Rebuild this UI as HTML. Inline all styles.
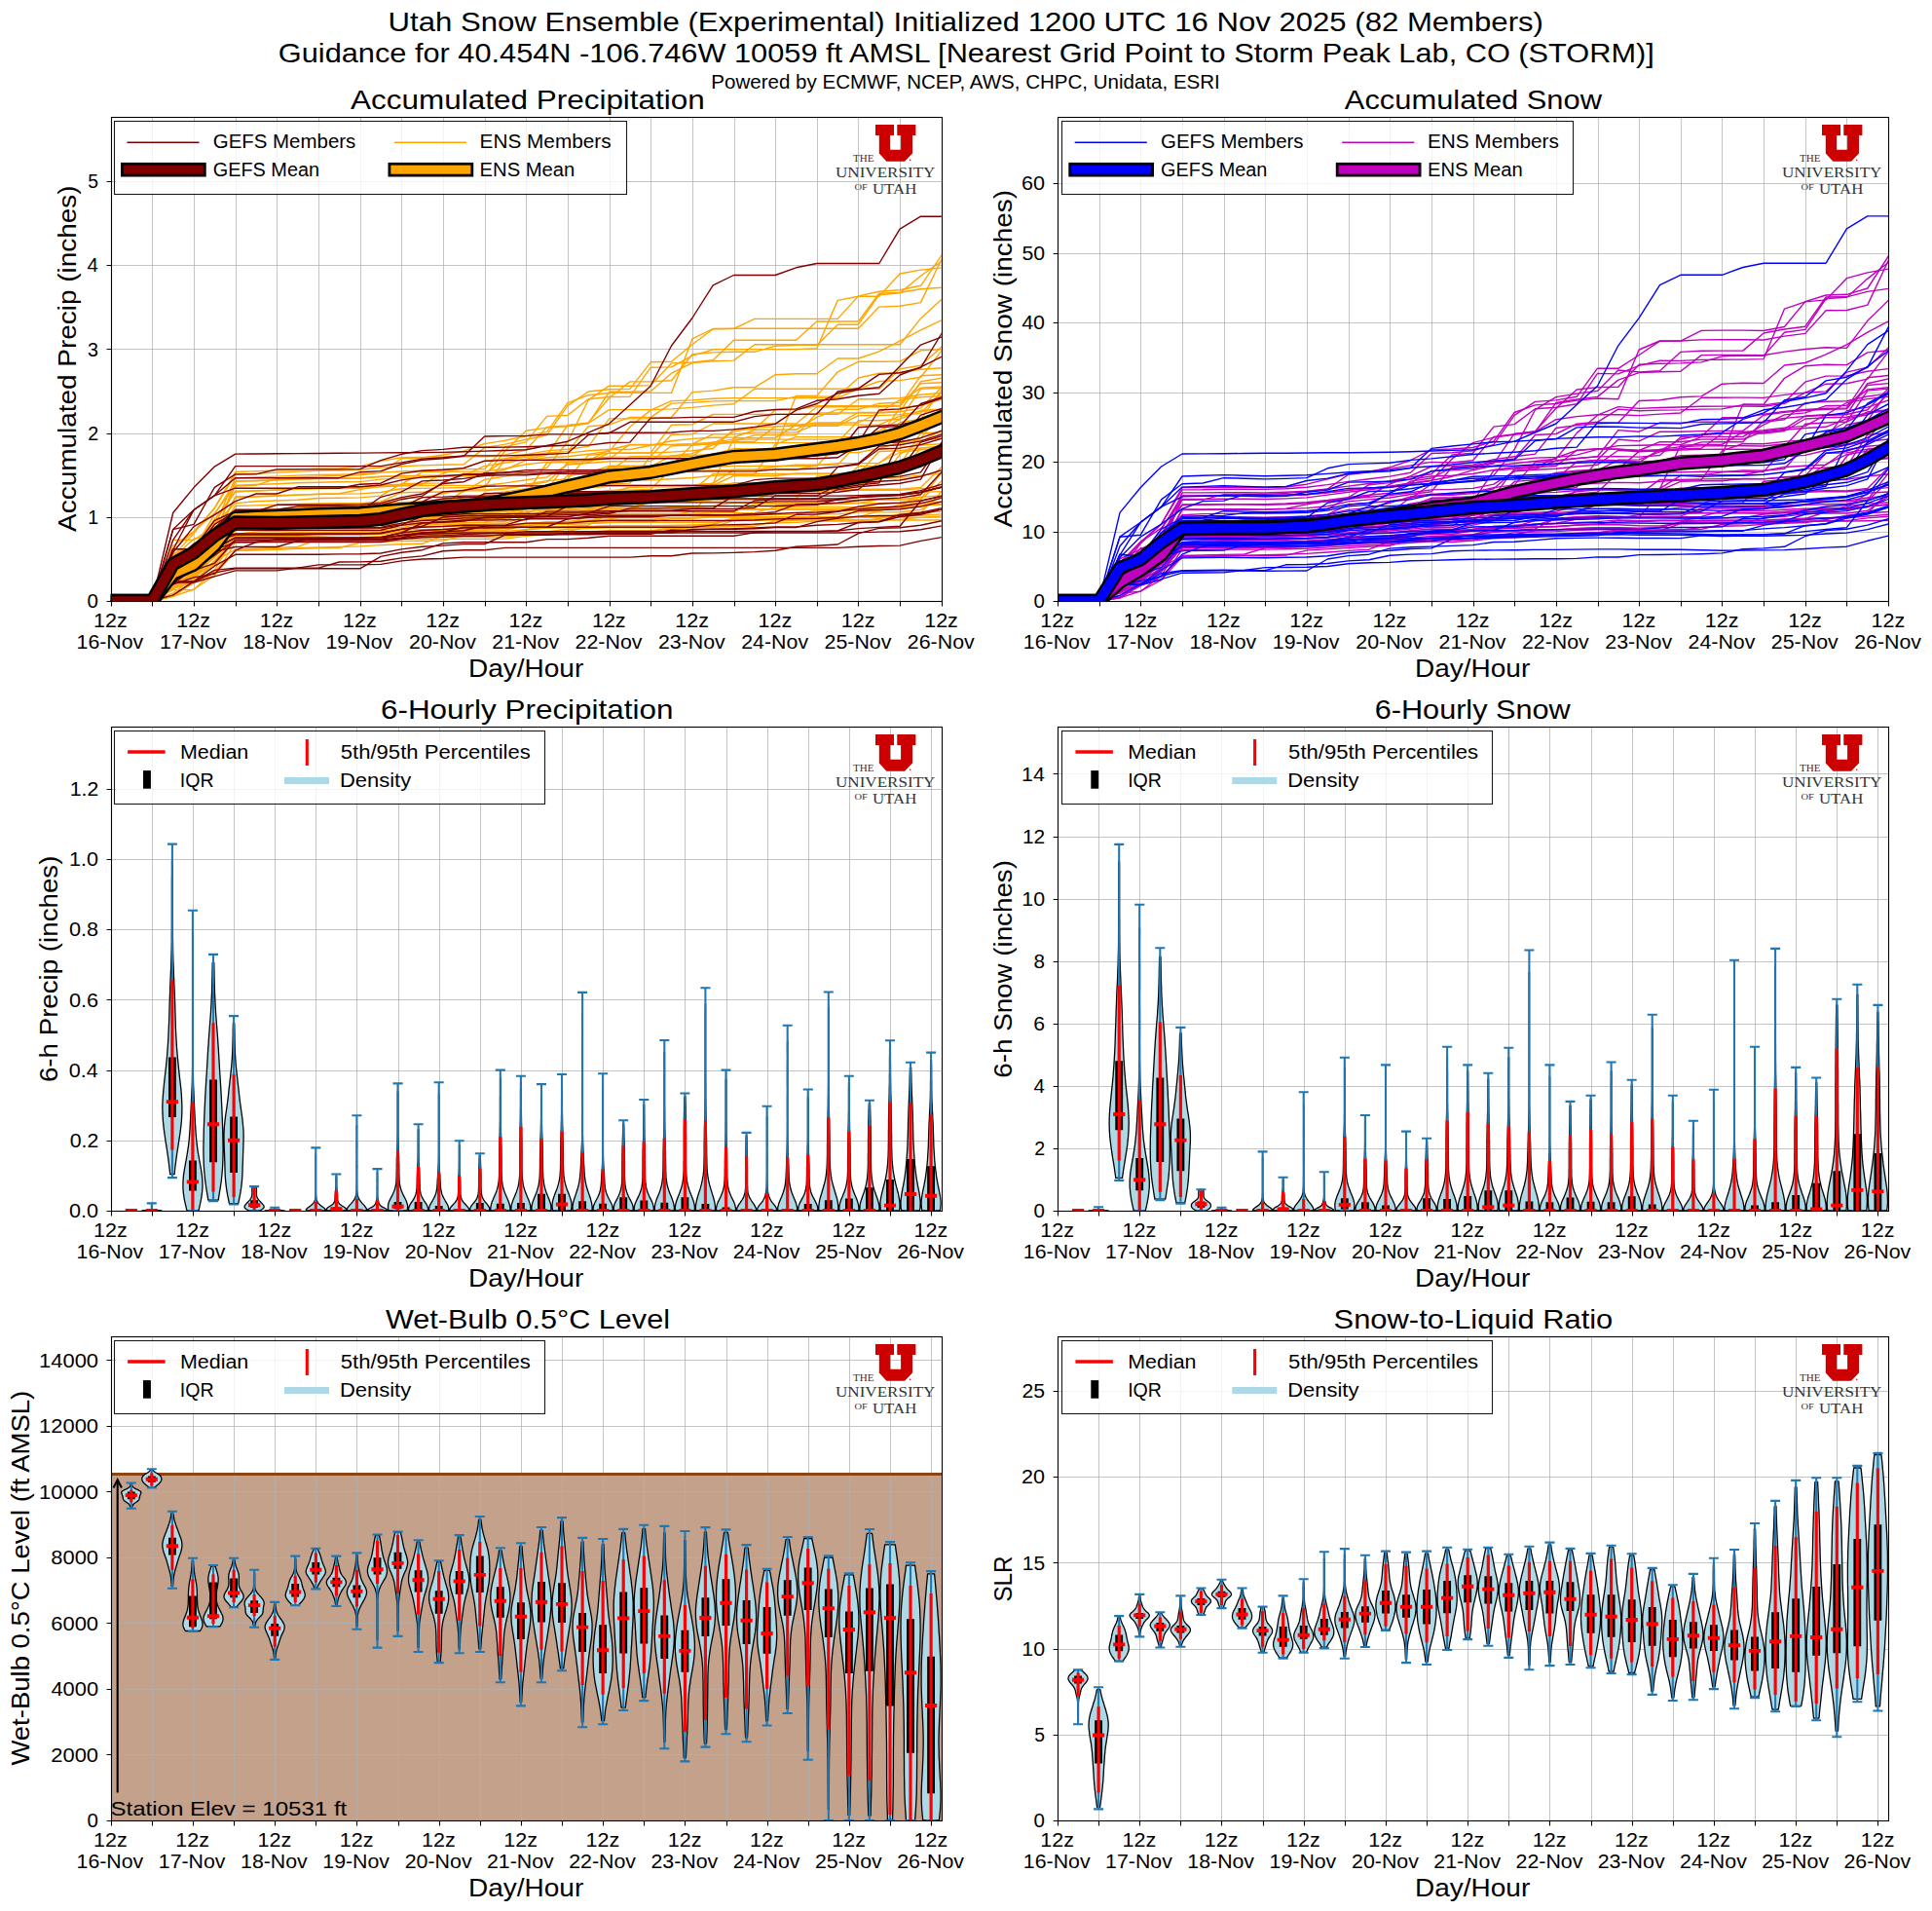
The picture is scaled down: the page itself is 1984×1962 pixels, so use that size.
<!DOCTYPE html>
<html><head><meta charset="utf-8"><title>Utah Snow Ensemble - Storm Peak Lab</title>
<style>html,body{margin:0;padding:0;background:#fff;}svg{display:block;}text{font-family:"Liberation Sans",sans-serif;}</style>
</head><body>
<svg xmlns="http://www.w3.org/2000/svg" width="1984" height="1962" viewBox="0 0 1984 1962" font-family="Liberation Sans, sans-serif">
<defs>
<clipPath id="c00"><rect x="113.7" y="120" width="853.1" height="497"/></clipPath>
<clipPath id="c10"><rect x="1086" y="120" width="853.1" height="497"/></clipPath>
<clipPath id="c01"><rect x="113.7" y="746" width="853.1" height="497"/></clipPath>
<clipPath id="c11"><rect x="1086" y="746" width="853.1" height="497"/></clipPath>
<clipPath id="c02"><rect x="113.7" y="1372" width="853.1" height="497"/></clipPath>
<clipPath id="c12"><rect x="1086" y="1372" width="853.1" height="497"/></clipPath>
<g id="gmemP">
<path d="M113.7 617L135 617L156.4 617L177.7 610.9L199 596.8L220.3 588.1L241.7 583.8L263 583.8L284.3 583.8L305.6 583.8L327 583.8L348.3 583.8L369.6 583.8L391 571.4L412.3 567.2L433.6 564.7L454.9 557.9L476.3 556.7L497.6 556.7L518.9 556.7L540.2 556.7L561.6 553.6L582.9 553.6L604.2 552.3L625.6 550.3L646.9 550.3L668.2 550.3L689.5 550.3L710.9 550.3L732.2 550.3L753.5 550.3L774.9 546.8L796.2 545.6L817.5 545.6L838.8 545.6L860.2 545L881.5 542.6L902.8 541.4L924.1 540.2L945.5 514.2L966.8 509.2"/>
<path d="M113.7 617L135 617L156.4 617L177.7 591.6L199 581L220.3 562.6L241.7 552.4L263 552.4L284.3 552.4L305.6 552.4L327 552.4L348.3 552.4L369.6 552.3L391 551.6L412.3 547.1L433.6 544.5L454.9 543.5L476.3 542L497.6 542L518.9 541.7L540.2 541.4L561.6 541L582.9 532.8L604.2 530.2L625.6 529.2L646.9 529.2L668.2 529.2L689.5 528.9L710.9 528.7L732.2 528.7L753.5 528.5L774.9 527.4L796.2 525.7L817.5 517.9L838.8 517.5L860.2 516.2L881.5 513.7L902.8 512.3L924.1 511.1L945.5 507.8L966.8 484.7"/>
<path d="M113.7 617L135 617L156.4 617L177.7 573.5L199 566.2L220.3 548.2L241.7 527.8L263 527.8L284.3 526.3L305.6 526.3L327 526.3L348.3 526.3L369.6 526.2L391 525.3L412.3 520.9L433.6 510.6L454.9 510.1L476.3 509.1L497.6 509.1L518.9 509.1L540.2 509.1L561.6 509.1L582.9 509.1L604.2 509.1L625.6 509.1L646.9 509.1L668.2 509.1L689.5 509.1L710.9 509.1L732.2 509.1L753.5 509.1L774.9 509.1L796.2 509.1L817.5 509.1L838.8 509.1L860.2 509.1L881.5 508.7L902.8 508L924.1 507.7L945.5 505.3L966.8 500.7"/>
<path d="M113.7 617L135 617L156.4 617L177.7 597.7L199 585.4L220.3 564L241.7 551.9L263 551.9L284.3 551.9L305.6 551.9L327 551.9L348.3 551.9L369.6 551.9L391 551.9L412.3 550L433.6 548.2L454.9 547.8L476.3 547L497.6 547L518.9 547L540.2 547L561.6 547L582.9 547L604.2 547L625.6 547L646.9 547L668.2 547L689.5 547L710.9 547L732.2 547L753.5 547L774.9 547L796.2 547L817.5 547L838.8 547L860.2 547L881.5 546.6L902.8 546.1L924.1 545.7L945.5 543.8L966.8 539.9"/>
<path d="M113.7 617L135 617L156.4 617L177.7 593.3L199 576.7L220.3 552.5L241.7 548L263 548L284.3 548L305.6 548L327 548L348.3 548L369.6 548L391 547.8L412.3 543.1L433.6 540.3L454.9 531L476.3 529.8L497.6 529.8L518.9 529.8L540.2 529.4L561.6 529.1L582.9 528.7L604.2 528.7L625.6 527.3L646.9 521.9L668.2 521.9L689.5 521.9L710.9 521.9L732.2 521.9L753.5 509.2L774.9 508.1L796.2 506.6L817.5 506.6L838.8 506.6L860.2 505.3L881.5 502.5L902.8 486.6L924.1 485.7L945.5 471.3L966.8 465.6"/>
<path d="M113.7 617L135 617L156.4 617L177.7 597L199 597L220.3 581.2L241.7 569.3L263 569.3L284.3 569.3L305.6 569.3L327 569.3L348.3 568.9L369.6 568.8L391 568L412.3 563.9L433.6 561.3L454.9 560.1L476.3 558.6L497.6 558.6L518.9 549.2L540.2 549.2L561.6 549.2L582.9 547.5L604.2 547.5L625.6 547L646.9 547L668.2 547L689.5 547L710.9 543.4L732.2 543.4L753.5 543.4L774.9 542.7L796.2 541.6L817.5 541.6L838.8 535.6L860.2 532.1L881.5 530.1L902.8 529.5L924.1 529.2L945.5 527L966.8 522.9"/>
<path d="M113.7 617L135 617L156.4 617L177.7 563.8L199 563.8L220.3 542.1L241.7 523.3L263 523.3L284.3 523.3L305.6 519.9L327 519.9L348.3 519.9L369.6 519.8L391 518.6L412.3 512.7L433.6 509.1L454.9 495.3L476.3 487L497.6 486.9L518.9 484.9L540.2 484.9L561.6 484.9L582.9 484.9L604.2 484.9L625.6 483.9L646.9 483.9L668.2 481.3L689.5 481.3L710.9 481.1L732.2 475L753.5 474.3L774.9 473L796.2 461L817.5 461L838.8 461L860.2 458.6L881.5 454.7L902.8 421L924.1 419.9L945.5 416L966.8 408.9"/>
<path d="M113.7 617L135 617L156.4 617L177.7 582.1L199 572.4L220.3 554L241.7 544.4L263 544.4L284.3 544.4L305.6 544.4L327 544.4L348.3 544.4L369.6 544.4L391 544.3L412.3 539.4L433.6 536.6L454.9 535.6L476.3 534L497.6 534L518.9 533.8L540.2 533.5L561.6 525.1L582.9 525.1L604.2 525.1L625.6 524.8L646.9 524.8L668.2 524.8L689.5 524.8L710.9 524.8L732.2 524.8L753.5 524.8L774.9 514L796.2 512.5L817.5 512.5L838.8 512.3L860.2 502.6L881.5 499.8L902.8 498L924.1 496.3L945.5 492.1L966.8 454.3"/>
<path d="M113.7 617L135 617L156.4 617L177.7 564.5L199 523.5L220.3 508.8L241.7 501.2L263 501.2L284.3 501.2L305.6 501.2L327 501.2L348.3 501.2L369.6 497.3L391 496.2L412.3 486.1L433.6 483.2L454.9 482.3L476.3 480.6L497.6 473.2L518.9 472.6L540.2 472.4L561.6 472.2L582.9 471.8L604.2 471.8L625.6 470.8L646.9 470.8L668.2 470.8L689.5 470.8L710.9 470.8L732.2 470.8L753.5 470.8L774.9 470.8L796.2 470.8L817.5 470.8L838.8 470.8L860.2 469.8L881.5 456.3L902.8 455L924.1 453.7L945.5 449.6L966.8 442.4"/>
<path d="M113.7 617L135 617L156.4 617L177.7 599.3L199 584.3L220.3 570.2L241.7 554.8L263 554.8L284.3 554.8L305.6 554.8L327 554.8L348.3 554.8L369.6 554.8L391 554.8L412.3 552.8L433.6 550.1L454.9 549.6L476.3 548.6L497.6 547.8L518.9 547.4L540.2 545.6L561.6 545.6L582.9 545.6L604.2 545.6L625.6 545.5L646.9 545.5L668.2 545.5L689.5 545.5L710.9 545.5L732.2 545.5L753.5 545.5L774.9 545.5L796.2 545.5L817.5 545.5L838.8 545.5L860.2 544.9L881.5 536.5L902.8 535.7L924.1 530.5L945.5 528.2L966.8 523.2"/>
<path d="M113.7 617L135 617L156.4 617L177.7 577.6L199 569.1L220.3 547.5L241.7 528.8L263 528.8L284.3 528.8L305.6 528.8L327 528.8L348.3 528.8L369.6 528.8L391 528.8L412.3 525.2L433.6 522.2L454.9 521L476.3 519.1L497.6 506.6L518.9 506.2L540.2 504.7L561.6 504.7L582.9 504.7L604.2 504.7L625.6 504.6L646.9 504.6L668.2 504.6L689.5 504.6L710.9 504.6L732.2 504.6L753.5 504.6L774.9 501.3L796.2 499.8L817.5 499.8L838.8 496.7L860.2 495.4L881.5 492.6L902.8 490.8L924.1 489.1L945.5 484.9L966.8 455.8"/>
<path d="M113.7 617L135 617L156.4 617L177.7 588L199 576.9L220.3 564.2L241.7 556.8L263 556.8L284.3 553.8L305.6 553.8L327 553.8L348.3 553.8L369.6 553.8L391 553.3L412.3 549.2L433.6 546.9L454.9 546L476.3 544.7L497.6 540L518.9 539.7L540.2 537.1L561.6 537.1L582.9 537.1L604.2 535.3L625.6 534.5L646.9 534.5L668.2 534.5L689.5 534.5L710.9 534.5L732.2 534.5L753.5 534.5L774.9 534L796.2 532.9L817.5 532.5L838.8 532.2L860.2 531.2L881.5 524.3L902.8 523.5L924.1 522.8L945.5 520.1L966.8 515.1"/>
<path d="M113.7 617L135 617L156.4 617L177.7 597.4L199 597.4L220.3 585.4L241.7 583.1L263 583.1L284.3 583.1L305.6 583.1L327 583.1L348.3 577L369.6 576.9L391 576.3L412.3 572.9L433.6 570.9L454.9 565.7L476.3 564.8L497.6 564.8L518.9 562.4L540.2 562.4L561.6 562.4L582.9 562.4L604.2 562.4L625.6 562.4L646.9 562.4L668.2 562.4L689.5 562.4L710.9 562.4L732.2 562.4L753.5 562.4L774.9 562.4L796.2 562.4L817.5 562.4L838.8 562.4L860.2 562.4L881.5 561.3L902.8 560.5L924.1 560.1L945.5 555.4L966.8 551.7"/>
<path d="M113.7 617L135 617L156.4 617L177.7 572.9L199 565.5L220.3 543.5L241.7 525.4L263 525.4L284.3 525.4L305.6 525.4L327 525.4L348.3 525.4L369.6 525.4L391 510.3L412.3 504.8L433.6 493.9L454.9 493L476.3 491.4L497.6 488.4L518.9 487.9L540.2 487.9L561.6 486.4L582.9 486.4L604.2 486.4L625.6 485.5L646.9 481.3L668.2 481.3L689.5 481.3L710.9 481.3L732.2 472.8L753.5 472.2L774.9 471L796.2 469L817.5 469L838.8 468L860.2 465.8L881.5 438.8L902.8 437.3L924.1 435.9L945.5 431.6L966.8 424.1"/>
<path d="M113.7 617L135 617L156.4 617L177.7 581L199 572.6L220.3 548.3L241.7 534.2L263 534.2L284.3 534.2L305.6 534.2L327 534.2L348.3 534.2L369.6 534.2L391 534L412.3 529L433.6 517.7L454.9 516.9L476.3 515.3L497.6 515.3L518.9 515.2L540.2 506.1L561.6 506.1L582.9 506.1L604.2 506.1L625.6 505.9L646.9 505.9L668.2 505.9L689.5 505.9L710.9 505.9L732.2 505.9L753.5 505.9L774.9 505.9L796.2 504.6L817.5 504.3L838.8 502.7L860.2 479.6L881.5 476.7L902.8 461L924.1 460.1L945.5 456.6L966.8 450.4"/>
<path d="M113.7 617L135 617L156.4 617L177.7 595.8L199 585.7L220.3 578.3L241.7 554.2L263 554.2L284.3 554.2L305.6 554.2L327 554.2L348.3 554.2L369.6 554.2L391 554.2L412.3 552L433.6 547L454.9 546.3L476.3 541.2L497.6 541.2L518.9 541.2L540.2 541.2L561.6 541.2L582.9 541.2L604.2 541.2L625.6 541.2L646.9 541.2L668.2 541.2L689.5 541.2L710.9 541.2L732.2 539.1L753.5 538.8L774.9 538.1L796.2 536.9L817.5 528.3L838.8 528.1L860.2 525.3L881.5 520.1L902.8 517.2L924.1 516.4L945.5 514.1L966.8 509.7"/>
<path d="M113.7 617L135 617L156.4 617L177.7 584L199 578.1L220.3 556L241.7 549L263 549L284.3 549L305.6 549L327 548.2L348.3 548.1L369.6 547.9L391 547.3L412.3 543.4L433.6 541.2L454.9 540.5L476.3 539.2L497.6 539.2L518.9 539.2L540.2 532.7L561.6 532.7L582.9 532.7L604.2 531.6L625.6 530.7L646.9 530.7L668.2 530.7L689.5 529.2L710.9 529L732.2 529L753.5 529L774.9 528.7L796.2 527.5L817.5 526.4L838.8 526L860.2 525L881.5 522.6L902.8 521.2L924.1 520L945.5 516.8L966.8 511.4"/>
<path d="M113.7 617L135 617L156.4 617L177.7 598L199 598L220.3 591.9L241.7 585.9L263 585.9L284.3 585.9L305.6 583.1L327 579.9L348.3 579.9L369.6 579.9L391 579.4L412.3 575.9L433.6 574L454.9 573.5L476.3 572.1L497.6 572.1L518.9 572.1L540.2 572.1L561.6 572.1L582.9 572.1L604.2 572.1L625.6 572.1L646.9 572.1L668.2 570.7L689.5 570.7L710.9 568L732.2 567.9L753.5 567.4L774.9 566.6L796.2 565.3L817.5 561.2L838.8 560.3L860.2 559L881.5 547.7L902.8 542.4L924.1 541.8L945.5 539.3L966.8 534.8"/>
<path d="M113.7 617L135 617L156.4 617L177.7 583.6L199 576.5L220.3 566.4L241.7 561.5L263 561.5L284.3 561.5L305.6 555.3L327 552.8L348.3 552.6L369.6 552.5L391 551.6L412.3 547L433.6 537L454.9 536.2L476.3 535L497.6 531.3L518.9 530.9L540.2 530.8L561.6 530.8L582.9 530.7L604.2 527L625.6 526L646.9 524.2L668.2 524.2L689.5 524.2L710.9 522.4L732.2 522.4L753.5 522.4L774.9 521.2L796.2 509L817.5 509L838.8 509L860.2 498.1L881.5 495.7L902.8 494.3L924.1 493L945.5 489.2L966.8 482.9"/>
<path d="M113.7 617L135 617L156.4 617L177.7 575.1L199 567.3L220.3 538.4L241.7 525.7L263 525.7L284.3 524.9L305.6 524.9L327 524.9L348.3 524.9L369.6 524L391 523.2L412.3 518.1L433.6 515.1L454.9 504.9L476.3 503.5L497.6 499.3L518.9 498.9L540.2 498.9L561.6 498.9L582.9 498.9L604.2 498.9L625.6 498.4L646.9 498.4L668.2 498.4L689.5 498.4L710.9 498.4L732.2 498.4L753.5 498.4L774.9 492.6L796.2 491.1L817.5 491.1L838.8 491.1L860.2 489.6L881.5 486.5L902.8 484.5L924.1 482.6L945.5 454.1L966.8 447.9"/>
<path d="M113.7 617L135 617L156.4 617L177.7 586.8L199 578.1L220.3 551.4L241.7 542L263 542L284.3 542L305.6 542L327 542L348.3 542L369.6 542L391 542L412.3 538.9L433.6 530.1L454.9 529.2L476.3 527.8L497.6 527.8L518.9 527.8L540.2 527.5L561.6 527.2L582.9 526.9L604.2 526.9L625.6 519.6L646.9 519.6L668.2 519.6L689.5 519.6L710.9 519.6L732.2 519.6L753.5 519.6L774.9 519.6L796.2 519.5L817.5 518.7L838.8 518.4L860.2 512.5L881.5 510.4L902.8 509.3L924.1 508.3L945.5 505.4L966.8 499.9"/>
<path d="M113.7 617L135 617L156.4 617L177.7 543.6L199 538.3L220.3 500.4L241.7 486.9L263 486.9L284.3 481.9L305.6 481.9L327 481.9L348.3 481.9L369.6 481.6L391 472.7L412.3 466.3L433.6 462.6L454.9 461.4L476.3 459.3L497.6 459.3L518.9 459.1L540.2 458.7L561.6 458L582.9 457.3L604.2 457.1L625.6 454.5L646.9 454.1L668.2 429.1L689.5 429.1L710.9 428.4L732.2 428.4L753.5 428.4L774.9 422.5L796.2 420.5L817.5 419.9L838.8 411.3L860.2 409.8L881.5 406.2L902.8 404.3L924.1 385L945.5 376.8L966.8 366.3"/>
<path d="M113.7 617L135 617L156.4 617L177.7 554.4L199 523.5L220.3 508.8L241.7 490.7L263 490.7L284.3 490.7L305.6 490.7L327 490.7L348.3 490.7L369.6 484.7L391 483.6L412.3 476.5L433.6 472.3L454.9 470.7L476.3 468.3L497.6 448L518.9 447.6L540.2 447.6L561.6 445.9L582.9 445.9L604.2 445.9L625.6 444.7L646.9 433.3L668.2 433.3L689.5 433.3L710.9 433.3L732.2 433.3L753.5 433.2L774.9 427.6L796.2 425.4L817.5 425.4L838.8 425L860.2 402L881.5 398.8L902.8 384.4L924.1 382.8L945.5 377.6L966.8 342.6"/>
<path d="M113.7 617L135 617L156.4 617L177.7 563.6L199 563.6L220.3 534.3L241.7 525L263 525L284.3 518.3L305.6 518.3L327 518.3L348.3 518.2L369.6 517.9L391 516.7L412.3 510.6L433.6 507L454.9 496.5L476.3 494.7L497.6 485.7L518.9 485.2L540.2 482.6L561.6 482.6L582.9 482.6L604.2 482.6L625.6 482.1L646.9 482.1L668.2 482.1L689.5 482.1L710.9 482.1L732.2 474.5L753.5 473.7L774.9 472.2L796.2 470.1L817.5 461.1L838.8 460.5L860.2 459.1L881.5 456L902.8 438.6L924.1 437.5L945.5 414.5L966.8 407.9"/>
<path d="M113.7 617L135 617L156.4 617L177.7 584.7L199 572.7L220.3 560.1L241.7 541.8L263 541.8L284.3 541.8L305.6 541.8L327 541.8L348.3 541.8L369.6 541.8L391 541.4L412.3 537.1L433.6 534.5L454.9 533.5L476.3 531.9L497.6 531.9L518.9 531.5L540.2 531L561.6 530.4L582.9 519.4L604.2 519.4L625.6 515.9L646.9 515.9L668.2 515.9L689.5 515.9L710.9 515.9L732.2 515.9L753.5 515.9L774.9 515.9L796.2 514.9L817.5 514.9L838.8 514.7L860.2 513.3L881.5 510.5L902.8 508.9L924.1 507.4L945.5 503.6L966.8 497.4"/>
<path d="M113.7 617L135 617L156.4 617L177.7 543.5L199 523.5L220.3 508.8L241.7 478.6L263 478.6L284.3 478.6L305.6 478.6L327 478.6L348.3 478.6L369.6 478.6L391 478.6L412.3 474.9L433.6 471.1L454.9 469.8L476.3 467.9L497.6 467.9L518.9 467.9L540.2 467.3L561.6 466.4L582.9 465.4L604.2 446.4L625.6 444.2L646.9 444.2L668.2 444.2L689.5 444L710.9 442.4L732.2 442.4L753.5 440.9L774.9 438.4L796.2 435.2L817.5 421.1L838.8 414.5L860.2 403.8L881.5 400L902.8 397.7L924.1 376.1L945.5 354.1L966.8 346.1"/>
<path d="M113.7 617L135 617L156.4 617L177.7 600L199 592.9L220.3 589.1L241.7 565.2L263 556.5L284.3 556.5L305.6 556.5L327 556.5L348.3 556.5L369.6 556.5L391 556.5L412.3 553.6L433.6 551.7L454.9 551.2L476.3 550.3L497.6 550.3L518.9 548.7L540.2 548.7L561.6 548.7L582.9 548.7L604.2 548.7L625.6 548.2L646.9 548.2L668.2 548.2L689.5 544.2L710.9 544L732.2 543.1L753.5 542.8L774.9 542L796.2 541L817.5 541L838.8 539.3L860.2 538.4L881.5 536.5L902.8 535.5L924.1 528.4L945.5 526.1L966.8 521.7"/>
<path d="M113.7 617L135 617L156.4 617L177.7 567.2L199 540.6L220.3 528.7L241.7 514.7L263 507L284.3 507L305.6 499.8L327 499.8L348.3 499.7L369.6 499.7L391 498L412.3 492.9L433.6 489.9L454.9 488.8L476.3 487.2L497.6 487.2L518.9 487.1L540.2 487.1L561.6 485.9L582.9 484.2L604.2 484.2L625.6 483.9L646.9 483.9L668.2 483.9L689.5 483.9L710.9 483.9L732.2 483.9L753.5 483.9L774.9 483.9L796.2 481.9L817.5 481.9L838.8 481L860.2 479.2L881.5 475.9L902.8 458.1L924.1 456.8L945.5 452.9L966.8 446"/>
<path d="M113.7 617L135 617L156.4 617L177.7 576.8L199 558.3L220.3 545L241.7 529.4L263 529.4L284.3 529.4L305.6 529.4L327 529.4L348.3 529.4L369.6 529.4L391 529.4L412.3 524.5L433.6 515.7L454.9 512L476.3 510.5L497.6 510.5L518.9 510.5L540.2 510.5L561.6 506.2L582.9 506.2L604.2 506.2L625.6 505.7L646.9 505.1L668.2 505.1L689.5 505.1L710.9 505.1L732.2 505.1L753.5 505.1L774.9 505.1L796.2 503.4L817.5 503.4L838.8 503.2L860.2 501.4L881.5 498L902.8 495.9L924.1 452.2L945.5 426.1L966.8 419.5"/>
<path d="M113.7 617L135 617L156.4 617L177.7 577L199 564.7L220.3 545.7L241.7 529.3L263 529.3L284.3 529.3L305.6 529.3L327 529.3L348.3 529.3L369.6 529.3L391 529.3L412.3 526.9L433.6 517.6L454.9 514.4L476.3 513.3L497.6 513.3L518.9 513.3L540.2 512.1L561.6 512.1L582.9 512.1L604.2 512.1L625.6 512L646.9 512L668.2 512L689.5 512L710.9 512L732.2 512L753.5 512L774.9 512L796.2 512L817.5 512L838.8 512L860.2 512L881.5 510.6L902.8 509.6L924.1 508.6L945.5 505.5L966.8 500"/>
<path d="M113.7 617L135 617L156.4 617L177.7 526.5L199 500.6L220.3 479.1L241.7 466.1L263 466L284.3 465.8L305.6 465.6L327 465.5L348.3 465.3L369.6 465.1L391 464.9L412.3 464.8L433.6 464.6L454.9 464.4L476.3 463.8L497.6 463.1L518.9 462.5L540.2 461.8L561.6 457.5L582.9 453.2L604.2 444.2L625.6 435.1L646.9 415.7L668.2 396.3L689.5 355L710.9 326.5L732.2 292.9L753.5 282.5L774.9 282.5L796.2 282.5L817.5 274.8L838.8 270.5L860.2 270.5L881.5 270.5L902.8 270.5L924.1 235.1L945.5 222.2L966.8 222.2"/>
</g>
<g id="ememP">
<path d="M113.7 617L135 617L156.4 617L177.7 593.1L199 589.3L220.3 566.7L241.7 542L263 541.4L284.3 540.6L305.6 539.7L327 539.1L348.3 535L369.6 534.8L391 533.5L412.3 532.8L433.6 530.2L454.9 530L476.3 530L497.6 526L518.9 524L540.2 521.3L561.6 519.1L582.9 513.4L604.2 512.2L625.6 508.3L646.9 508.3L668.2 508.3L689.5 508.3L710.9 500.7L732.2 499.7L753.5 499.2L774.9 499.2L796.2 499.2L817.5 499.2L838.8 499.2L860.2 499.1L881.5 478.6L902.8 478.6L924.1 477.2L945.5 444.8L966.8 443.9"/>
<path d="M113.7 617L135 617L156.4 617L177.7 585.5L199 572.6L220.3 555.3L241.7 532L263 529.2L284.3 528.5L305.6 527.7L327 526.6L348.3 526.3L369.6 525.4L391 523L412.3 522.2L433.6 521.8L454.9 516.6L476.3 516.6L497.6 516.6L518.9 515.3L540.2 511.9L561.6 498.2L582.9 497.5L604.2 495.7L625.6 493.7L646.9 493.4L668.2 492.8L689.5 491.8L710.9 490.5L732.2 488.4L753.5 487.2L774.9 487.2L796.2 456.2L817.5 448.6L838.8 448.6L860.2 448.6L881.5 448.6L902.8 448.6L924.1 418.8L945.5 416.4L966.8 410.1"/>
<path d="M113.7 617L135 617L156.4 617L177.7 598.6L199 589.5L220.3 571.6L241.7 550.1L263 549.7L284.3 549.3L305.6 548.7L327 548.4L348.3 548.2L369.6 548.1L391 547.2L412.3 546.7L433.6 546.6L454.9 546.4L476.3 546.4L497.6 544L518.9 542.5L540.2 539.7L561.6 538.2L582.9 538L604.2 537.2L625.6 536.4L646.9 536.4L668.2 536.4L689.5 536.4L710.9 536.4L732.2 536.4L753.5 533.6L774.9 533.6L796.2 533.6L817.5 533.6L838.8 533.6L860.2 533.6L881.5 533.6L902.8 533.6L924.1 533.4L945.5 531.2L966.8 530"/>
<path d="M113.7 617L135 617L156.4 617L177.7 612.4L199 597.6L220.3 576L241.7 564.1L263 563.3L284.3 562.3L305.6 561.4L327 553.5L348.3 553.1L369.6 552.9L391 551.7L412.3 551L433.6 548.1L454.9 547.9L476.3 547.9L497.6 547.9L518.9 546.8L540.2 544.1L561.6 541.8L582.9 540.8L604.2 539.2L625.6 527.5L646.9 527.5L668.2 527.5L689.5 527.5L710.9 527.2L732.2 526.1L753.5 525.7L774.9 517.9L796.2 517.9L817.5 517.9L838.8 517.9L860.2 517.9L881.5 516.6L902.8 516.6L924.1 515.8L945.5 513.1L966.8 494"/>
<path d="M113.7 617L135 617L156.4 617L177.7 560.5L199 545.6L220.3 521.7L241.7 487.3L263 486.4L284.3 485.1L305.6 484.1L327 483.3L348.3 482.8L369.6 482.3L391 480L412.3 478.7L433.6 477.9L454.9 477.2L476.3 476.8L497.6 459.6L518.9 456.1L540.2 451.2L561.6 446.8L582.9 416.6L604.2 402L625.6 399.7L646.9 399.4L668.2 371.8L689.5 371.2L710.9 353.7L732.2 337.7L753.5 337.5L774.9 327.4L796.2 327.4L817.5 327.4L838.8 327.4L860.2 327.4L881.5 303.9L902.8 299.2L924.1 297.8L945.5 293.3L966.8 262.1"/>
<path d="M113.7 617L135 617L156.4 617L177.7 590L199 584L220.3 563.6L241.7 535.9L263 535.5L284.3 534.9L305.6 534.2L327 533.8L348.3 533.6L369.6 533.4L391 531.2L412.3 530.6L433.6 530.2L454.9 529.9L476.3 529.9L497.6 529.9L518.9 528.5L540.2 525.5L561.6 523L582.9 522L604.2 515.7L625.6 514.7L646.9 514.7L668.2 514.7L689.5 513.8L710.9 512.6L732.2 511.8L753.5 511.8L774.9 511.8L796.2 511.8L817.5 511.8L838.8 488.9L860.2 488.9L881.5 488.9L902.8 475L924.1 464.5L945.5 461.8L966.8 460.1"/>
<path d="M113.7 617L135 617L156.4 617L177.7 585.6L199 578.2L220.3 553.6L241.7 528.9L263 528.4L284.3 527.7L305.6 526.9L327 525.7L348.3 524.3L369.6 524.1L391 522.7L412.3 519.9L433.6 519.3L454.9 518.7L476.3 518.4L497.6 518.4L518.9 515.9L540.2 512L561.6 508.4L582.9 488.2L604.2 486.4L625.6 484.5L646.9 468.9L668.2 468.9L689.5 468.9L710.9 468.5L732.2 454.1L753.5 451.1L774.9 451.1L796.2 451.1L817.5 451.1L838.8 451.1L860.2 451.1L881.5 451.1L902.8 442.4L924.1 430.4L945.5 421.3L966.8 420.1"/>
<path d="M113.7 617L135 617L156.4 617L177.7 592.4L199 578.1L220.3 562.1L241.7 539L263 538.3L284.3 537.5L305.6 536.6L327 536L348.3 535.2L369.6 534.5L391 532.7L412.3 531.4L433.6 530.5L454.9 529.6L476.3 529L497.6 507.9L518.9 505.8L540.2 502.9L561.6 500.6L582.9 499.7L604.2 487.9L625.6 481L646.9 481L668.2 481L689.5 481L710.9 475L732.2 473.8L753.5 473.6L774.9 473.6L796.2 473.6L817.5 464.6L838.8 464.6L860.2 464.6L881.5 464.6L902.8 460.3L924.1 454.5L945.5 451.9L966.8 450.4"/>
<path d="M113.7 617L135 617L156.4 617L177.7 581.1L199 572.4L220.3 545.9L241.7 524.7L263 524.1L284.3 523.4L305.6 520.6L327 519.7L348.3 519.4L369.6 518.2L391 516.8L412.3 515.8L433.6 515L454.9 514.2L476.3 513.6L497.6 513.6L518.9 510.6L540.2 506.6L561.6 503.1L582.9 474.4L604.2 472.8L625.6 461.8L646.9 456.8L668.2 456.8L689.5 456.6L710.9 455.8L732.2 454.3L753.5 453.5L774.9 453.5L796.2 437.9L817.5 437.4L838.8 437.4L860.2 437.4L881.5 426.6L902.8 426.6L924.1 425.6L945.5 422.6L966.8 420.8"/>
<path d="M113.7 617L135 617L156.4 617L177.7 564.9L199 545.8L220.3 526.8L241.7 499.1L263 498.2L284.3 491.3L305.6 490L327 489.1L348.3 488.3L369.6 487.7L391 485.2L412.3 470.7L433.6 470.3L454.9 467L476.3 463.1L497.6 455.5L518.9 452.2L540.2 447.6L561.6 443.4L582.9 413.7L604.2 405.7L625.6 403.5L646.9 403.4L668.2 403.4L689.5 403.4L710.9 347.9L732.2 337.5L753.5 337.3L774.9 337.3L796.2 337.3L817.5 337.3L838.8 337.3L860.2 337.3L881.5 337.3L902.8 315.1L924.1 314.2L945.5 310.6L966.8 266.4"/>
<path d="M113.7 617L135 617L156.4 617L177.7 580.2L199 575L220.3 551.6L241.7 519.5L263 518.9L284.3 518.2L305.6 517.5L327 517L348.3 516.7L369.6 516.6L391 515.1L412.3 511.4L433.6 511L454.9 506.9L476.3 502.9L497.6 502.9L518.9 501L540.2 497.1L561.6 493.6L582.9 491.8L604.2 467.4L625.6 465.4L646.9 465.4L668.2 464.8L689.5 436.3L710.9 435.7L732.2 425.5L753.5 425.4L774.9 425.4L796.2 425.4L817.5 425.4L838.8 425.4L860.2 425.4L881.5 409.8L902.8 409.8L924.1 408.8L945.5 405.3L966.8 403.4"/>
<path d="M113.7 617L135 617L156.4 617L177.7 581.1L199 569L220.3 549.9L241.7 494.2L263 493.7L284.3 492.9L305.6 492L327 491.5L348.3 491.2L369.6 491L391 489.5L412.3 488.8L433.6 488.6L454.9 488.5L476.3 488.5L497.6 488.5L518.9 482L540.2 472.6L561.6 469.7L582.9 468.7L604.2 466.2L625.6 463.4L646.9 438.2L668.2 421.1L689.5 411.6L710.9 410.9L732.2 409.2L753.5 408.6L774.9 408.6L796.2 408.6L817.5 408.6L838.8 408.6L860.2 408.6L881.5 399.2L902.8 391.5L924.1 390.6L945.5 387.2L966.8 360.4"/>
<path d="M113.7 617L135 617L156.4 617L177.7 574.3L199 564.2L220.3 528.1L241.7 494.1L263 493.5L284.3 492.7L305.6 491.8L327 491.4L348.3 491L369.6 490.8L391 489.3L412.3 488.6L433.6 488.3L454.9 488.1L476.3 488.1L497.6 478.4L518.9 475.3L540.2 471.2L561.6 467.3L582.9 436.5L604.2 434.5L625.6 420.6L646.9 420.6L668.2 420.6L689.5 419.9L710.9 418.4L732.2 416.1L753.5 414.8L774.9 399.3L796.2 399.3L817.5 399.3L838.8 399.3L860.2 399.3L881.5 399.3L902.8 399.3L924.1 378.7L945.5 375.2L966.8 356.3"/>
<path d="M113.7 617L135 617L156.4 617L177.7 603.5L199 595.7L220.3 580.9L241.7 553.8L263 553.5L284.3 552.9L305.6 552.4L327 552.1L348.3 551.8L369.6 551.7L391 550.7L412.3 550.2L433.6 550.1L454.9 550L476.3 550L497.6 550L518.9 549.7L540.2 547.5L561.6 545.7L582.9 545.4L604.2 541L625.6 539.9L646.9 539.9L668.2 539.9L689.5 539.9L710.9 539.5L732.2 538.4L753.5 532.5L774.9 532.5L796.2 532.5L817.5 532.5L838.8 532.5L860.2 532.5L881.5 531L902.8 530.9L924.1 529.5L945.5 526.4L966.8 505.1"/>
<path d="M113.7 617L135 617L156.4 617L177.7 593.9L199 587.5L220.3 568.6L241.7 542.7L263 542.3L284.3 541L305.6 540.2L327 539.7L348.3 539.3L369.6 538.9L391 533.9L412.3 533.2L433.6 532.8L454.9 532.5L476.3 532.4L497.6 532.4L518.9 530.7L540.2 527.7L561.6 516.5L582.9 512.1L604.2 510.9L625.6 504.1L646.9 504.1L668.2 504.1L689.5 504.1L710.9 504.1L732.2 497.1L753.5 497L774.9 497L796.2 497L817.5 497L838.8 491.8L860.2 491.8L881.5 491.8L902.8 491.8L924.1 473.3L945.5 471L966.8 469.5"/>
<path d="M113.7 617L135 617L156.4 617L177.7 587.1L199 582.4L220.3 558.3L241.7 534.9L263 533.4L284.3 532.8L305.6 532L327 530.3L348.3 530L369.6 529.5L391 527L412.3 526.4L433.6 523.3L454.9 523.1L476.3 519.3L497.6 519.3L518.9 518.2L540.2 515.4L561.6 508.6L582.9 508.1L604.2 506.7L625.6 505.1L646.9 505.1L668.2 504.9L689.5 504.2L710.9 503.2L732.2 486.6L753.5 486.5L774.9 486.5L796.2 486.5L817.5 486.5L838.8 486.5L860.2 486.5L881.5 486.5L902.8 463.5L924.1 462.7L945.5 460L966.8 458.3"/>
<path d="M113.7 617L135 617L156.4 617L177.7 586.2L199 579L220.3 553.7L241.7 534.1L263 531.9L284.3 531L305.6 528.5L327 527.9L348.3 525.6L369.6 525.3L391 523.6L412.3 522.6L433.6 517.1L454.9 516.9L476.3 512.2L497.6 512.2L518.9 510.4L540.2 506.5L561.6 503.2L582.9 501.8L604.2 499.3L625.6 496.8L646.9 496.1L668.2 468.4L689.5 468.3L710.9 467.8L732.2 466.4L753.5 460.6L774.9 460.6L796.2 460.6L817.5 406.4L838.8 406.4L860.2 381.8L881.5 371.3L902.8 371.3L924.1 371.1L945.5 359.8L966.8 358.9"/>
<path d="M113.7 617L135 617L156.4 617L177.7 599.9L199 589.4L220.3 570.9L241.7 543.9L263 543.5L284.3 543L305.6 542.3L327 540.7L348.3 540.5L369.6 540.3L391 539.3L412.3 538.8L433.6 538.5L454.9 538.3L476.3 538.3L497.6 538.3L518.9 537.3L540.2 529.8L561.6 524.1L582.9 523.8L604.2 522.6L625.6 521.5L646.9 521.5L668.2 514.8L689.5 514.8L710.9 514.4L732.2 513.3L753.5 513L774.9 513L796.2 505.2L817.5 505.1L838.8 505.1L860.2 503.3L881.5 503.3L902.8 503.3L924.1 503.3L945.5 501.6L966.8 500.1"/>
<path d="M113.7 617L135 617L156.4 617L177.7 589.2L199 583.4L220.3 563.2L241.7 529.9L263 529.4L284.3 528.6L305.6 527.9L327 527.4L348.3 527.1L369.6 526.9L391 525.4L412.3 524.6L433.6 521.7L454.9 521.5L476.3 518.7L497.6 517.2L518.9 514.9L540.2 511.7L561.6 508.9L582.9 507.9L604.2 505.8L625.6 503.5L646.9 503.1L668.2 502.3L689.5 481.5L710.9 480.8L732.2 479.2L753.5 478.5L774.9 478.5L796.2 478.5L817.5 478.5L838.8 478.5L860.2 455.7L881.5 455.7L902.8 455.7L924.1 433.7L945.5 430.3L966.8 400.5"/>
<path d="M113.7 617L135 617L156.4 617L177.7 582L199 577.7L220.3 554.2L241.7 527.7L263 527.1L284.3 526.3L305.6 525.4L327 521.9L348.3 520.6L369.6 520.4L391 517.1L412.3 516.2L433.6 515.7L454.9 515.1L476.3 514.8L497.6 514.8L518.9 511.8L540.2 507.5L561.6 475.1L582.9 474.5L604.2 472.8L625.6 471L646.9 456.4L668.2 456.4L689.5 456.4L710.9 455.9L732.2 445.9L753.5 445.9L774.9 443.9L796.2 443.9L817.5 443.9L838.8 435.3L860.2 435.3L881.5 423.4L902.8 423.4L924.1 422.7L945.5 419.1L966.8 398"/>
<path d="M113.7 617L135 617L156.4 617L177.7 604.5L199 597.9L220.3 590.9L241.7 565.4L263 564.6L284.3 563.6L305.6 562.7L327 562L348.3 561.4L369.6 560.9L391 559.6L412.3 558.8L433.6 558.3L454.9 549.9L476.3 549.9L497.6 549.9L518.9 549.4L540.2 547.4L561.6 545.9L582.9 543.3L604.2 542.5L625.6 541.7L646.9 541.7L668.2 541.7L689.5 541.7L710.9 541.7L732.2 541.6L753.5 534L774.9 534L796.2 534L817.5 534L838.8 534L860.2 534L881.5 534L902.8 534L924.1 534L945.5 534L966.8 534"/>
<path d="M113.7 617L135 617L156.4 617L177.7 603.5L199 591.4L220.3 577.3L241.7 554.4L263 554L284.3 553.5L305.6 552.9L327 552.6L348.3 552.3L369.6 552.1L391 551.1L412.3 550.5L433.6 548.3L454.9 548.1L476.3 544.2L497.6 543.6L518.9 542L540.2 537.6L561.6 535.9L582.9 535.6L604.2 534.5L625.6 533.5L646.9 533.5L668.2 533.5L689.5 531.4L710.9 531.2L732.2 530.4L753.5 530.4L774.9 528.3L796.2 528.3L817.5 528.3L838.8 524.1L860.2 524.1L881.5 524.1L902.8 524.1L924.1 521L945.5 519.1L966.8 518.2"/>
<path d="M113.7 617L135 617L156.4 617L177.7 587.6L199 573.8L220.3 559.9L241.7 530.2L263 529.7L284.3 528.9L305.6 528.1L327 527.6L348.3 527.2L369.6 526.9L391 525.4L412.3 524.4L433.6 518.5L454.9 514.9L476.3 510.7L497.6 509.8L518.9 507.3L540.2 503.9L561.6 501L582.9 499.8L604.2 497.6L625.6 479.2L646.9 479.2L668.2 479.2L689.5 467.9L710.9 465.7L732.2 456.8L753.5 453L774.9 446.9L796.2 446.9L817.5 446.9L838.8 424L860.2 424L881.5 424L902.8 424L924.1 422.7L945.5 391.8L966.8 388.2"/>
<path d="M113.7 617L135 617L156.4 617L177.7 593.6L199 585.9L220.3 570.3L241.7 536.8L263 536.4L284.3 535.8L305.6 535.2L327 534.9L348.3 534.6L369.6 534.5L391 533.1L412.3 532.6L433.6 532.4L454.9 532.2L476.3 532.2L497.6 528.9L518.9 527.2L540.2 522.6L561.6 520.8L582.9 517.2L604.2 516.1L625.6 515L646.9 515L668.2 515L689.5 515L710.9 514.7L732.2 513.4L753.5 512.7L774.9 500.6L796.2 500.6L817.5 500.6L838.8 497.9L860.2 497.9L881.5 497.9L902.8 491.4L924.1 490.6L945.5 487.9L966.8 486.3"/>
<path d="M113.7 617L135 617L156.4 617L177.7 592.6L199 585.5L220.3 568.6L241.7 544.7L263 542L284.3 541.4L305.6 540.8L327 540.4L348.3 540.1L369.6 539.9L391 538.8L412.3 538.2L433.6 537.9L454.9 535.1L476.3 535.1L497.6 533.4L518.9 531.6L540.2 529.1L561.6 526.9L582.9 526.2L604.2 524.6L625.6 523.2L646.9 523.2L668.2 515.3L689.5 515.1L710.9 514.8L732.2 513.7L753.5 513.4L774.9 513.4L796.2 513.4L817.5 513.4L838.8 513.4L860.2 513.4L881.5 513.4L902.8 513.4L924.1 513.4L945.5 512.1L966.8 485.6"/>
<path d="M113.7 617L135 617L156.4 617L177.7 597.6L199 590.6L220.3 572.2L241.7 548.7L263 547.6L284.3 547.1L305.6 546.5L327 546.2L348.3 546L369.6 545.8L391 544.8L412.3 544.2L433.6 540.3L454.9 540.1L476.3 540.1L497.6 540.1L518.9 539.2L540.2 533.3L561.6 529.6L582.9 527.5L604.2 526.6L625.6 524.1L646.9 524.1L668.2 524.1L689.5 523.8L710.9 523.7L732.2 523L753.5 523L774.9 523L796.2 523L817.5 523L838.8 523L860.2 522.8L881.5 522.1L902.8 522.1L924.1 522L945.5 519.9L966.8 510"/>
<path d="M113.7 617L135 617L156.4 617L177.7 612.4L199 597L220.3 579L241.7 555.1L263 554.7L284.3 554.2L305.6 553.6L327 553.3L348.3 553.1L369.6 553L391 552L412.3 551.5L433.6 551.3L454.9 551.3L476.3 551.3L497.6 551.3L518.9 551L540.2 548.9L561.6 547.3L582.9 547L604.2 546L625.6 545.1L646.9 545.1L668.2 545.1L689.5 541.7L710.9 541.4L732.2 540.5L753.5 540.2L774.9 540.2L796.2 534.8L817.5 534.5L838.8 527.9L860.2 527.9L881.5 525.9L902.8 525.9L924.1 525.7L945.5 523.4L966.8 509.3"/>
<path d="M113.7 617L135 617L156.4 617L177.7 580L199 572.4L220.3 552.8L241.7 524.4L263 523.7L284.3 522.7L305.6 521.6L327 520.9L348.3 517.4L369.6 517.1L391 515.1L412.3 505.7L433.6 505.3L454.9 505L476.3 504.9L497.6 492.4L518.9 489.1L540.2 484.5L561.6 480.4L582.9 453.5L604.2 410.7L625.6 396.2L646.9 396.2L668.2 395.6L689.5 372.9L710.9 372L732.2 369.7L753.5 349.2L774.9 349.2L796.2 349.2L817.5 349.2L838.8 330L860.2 330L881.5 330L902.8 301.2L924.1 300.3L945.5 296.8L966.8 295.3"/>
<path d="M113.7 617L135 617L156.4 617L177.7 608.8L199 593.7L220.3 575.7L241.7 552.4L263 551.9L284.3 551.3L305.6 550.3L327 549.8L348.3 548.2L369.6 548L391 546.7L412.3 545.4L433.6 545.2L454.9 544.3L476.3 544.3L497.6 544.3L518.9 540.7L540.2 538L561.6 535.9L582.9 535.4L604.2 534.2L625.6 532.9L646.9 529.9L668.2 529.6L689.5 529L710.9 527.5L732.2 501L753.5 495.6L774.9 495.6L796.2 495.6L817.5 495.6L838.8 495.6L860.2 495.6L881.5 495.6L902.8 495.6L924.1 466.4L945.5 453.6L966.8 441.9"/>
<path d="M113.7 617L135 617L156.4 617L177.7 568.5L199 561.6L220.3 533.2L241.7 505L263 504.1L284.3 503.1L305.6 502L327 501.3L348.3 500.6L369.6 500.1L391 498.3L412.3 497.2L433.6 484.6L454.9 484.2L476.3 484.1L497.6 484.1L518.9 481L540.2 476.7L561.6 474.4L582.9 472.5L604.2 471L625.6 469.1L646.9 468.9L668.2 468.2L689.5 446.3L710.9 445.9L732.2 435L753.5 435L774.9 435L796.2 435L817.5 435L838.8 417.8L860.2 417.8L881.5 417.8L902.8 417.8L924.1 417L945.5 393.7L966.8 392.8"/>
<path d="M113.7 617L135 617L156.4 617L177.7 583.3L199 570.2L220.3 554.8L241.7 525.3L263 524.8L284.3 524L305.6 523.2L327 522.7L348.3 522.3L369.6 522L391 520.4L412.3 519.4L433.6 518.7L454.9 518L476.3 503.9L497.6 503.9L518.9 502L540.2 498.2L561.6 494.9L582.9 476.5L604.2 474.8L625.6 465L646.9 465L668.2 465L689.5 464.1L710.9 462.8L732.2 460.5L753.5 440.7L774.9 440.7L796.2 420.7L817.5 420.6L838.8 416.8L860.2 416.8L881.5 416.8L902.8 416.8L924.1 416.1L945.5 385.8L966.8 384.7"/>
<path d="M113.7 617L135 617L156.4 617L177.7 572.8L199 553.3L220.3 549.3L241.7 498.2L263 497.5L284.3 496.7L305.6 495.7L327 495.2L348.3 494.8L369.6 494.6L391 492.1L412.3 490.9L433.6 490.2L454.9 489.4L476.3 488.7L497.6 488.7L518.9 462.8L540.2 442.3L561.6 439.1L582.9 437.7L604.2 434.9L625.6 402.3L646.9 402.3L668.2 401.8L689.5 383.2L710.9 372.6L732.2 370.8L753.5 370.1L774.9 353.7L796.2 353.7L817.5 353.7L838.8 353.7L860.2 353.7L881.5 353.7L902.8 353.7L924.1 353.7L945.5 326.9L966.8 307.4"/>
<path d="M113.7 617L135 617L156.4 617L177.7 597.3L199 592.2L220.3 566.9L241.7 548.5L263 546L284.3 545.4L305.6 544.8L327 544.3L348.3 543.9L369.6 543.6L391 542.5L412.3 541.7L433.6 537.1L454.9 536.9L476.3 536.9L497.6 536.1L518.9 531.9L540.2 529.8L561.6 528L582.9 527.6L604.2 523.8L625.6 522.9L646.9 522.9L668.2 522.9L689.5 520.5L710.9 520.3L732.2 519.4L753.5 516.4L774.9 516.4L796.2 516.4L817.5 516.4L838.8 516.4L860.2 516.4L881.5 516.4L902.8 513L924.1 512.4L945.5 510.2L966.8 508.9"/>
<path d="M113.7 617L135 617L156.4 617L177.7 592.6L199 583.3L220.3 562.9L241.7 538.9L263 538.4L284.3 537.1L305.6 536.4L327 534.5L348.3 534.2L369.6 533.1L391 531.9L412.3 531.2L433.6 530.9L454.9 528.1L476.3 528.1L497.6 524.8L518.9 522.7L540.2 520L561.6 517.6L582.9 511.3L604.2 510.1L625.6 505L646.9 500.6L668.2 499.9L689.5 499.9L710.9 499.5L732.2 498.3L753.5 488.5L774.9 488.5L796.2 488.5L817.5 486.1L838.8 486.1L860.2 486.1L881.5 486.1L902.8 486.1L924.1 486.1L945.5 460L966.8 458.6"/>
<path d="M113.7 617L135 617L156.4 617L177.7 583.7L199 576.9L220.3 556.2L241.7 531.7L263 531.2L284.3 530.5L305.6 529.8L327 529.4L348.3 529.1L369.6 528.9L391 527.6L412.3 526.7L433.6 526.2L454.9 521.2L476.3 517.8L497.6 516.4L518.9 514.2L540.2 508L561.6 502.8L582.9 502.3L604.2 500.8L625.6 499.3L646.9 499.3L668.2 499.3L689.5 499.1L710.9 498.1L732.2 496.3L753.5 482.3L774.9 482.3L796.2 479.3L817.5 477.3L838.8 477.3L860.2 477.3L881.5 454.9L902.8 454.9L924.1 453.6L945.5 450.1L966.8 423.8"/>
<path d="M113.7 617L135 617L156.4 617L177.7 595.9L199 593.3L220.3 568.9L241.7 542L263 541.6L284.3 541.1L305.6 540.4L327 540.1L348.3 539.8L369.6 539.7L391 538.6L412.3 538L433.6 536.6L454.9 536.4L476.3 536.4L497.6 536.4L518.9 535.5L540.2 521.7L561.6 519.8L582.9 514.3L604.2 513.2L625.6 509.3L646.9 509.3L668.2 509.3L689.5 509.3L710.9 509.3L732.2 508.9L753.5 508.7L774.9 505.5L796.2 505.5L817.5 502.3L838.8 502.3L860.2 502.3L881.5 502.3L902.8 502.3L924.1 502.3L945.5 500.4L966.8 479.6"/>
<path d="M113.7 617L135 617L156.4 617L177.7 611.4L199 598.6L220.3 586.5L241.7 565.4L263 564.8L284.3 564.2L305.6 563.4L327 562.9L348.3 562.5L369.6 557.1L391 556.1L412.3 555.6L433.6 555.3L454.9 555L476.3 549.8L497.6 549.8L518.9 549L540.2 543.8L561.6 538.6L582.9 538.4L604.2 537.5L625.6 536.6L646.9 535.9L668.2 535.9L689.5 532.4L710.9 532.2L732.2 530.9L753.5 530.9L774.9 530.9L796.2 530.9L817.5 530.9L838.8 530.9L860.2 530.9L881.5 530.9L902.8 524.6L924.1 518.2L945.5 516.3L966.8 515.3"/>
<path d="M113.7 617L135 617L156.4 617L177.7 571.1L199 547.6L220.3 521.8L241.7 484.5L263 483.8L284.3 482.9L305.6 481.9L327 481.3L348.3 480.9L369.6 478.8L391 473.4L412.3 469.8L433.6 469.4L454.9 468.9L476.3 468.9L497.6 468.9L518.9 466.9L540.2 462L561.6 438.4L582.9 437L604.2 433.9L625.6 408.5L646.9 391.9L668.2 391.7L689.5 390.7L710.9 363.8L732.2 361.9L753.5 361.3L774.9 361.3L796.2 355.2L817.5 354.4L838.8 354.4L860.2 333.2L881.5 333.2L902.8 302.7L924.1 300.9L945.5 283.3L966.8 268.3"/>
<path d="M113.7 617L135 617L156.4 617L177.7 571.3L199 560.8L220.3 536.3L241.7 504.3L263 503.7L284.3 503L305.6 502.2L327 501.8L348.3 501.5L369.6 501.3L391 499.8L412.3 498.7L433.6 498.5L454.9 498.4L476.3 498.4L497.6 498.4L518.9 495.9L540.2 492.7L561.6 489.9L582.9 477L604.2 475.5L625.6 473.8L646.9 473.8L668.2 473.5L689.5 457.7L710.9 457.1L732.2 455.6L753.5 454.6L774.9 454.6L796.2 454.6L817.5 454.6L838.8 454.6L860.2 454.2L881.5 431.8L902.8 431.8L924.1 430.3L945.5 399.3L966.8 398.3"/>
<path d="M113.7 617L135 617L156.4 617L177.7 554.4L199 554.4L220.3 540.7L241.7 490.7L263 490L284.3 489.1L305.6 488.1L327 487.5L348.3 487.1L369.6 486.8L391 485.1L412.3 484L433.6 483.2L454.9 482.3L476.3 481.6L497.6 481.6L518.9 458.6L540.2 453.9L561.6 427.4L582.9 426.4L604.2 409.7L625.6 407.5L646.9 407.3L668.2 377.2L689.5 376.9L710.9 365.1L732.2 358.8L753.5 358.6L774.9 358.6L796.2 358.6L817.5 358.6L838.8 357.7L860.2 308.4L881.5 304.2L902.8 304.2L924.1 281L945.5 277.1L966.8 274.9"/>
<path d="M113.7 617L135 617L156.4 617L177.7 575.1L199 571.1L220.3 553.2L241.7 510.7L263 510.1L284.3 509.3L305.6 508.4L327 507.3L348.3 506.8L369.6 502.6L391 499.1L412.3 498.1L433.6 497.3L454.9 486L476.3 480.2L497.6 473.6L518.9 470.8L540.2 466.6L561.6 462.9L582.9 461.3L604.2 458.4L625.6 429.9L646.9 429.9L668.2 429.8L689.5 428.5L710.9 402.6L732.2 401.1L753.5 397.8L774.9 397.8L796.2 384.7L817.5 383.7L838.8 383.7L860.2 368L881.5 368L902.8 360.9L924.1 350.2L945.5 338.9L966.8 328.9"/>
<path d="M113.7 617L135 617L156.4 617L177.7 584.6L199 574.2L220.3 554.3L241.7 524.4L263 523.8L284.3 523.1L305.6 522.4L327 521.9L348.3 521.6L369.6 521.3L391 519.9L412.3 518.9L433.6 518.4L454.9 513.3L476.3 513.3L497.6 507.2L518.9 504.9L540.2 501.7L561.6 498.9L582.9 498L604.2 485.6L625.6 478.3L646.9 478.3L668.2 478.3L689.5 477.5L710.9 456.8L732.2 455.6L753.5 443.1L774.9 439.1L796.2 437.9L817.5 436.4L838.8 434L860.2 434L881.5 434L902.8 423.5L924.1 410.6L945.5 407.8L966.8 406.6"/>
<path d="M113.7 617L135 617L156.4 617L177.7 602.3L199 592.7L220.3 570.8L241.7 554.4L263 551.1L284.3 550.6L305.6 550L327 549.7L348.3 549.4L369.6 549.3L391 548.2L412.3 547.6L433.6 545.4L454.9 545.2L476.3 545.2L497.6 545.2L518.9 544.3L540.2 539.2L561.6 537.4L582.9 536.9L604.2 530.4L625.6 529.4L646.9 529.4L668.2 529.4L689.5 529.4L710.9 524.8L732.2 524L753.5 522.7L774.9 522.7L796.2 522.7L817.5 522.7L838.8 522.7L860.2 522.7L881.5 522.7L902.8 520.6L924.1 520L945.5 505.3L966.8 504.6"/>
<path d="M113.7 617L135 617L156.4 617L177.7 605.6L199 605.5L220.3 585.5L241.7 549.3L263 549L284.3 548.5L305.6 548L327 547.7L348.3 547.5L369.6 547.3L391 546.4L412.3 546L433.6 545.8L454.9 545.8L476.3 545.8L497.6 545.8L518.9 545.5L540.2 543.6L561.6 542L582.9 541.7L604.2 540.8L625.6 539.8L646.9 539.8L668.2 539.8L689.5 539.5L710.9 538.9L732.2 537.9L753.5 532L774.9 530.6L796.2 530.6L817.5 530.6L838.8 530.6L860.2 530.6L881.5 530.6L902.8 530.6L924.1 530.6L945.5 529.3L966.8 527.9"/>
<path d="M113.7 617L135 617L156.4 617L177.7 600.7L199 587.9L220.3 571.6L241.7 540.5L263 540.1L284.3 539.5L305.6 538.9L327 538.5L348.3 538.2L369.6 537.9L391 536.7L412.3 533.9L433.6 533.6L454.9 533.4L476.3 533.4L497.6 530.7L518.9 528.6L540.2 525.2L561.6 523.2L582.9 522.7L604.2 521.5L625.6 520.2L646.9 515.6L668.2 515.6L689.5 515.1L710.9 514.3L732.2 505L753.5 504.7L774.9 497.2L796.2 496.6L817.5 496.6L838.8 496.6L860.2 496.6L881.5 493.6L902.8 488.3L924.1 487.4L945.5 471.2L966.8 470.2"/>
<path d="M113.7 617L135 617L156.4 617L177.7 592.2L199 584.5L220.3 567.6L241.7 542.6L263 539.9L284.3 538.9L305.6 537.9L327 537.2L348.3 536.6L369.6 536.1L391 528.7L412.3 528L433.6 527.7L454.9 527.3L476.3 527.3L497.6 527.3L518.9 525.6L540.2 522.2L561.6 519.3L582.9 518.1L604.2 516.1L625.6 514L646.9 498.5L668.2 498.5L689.5 498.5L710.9 498L732.2 496.5L753.5 449.6L774.9 449.6L796.2 449.6L817.5 436.1L838.8 436.1L860.2 436.1L881.5 436.1L902.8 436.1L924.1 427.2L945.5 424.1L966.8 403.5"/>
<path d="M113.7 617L135 617L156.4 617L177.7 579.6L199 566.7L220.3 538.5L241.7 516.6L263 514.8L284.3 514L305.6 513.2L327 511.5L348.3 511.2L369.6 510.9L391 509.1L412.3 496.7L433.6 496.3L454.9 495.9L476.3 486.1L497.6 486.1L518.9 472.3L540.2 469.1L561.6 466.3L582.9 465.1L604.2 462.7L625.6 461.5L646.9 461.5L668.2 457.3L689.5 452.8L710.9 450.4L732.2 449.2L753.5 449L774.9 441.3L796.2 441.3L817.5 441.3L838.8 428.3L860.2 420.4L881.5 420.3L902.8 414.2L924.1 413.3L945.5 398.1L966.8 396.9"/>
<path d="M113.7 617L135 617L156.4 617L177.7 589.2L199 579.3L220.3 564.3L241.7 534.8L263 534.3L284.3 533.6L305.6 532.8L327 532.3L348.3 531.8L369.6 531.5L391 525.3L412.3 524.6L433.6 524.3L454.9 523.9L476.3 523.8L497.6 516.5L518.9 510.1L540.2 506.6L561.6 503.3L582.9 497.9L604.2 495.3L625.6 494L646.9 489.5L668.2 486.9L689.5 484.1L710.9 483.8L732.2 482.6L753.5 482.2L774.9 482.2L796.2 482.2L817.5 482.2L838.8 477.6L860.2 475.6L881.5 475.6L902.8 475.6L924.1 459.4L945.5 457L966.8 455.8"/>
<path d="M113.7 617L135 617L156.4 617L177.7 612.4L199 605L220.3 591L241.7 557L263 556.6L284.3 556.1L305.6 555.6L327 555.3L348.3 555.1L369.6 555L391 554L412.3 553.6L433.6 553.4L454.9 553.4L476.3 553.4L497.6 553.4L518.9 553.1L540.2 550.4L561.6 548.8L582.9 548.5L604.2 547.1L625.6 544.9L646.9 544.9L668.2 544.9L689.5 543.3L710.9 541.4L732.2 540.7L753.5 540.6L774.9 538.3L796.2 537L817.5 536.4L838.8 535L860.2 535L881.5 535L902.8 532.5L924.1 527.8L945.5 526L966.8 525.2"/>
<path d="M113.7 617L135 617L156.4 617L177.7 598.7L199 589.9L220.3 571.2L241.7 550.3L263 549.8L284.3 549.2L305.6 548.6L327 546.7L348.3 546.5L369.6 546.3L391 545.3L412.3 543.8L433.6 543.6L454.9 543.4L476.3 543.4L497.6 542.8L518.9 541.1L540.2 539L561.6 537.2L582.9 536.7L604.2 535.4L625.6 528L646.9 528L668.2 528L689.5 528L710.9 527.9L732.2 526.9L753.5 526.6L774.9 526.6L796.2 520.6L817.5 520.6L838.8 520.6L860.2 520.6L881.5 520.6L902.8 520.6L924.1 520.6L945.5 519L966.8 517.3"/>
<path d="M113.7 617L135 617L156.4 617L177.7 573.8L199 559.7L220.3 550.3L241.7 510L263 509.5L284.3 508.7L305.6 507.9L327 507.5L348.3 507.1L369.6 506.9L391 505.5L412.3 501.8L433.6 501.4L454.9 501.1L476.3 500.5L497.6 500.5L518.9 471.6L540.2 468L561.6 464.9L582.9 463.6L604.2 437.8L625.6 436.1L646.9 428.4L668.2 428.4L689.5 414.1L710.9 413.4L732.2 411.9L753.5 411.6L774.9 411.6L796.2 411.6L817.5 407.1L838.8 407.1L860.2 407.1L881.5 388L902.8 383.3L924.1 382.6L945.5 379.2L966.8 377.7"/>
</g>
<path id="emeanP" d="M113.7 617L135 617L156.4 617L177.7 589L199 579.6L220.3 560.1L241.7 531.7L263 530.8L284.3 529.9L305.6 529.1L327 528.2L348.3 527.6L369.6 527.1L391 525.2L412.3 523.5L433.6 522.2L454.9 520.9L476.3 519.6L497.6 517.9L518.9 513.6L540.2 509.2L561.6 504.5L582.9 499.3L604.2 494.6L625.6 489.4L646.9 487.3L668.2 484.8L689.5 480.8L710.9 476.5L732.2 472.6L753.5 469L774.9 467.9L796.2 466.6L817.5 463.9L838.8 461.2L860.2 458.4L881.5 454.9L902.8 450.6L924.1 445L945.5 436.8L966.8 428.2"/>
<path id="gmeanP" d="M113.7 617L135 617L156.4 617L177.7 579.1L199 567.5L220.3 549.8L241.7 536.5L263 536.7L284.3 536.8L305.6 536.4L327 536L348.3 535.5L369.6 534.9L391 533L412.3 528.2L433.6 523.9L454.9 521.3L476.3 519.6L497.6 518L518.9 517L540.2 516.1L561.6 515.3L582.9 514.4L604.2 513.6L625.6 511.8L646.9 511L668.2 510.1L689.5 508.6L710.9 507.1L732.2 505.8L753.5 504.4L774.9 502.4L796.2 500.2L817.5 498.9L838.8 497.4L860.2 493.7L881.5 489.4L902.8 484.7L924.1 479.7L945.5 472.2L966.8 463.4"/>
<g id="gmemS">
<path d="M1086 617L1107.3 617L1128.7 617L1150 611.5L1171.3 599.5L1192.6 591.2L1214 586.3L1235.3 586.1L1256.6 585.9L1277.9 586.1L1299.3 586.2L1320.6 586.1L1341.9 586L1363.3 574L1384.6 570.6L1405.9 569.2L1427.2 563.1L1448.6 561.7L1469.9 561.1L1491.2 560.4L1512.5 559.6L1533.9 556.5L1555.2 556.3L1576.5 554.6L1597.9 552.7L1619.2 552.4L1640.5 552.1L1661.8 552.2L1683.2 552.5L1704.5 552.5L1725.8 552.6L1747.2 549.7L1768.5 549.2L1789.8 549L1811.1 548.9L1832.5 547.9L1853.8 545.6L1875.1 543.5L1896.4 541.7L1917.8 514L1939.1 506.6"/>
<path d="M1086 617L1107.3 617L1128.7 617L1150 594.2L1171.3 586L1192.6 568.4L1214 557.2L1235.3 556.9L1256.6 556.6L1277.9 556.8L1299.3 557.2L1320.6 556.9L1341.9 556.6L1363.3 555.2L1384.6 551.9L1405.9 550.8L1427.2 550L1448.6 548.2L1469.9 547.5L1491.2 546.3L1512.5 545.1L1533.9 544.5L1555.2 536.4L1576.5 533.3L1597.9 532.4L1619.2 531.9L1640.5 531.5L1661.8 531.3L1683.2 531.5L1704.5 531.6L1725.8 531.6L1747.2 531.1L1768.5 530.2L1789.8 522.6L1811.1 522L1832.5 520.3L1853.8 517.8L1875.1 515.2L1896.4 513.1L1917.8 507.6L1939.1 481.5"/>
<path d="M1086 617L1107.3 617L1128.7 617L1150 577.9L1171.3 573.2L1192.6 555.6L1214 534.5L1235.3 534L1256.6 532.1L1277.9 532.5L1299.3 533L1320.6 532.6L1341.9 532.3L1363.3 530.5L1384.6 527.5L1405.9 519.8L1427.2 519.6L1448.6 518.1L1469.9 517.1L1491.2 515.8L1512.5 514.4L1533.9 514.1L1555.2 513.8L1576.5 513L1597.9 513L1619.2 512.5L1640.5 511.9L1661.8 512.1L1683.2 512.6L1704.5 512.7L1725.8 512.9L1747.2 513.7L1768.5 514.5L1789.8 514.2L1811.1 514.1L1832.5 513.5L1853.8 513L1875.1 511.1L1896.4 509.7L1917.8 505.1L1939.1 497.9"/>
<path d="M1086 617L1107.3 617L1128.7 617L1150 599.7L1171.3 589.7L1192.6 569.7L1214 556.8L1235.3 556.4L1256.6 556.1L1277.9 556.4L1299.3 556.7L1320.6 556.4L1341.9 556.2L1363.3 555.5L1384.6 554.6L1405.9 554.2L1427.2 553.9L1448.6 552.8L1469.9 552.1L1491.2 551.3L1512.5 550.4L1533.9 550.2L1555.2 550L1576.5 549.5L1597.9 549.5L1619.2 549.1L1640.5 548.8L1661.8 548.9L1683.2 549.2L1704.5 549.3L1725.8 549.4L1747.2 549.9L1768.5 550.5L1789.8 550.3L1811.1 550.2L1832.5 549.8L1853.8 549.4L1875.1 548L1896.4 547.1L1917.8 543.6L1939.1 538"/>
<path d="M1086 617L1107.3 617L1128.7 617L1150 595.8L1171.3 582.2L1192.6 559.5L1214 553.2L1235.3 552.8L1256.6 552.5L1277.9 552.8L1299.3 553.1L1320.6 552.8L1341.9 552.6L1363.3 551.7L1384.6 548.1L1405.9 546.9L1427.2 538.7L1448.6 537.1L1469.9 536.2L1491.2 535.2L1512.5 533.7L1533.9 533.1L1555.2 532.5L1576.5 531.8L1597.9 530.5L1619.2 524.8L1640.5 524.4L1661.8 524.5L1683.2 524.9L1704.5 525L1725.8 512.9L1747.2 512.7L1768.5 512.1L1789.8 511.8L1811.1 511.7L1832.5 509.8L1853.8 507L1875.1 490.2L1896.4 488.1L1917.8 471L1939.1 461.9"/>
<path d="M1086 617L1107.3 617L1128.7 617L1150 599.1L1171.3 599.8L1192.6 585L1214 572.9L1235.3 572.6L1256.6 572.4L1277.9 572.6L1299.3 572.8L1320.6 572.3L1341.9 572L1363.3 570.8L1384.6 567.5L1405.9 566.1L1427.2 565.2L1448.6 563.5L1469.9 562.9L1491.2 553.3L1512.5 552.5L1533.9 552.3L1555.2 550.5L1576.5 549.9L1597.9 549.5L1619.2 549.1L1640.5 548.8L1661.8 548.9L1683.2 545.7L1704.5 545.8L1725.8 545.9L1747.2 545.8L1768.5 545.4L1789.8 545.2L1811.1 539.4L1832.5 535.5L1853.8 533.6L1875.1 532L1896.4 530.8L1917.8 526.9L1939.1 520.6"/>
<path d="M1086 617L1107.3 617L1128.7 617L1150 569.2L1171.3 571.1L1192.6 550.1L1214 530.3L1235.3 529.8L1256.6 529.4L1277.9 526.6L1299.3 527L1320.6 526.7L1341.9 526.2L1363.3 524.1L1384.6 519.9L1405.9 518.4L1427.2 506.1L1448.6 497.7L1469.9 496.4L1491.2 493L1512.5 491.3L1533.9 490.9L1555.2 490.6L1576.5 489.6L1597.9 488.6L1619.2 488L1640.5 484.8L1661.8 485L1683.2 485.4L1704.5 479.7L1725.8 479.2L1747.2 479L1768.5 468.7L1789.8 468.3L1811.1 468.1L1832.5 465.1L1853.8 461.1L1875.1 426.4L1896.4 423.7L1917.8 415.7L1939.1 403.9"/>
<path d="M1086 617L1107.3 617L1128.7 617L1150 585.7L1171.3 578.6L1192.6 560.7L1214 549.9L1235.3 549.5L1256.6 549.1L1277.9 549.4L1299.3 549.8L1320.6 549.5L1341.9 549.3L1363.3 548.4L1384.6 544.7L1405.9 543.5L1427.2 542.8L1448.6 540.8L1469.9 540L1491.2 539L1512.5 537.6L1533.9 529.3L1555.2 529.1L1576.5 528.3L1597.9 528.1L1619.2 527.6L1640.5 527.2L1661.8 527.3L1683.2 527.7L1704.5 527.8L1725.8 527.9L1747.2 518.3L1768.5 517.7L1789.8 517.4L1811.1 517.1L1832.5 507.2L1853.8 504.5L1875.1 501.3L1896.4 498.6L1917.8 491.9L1939.1 450.4"/>
<path d="M1086 617L1107.3 617L1128.7 617L1150 569.9L1171.3 536.3L1192.6 520.4L1214 509.9L1235.3 509.2L1256.6 508.7L1277.9 509.2L1299.3 509.7L1320.6 509.3L1341.9 505.2L1363.3 503L1384.6 495.1L1405.9 494.8L1427.2 494.2L1448.6 491.9L1469.9 483.8L1491.2 481.5L1512.5 479.5L1533.9 478.8L1555.2 478.1L1576.5 477L1597.9 476L1619.2 475.3L1640.5 474.6L1661.8 474.8L1683.2 475.5L1704.5 475.6L1725.8 475.9L1747.2 476.9L1768.5 478.1L1789.8 477.7L1811.1 477.6L1832.5 475.8L1853.8 462.7L1875.1 459.5L1896.4 456.8L1917.8 449.3L1939.1 438.2"/>
<path d="M1086 617L1107.3 617L1128.7 617L1150 601.1L1171.3 588.8L1192.6 575.2L1214 559.4L1235.3 559.1L1256.6 558.8L1277.9 559L1299.3 559.4L1320.6 559.1L1341.9 558.9L1363.3 558.3L1384.6 557.2L1405.9 555.9L1427.2 555.6L1448.6 554.2L1469.9 552.8L1491.2 551.7L1512.5 549.1L1533.9 548.9L1555.2 548.7L1576.5 548.2L1597.9 548.1L1619.2 547.7L1640.5 547.3L1661.8 547.4L1683.2 547.8L1704.5 547.8L1725.8 548L1747.2 548.5L1768.5 549.1L1789.8 548.9L1811.1 548.8L1832.5 547.8L1853.8 539.7L1875.1 538L1896.4 532.1L1917.8 528L1939.1 521"/>
<path d="M1086 617L1107.3 617L1128.7 617L1150 581.7L1171.3 575.7L1192.6 555L1214 535.4L1235.3 534.9L1256.6 534.5L1277.9 534.8L1299.3 535.3L1320.6 534.9L1341.9 534.6L1363.3 533.7L1384.6 531.5L1405.9 530.4L1427.2 529.5L1448.6 527.3L1469.9 514.7L1491.2 513L1512.5 510.2L1533.9 509.8L1555.2 509.5L1576.5 508.6L1597.9 508.6L1619.2 508L1640.5 507.5L1661.8 507.6L1683.2 508.1L1704.5 508.3L1725.8 508.4L1747.2 506.1L1768.5 505.6L1789.8 505.2L1811.1 502.3L1832.5 500.3L1853.8 497.5L1875.1 494.3L1896.4 491.6L1917.8 484.7L1939.1 451.9"/>
<path d="M1086 617L1107.3 617L1128.7 617L1150 591L1171.3 582.4L1192.6 569.8L1214 561.3L1235.3 561L1256.6 557.9L1277.9 558.2L1299.3 558.5L1320.6 558.2L1341.9 558L1363.3 556.8L1384.6 553.9L1405.9 552.9L1427.2 552.3L1448.6 550.7L1469.9 545.7L1491.2 544.4L1512.5 541L1533.9 540.7L1555.2 540.5L1576.5 538.2L1597.9 537.4L1619.2 537L1640.5 536.6L1661.8 536.7L1683.2 537.1L1704.5 537.2L1725.8 537.3L1747.2 537.5L1768.5 537.1L1789.8 536.4L1811.1 536.1L1832.5 534.7L1853.8 528L1875.1 526.1L1896.4 524.6L1917.8 519.9L1939.1 512.6"/>
<path d="M1086 617L1107.3 617L1128.7 617L1150 599.4L1171.3 600.1L1192.6 588.7L1214 585.7L1235.3 585.5L1256.6 585.3L1277.9 585.5L1299.3 585.6L1320.6 579.8L1341.9 579.5L1363.3 578.5L1384.6 575.9L1405.9 574.8L1427.2 570.2L1448.6 569.1L1469.9 568.6L1491.2 565.8L1512.5 565.1L1533.9 564.9L1555.2 564.8L1576.5 564.4L1597.9 564.4L1619.2 564.1L1640.5 563.9L1661.8 563.9L1683.2 564.2L1704.5 564.2L1725.8 564.3L1747.2 564.7L1768.5 565.2L1789.8 565L1811.1 564.9L1832.5 564.6L1853.8 563.5L1875.1 562.1L1896.4 561.2L1917.8 555.3L1939.1 550.1"/>
<path d="M1086 617L1107.3 617L1128.7 617L1150 577.5L1171.3 572.6L1192.6 551.4L1214 532.3L1235.3 531.8L1256.6 531.3L1277.9 531.7L1299.3 532.2L1320.6 531.8L1341.9 531.5L1363.3 516.3L1384.6 512.5L1405.9 504.5L1427.2 504L1448.6 501.8L1469.9 497.9L1491.2 495.8L1512.5 494.2L1533.9 492.4L1555.2 492L1576.5 491L1597.9 490.2L1619.2 485.4L1640.5 484.8L1661.8 485L1683.2 485.6L1704.5 477.5L1725.8 477.2L1747.2 477.1L1768.5 476.3L1789.8 475.9L1811.1 474.8L1832.5 471.9L1853.8 445.9L1875.1 442.3L1896.4 439.3L1917.8 431.3L1939.1 419.5"/>
<path d="M1086 617L1107.3 617L1128.7 617L1150 584.7L1171.3 578.7L1192.6 555.6L1214 540.4L1235.3 540L1256.6 539.6L1277.9 539.9L1299.3 540.3L1320.6 540L1341.9 539.7L1363.3 538.7L1384.6 535L1405.9 526.3L1427.2 525.7L1448.6 523.7L1469.9 522.8L1491.2 521.5L1512.5 511.5L1533.9 511.2L1555.2 510.9L1576.5 510L1597.9 509.9L1619.2 509.3L1640.5 508.8L1661.8 508.9L1683.2 509.5L1704.5 509.6L1725.8 509.8L1747.2 510.6L1768.5 510.2L1789.8 509.6L1811.1 507.9L1832.5 485.1L1853.8 482.3L1875.1 465.3L1896.4 463L1917.8 456.3L1939.1 446.3"/>
<path d="M1086 617L1107.3 617L1128.7 617L1150 598L1171.3 590L1192.6 582.4L1214 558.9L1235.3 558.6L1256.6 558.3L1277.9 558.6L1299.3 558.9L1320.6 558.6L1341.9 558.4L1363.3 557.8L1384.6 556.4L1405.9 553L1427.2 552.6L1448.6 547.5L1469.9 546.8L1491.2 545.9L1512.5 544.9L1533.9 544.7L1555.2 544.5L1576.5 543.9L1597.9 543.9L1619.2 543.6L1640.5 543.2L1661.8 543.3L1683.2 543.6L1704.5 541.7L1725.8 541.5L1747.2 541.4L1768.5 540.9L1789.8 532.5L1811.1 532.2L1832.5 529.1L1853.8 524L1875.1 520L1896.4 518.3L1917.8 513.9L1939.1 507.1"/>
<path d="M1086 617L1107.3 617L1128.7 617L1150 587.4L1171.3 583.5L1192.6 562.5L1214 554.1L1235.3 553.7L1256.6 553.4L1277.9 553.6L1299.3 553.3L1320.6 552.9L1341.9 552.5L1363.3 551.2L1384.6 548.5L1405.9 547.7L1427.2 547.3L1448.6 545.7L1469.9 545L1491.2 544L1512.5 536.9L1533.9 536.6L1555.2 536.4L1576.5 534.6L1597.9 533.8L1619.2 533.4L1640.5 532.9L1661.8 531.6L1683.2 531.8L1704.5 531.9L1725.8 532L1747.2 532.4L1768.5 531.9L1789.8 530.6L1811.1 530.2L1832.5 528.7L1853.8 526.4L1875.1 523.9L1896.4 521.9L1917.8 516.6L1939.1 508.9"/>
<path d="M1086 617L1107.3 617L1128.7 617L1150 599.9L1171.3 600.6L1192.6 594.6L1214 588.2L1235.3 588L1256.6 587.9L1277.9 585.5L1299.3 582.6L1320.6 582.5L1341.9 582.3L1363.3 581.5L1384.6 578.7L1405.9 577.8L1427.2 577.4L1448.6 575.8L1469.9 575.4L1491.2 574.8L1512.5 574.3L1533.9 574.1L1555.2 574L1576.5 573.7L1597.9 573.7L1619.2 573.4L1640.5 571.9L1661.8 572L1683.2 569.6L1704.5 569.5L1725.8 569.1L1747.2 568.7L1768.5 567.9L1789.8 563.8L1811.1 562.9L1832.5 561.3L1853.8 550.5L1875.1 544.5L1896.4 543.2L1917.8 539.1L1939.1 532.8"/>
<path d="M1086 617L1107.3 617L1128.7 617L1150 587.1L1171.3 582L1192.6 571.8L1214 565.6L1235.3 565.3L1256.6 565.1L1277.9 559.5L1299.3 557.5L1320.6 557.1L1341.9 556.8L1363.3 555.3L1384.6 551.8L1405.9 543.9L1427.2 543.4L1448.6 541.8L1469.9 537.6L1491.2 536.2L1512.5 535.1L1533.9 534.8L1555.2 534.5L1576.5 530.2L1597.9 529.2L1619.2 527L1640.5 526.6L1661.8 526.7L1683.2 525.4L1704.5 525.5L1725.8 525.6L1747.2 525.2L1768.5 514.3L1789.8 514L1811.1 513.9L1832.5 502.9L1853.8 500.5L1875.1 497.7L1896.4 495.3L1917.8 489L1939.1 479.6"/>
<path d="M1086 617L1107.3 617L1128.7 617L1150 579.4L1171.3 574.2L1192.6 546.8L1214 532.5L1235.3 532L1256.6 530.8L1277.9 531.2L1299.3 531.7L1320.6 531.3L1341.9 530.2L1363.3 528.4L1384.6 524.9L1405.9 523.9L1427.2 514.9L1448.6 512.9L1469.9 507.9L1491.2 506.2L1512.5 504.7L1533.9 504.3L1555.2 504.1L1576.5 503.1L1597.9 502.7L1619.2 502.1L1640.5 501.5L1661.8 501.7L1683.2 502.2L1704.5 502.3L1725.8 502.5L1747.2 497.8L1768.5 497.3L1789.8 497L1811.1 496.9L1832.5 494.8L1853.8 491.7L1875.1 488.2L1896.4 485.1L1917.8 453.8L1939.1 443.8"/>
<path d="M1086 617L1107.3 617L1128.7 617L1150 589.9L1171.3 583.4L1192.6 558.4L1214 547.7L1235.3 547.2L1256.6 546.9L1277.9 547.2L1299.3 547.6L1320.6 547.3L1341.9 547L1363.3 546.2L1384.6 544.2L1405.9 537.6L1427.2 537L1448.6 535.2L1469.9 534.4L1491.2 533.3L1512.5 531.9L1533.9 531.3L1555.2 530.8L1576.5 530.1L1597.9 523.1L1619.2 522.6L1640.5 522.2L1661.8 522.3L1683.2 522.7L1704.5 522.8L1725.8 523L1747.2 523.7L1768.5 524.4L1789.8 523.3L1811.1 522.9L1832.5 516.7L1853.8 514.6L1875.1 512.3L1896.4 510.4L1917.8 505.2L1939.1 497.1"/>
<path d="M1086 617L1107.3 617L1128.7 617L1150 551.2L1171.3 549.2L1192.6 512.9L1214 496.7L1235.3 496L1256.6 490.7L1277.9 491.2L1299.3 491.9L1320.6 491.4L1341.9 490.6L1363.3 480.8L1384.6 476.6L1405.9 475.9L1427.2 475.2L1448.6 472.4L1469.9 470.9L1491.2 468.8L1512.5 466.5L1533.9 465.3L1555.2 464.2L1576.5 462.8L1597.9 460.2L1619.2 459.1L1640.5 434L1661.8 434.2L1683.2 434.4L1704.5 434.6L1725.8 434.9L1747.2 430.7L1768.5 430.3L1789.8 429.1L1811.1 420.8L1832.5 418.2L1853.8 414.6L1875.1 410.2L1896.4 389.4L1917.8 376.3L1939.1 360.3"/>
<path d="M1086 617L1107.3 617L1128.7 617L1150 560.8L1171.3 536.3L1192.6 520.4L1214 500.1L1235.3 499.4L1256.6 498.8L1277.9 499.4L1299.3 500L1320.6 499.5L1341.9 493.5L1363.3 491.1L1384.6 486.2L1405.9 484.8L1427.2 483.7L1448.6 480.6L1469.9 460.4L1491.2 458L1512.5 455.9L1533.9 453.7L1555.2 453.3L1576.5 451.9L1597.9 450.8L1619.2 438.9L1640.5 438L1661.8 438.2L1683.2 439.1L1704.5 439.3L1725.8 439.6L1747.2 435.5L1768.5 434.9L1789.8 434.4L1811.1 433.8L1832.5 410.7L1853.8 407.5L1875.1 390.9L1896.4 387.2L1917.8 377.1L1939.1 336"/>
<path d="M1086 617L1107.3 617L1128.7 617L1150 569.1L1171.3 571L1192.6 543.1L1214 531.9L1235.3 531.4L1256.6 524.7L1277.9 525.1L1299.3 525.6L1320.6 525.1L1341.9 524.5L1363.3 522.3L1384.6 517.9L1405.9 516.5L1427.2 507.2L1448.6 504.8L1469.9 495.3L1491.2 493.3L1512.5 489.2L1533.9 488.8L1555.2 488.5L1576.5 487.4L1597.9 486.9L1619.2 486.2L1640.5 485.6L1661.8 485.8L1683.2 486.4L1704.5 479.1L1725.8 478.6L1747.2 478.2L1768.5 477.4L1789.8 468.4L1811.1 467.7L1832.5 465.5L1853.8 462.4L1875.1 443.6L1896.4 440.9L1917.8 414.1L1939.1 402.8"/>
<path d="M1086 617L1107.3 617L1128.7 617L1150 588L1171.3 578.8L1192.6 566.2L1214 547.5L1235.3 547L1256.6 546.7L1277.9 547L1299.3 547.4L1320.6 547.1L1341.9 546.8L1363.3 545.6L1384.6 542.6L1405.9 541.7L1427.2 540.9L1448.6 538.9L1469.9 538.1L1491.2 536.7L1512.5 535.2L1533.9 534.4L1555.2 523.6L1576.5 522.8L1597.9 519.5L1619.2 519L1640.5 518.5L1661.8 518.6L1683.2 519.1L1704.5 519.2L1725.8 519.4L1747.2 520.1L1768.5 520L1789.8 519.7L1811.1 519.4L1832.5 517.5L1853.8 514.7L1875.1 511.9L1896.4 509.4L1917.8 503.4L1939.1 494.6"/>
<path d="M1086 617L1107.3 617L1128.7 617L1150 551.1L1171.3 536.3L1192.6 520.4L1214 489L1235.3 488.2L1256.6 487.6L1277.9 488.2L1299.3 488.8L1320.6 488.3L1341.9 487.8L1363.3 486.4L1384.6 484.7L1405.9 483.7L1427.2 482.9L1448.6 480.2L1469.9 478.8L1491.2 477L1512.5 474.7L1533.9 473.3L1555.2 472L1576.5 452.5L1597.9 450.4L1619.2 449.5L1640.5 448.7L1661.8 448.7L1683.2 447.9L1704.5 448.1L1725.8 447L1747.2 445.9L1768.5 444.2L1789.8 430.3L1811.1 423.8L1832.5 412.4L1853.8 408.6L1875.1 403.8L1896.4 380.6L1917.8 353.6L1939.1 339.6"/>
<path d="M1086 617L1107.3 617L1128.7 617L1150 601.8L1171.3 596.2L1192.6 592.1L1214 569.1L1235.3 560.7L1256.6 560.4L1277.9 560.7L1299.3 561L1320.6 560.8L1341.9 560.5L1363.3 559.9L1384.6 558L1405.9 557.3L1427.2 557L1448.6 555.8L1469.9 555.2L1491.2 552.9L1512.5 552.1L1533.9 551.9L1555.2 551.7L1576.5 551.2L1597.9 550.6L1619.2 550.3L1640.5 549.9L1661.8 546.2L1683.2 546.3L1704.5 545.5L1725.8 545.3L1747.2 545.2L1768.5 544.8L1789.8 544.6L1811.1 542.9L1832.5 541.6L1853.8 539.7L1875.1 537.7L1896.4 530.1L1917.8 525.9L1939.1 519.4"/>
<path d="M1086 617L1107.3 617L1128.7 617L1150 572.4L1171.3 551.1L1192.6 538.1L1214 522.4L1235.3 514.6L1256.6 514.1L1277.9 507.9L1299.3 508.4L1320.6 507.9L1341.9 507.5L1363.3 504.7L1384.6 501.4L1405.9 500.9L1427.2 500.2L1448.6 498L1469.9 496.7L1491.2 495.1L1512.5 493.5L1533.9 491.9L1555.2 490L1576.5 489L1597.9 488.6L1619.2 487.9L1640.5 487.3L1661.8 487.5L1683.2 488.1L1704.5 488.2L1725.8 488.4L1747.2 489.4L1768.5 488.6L1789.8 488.2L1811.1 487.3L1832.5 484.7L1853.8 481.5L1875.1 462.6L1896.4 459.9L1917.8 452.6L1939.1 441.8"/>
<path d="M1086 617L1107.3 617L1128.7 617L1150 580.9L1171.3 566.4L1192.6 552.7L1214 536L1235.3 535.5L1256.6 535.1L1277.9 535.4L1299.3 535.9L1320.6 535.5L1341.9 535.2L1363.3 534.3L1384.6 530.9L1405.9 524.5L1427.2 521.3L1448.6 519.3L1469.9 518.3L1491.2 517L1512.5 515.7L1533.9 511.3L1555.2 511L1576.5 510.1L1597.9 509.6L1619.2 508.6L1640.5 508L1661.8 508.2L1683.2 508.7L1704.5 508.8L1725.8 509L1747.2 509.8L1768.5 509.1L1789.8 508.7L1811.1 508.4L1832.5 506.1L1853.8 502.7L1875.1 499.2L1896.4 455.3L1917.8 425.8L1939.1 414.8"/>
<path d="M1086 617L1107.3 617L1128.7 617L1150 581.2L1171.3 571.9L1192.6 553.4L1214 535.9L1235.3 535.4L1256.6 535L1277.9 535.3L1299.3 535.8L1320.6 535.4L1341.9 535.1L1363.3 534.2L1384.6 533.1L1405.9 526.2L1427.2 523.5L1448.6 521.9L1469.9 520.9L1491.2 519.7L1512.5 517.2L1533.9 516.9L1555.2 516.6L1576.5 515.8L1597.9 515.7L1619.2 515.2L1640.5 514.7L1661.8 514.8L1683.2 515.3L1704.5 515.4L1725.8 515.6L1747.2 516.4L1768.5 517.2L1789.8 516.9L1811.1 516.8L1832.5 516.2L1853.8 514.8L1875.1 512.5L1896.4 510.6L1917.8 505.3L1939.1 497.2"/>
<path d="M1086 617L1107.3 617L1128.7 617L1150 526.4L1171.3 500.5L1192.6 479L1214 466L1235.3 465.9L1256.6 465.7L1277.9 465.5L1299.3 465.3L1320.6 465.2L1341.9 465L1363.3 464.8L1384.6 464.7L1405.9 464.5L1427.2 464.3L1448.6 463.7L1469.9 463L1491.2 462.4L1512.5 461.7L1533.9 457.4L1555.2 453.1L1576.5 444L1597.9 435L1619.2 415.6L1640.5 396.2L1661.8 354.8L1683.2 326.3L1704.5 292.6L1725.8 282.3L1747.2 282.3L1768.5 282.3L1789.8 274.5L1811.1 270.2L1832.5 270.2L1853.8 270.2L1875.1 270.2L1896.4 234.8L1917.8 221.9L1939.1 221.9"/>
</g>
<g id="ememS">
<path d="M1086 617L1107.3 617L1128.7 617L1150 600.5L1171.3 593.5L1192.6 575.3L1214 551L1235.3 550.9L1256.6 550.5L1277.9 550.3L1299.3 550.2L1320.6 546.5L1341.9 545.8L1363.3 544.2L1384.6 542.4L1405.9 538.8L1427.2 537.4L1448.6 535.3L1469.9 529.4L1491.2 529L1512.5 528L1533.9 524.7L1555.2 518.4L1576.5 517.3L1597.9 513.9L1619.2 512.2L1640.5 511.1L1661.8 511.5L1683.2 505.5L1704.5 504.9L1725.8 504.5L1747.2 504L1768.5 504L1789.8 503.9L1811.1 504.1L1832.5 502.4L1853.8 481.1L1875.1 480.2L1896.4 479.2L1917.8 446.2L1939.1 444.5"/>
<path d="M1086 617L1107.3 617L1128.7 617L1150 595.3L1171.3 579.3L1192.6 565.8L1214 542.3L1235.3 540.2L1256.6 540L1277.9 539.9L1299.3 539.5L1320.6 539L1341.9 537.7L1363.3 535L1384.6 533L1405.9 531.3L1427.2 525.2L1448.6 522.8L1469.9 520.4L1491.2 520.8L1512.5 519.3L1533.9 504.9L1555.2 503.2L1576.5 501.5L1597.9 500L1619.2 497.8L1640.5 496L1661.8 495.4L1683.2 495.7L1704.5 494.2L1725.8 493.1L1747.2 492.6L1768.5 462.8L1789.8 455.5L1811.1 455.7L1832.5 453.4L1853.8 451.7L1875.1 450.7L1896.4 421.6L1917.8 418.1L1939.1 410.9"/>
<path d="M1086 617L1107.3 617L1128.7 617L1150 604.3L1171.3 593.6L1192.6 579.3L1214 558.2L1235.3 558.2L1256.6 558.1L1277.9 558.1L1299.3 558.2L1320.6 557.9L1341.9 557.3L1363.3 556.1L1384.6 554.7L1405.9 553.5L1427.2 552.4L1448.6 550.7L1469.9 546.8L1491.2 546.5L1512.5 545.2L1533.9 542.7L1555.2 541.8L1576.5 541L1597.9 540.5L1619.2 539.3L1640.5 538.5L1661.8 538.7L1683.2 539.7L1704.5 540L1725.8 537.3L1747.2 537L1768.5 537L1789.8 537L1811.1 537.1L1832.5 535.9L1853.8 535.1L1875.1 534.6L1896.4 534.6L1917.8 531.9L1939.1 530.3"/>
<path d="M1086 617L1107.3 617L1128.7 617L1150 613.8L1171.3 600.5L1192.6 583L1214 570.5L1235.3 570L1256.6 569.4L1277.9 569L1299.3 562.6L1320.6 562.1L1341.9 561.4L1363.3 560.1L1384.6 558.5L1405.9 554.9L1427.2 553.8L1448.6 552.1L1469.9 550.5L1491.2 550.5L1512.5 549.2L1533.9 546L1555.2 544.5L1576.5 542.9L1597.9 532.1L1619.2 530.7L1640.5 529.8L1661.8 530.1L1683.2 530.9L1704.5 530.2L1725.8 529.9L1747.2 522L1768.5 522L1789.8 522L1811.1 522.1L1832.5 520.7L1853.8 518.4L1875.1 517.8L1896.4 517.2L1917.8 513.9L1939.1 494.4"/>
<path d="M1086 617L1107.3 617L1128.7 617L1150 578.1L1171.3 556.3L1192.6 538L1214 502.9L1235.3 502.8L1256.6 502.2L1277.9 502.2L1299.3 502.4L1320.6 501.7L1341.9 500.3L1363.3 497.6L1384.6 494.4L1405.9 491.7L1427.2 489.1L1448.6 485.3L1469.9 465.5L1491.2 464.7L1512.5 462.8L1533.9 456.4L1555.2 426.3L1576.5 412.4L1597.9 410.9L1619.2 407.3L1640.5 378.2L1661.8 378.3L1683.2 364.5L1704.5 350.2L1725.8 350.1L1747.2 339.4L1768.5 339.1L1789.8 339.1L1811.1 339.5L1832.5 335.5L1853.8 309.6L1875.1 303L1896.4 302.3L1917.8 296L1939.1 263.3"/>
<path d="M1086 617L1107.3 617L1128.7 617L1150 598.4L1171.3 588.9L1192.6 572.7L1214 545.7L1235.3 545.7L1256.6 545.5L1277.9 545.5L1299.3 545.7L1320.6 545.3L1341.9 544.6L1363.3 542.2L1384.6 540.4L1405.9 538.8L1427.2 537.4L1448.6 535.2L1469.9 533.2L1491.2 533.2L1512.5 531.9L1533.9 528.3L1555.2 526.6L1576.5 520.6L1597.9 519.9L1619.2 518.3L1640.5 517.3L1661.8 516.8L1683.2 516.9L1704.5 516.5L1725.8 516.6L1747.2 516.2L1768.5 516.1L1789.8 516.1L1811.1 494.3L1832.5 492.5L1853.8 491.3L1875.1 476.7L1896.4 466.7L1917.8 463.1L1939.1 460.7"/>
<path d="M1086 617L1107.3 617L1128.7 617L1150 595.3L1171.3 584L1192.6 564.4L1214 539.5L1235.3 539.5L1256.6 539.3L1277.9 539.3L1299.3 538.7L1320.6 537.3L1341.9 536.5L1363.3 534.8L1384.6 530.9L1405.9 529L1427.2 527.1L1448.6 524.4L1469.9 522.1L1491.2 521.3L1512.5 519.3L1533.9 514.6L1555.2 494.4L1576.5 492.7L1597.9 491.3L1619.2 474.3L1640.5 472.8L1661.8 473.3L1683.2 474.6L1704.5 461.4L1725.8 458.6L1747.2 457.9L1768.5 457.8L1789.8 457.8L1811.1 458L1832.5 455.7L1853.8 454.1L1875.1 444.5L1896.4 433L1917.8 422.9L1939.1 420.8"/>
<path d="M1086 617L1107.3 617L1128.7 617L1150 600L1171.3 583.9L1192.6 571.5L1214 548.4L1235.3 548.2L1256.6 547.8L1277.9 547.6L1299.3 547.6L1320.6 546.7L1341.9 545.5L1363.3 543.5L1384.6 541.1L1405.9 539.1L1427.2 537.1L1448.6 534.3L1469.9 512L1491.2 511.8L1512.5 510.9L1533.9 507.2L1555.2 505.4L1576.5 494.1L1597.9 488L1619.2 485.8L1640.5 484.5L1661.8 484.9L1683.2 480.8L1704.5 480.2L1725.8 480.1L1747.2 479.5L1768.5 479.4L1789.8 470.8L1811.1 471L1832.5 468.9L1853.8 467.4L1875.1 462.2L1896.4 456.8L1917.8 453.2L1939.1 451"/>
<path d="M1086 617L1107.3 617L1128.7 617L1150 592.3L1171.3 579.1L1192.6 558L1214 535.8L1235.3 535.7L1256.6 535.5L1277.9 533.8L1299.3 533.6L1320.6 533.1L1341.9 531.4L1363.3 529.6L1384.6 527.3L1405.9 525.2L1427.2 523L1448.6 519.9L1469.9 517.5L1491.2 516.3L1512.5 514.4L1533.9 509.6L1555.2 481.3L1576.5 479.8L1597.9 469.8L1619.2 462.5L1640.5 460.9L1661.8 461.3L1683.2 462.5L1704.5 461.6L1725.8 460.9L1747.2 460.2L1768.5 445.2L1789.8 444.7L1811.1 445L1832.5 442.5L1853.8 430L1875.1 428.8L1896.4 428.3L1917.8 424.2L1939.1 421.5"/>
<path d="M1086 617L1107.3 617L1128.7 617L1150 581.1L1171.3 556.5L1192.6 542.2L1214 513.3L1235.3 513.1L1256.6 507.6L1277.9 507.4L1299.3 507.4L1320.6 506.4L1341.9 504.9L1363.3 502.1L1384.6 487.3L1405.9 484.8L1427.2 479.8L1448.6 472.5L1469.9 461.6L1491.2 461L1512.5 459.5L1533.9 453.2L1555.2 423.5L1576.5 415.9L1597.9 414.5L1619.2 411.1L1640.5 409L1661.8 409.7L1683.2 359L1704.5 350L1725.8 350L1747.2 348.9L1768.5 348.7L1789.8 348.7L1811.1 349L1832.5 345.1L1853.8 342.4L1875.1 318.7L1896.4 318.5L1917.8 313.1L1939.1 267.7"/>
<path d="M1086 617L1107.3 617L1128.7 617L1150 591.6L1171.3 581.3L1192.6 562.8L1214 531.2L1235.3 531.2L1256.6 531.1L1277.9 531.1L1299.3 531.3L1320.6 530.8L1341.9 530L1363.3 528.2L1384.6 523.4L1405.9 521.5L1427.2 516.3L1448.6 509.8L1469.9 507.2L1491.2 507.2L1512.5 505.5L1533.9 500.6L1555.2 497.9L1576.5 474.6L1597.9 473.3L1619.2 470.8L1640.5 468.8L1661.8 441.6L1683.2 443.2L1704.5 434L1725.8 434.1L1747.2 433.3L1768.5 433.2L1789.8 433.2L1811.1 433.4L1832.5 430.8L1853.8 413.6L1875.1 412.3L1896.4 411.8L1917.8 407L1939.1 404.1"/>
<path d="M1086 617L1107.3 617L1128.7 617L1150 592.3L1171.3 576.2L1192.6 561.4L1214 509L1235.3 509.1L1256.6 509L1277.9 509.1L1299.3 509.5L1320.6 508.9L1341.9 507.8L1363.3 505.9L1384.6 503.3L1405.9 501.3L1427.2 499.4L1448.6 496.3L1469.9 493.3L1491.2 489.2L1512.5 482.7L1533.9 478.1L1555.2 475.8L1576.5 473.5L1597.9 471.3L1619.2 444.6L1640.5 426.2L1661.8 417.6L1683.2 419.4L1704.5 418.5L1725.8 418L1747.2 417.2L1768.5 417.1L1789.8 417.1L1811.1 417.3L1832.5 414.4L1853.8 403.2L1875.1 394.2L1896.4 393.8L1917.8 389.1L1939.1 361.3"/>
<path d="M1086 617L1107.3 617L1128.7 617L1150 587.6L1171.3 572.1L1192.6 543.3L1214 508.9L1235.3 509L1256.6 508.8L1277.9 509L1299.3 509.3L1320.6 508.7L1341.9 507.7L1363.3 505.7L1384.6 503.2L1405.9 501.1L1427.2 499.1L1448.6 495.9L1469.9 483.6L1491.2 482.9L1512.5 481.4L1533.9 475.8L1555.2 445.2L1576.5 443.3L1597.9 430.7L1619.2 427.6L1640.5 425.7L1661.8 425.7L1683.2 426.6L1704.5 425.1L1725.8 424L1747.2 408.3L1768.5 408.2L1789.8 408.1L1811.1 408.4L1832.5 405.4L1853.8 403.3L1875.1 401.9L1896.4 382.1L1917.8 377.2L1939.1 357.2"/>
<path d="M1086 617L1107.3 617L1128.7 617L1150 607.7L1171.3 598.9L1192.6 587.1L1214 561.5L1235.3 561.4L1256.6 561.3L1277.9 561.2L1299.3 561.3L1320.6 561L1341.9 560.4L1363.3 559.2L1384.6 557.8L1405.9 556.7L1427.2 555.7L1448.6 554.1L1469.9 552.5L1491.2 553.3L1512.5 552.3L1533.9 549.7L1555.2 548.8L1576.5 544.7L1597.9 543.9L1619.2 542.6L1640.5 541.9L1661.8 542.1L1683.2 542.7L1704.5 541.9L1725.8 536.3L1747.2 536L1768.5 536L1789.8 535.9L1811.1 536.1L1832.5 534.9L1853.8 532.6L1875.1 531.9L1896.4 530.7L1917.8 527.1L1939.1 505.5"/>
<path d="M1086 617L1107.3 617L1128.7 617L1150 601.1L1171.3 591.9L1192.6 576.9L1214 551.7L1235.3 551.6L1256.6 550.9L1277.9 550.7L1299.3 550.7L1320.6 550.2L1341.9 549.4L1363.3 544.5L1384.6 542.7L1405.9 541.2L1427.2 539.7L1448.6 537.5L1469.9 535.5L1491.2 535.3L1512.5 533.9L1533.9 522.2L1555.2 517.2L1576.5 516L1597.9 509.9L1619.2 508.1L1640.5 507L1661.8 507.4L1683.2 508.7L1704.5 502.4L1725.8 502.4L1747.2 501.9L1768.5 501.9L1789.8 501.8L1811.1 497.1L1832.5 495.3L1853.8 494.1L1875.1 493.3L1896.4 475.4L1917.8 472.2L1939.1 470"/>
<path d="M1086 617L1107.3 617L1128.7 617L1150 596.4L1171.3 587.6L1192.6 568.3L1214 544.8L1235.3 543.9L1256.6 543.7L1277.9 543.7L1299.3 542.6L1320.6 542.2L1341.9 541.2L1363.3 538.6L1384.6 536.7L1405.9 532.6L1427.2 531.1L1448.6 525.3L1469.9 523L1491.2 523.5L1512.5 522.5L1533.9 514.8L1555.2 513.3L1576.5 512L1597.9 510.9L1619.2 509.1L1640.5 507.8L1661.8 507.5L1683.2 507.8L1704.5 492.4L1725.8 492.4L1747.2 491.9L1768.5 491.8L1789.8 491.8L1811.1 491.9L1832.5 490.1L1853.8 488.8L1875.1 465.3L1896.4 464.9L1917.8 461.3L1939.1 458.8"/>
<path d="M1086 617L1107.3 617L1128.7 617L1150 595.8L1171.3 584.7L1192.6 564.5L1214 544.1L1235.3 542.5L1256.6 542.2L1277.9 540.6L1299.3 540.6L1320.6 538.5L1341.9 537.5L1363.3 535.6L1384.6 533.3L1405.9 527L1427.2 525.4L1448.6 518.6L1469.9 516.1L1491.2 516.1L1512.5 514.2L1533.9 509.6L1555.2 507.4L1576.5 505L1597.9 503L1619.2 500.4L1640.5 472.3L1661.8 472.7L1683.2 473.9L1704.5 473.1L1725.8 467.7L1747.2 467.1L1768.5 467L1789.8 414.9L1811.1 415.2L1832.5 388.3L1853.8 375.7L1875.1 374.2L1896.4 374.6L1917.8 361.9L1939.1 359.8"/>
<path d="M1086 617L1107.3 617L1128.7 617L1150 605.2L1171.3 593.6L1192.6 578.8L1214 552.7L1235.3 552.7L1256.6 552.6L1277.9 552.5L1299.3 551.6L1320.6 551.2L1341.9 550.6L1363.3 549.3L1384.6 547.7L1405.9 546.3L1427.2 545L1448.6 543.1L1469.9 541.3L1491.2 541.5L1512.5 535.9L1533.9 529.4L1555.2 528.3L1576.5 527.2L1597.9 526.4L1619.2 524.9L1640.5 517.5L1661.8 517.8L1683.2 518.6L1704.5 518L1725.8 517.7L1747.2 517.3L1768.5 509.7L1789.8 509.6L1811.1 509.8L1832.5 506.5L1853.8 505.4L1875.1 504.6L1896.4 504.9L1917.8 502.5L1939.1 500.6"/>
<path d="M1086 617L1107.3 617L1128.7 617L1150 597.9L1171.3 588.5L1192.6 572.4L1214 540.4L1235.3 540.3L1256.6 540.1L1277.9 540.1L1299.3 540.2L1320.6 539.8L1341.9 539L1363.3 537.1L1384.6 535.1L1405.9 531.2L1427.2 529.7L1448.6 524.7L1469.9 520.9L1491.2 520.4L1512.5 519.1L1533.9 515L1555.2 513.1L1576.5 511.2L1597.9 509.4L1619.2 507.2L1640.5 505.3L1661.8 485.4L1683.2 486.4L1704.5 485.3L1725.8 484.8L1747.2 484.3L1768.5 484.2L1789.8 484.2L1811.1 484.4L1832.5 460.2L1853.8 458.7L1875.1 457.7L1896.4 436.3L1917.8 431.8L1939.1 401.3"/>
<path d="M1086 617L1107.3 617L1128.7 617L1150 592.9L1171.3 583.6L1192.6 564.9L1214 538.4L1235.3 538.3L1256.6 538.1L1277.9 537.9L1299.3 535.5L1320.6 534.2L1341.9 533.3L1363.3 529.9L1384.6 527.7L1405.9 525.8L1427.2 523.8L1448.6 521L1469.9 518.6L1491.2 517.4L1512.5 515.1L1533.9 483.1L1555.2 481.3L1576.5 479.7L1597.9 478.5L1619.2 462.2L1640.5 460.6L1661.8 461.1L1683.2 462.5L1704.5 453.6L1725.8 453.7L1747.2 451.1L1768.5 451L1789.8 451L1811.1 442.9L1832.5 440.4L1853.8 427L1875.1 425.8L1896.4 425.5L1917.8 420.8L1939.1 398.8"/>
<path d="M1086 617L1107.3 617L1128.7 617L1150 608.4L1171.3 600.8L1192.6 595.4L1214 571.6L1235.3 571.1L1256.6 570.6L1277.9 570.1L1299.3 569.8L1320.6 569.2L1341.9 568.4L1363.3 567L1384.6 565.4L1405.9 564.2L1427.2 555.6L1448.6 553.9L1469.9 552.4L1491.2 553.1L1512.5 552.3L1533.9 549.9L1555.2 546.9L1576.5 546.1L1597.9 545.6L1619.2 544.4L1640.5 543.7L1661.8 543.9L1683.2 544.8L1704.5 545L1725.8 537.7L1747.2 537.4L1768.5 537.3L1789.8 537.3L1811.1 537.5L1832.5 536.3L1853.8 535.5L1875.1 535L1896.4 535.1L1917.8 534.7L1939.1 534.3"/>
<path d="M1086 617L1107.3 617L1128.7 617L1150 607.7L1171.3 595.2L1192.6 584.1L1214 561.9L1235.3 561.9L1256.6 561.8L1277.9 561.7L1299.3 561.8L1320.6 561.4L1341.9 560.8L1363.3 559.5L1384.6 558.1L1405.9 555.1L1427.2 554L1448.6 548.6L1469.9 546.4L1491.2 546L1512.5 543.2L1533.9 540.5L1555.2 539.5L1576.5 538.5L1597.9 537.8L1619.2 536.5L1640.5 535.6L1661.8 533.9L1683.2 534.7L1704.5 534.3L1725.8 534.3L1747.2 531.9L1768.5 531.9L1789.8 531.9L1811.1 528L1832.5 526.7L1853.8 525.8L1875.1 525.2L1896.4 522.4L1917.8 519.9L1939.1 518.5"/>
<path d="M1086 617L1107.3 617L1128.7 617L1150 596.7L1171.3 580.3L1192.6 569.7L1214 540.7L1235.3 540.6L1256.6 540.3L1277.9 540.2L1299.3 540.3L1320.6 539.8L1341.9 538.9L1363.3 537.1L1384.6 534.9L1405.9 528.3L1427.2 523.6L1448.6 517.1L1469.9 513.8L1491.2 513.2L1512.5 511.8L1533.9 507.5L1555.2 505.4L1576.5 503.4L1597.9 486.3L1619.2 484.1L1640.5 482.8L1661.8 472.3L1683.2 471.9L1704.5 463.9L1725.8 460.5L1747.2 453.9L1768.5 453.8L1789.8 453.8L1811.1 432.1L1832.5 429.4L1853.8 427.5L1875.1 426.3L1896.4 425.5L1917.8 393.7L1939.1 389"/>
<path d="M1086 617L1107.3 617L1128.7 617L1150 600.8L1171.3 590.6L1192.6 578.3L1214 546.5L1235.3 546.5L1256.6 546.4L1277.9 546.4L1299.3 546.6L1320.6 546.2L1341.9 545.5L1363.3 543.9L1384.6 542.2L1405.9 540.8L1427.2 539.4L1448.6 537.4L1469.9 532.2L1491.2 532L1512.5 529.2L1533.9 526.2L1555.2 522L1576.5 521L1597.9 520.3L1619.2 518.7L1640.5 517.7L1661.8 518L1683.2 518.9L1704.5 518L1725.8 517.5L1747.2 505.5L1768.5 505.4L1789.8 505.4L1811.1 502.9L1832.5 501.2L1853.8 500.1L1875.1 492.9L1896.4 492.4L1917.8 489L1939.1 486.8"/>
<path d="M1086 617L1107.3 617L1128.7 617L1150 600.2L1171.3 590.2L1192.6 576.9L1214 553.4L1235.3 551.4L1256.6 551.2L1277.9 551.2L1299.3 551.3L1320.6 550.9L1341.9 550.2L1363.3 548.8L1384.6 547.2L1405.9 545.8L1427.2 542.1L1448.6 540L1469.9 536.5L1491.2 536.1L1512.5 535.2L1533.9 532L1555.2 530.5L1576.5 529.1L1597.9 528L1619.2 526.5L1640.5 517.9L1661.8 518.1L1683.2 519L1704.5 518.3L1725.8 518.1L1747.2 517.7L1768.5 517.6L1789.8 517.6L1811.1 517.8L1832.5 516.3L1853.8 515.3L1875.1 514.7L1896.4 514.9L1917.8 513L1939.1 486"/>
<path d="M1086 617L1107.3 617L1128.7 617L1150 603.6L1171.3 594.6L1192.6 579.9L1214 557L1235.3 556.3L1256.6 556.2L1277.9 556.1L1299.3 556.3L1320.6 555.9L1341.9 555.3L1363.3 554L1384.6 552.5L1405.9 547.9L1427.2 546.7L1448.6 544.8L1469.9 543L1491.2 543.4L1512.5 539.1L1533.9 534.5L1555.2 531.8L1576.5 530.9L1597.9 528.9L1619.2 527.5L1640.5 526.6L1661.8 526.5L1683.2 527.6L1704.5 527.2L1725.8 527.3L1747.2 526.9L1768.5 526.9L1789.8 526.9L1811.1 527L1832.5 525.4L1853.8 523.8L1875.1 523.2L1896.4 523.3L1917.8 520.7L1939.1 510.3"/>
<path d="M1086 617L1107.3 617L1128.7 617L1150 613.8L1171.3 600L1192.6 585.5L1214 562.5L1235.3 562.5L1256.6 562.3L1277.9 562.3L1299.3 562.4L1320.6 562.1L1341.9 561.5L1363.3 560.3L1384.6 558.9L1405.9 557.9L1427.2 556.9L1448.6 555.3L1469.9 553.7L1491.2 554.5L1512.5 553.7L1533.9 551.2L1555.2 550.4L1576.5 549.5L1597.9 548.8L1619.2 547.6L1640.5 546.9L1661.8 543.9L1683.2 544.5L1704.5 543.9L1725.8 543.7L1747.2 543.4L1768.5 538.2L1789.8 537.8L1811.1 531.6L1832.5 530.4L1853.8 527.6L1875.1 527L1896.4 527L1917.8 524.2L1939.1 509.7"/>
<path d="M1086 617L1107.3 617L1128.7 617L1150 591.5L1171.3 579.1L1192.6 563.8L1214 535.6L1235.3 535.4L1256.6 534.9L1277.9 534.7L1299.3 534.6L1320.6 531.4L1341.9 530.4L1363.3 528.1L1384.6 518.3L1405.9 516.3L1427.2 514.5L1448.6 511.7L1469.9 497L1491.2 495.9L1512.5 493.8L1533.9 488.1L1555.2 461.4L1576.5 420.7L1597.9 407.6L1619.2 404.1L1640.5 401.4L1661.8 380L1683.2 382L1704.5 380.8L1725.8 361.4L1747.2 360.3L1768.5 360.1L1789.8 360.1L1811.1 342L1832.5 338L1853.8 335.2L1875.1 305L1896.4 304.8L1917.8 299.4L1939.1 296.4"/>
<path d="M1086 617L1107.3 617L1128.7 617L1150 611.4L1171.3 597.2L1192.6 582.7L1214 560.2L1235.3 560.1L1256.6 559.8L1277.9 559.4L1299.3 559.4L1320.6 557.9L1341.9 557.2L1363.3 555.7L1384.6 553.5L1405.9 552.3L1427.2 550.5L1448.6 548.7L1469.9 547L1491.2 544.8L1512.5 543.5L1533.9 540.4L1555.2 539.4L1576.5 538.2L1597.9 537.3L1619.2 533.1L1640.5 531.9L1661.8 531.6L1683.2 531.2L1704.5 506.1L1725.8 501.1L1747.2 500.7L1768.5 500.6L1789.8 500.5L1811.1 500.7L1832.5 499L1853.8 497.8L1875.1 497.1L1896.4 468.5L1917.8 454.9L1939.1 442.5"/>
<path d="M1086 617L1107.3 617L1128.7 617L1150 583.6L1171.3 569.9L1192.6 547.5L1214 518.5L1235.3 518.3L1256.6 517.9L1277.9 517.8L1299.3 517.8L1320.6 517L1341.9 515.7L1363.3 513.5L1384.6 510.8L1405.9 497.7L1427.2 495.6L1448.6 492.1L1469.9 489L1491.2 488.3L1512.5 486.5L1533.9 482.5L1555.2 479.5L1576.5 478L1597.9 476.7L1619.2 474.2L1640.5 472.1L1661.8 451.3L1683.2 452.9L1704.5 443.2L1725.8 443.3L1747.2 442.6L1768.5 442.4L1789.8 442.4L1811.1 426.2L1832.5 423.4L1853.8 421.5L1875.1 420.2L1896.4 419.8L1917.8 395.5L1939.1 393.6"/>
<path d="M1086 617L1107.3 617L1128.7 617L1150 593.8L1171.3 577.2L1192.6 565.5L1214 536.4L1235.3 536.3L1256.6 536.1L1277.9 536L1299.3 536.2L1320.6 535.6L1341.9 534.7L1363.3 532.8L1384.6 530.5L1405.9 528.5L1427.2 526.5L1448.6 510.8L1469.9 508.2L1491.2 508.2L1512.5 506.6L1533.9 501.8L1555.2 483.3L1576.5 481.7L1597.9 472.8L1619.2 470.4L1640.5 468.9L1661.8 468.6L1683.2 469.1L1704.5 467.5L1725.8 448.7L1747.2 448L1768.5 428.7L1789.8 428.6L1811.1 425.2L1832.5 422.4L1853.8 420.5L1875.1 419.2L1896.4 418.9L1917.8 387.7L1939.1 385.5"/>
<path d="M1086 617L1107.3 617L1128.7 617L1150 586.6L1171.3 562.8L1192.6 560.9L1214 512.5L1235.3 512.5L1256.6 512.3L1277.9 512.3L1299.3 512.5L1320.6 511.9L1341.9 510.9L1363.3 508.1L1384.6 505.2L1405.9 502.8L1427.2 500.3L1448.6 496.5L1469.9 493.5L1491.2 471.1L1512.5 454.6L1533.9 449.1L1555.2 446.4L1576.5 443.7L1597.9 413.4L1619.2 410L1640.5 407.4L1661.8 390.1L1683.2 382.6L1704.5 381.8L1725.8 381.3L1747.2 364.6L1768.5 364.4L1789.8 364.4L1811.1 364.7L1832.5 361.1L1853.8 358.5L1875.1 356.8L1896.4 357.4L1917.8 329.3L1939.1 308.5"/>
<path d="M1086 617L1107.3 617L1128.7 617L1150 603.4L1171.3 595.9L1192.6 575.4L1214 556.8L1235.3 554.9L1256.6 554.7L1277.9 554.6L1299.3 554.7L1320.6 554.2L1341.9 553.4L1363.3 552L1384.6 550.2L1405.9 545L1427.2 543.8L1448.6 541.8L1469.9 539.2L1491.2 536.5L1512.5 535.9L1533.9 533L1555.2 531.9L1576.5 528.3L1597.9 527.8L1619.2 526.3L1640.5 525.4L1661.8 523.3L1683.2 524.3L1704.5 523.8L1725.8 521L1747.2 520.6L1768.5 520.5L1789.8 520.5L1811.1 520.6L1832.5 519.2L1853.8 518.2L1875.1 514.2L1896.4 513.9L1917.8 511L1939.1 509.2"/>
<path d="M1086 617L1107.3 617L1128.7 617L1150 600.2L1171.3 588.4L1192.6 572.2L1214 548.3L1235.3 548.2L1256.6 547.5L1277.9 547.4L1299.3 546.3L1320.6 545.8L1341.9 544.3L1363.3 542.8L1384.6 541L1405.9 539.5L1427.2 535.7L1448.6 533.5L1469.9 528.2L1491.2 527.7L1512.5 526.8L1533.9 523.3L1555.2 516.4L1576.5 515.2L1597.9 510.8L1619.2 504.8L1640.5 502.9L1661.8 503.3L1683.2 504.3L1704.5 503.6L1725.8 494.3L1747.2 493.8L1768.5 493.7L1789.8 491.5L1811.1 491.6L1832.5 489.8L1853.8 488.5L1875.1 487.7L1896.4 488L1917.8 461.3L1939.1 459.2"/>
<path d="M1086 617L1107.3 617L1128.7 617L1150 594.1L1171.3 582.9L1192.6 566.5L1214 542L1235.3 541.9L1256.6 541.7L1277.9 541.7L1299.3 541.9L1320.6 541.4L1341.9 540.7L1363.3 539L1384.6 537L1405.9 535.2L1427.2 529.3L1448.6 523.8L1469.9 520.2L1491.2 519.7L1512.5 515.6L1533.9 509.3L1555.2 507.9L1576.5 506.4L1597.9 505.4L1619.2 503.5L1640.5 502.4L1661.8 502.5L1683.2 503L1704.5 501.6L1725.8 488.4L1747.2 487.9L1768.5 484.9L1789.8 482.9L1811.1 483.1L1832.5 481.2L1853.8 457.8L1875.1 456.8L1896.4 455.9L1917.8 451.5L1939.1 424.5"/>
<path d="M1086 617L1107.3 617L1128.7 617L1150 602.5L1171.3 596.8L1192.6 577.1L1214 551.1L1235.3 551.1L1256.6 550.9L1277.9 550.9L1299.3 551.1L1320.6 550.7L1341.9 550L1363.3 548.7L1384.6 547L1405.9 544.6L1427.2 543.3L1448.6 541.3L1469.9 539.5L1491.2 539.8L1512.5 528.3L1533.9 525.2L1555.2 519.2L1576.5 518.2L1597.9 514.9L1619.2 513.2L1640.5 512.1L1661.8 512.5L1683.2 513.8L1704.5 513.8L1725.8 513.6L1747.2 510.1L1768.5 510L1789.8 507L1811.1 507.1L1832.5 505.6L1853.8 504.4L1875.1 503.7L1896.4 504L1917.8 501.4L1939.1 480.1"/>
<path d="M1086 617L1107.3 617L1128.7 617L1150 613.1L1171.3 601.3L1192.6 591.7L1214 571.6L1235.3 571.4L1256.6 571L1277.9 570.8L1299.3 570.7L1320.6 570.1L1341.9 565.1L1363.3 563.9L1384.6 562.6L1405.9 561.4L1427.2 560.3L1448.6 553.9L1469.9 552.4L1491.2 552.6L1512.5 548.9L1533.9 543.1L1555.2 542.2L1576.5 541.3L1597.9 540.8L1619.2 538.9L1640.5 538.1L1661.8 534.8L1683.2 535.7L1704.5 534.8L1725.8 534.8L1747.2 534.5L1768.5 534.4L1789.8 534.4L1811.1 534.5L1832.5 533.4L1853.8 532.5L1875.1 525.7L1896.4 519.6L1917.8 517.1L1939.1 515.7"/>
<path d="M1086 617L1107.3 617L1128.7 617L1150 585.4L1171.3 558L1192.6 538L1214 500.5L1235.3 500.5L1256.6 500.3L1277.9 500.3L1299.3 500.6L1320.6 500L1341.9 497.2L1363.3 491.8L1384.6 486.5L1405.9 484L1427.2 481.5L1448.6 477.9L1469.9 474.4L1491.2 475L1512.5 472.8L1533.9 448.5L1555.2 445.6L1576.5 442.8L1597.9 419.2L1619.2 400L1640.5 397.6L1661.8 397.3L1683.2 374.3L1704.5 373.3L1725.8 372.9L1747.2 371.9L1768.5 365.8L1789.8 365L1811.1 365.4L1832.5 341.2L1853.8 338.4L1875.1 306.5L1896.4 305.4L1917.8 286.1L1939.1 269.6"/>
<path d="M1086 617L1107.3 617L1128.7 617L1150 585.5L1171.3 569.2L1192.6 550.1L1214 517.9L1235.3 517.9L1256.6 517.8L1277.9 517.9L1299.3 518.3L1320.6 517.7L1341.9 516.8L1363.3 514.9L1384.6 512.2L1405.9 510.3L1427.2 508.6L1448.6 505.7L1469.9 502.9L1491.2 502.4L1512.5 501.4L1533.9 497.1L1555.2 483.8L1576.5 482.3L1597.9 481.2L1619.2 479L1640.5 477.2L1661.8 462.3L1683.2 463.7L1704.5 462.8L1725.8 462L1747.2 461.4L1768.5 461.2L1789.8 461.2L1811.1 461.4L1832.5 458.7L1853.8 435.2L1875.1 434L1896.4 433L1917.8 401.1L1939.1 399.1"/>
<path d="M1086 617L1107.3 617L1128.7 617L1150 573.9L1171.3 563.8L1192.6 553.8L1214 505.9L1235.3 505.9L1256.6 505.7L1277.9 505.7L1299.3 506L1320.6 505.3L1341.9 504.2L1363.3 502L1384.6 499.1L1405.9 496.5L1427.2 493.8L1448.6 489.8L1469.9 486.7L1491.2 467L1512.5 465.3L1533.9 438.1L1555.2 435.6L1576.5 419.7L1597.9 418.3L1619.2 414.8L1640.5 383.4L1661.8 383.9L1683.2 375.4L1704.5 370.3L1725.8 370.4L1747.2 369.4L1768.5 369.2L1789.8 369.1L1811.1 368.6L1832.5 317.1L1853.8 309.9L1875.1 307.9L1896.4 285.7L1917.8 279.9L1939.1 276.1"/>
<path d="M1086 617L1107.3 617L1128.7 617L1150 588.1L1171.3 578L1192.6 564.1L1214 523.5L1235.3 523.5L1256.6 523.3L1277.9 523.2L1299.3 523L1320.6 522.3L1341.9 517.9L1363.3 514.2L1384.6 511.6L1405.9 509.2L1427.2 497.2L1448.6 488.6L1469.9 479L1491.2 478.6L1512.5 477.1L1533.9 471.6L1555.2 468.8L1576.5 466.1L1597.9 439.5L1619.2 436.6L1640.5 434.7L1661.8 434.1L1683.2 411.5L1704.5 410.7L1725.8 407.7L1747.2 406.9L1768.5 394.2L1789.8 393.2L1811.1 393.5L1832.5 375L1853.8 372.5L1875.1 363.9L1896.4 353.9L1917.8 341.2L1939.1 330"/>
<path d="M1086 617L1107.3 617L1128.7 617L1150 594.7L1171.3 580.6L1192.6 565L1214 535.5L1235.3 535.5L1256.6 535.3L1277.9 535.3L1299.3 535.5L1320.6 535L1341.9 534.1L1363.3 532.3L1384.6 530.1L1405.9 528.2L1427.2 522.2L1448.6 519.6L1469.9 511.3L1491.2 510.8L1512.5 509.7L1533.9 505.6L1555.2 503.7L1576.5 492L1597.9 485.5L1619.2 483.3L1640.5 481.9L1661.8 481.6L1683.2 463.4L1704.5 462.8L1725.8 451L1747.2 446.5L1768.5 445.2L1789.8 443.7L1811.1 441.7L1832.5 439.1L1853.8 437.4L1875.1 425.9L1896.4 413.5L1917.8 409.6L1939.1 407.3"/>
<path d="M1086 617L1107.3 617L1128.7 617L1150 606.9L1171.3 596.4L1192.6 578.7L1214 562L1235.3 559.4L1256.6 559.2L1277.9 559.2L1299.3 559.3L1320.6 558.9L1341.9 558.3L1363.3 557L1384.6 555.5L1405.9 552.5L1427.2 551.4L1448.6 549.6L1469.9 547.9L1491.2 548.2L1512.5 544.7L1533.9 541.9L1555.2 540.7L1576.5 534.6L1597.9 533.9L1619.2 532.5L1640.5 531.7L1661.8 532L1683.2 528.6L1704.5 528.2L1725.8 527L1747.2 526.6L1768.5 526.5L1789.8 526.5L1811.1 526.7L1832.5 525.4L1853.8 524.4L1875.1 521.8L1896.4 521.3L1917.8 506.3L1939.1 505"/>
<path d="M1086 617L1107.3 617L1128.7 617L1150 609.1L1171.3 607.3L1192.6 590.9L1214 557.5L1235.3 557.5L1256.6 557.4L1277.9 557.4L1299.3 557.6L1320.6 557.2L1341.9 556.6L1363.3 555.5L1384.6 554L1405.9 552.9L1427.2 551.8L1448.6 550.1L1469.9 548.4L1491.2 549.3L1512.5 548.7L1533.9 546.3L1555.2 545.4L1576.5 544.5L1597.9 543.7L1619.2 542.5L1640.5 541.8L1661.8 541.8L1683.2 542.2L1704.5 541.4L1725.8 535.9L1747.2 534.2L1768.5 534.1L1789.8 534.1L1811.1 534.2L1832.5 533L1853.8 532.2L1875.1 531.6L1896.4 531.8L1917.8 530L1939.1 528.3"/>
<path d="M1086 617L1107.3 617L1128.7 617L1150 605.8L1171.3 592.3L1192.6 579.3L1214 549.7L1235.3 549.7L1256.6 549.6L1277.9 549.5L1299.3 549.7L1320.6 549.2L1341.9 548.5L1363.3 547L1384.6 543.3L1405.9 541.9L1427.2 540.5L1448.6 538.5L1469.9 533.9L1491.2 533.4L1512.5 531.6L1533.9 528.5L1555.2 527.3L1576.5 526.1L1597.9 525.2L1619.2 519.3L1640.5 518.2L1661.8 518.1L1683.2 518.6L1704.5 510L1725.8 509.8L1747.2 502.2L1768.5 501.5L1789.8 501.5L1811.1 501.6L1832.5 499.9L1853.8 495.9L1875.1 489.8L1896.4 489.2L1917.8 472.4L1939.1 470.7"/>
<path d="M1086 617L1107.3 617L1128.7 617L1150 599.9L1171.3 589.4L1192.6 576L1214 551.6L1235.3 549.5L1256.6 549.1L1277.9 548.7L1299.3 548.6L1320.6 547.9L1341.9 546.9L1363.3 540L1384.6 538.1L1405.9 536.5L1427.2 535L1448.6 532.8L1469.9 530.7L1491.2 530.5L1512.5 528.8L1533.9 524.8L1555.2 522.9L1576.5 521L1597.9 519.4L1619.2 502.8L1640.5 501.6L1661.8 502L1683.2 502.9L1704.5 501.9L1725.8 457.2L1747.2 456.5L1768.5 456.4L1789.8 443.5L1811.1 443.7L1832.5 441.2L1853.8 439.5L1875.1 438.3L1896.4 429.9L1917.8 425.7L1939.1 404.2"/>
<path d="M1086 617L1107.3 617L1128.7 617L1150 591.3L1171.3 574.3L1192.6 551.9L1214 528.7L1235.3 527.6L1256.6 527.4L1277.9 527.4L1299.3 526.6L1320.6 526L1341.9 525L1363.3 522.9L1384.6 510.4L1405.9 508.3L1427.2 506.2L1448.6 494.1L1469.9 491L1491.2 480L1512.5 479.5L1533.9 474.8L1555.2 472.5L1576.5 470.1L1597.9 469.5L1619.2 467.1L1640.5 461.4L1661.8 457.6L1683.2 457.2L1704.5 456.7L1725.8 456.6L1747.2 448.6L1768.5 448.4L1789.8 448.4L1811.1 436.2L1832.5 425.9L1853.8 423.9L1875.1 416.7L1896.4 416.2L1917.8 399.9L1939.1 397.7"/>
<path d="M1086 617L1107.3 617L1128.7 617L1150 597.9L1171.3 585L1192.6 573.3L1214 544.8L1235.3 544.7L1256.6 544.4L1277.9 544.3L1299.3 544.4L1320.6 543.8L1341.9 542.9L1363.3 537L1384.6 535.1L1405.9 533.5L1427.2 531.9L1448.6 529.4L1469.9 520.3L1491.2 515.8L1512.5 514.3L1533.9 509.8L1555.2 503.7L1576.5 501.2L1597.9 500.3L1619.2 494L1640.5 490.3L1661.8 488L1683.2 489.3L1704.5 488.6L1725.8 488.3L1747.2 487.8L1768.5 487.7L1789.8 487.7L1811.1 483.5L1832.5 479.5L1853.8 478.2L1875.1 477.3L1896.4 461.7L1917.8 458.3L1939.1 456.4"/>
<path d="M1086 617L1107.3 617L1128.7 617L1150 613.8L1171.3 606.8L1192.6 595.5L1214 564.2L1235.3 564.2L1256.6 564L1277.9 564L1299.3 564.1L1320.6 563.8L1341.9 563.2L1363.3 562.1L1384.6 560.8L1405.9 559.7L1427.2 558.8L1448.6 557.2L1469.9 555.7L1491.2 556.5L1512.5 555L1533.9 552.7L1555.2 551.8L1576.5 550.4L1597.9 548.6L1619.2 547.5L1640.5 546.8L1661.8 545.5L1683.2 544.6L1704.5 544.1L1725.8 544.1L1747.2 541.5L1768.5 540.3L1789.8 539.7L1811.1 538.4L1832.5 537.3L1853.8 536.5L1875.1 533.5L1896.4 529.1L1917.8 526.8L1939.1 525.5"/>
<path d="M1086 617L1107.3 617L1128.7 617L1150 604.4L1171.3 594L1192.6 579L1214 558.4L1235.3 558.2L1256.6 558L1277.9 557.9L1299.3 556.7L1320.6 556.4L1341.9 555.8L1363.3 554.5L1384.6 552.1L1405.9 550.9L1427.2 549.7L1448.6 547.9L1469.9 545.6L1491.2 545.2L1512.5 544.4L1533.9 541.7L1555.2 540.5L1576.5 539.4L1597.9 532.6L1619.2 531.2L1640.5 530.3L1661.8 530.6L1683.2 531.5L1704.5 530.9L1725.8 530.7L1747.2 530.4L1768.5 524.5L1789.8 524.5L1811.1 524.6L1832.5 523.3L1853.8 522.3L1875.1 521.7L1896.4 521.9L1917.8 519.8L1939.1 517.6"/>
<path d="M1086 617L1107.3 617L1128.7 617L1150 587.2L1171.3 568.2L1192.6 561.7L1214 522.9L1235.3 523L1256.6 522.8L1277.9 522.8L1299.3 523.1L1320.6 522.6L1341.9 521.6L1363.3 519.8L1384.6 514.9L1405.9 512.9L1427.2 511L1448.6 507.5L1469.9 504.8L1491.2 479.4L1512.5 478.5L1533.9 473.5L1555.2 471L1576.5 446.5L1597.9 445.5L1619.2 435.2L1640.5 433.3L1661.8 420.1L1683.2 421.8L1704.5 421.1L1725.8 420.9L1747.2 420.1L1768.5 419.9L1789.8 415.6L1811.1 415.9L1832.5 413L1853.8 392.2L1875.1 386.1L1896.4 385.9L1917.8 381.2L1939.1 378.6"/>
</g>
<path id="emeanS" d="M1086 617L1107.3 617L1128.7 617L1150 597.7L1171.3 585.2L1192.6 569.8L1214 542L1235.3 541.6L1256.6 541.2L1277.9 541.1L1299.3 540.9L1320.6 540.2L1341.9 539.1L1363.3 537L1384.6 534.1L1405.9 531.6L1427.2 529.1L1448.6 525.5L1469.9 521.6L1491.2 519.1L1512.5 516.8L1533.9 510.9L1555.2 505L1576.5 500.5L1597.9 496L1619.2 491.9L1640.5 488.2L1661.8 484.8L1683.2 482.3L1704.5 479.1L1725.8 475.7L1747.2 474.1L1768.5 472.7L1789.8 470.1L1811.1 467.8L1832.5 462.8L1853.8 457.9L1875.1 452.6L1896.4 447.5L1917.8 438.3L1939.1 428.9"/>
<path id="gmeanS" d="M1086 617L1107.3 617L1128.7 617L1150 583L1171.3 574.3L1192.6 557L1214 542.5L1235.3 542.2L1256.6 542L1277.9 542L1299.3 542L1320.6 541.2L1341.9 540.3L1363.3 537.7L1384.6 534.3L1405.9 532L1427.2 529.8L1448.6 527.7L1469.9 525.3L1491.2 523.2L1512.5 521.1L1533.9 519.9L1555.2 518.9L1576.5 517.2L1597.9 515.6L1619.2 514.2L1640.5 512.9L1661.8 511.6L1683.2 510.6L1704.5 509.4L1725.8 508.3L1747.2 507.2L1768.5 506L1789.8 504.4L1811.1 502.9L1832.5 498.7L1853.8 494.5L1875.1 488.4L1896.4 482.3L1917.8 471.9L1939.1 459.7"/>
</defs>
<rect width="1984" height="1962" fill="#fff"/>
<text x="398.6" y="32.1" font-size="27.8" textLength="1186.32" lengthAdjust="spacingAndGlyphs">Utah Snow Ensemble (Experimental) Initialized 1200 UTC 16 Nov 2025 (82 Members)</text>
<text x="285.8" y="63.5" font-size="27.8" textLength="1413.04" lengthAdjust="spacingAndGlyphs">Guidance for 40.454N -106.746W 10059 ft AMSL [Nearest Grid Point to Storm Peak Lab, CO (STORM)]</text>
<text x="730.38" y="90.7" font-size="19.4" textLength="522.45" lengthAdjust="spacingAndGlyphs">Powered by ECMWF, NCEP, AWS, CHPC, Unidata, ESRI</text>
<rect x="114.5" y="1513.5" width="853" height="356" fill="#c4a18a"/>
<path d="M114.5 120.5V617.5M156.5 120.5V617.5M199.5 120.5V617.5M242.5 120.5V617.5M284.5 120.5V617.5M327.5 120.5V617.5M370.5 120.5V617.5M412.5 120.5V617.5M455.5 120.5V617.5M498.5 120.5V617.5M540.5 120.5V617.5M583.5 120.5V617.5M626.5 120.5V617.5M668.5 120.5V617.5M711.5 120.5V617.5M754.5 120.5V617.5M796.5 120.5V617.5M839.5 120.5V617.5M881.5 120.5V617.5M924.5 120.5V617.5M114.5 531.5H967.5M114.5 445.5H967.5M114.5 358.5H967.5M114.5 272.5H967.5M114.5 186.5H967.5" stroke="#b0b0b0" stroke-opacity="0.75" stroke-width="1" fill="none"/>
<path d="M1086.5 120.5V617.5M1129.5 120.5V617.5M1171.5 120.5V617.5M1214.5 120.5V617.5M1257.5 120.5V617.5M1299.5 120.5V617.5M1342.5 120.5V617.5M1385.5 120.5V617.5M1427.5 120.5V617.5M1470.5 120.5V617.5M1513.5 120.5V617.5M1555.5 120.5V617.5M1598.5 120.5V617.5M1641.5 120.5V617.5M1683.5 120.5V617.5M1726.5 120.5V617.5M1768.5 120.5V617.5M1811.5 120.5V617.5M1854.5 120.5V617.5M1896.5 120.5V617.5M1086.5 546.5H1939.5M1086.5 474.5H1939.5M1086.5 403.5H1939.5M1086.5 331.5H1939.5M1086.5 260.5H1939.5M1086.5 188.5H1939.5" stroke="#b0b0b0" stroke-opacity="0.75" stroke-width="1" fill="none"/>
<path d="M114.5 746.5V1243.5M156.5 746.5V1243.5M198.5 746.5V1243.5M240.5 746.5V1243.5M282.5 746.5V1243.5M324.5 746.5V1243.5M366.5 746.5V1243.5M409.5 746.5V1243.5M451.5 746.5V1243.5M493.5 746.5V1243.5M535.5 746.5V1243.5M577.5 746.5V1243.5M619.5 746.5V1243.5M661.5 746.5V1243.5M703.5 746.5V1243.5M746.5 746.5V1243.5M788.5 746.5V1243.5M830.5 746.5V1243.5M872.5 746.5V1243.5M914.5 746.5V1243.5M956.5 746.5V1243.5M114.5 1171.5H967.5M114.5 1099.5H967.5M114.5 1026.5H967.5M114.5 954.5H967.5M114.5 882.5H967.5M114.5 810.5H967.5" stroke="#b0b0b0" stroke-opacity="0.75" stroke-width="1" fill="none"/>
<path d="M1086.5 746.5V1243.5M1128.5 746.5V1243.5M1170.5 746.5V1243.5M1212.5 746.5V1243.5M1254.5 746.5V1243.5M1297.5 746.5V1243.5M1339.5 746.5V1243.5M1381.5 746.5V1243.5M1423.5 746.5V1243.5M1465.5 746.5V1243.5M1507.5 746.5V1243.5M1549.5 746.5V1243.5M1591.5 746.5V1243.5M1634.5 746.5V1243.5M1676.5 746.5V1243.5M1718.5 746.5V1243.5M1760.5 746.5V1243.5M1802.5 746.5V1243.5M1844.5 746.5V1243.5M1886.5 746.5V1243.5M1928.5 746.5V1243.5M1086.5 1179.5H1939.5M1086.5 1115.5H1939.5M1086.5 1051.5H1939.5M1086.5 987.5H1939.5M1086.5 923.5H1939.5M1086.5 859.5H1939.5M1086.5 794.5H1939.5" stroke="#b0b0b0" stroke-opacity="0.75" stroke-width="1" fill="none"/>
<path d="M114.5 1372.5V1869.5M156.5 1372.5V1869.5M198.5 1372.5V1869.5M240.5 1372.5V1869.5M282.5 1372.5V1869.5M324.5 1372.5V1869.5M366.5 1372.5V1869.5M409.5 1372.5V1869.5M451.5 1372.5V1869.5M493.5 1372.5V1869.5M535.5 1372.5V1869.5M577.5 1372.5V1869.5M619.5 1372.5V1869.5M661.5 1372.5V1869.5M703.5 1372.5V1869.5M746.5 1372.5V1869.5M788.5 1372.5V1869.5M830.5 1372.5V1869.5M872.5 1372.5V1869.5M914.5 1372.5V1869.5M956.5 1372.5V1869.5M114.5 1801.5H967.5M114.5 1734.5H967.5M114.5 1666.5H967.5M114.5 1599.5H967.5M114.5 1531.5H967.5M114.5 1464.5H967.5M114.5 1396.5H967.5" stroke="#b0b0b0" stroke-opacity="0.75" stroke-width="1" fill="none"/>
<path d="M1086.5 1372.5V1869.5M1128.5 1372.5V1869.5M1170.5 1372.5V1869.5M1212.5 1372.5V1869.5M1254.5 1372.5V1869.5M1297.5 1372.5V1869.5M1339.5 1372.5V1869.5M1381.5 1372.5V1869.5M1423.5 1372.5V1869.5M1465.5 1372.5V1869.5M1507.5 1372.5V1869.5M1549.5 1372.5V1869.5M1591.5 1372.5V1869.5M1634.5 1372.5V1869.5M1676.5 1372.5V1869.5M1718.5 1372.5V1869.5M1760.5 1372.5V1869.5M1802.5 1372.5V1869.5M1844.5 1372.5V1869.5M1886.5 1372.5V1869.5M1928.5 1372.5V1869.5M1086.5 1781.5H1939.5M1086.5 1693.5H1939.5M1086.5 1604.5H1939.5M1086.5 1516.5H1939.5M1086.5 1428.5H1939.5" stroke="#b0b0b0" stroke-opacity="0.75" stroke-width="1" fill="none"/>
<g clip-path="url(#c00)" fill="none" stroke-linejoin="round" stroke-linecap="square">
<use href="#ememP" stroke="#ffa500" stroke-width="1.39"/>
<use href="#gmemP" stroke="#800000" stroke-width="1.39"/>
<use href="#emeanP" stroke="#000" stroke-width="14.3"/>
<use href="#emeanP" stroke="#ffa500" stroke-width="9.4"/>
<use href="#gmeanP" stroke="#000" stroke-width="14.3"/>
<use href="#gmeanP" stroke="#800000" stroke-width="9.4"/>
</g>
<g clip-path="url(#c10)" fill="none" stroke-linejoin="round" stroke-linecap="square">
<use href="#ememS" stroke="#bf00bf" stroke-width="1.39"/>
<use href="#gmemS" stroke="#0000ff" stroke-width="1.39"/>
<use href="#emeanS" stroke="#000" stroke-width="14.3"/>
<use href="#emeanS" stroke="#bf00bf" stroke-width="9.4"/>
<use href="#gmeanS" stroke="#000" stroke-width="14.3"/>
<use href="#gmeanS" stroke="#0000ff" stroke-width="9.4"/>
</g>
<g clip-path="url(#c01)">
<path d="M145.8 1243L146.4 1242.9L148 1242.7L150.1 1242.6L152.1 1242.4L153.7 1242.3L154.7 1242.2L155.3 1242L155.5 1241.9L155.6 1241.7L155.7 1241.6L155.7 1241.4L155.8 1241.3L155.8 1241.2L155.8 1241L155.8 1240.9L155.8 1240.7L155.8 1240.6L155.7 1240.5L155.7 1240.3L155.7 1240.2L155.7 1240L155.7 1239.9L155.7 1239.7L155.8 1239.6L155.8 1239.5L155.8 1239.3L155.8 1239.2L155.8 1239L155.8 1238.9L155.8 1238.8L155.7 1238.6L155.7 1238.5L155.7 1238.3L155.7 1238.2L155.7 1238L155.7 1237.9L155.7 1237.8L155.8 1237.6L155.8 1237.5L155.8 1237.3L155.8 1237.2L155.8 1237.1L155.8 1236.9L155.7 1236.8L155.7 1236.6L155.7 1236.5L155.7 1236.3L155.9 1236.3L155.9 1236.5L155.9 1236.6L155.9 1236.8L155.9 1236.9L155.8 1237.1L155.8 1237.2L155.8 1237.3L155.8 1237.5L155.9 1237.6L155.9 1237.8L155.9 1237.9L155.9 1238L155.9 1238.2L155.9 1238.3L155.9 1238.5L155.9 1238.6L155.9 1238.8L155.8 1238.9L155.8 1239L155.8 1239.2L155.8 1239.3L155.9 1239.5L155.9 1239.6L155.9 1239.7L155.9 1239.9L155.9 1240L155.9 1240.2L155.9 1240.3L155.9 1240.5L155.9 1240.6L155.9 1240.7L155.8 1240.9L155.8 1241L155.8 1241.2L155.9 1241.3L155.9 1241.4L155.9 1241.6L156 1241.7L156.1 1241.9L156.4 1242L156.9 1242.2L157.9 1242.3L159.5 1242.4L161.5 1242.6L163.6 1242.7L165.3 1242.9L165.9 1243ZM174.7 1205.6L173.9 1198.7L173.1 1191.9L172.1 1185L171.1 1178.2L170 1171.3L169 1164.5L168.1 1157.6L167.4 1150.8L167 1143.9L166.8 1137.1L167 1130.2L167.5 1123.4L168.1 1116.5L168.8 1109.7L169.6 1102.8L170.4 1096L171.1 1089.1L171.7 1082.3L172.2 1075.4L172.7 1068.6L173 1061.7L173.3 1054.9L173.6 1048L173.8 1041.2L174 1034.3L174.2 1027.5L174.5 1020.6L174.7 1013.8L175 1006.9L175.3 1000.1L175.6 993.2L175.8 986.4L176 979.5L176.2 972.7L176.3 965.8L176.3 959L176.4 952.1L176.4 945.3L176.4 938.4L176.4 931.6L176.4 924.7L176.4 917.9L176.4 911L176.4 904.2L176.5 897.3L176.5 890.5L176.5 883.6L177.2 883.6L177.3 890.5L177.3 897.3L177.3 904.2L177.3 911L177.3 917.9L177.3 924.7L177.3 931.6L177.3 938.4L177.4 945.3L177.4 952.1L177.4 959L177.5 965.8L177.6 972.7L177.7 979.5L177.9 986.4L178.2 993.2L178.4 1000.1L178.7 1006.9L179 1013.8L179.3 1020.6L179.6 1027.5L179.8 1034.3L180 1041.2L180.2 1048L180.4 1054.9L180.7 1061.7L181.1 1068.6L181.5 1075.4L182.1 1082.3L182.7 1089.1L183.4 1096L184.1 1102.8L184.9 1109.7L185.7 1116.5L186.3 1123.4L186.7 1130.2L186.9 1137.1L186.8 1143.9L186.4 1150.8L185.7 1157.6L184.8 1164.5L183.7 1171.3L182.7 1178.2L181.6 1185L180.7 1191.9L179.8 1198.7L179.1 1205.6ZM191.9 1242.9L190.5 1236.8L189.2 1230.8L188.3 1224.7L187.9 1218.7L188 1212.6L188.5 1206.6L189.4 1200.6L190.5 1194.5L191.6 1188.5L192.6 1182.4L193.5 1176.4L194.2 1170.3L194.7 1164.3L195.1 1158.2L195.4 1152.2L195.7 1146.1L196 1140.1L196.3 1134.1L196.6 1128L196.9 1122L197.2 1115.9L197.4 1109.9L197.5 1103.8L197.6 1097.8L197.7 1091.7L197.7 1085.7L197.7 1079.6L197.7 1073.6L197.7 1067.6L197.7 1061.5L197.7 1055.5L197.7 1049.4L197.7 1043.4L197.7 1037.3L197.7 1031.3L197.7 1025.2L197.7 1019.2L197.7 1013.1L197.7 1007.1L197.7 1001.1L197.7 995L197.7 989L197.7 982.9L197.7 976.9L197.7 970.8L197.7 964.8L197.7 958.7L198.1 958.7L198.2 964.8L198.1 970.8L198.1 976.9L198.1 982.9L198.1 989L198.1 995L198.2 1001.1L198.2 1007.1L198.2 1013.1L198.1 1019.2L198.1 1025.2L198.1 1031.3L198.1 1037.3L198.1 1043.4L198.2 1049.4L198.2 1055.5L198.2 1061.5L198.1 1067.6L198.1 1073.6L198.1 1079.6L198.2 1085.7L198.2 1091.7L198.3 1097.8L198.4 1103.8L198.5 1109.9L198.7 1115.9L199 1122L199.2 1128L199.5 1134.1L199.8 1140.1L200.1 1146.1L200.4 1152.2L200.8 1158.2L201.2 1164.3L201.7 1170.3L202.4 1176.4L203.2 1182.4L204.3 1188.5L205.4 1194.5L206.5 1200.6L207.4 1206.6L207.9 1212.6L208 1218.7L207.5 1224.7L206.6 1230.8L205.4 1236.8L204 1242.9ZM213.8 1232.1L213 1226.9L212.1 1221.7L211.3 1216.5L210.6 1211.3L210.1 1206.2L209.6 1201L209.3 1195.8L209.1 1190.6L209 1185.4L208.9 1180.2L209 1175.1L209.1 1169.9L209.2 1164.7L209.3 1159.5L209.5 1154.3L209.7 1149.1L209.9 1144L210.1 1138.8L210.4 1133.6L210.6 1128.4L210.9 1123.2L211.2 1118.1L211.5 1112.9L211.8 1107.7L212.2 1102.5L212.5 1097.3L212.8 1092.1L213.1 1087L213.4 1081.8L213.7 1076.6L214.1 1071.4L214.4 1066.2L214.8 1061L215.2 1055.9L215.6 1050.7L216 1045.5L216.4 1040.3L216.7 1035.1L217 1029.9L217.2 1024.8L217.5 1019.6L217.6 1014.4L217.8 1009.2L217.9 1004L218 998.9L218.1 993.7L218.2 988.5L219.8 988.5L219.9 993.7L220 998.9L220.1 1004L220.2 1009.2L220.4 1014.4L220.5 1019.6L220.8 1024.8L221 1029.9L221.3 1035.1L221.6 1040.3L222 1045.5L222.4 1050.7L222.8 1055.9L223.2 1061L223.6 1066.2L223.9 1071.4L224.3 1076.6L224.6 1081.8L224.9 1087L225.2 1092.1L225.5 1097.3L225.8 1102.5L226.2 1107.7L226.5 1112.9L226.8 1118.1L227.1 1123.2L227.4 1128.4L227.6 1133.6L227.9 1138.8L228.1 1144L228.3 1149.1L228.5 1154.3L228.7 1159.5L228.8 1164.7L228.9 1169.9L229 1175.1L229.1 1180.2L229 1185.4L228.9 1190.6L228.7 1195.8L228.4 1201L227.9 1206.2L227.4 1211.3L226.7 1216.5L225.9 1221.7L225 1226.9L224.2 1232.1ZM235.4 1235.6L234.6 1231.6L233.8 1227.7L233.1 1223.8L232.5 1219.8L232 1215.9L231.6 1211.9L231.3 1208L231.1 1204.1L231 1200.1L230.9 1196.2L230.8 1192.2L230.6 1188.3L230.5 1184.4L230.3 1180.4L230.2 1176.5L230.1 1172.5L230 1168.6L230 1164.7L230.2 1160.7L230.4 1156.8L230.8 1152.8L231.2 1148.9L231.7 1145L232.3 1141L232.9 1137.1L233.4 1133.1L233.9 1129.2L234.4 1125.3L234.8 1121.3L235.2 1117.4L235.7 1113.4L236.1 1109.5L236.6 1105.6L237 1101.6L237.4 1097.7L237.8 1093.7L238.1 1089.8L238.4 1085.9L238.6 1081.9L238.8 1078L238.9 1074L239 1070.1L239.1 1066.2L239.2 1062.2L239.2 1058.3L239.3 1054.4L239.4 1050.4L240.7 1050.4L240.8 1054.4L240.9 1058.3L241 1062.2L241 1066.2L241.1 1070.1L241.2 1074L241.3 1078L241.5 1081.9L241.7 1085.9L242 1089.8L242.3 1093.7L242.7 1097.7L243.1 1101.6L243.6 1105.6L244 1109.5L244.4 1113.4L244.9 1117.4L245.3 1121.3L245.8 1125.3L246.2 1129.2L246.7 1133.1L247.3 1137.1L247.8 1141L248.4 1145L248.9 1148.9L249.3 1152.8L249.7 1156.8L250 1160.7L250.1 1164.7L250.1 1168.6L250 1172.5L249.9 1176.5L249.8 1180.4L249.6 1184.4L249.5 1188.3L249.4 1192.2L249.2 1196.2L249.1 1200.1L249 1204.1L248.8 1208L248.5 1211.9L248.1 1215.9L247.6 1219.8L247 1223.8L246.3 1227.7L245.5 1231.6L244.7 1235.6ZM255 1242.9L254.2 1242.3L253.3 1241.8L252.6 1241.3L252 1240.8L251.5 1240.2L251.2 1239.7L251.1 1239.2L251.1 1238.7L251.2 1238.2L251.5 1237.6L251.8 1237.1L252.2 1236.6L252.7 1236.1L253.2 1235.5L253.7 1235L254.2 1234.5L254.7 1234L255.2 1233.4L255.7 1232.9L256.1 1232.4L256.6 1231.9L257 1231.3L257.3 1230.8L257.7 1230.3L257.9 1229.8L258.2 1229.2L258.4 1228.7L258.5 1228.2L258.6 1227.7L258.7 1227.1L258.8 1226.6L258.8 1226.1L258.9 1225.6L258.9 1225L258.9 1224.5L258.9 1224L258.8 1223.5L258.8 1222.9L258.8 1222.4L258.8 1221.9L258.8 1221.4L258.8 1220.9L258.9 1220.3L258.9 1219.8L259 1219.3L259.2 1218.8L259.3 1218.2L262.9 1218.2L263.1 1218.8L263.2 1219.3L263.3 1219.8L263.4 1220.3L263.4 1220.9L263.4 1221.4L263.4 1221.9L263.4 1222.4L263.4 1222.9L263.4 1223.5L263.4 1224L263.4 1224.5L263.4 1225L263.4 1225.6L263.4 1226.1L263.4 1226.6L263.5 1227.1L263.6 1227.7L263.7 1228.2L263.9 1228.7L264.1 1229.2L264.3 1229.8L264.6 1230.3L264.9 1230.8L265.3 1231.3L265.7 1231.9L266.1 1232.4L266.6 1232.9L267.1 1233.4L267.5 1234L268 1234.5L268.6 1235L269.1 1235.5L269.5 1236.1L270 1236.6L270.4 1237.1L270.8 1237.6L271 1238.2L271.2 1238.7L271.2 1239.2L271 1239.7L270.7 1240.2L270.3 1240.8L269.6 1241.3L268.9 1241.8L268.1 1242.3L267.2 1242.9ZM272.1 1243L272.3 1242.9L272.9 1242.9L274 1242.8L275.2 1242.7L276.5 1242.7L277.7 1242.6L278.7 1242.5L279.6 1242.5L280.2 1242.4L280.6 1242.3L280.8 1242.3L281 1242.2L281.1 1242.2L281.1 1242.1L281.2 1242L281.2 1242L281.2 1241.9L281.2 1241.8L281.2 1241.8L281.2 1241.7L281.2 1241.6L281.3 1241.6L281.3 1241.5L281.3 1241.4L281.4 1241.4L281.4 1241.3L281.5 1241.2L281.6 1241.2L281.6 1241.1L281.7 1241L281.7 1241L281.8 1240.9L281.8 1240.8L281.8 1240.8L281.8 1240.7L281.9 1240.6L281.9 1240.6L281.9 1240.5L281.9 1240.5L281.9 1240.4L281.9 1240.3L281.9 1240.3L281.9 1240.2L281.9 1240.1L281.9 1240.1L281.9 1240L281.9 1239.9L282.4 1239.9L282.4 1240L282.5 1240.1L282.5 1240.1L282.5 1240.2L282.5 1240.3L282.5 1240.3L282.5 1240.4L282.5 1240.5L282.5 1240.5L282.5 1240.6L282.5 1240.6L282.5 1240.7L282.5 1240.8L282.6 1240.8L282.6 1240.9L282.6 1241L282.7 1241L282.7 1241.1L282.8 1241.2L282.9 1241.2L282.9 1241.3L283 1241.4L283 1241.4L283.1 1241.5L283.1 1241.6L283.1 1241.6L283.1 1241.7L283.2 1241.8L283.2 1241.8L283.2 1241.9L283.2 1242L283.2 1242L283.2 1242.1L283.3 1242.2L283.4 1242.2L283.5 1242.3L283.8 1242.3L284.2 1242.4L284.8 1242.5L285.6 1242.5L286.7 1242.6L287.9 1242.7L289.2 1242.7L290.4 1242.8L291.4 1242.9L292.1 1242.9L292.2 1243ZM314.2 1243L314.4 1241.8L315.5 1240.5L317.1 1239.3L318.8 1238.1L320.3 1236.8L321.5 1235.6L322.4 1234.4L323 1233.2L323.5 1231.9L323.7 1230.7L323.9 1229.5L324 1228.2L324.1 1227L324.1 1225.8L324.2 1224.5L324.2 1223.3L324.2 1222.1L324.2 1220.9L324.2 1219.6L324.2 1218.4L324.2 1217.2L324.2 1215.9L324.2 1214.7L324.2 1213.5L324.2 1212.2L324.2 1211L324.2 1209.8L324.2 1208.6L324.2 1207.3L324.2 1206.1L324.2 1204.9L324.2 1203.6L324.2 1202.4L324.2 1201.2L324.2 1199.9L324.2 1198.7L324.2 1197.5L324.2 1196.2L324.2 1195L324.2 1193.8L324.2 1192.6L324.2 1191.3L324.2 1190.1L324.2 1188.9L324.2 1187.6L324.2 1186.4L324.2 1185.2L324.4 1185.2L324.4 1186.4L324.4 1187.6L324.4 1188.9L324.4 1190.1L324.4 1191.3L324.4 1192.6L324.4 1193.8L324.4 1195L324.4 1196.2L324.4 1197.5L324.4 1198.7L324.4 1199.9L324.4 1201.2L324.4 1202.4L324.4 1203.6L324.4 1204.9L324.4 1206.1L324.4 1207.3L324.4 1208.6L324.4 1209.8L324.4 1211L324.4 1212.2L324.4 1213.5L324.4 1214.7L324.4 1215.9L324.4 1217.2L324.4 1218.4L324.4 1219.6L324.4 1220.9L324.4 1222.1L324.4 1223.3L324.4 1224.5L324.5 1225.8L324.5 1227L324.6 1228.2L324.7 1229.5L324.9 1230.7L325.1 1231.9L325.6 1233.2L326.2 1234.4L327.1 1235.6L328.3 1236.8L329.8 1238.1L331.5 1239.3L333.1 1240.5L334.2 1241.8L334.4 1243ZM336 1243L335.4 1242.2L335.3 1241.5L335.7 1240.7L336.4 1240L337.4 1239.2L338.6 1238.5L339.8 1237.7L340.9 1237L341.8 1236.2L342.5 1235.5L343.1 1234.7L343.5 1233.9L343.7 1233.2L343.9 1232.4L344 1231.7L344 1230.9L344 1230.2L344.1 1229.4L344.1 1228.7L344.1 1227.9L344.1 1227.2L344.2 1226.4L344.2 1225.6L344.3 1224.9L344.4 1224.1L344.4 1223.4L344.5 1222.6L344.6 1221.9L344.7 1221.1L344.8 1220.4L344.9 1219.6L344.9 1218.9L344.9 1218.1L345 1217.3L345 1216.6L345 1215.8L345 1215.1L345 1214.3L345 1213.6L345 1212.8L345 1212.1L345 1211.3L345 1210.6L345.1 1209.8L345.1 1209L345.1 1208.3L345.1 1207.5L345.6 1207.5L345.6 1208.3L345.6 1209L345.7 1209.8L345.7 1210.6L345.7 1211.3L345.7 1212.1L345.7 1212.8L345.7 1213.6L345.7 1214.3L345.7 1215.1L345.7 1215.8L345.7 1216.6L345.7 1217.3L345.8 1218.1L345.8 1218.9L345.9 1219.6L345.9 1220.4L346 1221.1L346.1 1221.9L346.2 1222.6L346.3 1223.4L346.4 1224.1L346.4 1224.9L346.5 1225.6L346.6 1226.4L346.6 1227.2L346.6 1227.9L346.6 1228.7L346.7 1229.4L346.7 1230.2L346.7 1230.9L346.8 1231.7L346.8 1232.4L347 1233.2L347.3 1233.9L347.6 1234.7L348.2 1235.5L348.9 1236.2L349.9 1237L350.9 1237.7L352.1 1238.5L353.3 1239.2L354.3 1240L355.1 1240.7L355.4 1241.5L355.3 1242.2L354.7 1243ZM356.4 1243L356.4 1241.1L357.4 1239.3L359 1237.4L360.7 1235.6L362.3 1233.7L363.6 1231.9L364.6 1230L365.3 1228.1L365.7 1226.3L366 1224.4L366.1 1222.6L366.2 1220.7L366.2 1218.8L366.3 1217L366.3 1215.1L366.3 1213.3L366.4 1211.4L366.4 1209.6L366.4 1207.7L366.4 1205.8L366.3 1204L366.3 1202.1L366.3 1200.3L366.3 1198.4L366.3 1196.5L366.3 1194.7L366.3 1192.8L366.3 1191L366.4 1189.1L366.4 1187.3L366.4 1185.4L366.3 1183.5L366.3 1181.7L366.3 1179.8L366.3 1178L366.3 1176.1L366.3 1174.3L366.3 1172.4L366.3 1170.5L366.4 1168.7L366.4 1166.8L366.4 1165L366.4 1163.1L366.3 1161.2L366.3 1159.4L366.3 1157.5L366.3 1155.7L366.6 1155.7L366.6 1157.5L366.5 1159.4L366.5 1161.2L366.5 1163.1L366.5 1165L366.5 1166.8L366.5 1168.7L366.5 1170.5L366.5 1172.4L366.6 1174.3L366.6 1176.1L366.6 1178L366.5 1179.8L366.5 1181.7L366.5 1183.5L366.5 1185.4L366.5 1187.3L366.5 1189.1L366.5 1191L366.5 1192.8L366.5 1194.7L366.6 1196.5L366.6 1198.4L366.5 1200.3L366.5 1202.1L366.5 1204L366.5 1205.8L366.5 1207.7L366.5 1209.6L366.5 1211.4L366.5 1213.3L366.5 1215.1L366.6 1217L366.6 1218.8L366.6 1220.7L366.7 1222.6L366.9 1224.4L367.1 1226.3L367.6 1228.1L368.2 1230L369.2 1231.9L370.5 1233.7L372.1 1235.6L373.9 1237.4L375.4 1239.3L376.4 1241.1L376.5 1243ZM377.4 1243L377.5 1242.2L378.3 1241.3L379.7 1240.5L381.3 1239.7L382.7 1238.9L383.9 1238L384.7 1237.2L385.3 1236.4L385.7 1235.5L385.9 1234.7L386.2 1233.9L386.4 1233L386.6 1232.2L386.8 1231.4L387 1230.6L387.1 1229.7L387.2 1228.9L387.2 1228.1L387.3 1227.2L387.3 1226.4L387.3 1225.6L387.4 1224.8L387.4 1223.9L387.4 1223.1L387.4 1222.3L387.3 1221.4L387.3 1220.6L387.3 1219.8L387.3 1218.9L387.3 1218.1L387.4 1217.3L387.4 1216.5L387.4 1215.6L387.4 1214.8L387.4 1214L387.3 1213.1L387.3 1212.3L387.3 1211.5L387.3 1210.6L387.4 1209.8L387.4 1209L387.4 1208.2L387.4 1207.3L387.4 1206.5L387.3 1205.7L387.3 1204.8L387.3 1204L387.6 1204L387.6 1204.8L387.6 1205.7L387.6 1206.5L387.6 1207.3L387.6 1208.2L387.6 1209L387.6 1209.8L387.6 1210.6L387.6 1211.5L387.6 1212.3L387.6 1213.1L387.6 1214L387.6 1214.8L387.6 1215.6L387.6 1216.5L387.6 1217.3L387.6 1218.1L387.6 1218.9L387.6 1219.8L387.6 1220.6L387.6 1221.4L387.6 1222.3L387.6 1223.1L387.6 1223.9L387.6 1224.8L387.6 1225.6L387.6 1226.4L387.7 1227.2L387.7 1228.1L387.8 1228.9L387.9 1229.7L388 1230.6L388.2 1231.4L388.4 1232.2L388.6 1233L388.8 1233.9L389 1234.7L389.3 1235.5L389.7 1236.4L390.2 1237.2L391.1 1238L392.2 1238.9L393.7 1239.7L395.3 1240.5L396.7 1241.3L397.5 1242.2L397.5 1243ZM399.1 1243L398.5 1240.4L398.5 1237.8L399 1235.2L400 1232.6L401.3 1230L402.7 1227.4L403.9 1224.8L405 1222.2L405.8 1219.6L406.4 1217L406.8 1214.4L407 1211.8L407.1 1209.2L407.2 1206.6L407.2 1204L407.3 1201.4L407.3 1198.8L407.3 1196.2L407.4 1193.6L407.4 1191L407.5 1188.4L407.6 1185.8L407.7 1183.2L407.8 1180.6L407.9 1178L408 1175.4L408.1 1172.8L408.1 1170.2L408.2 1167.6L408.2 1165L408.3 1162.4L408.3 1159.8L408.3 1157.2L408.3 1154.6L408.3 1152L408.3 1149.4L408.3 1146.8L408.3 1144.2L408.3 1141.6L408.3 1139L408.3 1136.4L408.3 1133.8L408.3 1131.2L408.3 1128.6L408.3 1126L408.3 1123.4L408.3 1120.8L408.7 1120.8L408.8 1123.4L408.8 1126L408.8 1128.6L408.8 1131.2L408.8 1133.8L408.8 1136.4L408.8 1139L408.8 1141.6L408.8 1144.2L408.8 1146.8L408.8 1149.4L408.8 1152L408.8 1154.6L408.8 1157.2L408.8 1159.8L408.8 1162.4L408.8 1165L408.9 1167.6L408.9 1170.2L409 1172.8L409.1 1175.4L409.2 1178L409.3 1180.6L409.4 1183.2L409.5 1185.8L409.6 1188.4L409.6 1191L409.7 1193.6L409.8 1196.2L409.8 1198.8L409.8 1201.4L409.8 1204L409.9 1206.6L410 1209.2L410.1 1211.8L410.3 1214.4L410.7 1217L411.3 1219.6L412.1 1222.2L413.2 1224.8L414.4 1227.4L415.8 1230L417 1232.6L418 1235.2L418.6 1237.8L418.6 1240.4L418 1243ZM419.7 1243L419.5 1241.2L419.9 1239.4L420.6 1237.7L421.6 1235.9L422.8 1234.1L424 1232.3L425 1230.6L426 1228.8L426.7 1227L427.2 1225.2L427.6 1223.5L427.8 1221.7L428 1219.9L428.1 1218.1L428.1 1216.4L428.2 1214.6L428.2 1212.8L428.2 1211L428.3 1209.3L428.3 1207.5L428.4 1205.7L428.4 1203.9L428.5 1202.2L428.6 1200.4L428.7 1198.6L428.8 1196.8L428.9 1195.1L429 1193.3L429.1 1191.5L429.2 1189.7L429.2 1188L429.2 1186.2L429.3 1184.4L429.3 1182.6L429.3 1180.9L429.3 1179.1L429.3 1177.3L429.3 1175.5L429.3 1173.7L429.3 1172L429.3 1170.2L429.3 1168.4L429.3 1166.6L429.3 1164.9L429.3 1163.1L429.3 1161.3L429.4 1159.5L429.8 1159.5L429.9 1161.3L429.9 1163.1L429.9 1164.9L429.9 1166.6L429.9 1168.4L429.9 1170.2L429.9 1172L429.9 1173.7L429.9 1175.5L429.9 1177.3L429.9 1179.1L429.9 1180.9L429.9 1182.6L429.9 1184.4L430 1186.2L430 1188L430 1189.7L430.1 1191.5L430.2 1193.3L430.3 1195.1L430.4 1196.8L430.5 1198.6L430.6 1200.4L430.7 1202.2L430.8 1203.9L430.8 1205.7L430.9 1207.5L430.9 1209.3L431 1211L431 1212.8L431 1214.6L431.1 1216.4L431.1 1218.1L431.2 1219.9L431.4 1221.7L431.6 1223.5L432 1225.2L432.5 1227L433.2 1228.8L434.2 1230.6L435.2 1232.3L436.4 1234.1L437.6 1235.9L438.6 1237.7L439.3 1239.4L439.6 1241.2L439.5 1243ZM440.6 1243L440.6 1240.4L441.3 1237.9L442.6 1235.3L444.1 1232.8L445.5 1230.2L446.8 1227.6L447.7 1225.1L448.3 1222.5L448.7 1219.9L448.9 1217.4L449.1 1214.8L449.2 1212.3L449.4 1209.7L449.6 1207.1L449.7 1204.6L449.9 1202L450.1 1199.4L450.2 1196.9L450.3 1194.3L450.4 1191.8L450.4 1189.2L450.5 1186.6L450.5 1184.1L450.5 1181.5L450.5 1178.9L450.5 1176.4L450.5 1173.8L450.5 1171.3L450.5 1168.7L450.5 1166.1L450.5 1163.6L450.5 1161L450.5 1158.5L450.5 1155.9L450.5 1153.3L450.5 1150.8L450.5 1148.2L450.5 1145.6L450.5 1143.1L450.5 1140.5L450.5 1138L450.5 1135.4L450.5 1132.8L450.5 1130.3L450.5 1127.7L450.5 1125.1L450.5 1122.6L450.8 1122.6L450.8 1125.1L450.8 1127.7L450.8 1130.3L450.8 1132.8L450.8 1135.4L450.8 1138L450.8 1140.5L450.8 1143.1L450.8 1145.6L450.8 1148.2L450.8 1150.8L450.8 1153.3L450.8 1155.9L450.8 1158.5L450.8 1161L450.8 1163.6L450.8 1166.1L450.8 1168.7L450.8 1171.3L450.8 1173.8L450.8 1176.4L450.8 1178.9L450.8 1181.5L450.8 1184.1L450.9 1186.6L450.9 1189.2L451 1191.8L451 1194.3L451.1 1196.9L451.3 1199.4L451.4 1202L451.6 1204.6L451.8 1207.1L451.9 1209.7L452.1 1212.3L452.2 1214.8L452.4 1217.4L452.6 1219.9L453 1222.5L453.6 1225.1L454.5 1227.6L455.8 1230.2L457.2 1232.8L458.7 1235.3L460 1237.9L460.7 1240.4L460.7 1243ZM461.7 1243L461.8 1241.6L462.5 1240.1L463.5 1238.7L464.8 1237.3L466.2 1235.8L467.4 1234.4L468.4 1233L469.2 1231.5L469.8 1230.1L470.2 1228.6L470.4 1227.2L470.5 1225.8L470.6 1224.3L470.6 1222.9L470.7 1221.5L470.7 1220L470.7 1218.6L470.7 1217.2L470.7 1215.7L470.7 1214.3L470.8 1212.9L470.8 1211.4L470.9 1210L471 1208.6L471 1207.1L471.1 1205.7L471.2 1204.2L471.3 1202.8L471.3 1201.4L471.4 1199.9L471.4 1198.5L471.4 1197.1L471.4 1195.6L471.4 1194.2L471.5 1192.8L471.5 1191.3L471.5 1189.9L471.5 1188.5L471.5 1187L471.5 1185.6L471.5 1184.2L471.5 1182.7L471.5 1181.3L471.5 1179.8L471.5 1178.4L471.5 1177L471.5 1175.5L471.9 1175.5L471.9 1177L472 1178.4L472 1179.8L472 1181.3L472 1182.7L472 1184.2L472 1185.6L472 1187L472 1188.5L472 1189.9L472 1191.3L472 1192.8L472 1194.2L472 1195.6L472 1197.1L472 1198.5L472.1 1199.9L472.1 1201.4L472.2 1202.8L472.2 1204.2L472.3 1205.7L472.4 1207.1L472.5 1208.6L472.5 1210L472.6 1211.4L472.7 1212.9L472.7 1214.3L472.7 1215.7L472.7 1217.2L472.8 1218.6L472.8 1220L472.8 1221.5L472.8 1222.9L472.8 1224.3L472.9 1225.8L473 1227.2L473.3 1228.6L473.6 1230.1L474.2 1231.5L475 1233L476 1234.4L477.3 1235.8L478.6 1237.3L479.9 1238.7L481 1240.1L481.6 1241.6L481.8 1243ZM482.9 1243L482.7 1241.8L482.9 1240.6L483.3 1239.4L484 1238.2L484.9 1236.9L485.9 1235.7L486.9 1234.5L487.8 1233.3L488.7 1232.1L489.4 1230.9L490 1229.7L490.4 1228.5L490.8 1227.3L491.1 1226L491.2 1224.8L491.4 1223.6L491.4 1222.4L491.5 1221.2L491.5 1220L491.5 1218.8L491.6 1217.6L491.6 1216.3L491.6 1215.1L491.6 1213.9L491.6 1212.7L491.6 1211.5L491.6 1210.3L491.6 1209.1L491.6 1207.9L491.6 1206.7L491.7 1205.4L491.7 1204.2L491.7 1203L491.8 1201.8L491.8 1200.6L491.8 1199.4L491.9 1198.2L491.9 1197L492 1195.8L492 1194.5L492.1 1193.3L492.1 1192.1L492.1 1190.9L492.2 1189.7L492.2 1188.5L492.3 1187.3L492.3 1186.1L493.2 1186.1L493.3 1187.3L493.3 1188.5L493.4 1189.7L493.4 1190.9L493.5 1192.1L493.5 1193.3L493.5 1194.5L493.6 1195.8L493.6 1197L493.7 1198.2L493.7 1199.4L493.8 1200.6L493.8 1201.8L493.8 1203L493.9 1204.2L493.9 1205.4L493.9 1206.7L493.9 1207.9L494 1209.1L494 1210.3L494 1211.5L494 1212.7L494 1213.9L494 1215.1L494 1216.3L494 1217.6L494 1218.8L494 1220L494.1 1221.2L494.1 1222.4L494.2 1223.6L494.3 1224.8L494.5 1226L494.8 1227.3L495.1 1228.5L495.6 1229.7L496.2 1230.9L496.9 1232.1L497.7 1233.3L498.7 1234.5L499.7 1235.7L500.6 1236.9L501.5 1238.2L502.2 1239.4L502.7 1240.6L502.8 1241.8L502.6 1243ZM503.8 1243L503.8 1240.1L504.3 1237.2L505.1 1234.3L506.3 1231.4L507.6 1228.5L508.9 1225.6L510 1222.7L510.8 1219.8L511.5 1216.9L512 1214.1L512.3 1211.2L512.5 1208.3L512.6 1205.4L512.6 1202.5L512.7 1199.6L512.7 1196.7L512.7 1193.8L512.7 1190.9L512.7 1188L512.7 1185.1L512.8 1182.2L512.8 1179.3L512.9 1176.4L512.9 1173.5L513 1170.6L513.1 1167.7L513.2 1164.8L513.3 1162L513.3 1159.1L513.4 1156.2L513.4 1153.3L513.5 1150.4L513.5 1147.5L513.5 1144.6L513.5 1141.7L513.5 1138.8L513.5 1135.9L513.5 1133L513.5 1130.1L513.5 1127.2L513.6 1124.3L513.6 1121.4L513.6 1118.5L513.6 1115.6L513.6 1112.7L513.6 1109.9L513.6 1107L514.1 1107L514.1 1109.9L514.1 1112.7L514.1 1115.6L514.1 1118.5L514.1 1121.4L514.1 1124.3L514.1 1127.2L514.1 1130.1L514.1 1133L514.1 1135.9L514.1 1138.8L514.1 1141.7L514.2 1144.6L514.2 1147.5L514.2 1150.4L514.2 1153.3L514.3 1156.2L514.4 1159.1L514.4 1162L514.5 1164.8L514.6 1167.7L514.7 1170.6L514.7 1173.5L514.8 1176.4L514.9 1179.3L514.9 1182.2L514.9 1185.1L515 1188L515 1190.9L515 1193.8L515 1196.7L515 1199.6L515 1202.5L515.1 1205.4L515.2 1208.3L515.4 1211.2L515.7 1214.1L516.2 1216.9L516.8 1219.8L517.7 1222.7L518.8 1225.6L520.1 1228.5L521.4 1231.4L522.5 1234.3L523.4 1237.2L523.9 1240.1L523.8 1243ZM524.9 1243L524.9 1240.2L525.2 1237.4L526 1234.6L527 1231.8L528.2 1229L529.3 1226.2L530.4 1223.4L531.4 1220.6L532.2 1217.7L532.7 1214.9L533.1 1212.1L533.4 1209.3L533.6 1206.5L533.7 1203.7L533.8 1200.9L533.8 1198.1L533.8 1195.3L533.8 1192.5L533.8 1189.7L533.8 1186.9L533.8 1184.1L533.8 1181.3L533.9 1178.5L533.9 1175.7L533.9 1172.8L533.9 1170L534 1167.2L534 1164.4L534.1 1161.6L534.1 1158.8L534.2 1156L534.2 1153.2L534.3 1150.4L534.3 1147.6L534.4 1144.8L534.4 1142L534.4 1139.2L534.5 1136.4L534.5 1133.6L534.5 1130.8L534.5 1127.9L534.5 1125.1L534.5 1122.3L534.5 1119.5L534.6 1116.7L534.6 1113.9L534.6 1111.1L535.2 1111.1L535.2 1113.9L535.2 1116.7L535.3 1119.5L535.3 1122.3L535.3 1125.1L535.3 1127.9L535.3 1130.8L535.3 1133.6L535.3 1136.4L535.4 1139.2L535.4 1142L535.4 1144.8L535.5 1147.6L535.5 1150.4L535.6 1153.2L535.6 1156L535.7 1158.8L535.7 1161.6L535.8 1164.4L535.8 1167.2L535.9 1170L535.9 1172.8L535.9 1175.7L535.9 1178.5L536 1181.3L536 1184.1L536 1186.9L536 1189.7L536 1192.5L536 1195.3L536 1198.1L536 1200.9L536.1 1203.7L536.2 1206.5L536.4 1209.3L536.7 1212.1L537.1 1214.9L537.6 1217.7L538.4 1220.6L539.4 1223.4L540.5 1226.2L541.6 1229L542.8 1231.8L543.8 1234.6L544.6 1237.4L544.9 1240.2L544.9 1243ZM546.1 1243L545.9 1240.4L546.1 1237.8L546.7 1235.1L547.6 1232.5L548.6 1229.9L549.7 1227.3L550.8 1224.7L551.7 1222.1L552.4 1219.4L553.1 1216.8L553.5 1214.2L553.9 1211.6L554.1 1209L554.3 1206.3L554.4 1203.7L554.4 1201.1L554.5 1198.5L554.5 1195.9L554.5 1193.3L554.5 1190.6L554.6 1188L554.6 1185.4L554.6 1182.8L554.7 1180.2L554.8 1177.5L554.8 1174.9L554.9 1172.3L555 1169.7L555.1 1167.1L555.2 1164.5L555.3 1161.8L555.4 1159.2L555.4 1156.6L555.5 1154L555.5 1151.4L555.6 1148.7L555.6 1146.1L555.6 1143.5L555.6 1140.9L555.6 1138.3L555.6 1135.7L555.6 1133L555.6 1130.4L555.6 1127.8L555.6 1125.2L555.7 1122.6L555.7 1119.9L556.2 1119.9L556.3 1122.6L556.3 1125.2L556.3 1127.8L556.3 1130.4L556.3 1133L556.3 1135.7L556.3 1138.3L556.3 1140.9L556.3 1143.5L556.3 1146.1L556.4 1148.7L556.4 1151.4L556.4 1154L556.5 1156.6L556.5 1159.2L556.6 1161.8L556.7 1164.5L556.8 1167.1L556.9 1169.7L557 1172.3L557.1 1174.9L557.2 1177.5L557.2 1180.2L557.3 1182.8L557.3 1185.4L557.4 1188L557.4 1190.6L557.4 1193.3L557.4 1195.9L557.5 1198.5L557.5 1201.1L557.6 1203.7L557.7 1206.3L557.8 1209L558.1 1211.6L558.4 1214.2L558.9 1216.8L559.5 1219.4L560.2 1222.1L561.2 1224.7L562.2 1227.3L563.3 1229.9L564.3 1232.5L565.2 1235.1L565.8 1237.8L566 1240.4L565.8 1243ZM567.6 1243L567.1 1240.2L567 1237.3L567.3 1234.5L567.9 1231.7L568.8 1228.9L569.8 1226L570.9 1223.2L572 1220.4L572.9 1217.6L573.7 1214.7L574.3 1211.9L574.8 1209.1L575.1 1206.3L575.3 1203.4L575.5 1200.6L575.5 1197.8L575.6 1194.9L575.6 1192.1L575.6 1189.3L575.7 1186.5L575.7 1183.6L575.7 1180.8L575.7 1178L575.8 1175.2L575.8 1172.3L575.9 1169.5L576 1166.7L576.1 1163.9L576.2 1161L576.3 1158.2L576.3 1155.4L576.4 1152.5L576.5 1149.7L576.5 1146.9L576.6 1144.1L576.6 1141.2L576.6 1138.4L576.6 1135.6L576.6 1132.8L576.6 1129.9L576.7 1127.1L576.7 1124.3L576.7 1121.5L576.7 1118.6L576.7 1115.8L576.7 1113L576.7 1110.1L577.3 1110.1L577.3 1113L577.3 1115.8L577.4 1118.6L577.4 1121.5L577.4 1124.3L577.4 1127.1L577.4 1129.9L577.4 1132.8L577.4 1135.6L577.4 1138.4L577.4 1141.2L577.5 1144.1L577.5 1146.9L577.6 1149.7L577.6 1152.5L577.7 1155.4L577.8 1158.2L577.9 1161L578 1163.9L578 1166.7L578.1 1169.5L578.2 1172.3L578.3 1175.2L578.3 1178L578.3 1180.8L578.4 1183.6L578.4 1186.5L578.4 1189.3L578.4 1192.1L578.4 1194.9L578.5 1197.8L578.6 1200.6L578.7 1203.4L578.9 1206.3L579.3 1209.1L579.7 1211.9L580.3 1214.7L581.1 1217.6L582 1220.4L583.1 1223.2L584.2 1226L585.2 1228.9L586.2 1231.7L586.8 1234.5L587.1 1237.3L586.9 1240.2L586.4 1243ZM588.1 1243L588 1238.7L588.7 1234.3L590 1230L591.5 1225.6L592.9 1221.3L594.1 1217L595 1212.6L595.6 1208.3L596 1203.9L596.3 1199.6L596.5 1195.2L596.7 1190.9L596.9 1186.6L597.1 1182.2L597.3 1177.9L597.5 1173.5L597.7 1169.2L597.7 1164.9L597.8 1160.5L597.9 1156.2L597.9 1151.8L597.9 1147.5L598 1143.1L598 1138.8L598 1134.5L597.9 1130.1L597.9 1125.8L597.9 1121.4L597.9 1117.1L597.9 1112.8L597.9 1108.4L598 1104.1L598 1099.7L598 1095.4L597.9 1091L597.9 1086.7L597.9 1082.4L597.9 1078L597.9 1073.7L597.9 1069.3L598 1065L598 1060.7L598 1056.3L597.9 1052L597.9 1047.6L597.9 1043.3L597.9 1039L598.2 1039L598.2 1043.3L598.2 1047.6L598.2 1052L598.2 1056.3L598.2 1060.7L598.2 1065L598.2 1069.3L598.2 1073.7L598.2 1078L598.2 1082.4L598.2 1086.7L598.2 1091L598.2 1095.4L598.2 1099.7L598.2 1104.1L598.2 1108.4L598.2 1112.8L598.2 1117.1L598.2 1121.4L598.2 1125.8L598.2 1130.1L598.2 1134.5L598.2 1138.8L598.2 1143.1L598.2 1147.5L598.3 1151.8L598.3 1156.2L598.3 1160.5L598.4 1164.9L598.5 1169.2L598.6 1173.5L598.8 1177.9L599 1182.2L599.2 1186.6L599.4 1190.9L599.6 1195.2L599.9 1199.6L600.1 1203.9L600.5 1208.3L601.1 1212.6L602 1217L603.2 1221.3L604.7 1225.6L606.2 1230L607.4 1234.3L608.1 1238.7L608.1 1243ZM609.2 1243L609.1 1240.3L609.7 1237.5L610.9 1234.8L612.3 1232L613.8 1229.3L615 1226.6L616 1223.8L616.6 1221.1L617 1218.3L617.3 1215.6L617.5 1212.9L617.6 1210.1L617.8 1207.4L617.9 1204.7L618.1 1201.9L618.3 1199.2L618.5 1196.4L618.6 1193.7L618.7 1191L618.8 1188.2L618.9 1185.5L618.9 1182.7L619 1180L619 1177.3L619 1174.5L619 1171.8L619 1169L619 1166.3L619 1163.6L619 1160.8L619 1158.1L619 1155.4L619 1152.6L619 1149.9L619 1147.1L619 1144.4L619 1141.7L619 1138.9L619 1136.2L619 1133.4L619 1130.7L619 1128L619 1125.2L619 1122.5L619 1119.7L619 1117L619 1114.3L619.3 1114.3L619.3 1117L619.3 1119.7L619.3 1122.5L619.3 1125.2L619.3 1128L619.3 1130.7L619.3 1133.4L619.3 1136.2L619.3 1138.9L619.3 1141.7L619.3 1144.4L619.3 1147.1L619.3 1149.9L619.3 1152.6L619.3 1155.4L619.3 1158.1L619.3 1160.8L619.3 1163.6L619.3 1166.3L619.3 1169L619.3 1171.8L619.3 1174.5L619.3 1177.3L619.3 1180L619.4 1182.7L619.4 1185.5L619.5 1188.2L619.5 1191L619.7 1193.7L619.8 1196.4L620 1199.2L620.2 1201.9L620.3 1204.7L620.5 1207.4L620.7 1210.1L620.8 1212.9L621 1215.6L621.3 1218.3L621.7 1221.1L622.3 1223.8L623.3 1226.6L624.5 1229.3L625.9 1232L627.4 1234.8L628.6 1237.5L629.2 1240.3L629.1 1243ZM630.3 1243L630.2 1241.1L630.3 1239.2L630.7 1237.3L631.4 1235.4L632.3 1233.5L633.3 1231.6L634.3 1229.7L635.2 1227.8L636 1225.9L636.7 1223.9L637.3 1222L637.8 1220.1L638.1 1218.2L638.4 1216.3L638.6 1214.4L638.7 1212.5L638.8 1210.6L638.8 1208.7L638.9 1206.8L638.9 1204.9L638.9 1203L638.9 1201.1L638.9 1199.2L638.9 1197.3L638.9 1195.4L638.9 1193.5L639 1191.6L639 1189.7L639 1187.8L639 1185.8L639.1 1183.9L639.1 1182L639.1 1180.1L639.2 1178.2L639.2 1176.3L639.3 1174.4L639.3 1172.5L639.4 1170.6L639.4 1168.7L639.5 1166.8L639.5 1164.9L639.6 1163L639.6 1161.1L639.6 1159.2L639.7 1157.3L639.7 1155.4L639.8 1153.5L640.6 1153.5L640.7 1155.4L640.7 1157.3L640.8 1159.2L640.8 1161.1L640.8 1163L640.9 1164.9L640.9 1166.8L641 1168.7L641 1170.6L641.1 1172.5L641.1 1174.4L641.2 1176.3L641.2 1178.2L641.3 1180.1L641.3 1182L641.3 1183.9L641.4 1185.8L641.4 1187.8L641.4 1189.7L641.4 1191.6L641.5 1193.5L641.5 1195.4L641.5 1197.3L641.5 1199.2L641.5 1201.1L641.5 1203L641.5 1204.9L641.5 1206.8L641.6 1208.7L641.6 1210.6L641.7 1212.5L641.8 1214.4L642 1216.3L642.3 1218.2L642.6 1220.1L643.1 1222L643.7 1223.9L644.4 1225.9L645.2 1227.8L646.1 1229.7L647.1 1231.6L648.1 1233.5L649 1235.4L649.7 1237.3L650.1 1239.2L650.2 1241.1L650.1 1243ZM651.4 1243L651.2 1240.7L651.5 1238.4L652.1 1236.1L653.1 1233.7L654.2 1231.4L655.3 1229.1L656.4 1226.8L657.3 1224.5L658.1 1222.2L658.8 1219.9L659.2 1217.6L659.5 1215.2L659.8 1212.9L659.9 1210.6L660 1208.3L660 1206L660 1203.7L660.1 1201.4L660.1 1199L660.1 1196.7L660.1 1194.4L660.1 1192.1L660.1 1189.8L660.1 1187.5L660.2 1185.2L660.2 1182.9L660.2 1180.5L660.3 1178.2L660.4 1175.9L660.4 1173.6L660.5 1171.3L660.6 1169L660.6 1166.7L660.7 1164.4L660.7 1162L660.8 1159.7L660.8 1157.4L660.8 1155.1L660.8 1152.8L660.8 1150.5L660.9 1148.2L660.9 1145.8L660.9 1143.5L660.9 1141.2L660.9 1138.9L660.9 1136.6L661 1134.3L661.5 1134.3L661.6 1136.6L661.6 1138.9L661.6 1141.2L661.6 1143.5L661.7 1145.8L661.7 1148.2L661.7 1150.5L661.7 1152.8L661.7 1155.1L661.7 1157.4L661.8 1159.7L661.8 1162L661.8 1164.4L661.9 1166.7L662 1169L662 1171.3L662.1 1173.6L662.2 1175.9L662.2 1178.2L662.3 1180.5L662.3 1182.9L662.4 1185.2L662.4 1187.5L662.4 1189.8L662.4 1192.1L662.4 1194.4L662.4 1196.7L662.5 1199L662.5 1201.4L662.5 1203.7L662.5 1206L662.6 1208.3L662.6 1210.6L662.8 1212.9L663 1215.2L663.3 1217.6L663.8 1219.9L664.4 1222.2L665.2 1224.5L666.1 1226.8L667.2 1229.1L668.4 1231.4L669.5 1233.7L670.4 1236.1L671 1238.4L671.3 1240.7L671.2 1243ZM672.3 1243L672.3 1239.5L672.8 1236.1L673.9 1232.6L675.2 1229.1L676.6 1225.7L677.9 1222.2L678.9 1218.8L679.7 1215.3L680.2 1211.8L680.6 1208.4L680.8 1204.9L680.9 1201.4L681 1198L681 1194.5L681.1 1191.1L681.1 1187.6L681.1 1184.1L681.2 1180.7L681.3 1177.2L681.4 1173.7L681.5 1170.3L681.6 1166.8L681.7 1163.4L681.8 1159.9L681.9 1156.4L682 1153L682 1149.5L682.1 1146L682.1 1142.6L682.1 1139.1L682.1 1135.6L682.1 1132.2L682.1 1128.7L682.1 1125.3L682.1 1121.8L682.1 1118.3L682.1 1114.9L682.1 1111.4L682.1 1107.9L682.1 1104.5L682.1 1101L682.1 1097.6L682.1 1094.1L682.1 1090.6L682.1 1087.2L682.1 1083.7L682.1 1080.2L682.5 1080.2L682.5 1083.7L682.5 1087.2L682.5 1090.6L682.5 1094.1L682.5 1097.6L682.5 1101L682.5 1104.5L682.5 1107.9L682.5 1111.4L682.5 1114.9L682.5 1118.3L682.5 1121.8L682.5 1125.3L682.5 1128.7L682.5 1132.2L682.5 1135.6L682.5 1139.1L682.6 1142.6L682.6 1146L682.6 1149.5L682.7 1153L682.7 1156.4L682.8 1159.9L682.9 1163.4L683 1166.8L683.1 1170.3L683.2 1173.7L683.3 1177.2L683.4 1180.7L683.5 1184.1L683.5 1187.6L683.6 1191.1L683.6 1194.5L683.7 1198L683.7 1201.4L683.8 1204.9L684 1208.4L684.4 1211.8L684.9 1215.3L685.7 1218.8L686.8 1222.2L688.1 1225.7L689.5 1229.1L690.8 1232.6L691.8 1236.1L692.4 1239.5L692.3 1243ZM693.5 1243L693.3 1240.5L693.5 1238L694 1235.5L694.7 1233L695.6 1230.5L696.6 1228L697.6 1225.5L698.5 1223L699.4 1220.5L700.1 1218.1L700.7 1215.6L701.2 1213.1L701.5 1210.6L701.8 1208.1L702 1205.6L702.1 1203.1L702.2 1200.6L702.2 1198.1L702.2 1195.6L702.2 1193.1L702.3 1190.6L702.3 1188.1L702.3 1185.6L702.3 1183.1L702.3 1180.6L702.3 1178.1L702.3 1175.6L702.3 1173.2L702.3 1170.7L702.3 1168.2L702.3 1165.7L702.3 1163.2L702.3 1160.7L702.3 1158.2L702.4 1155.7L702.4 1153.2L702.4 1150.7L702.4 1148.2L702.5 1145.7L702.5 1143.2L702.6 1140.7L702.6 1138.2L702.6 1135.7L702.7 1133.2L702.8 1130.7L702.8 1128.3L702.9 1125.8L703.9 1125.8L703.9 1128.3L704 1130.7L704.1 1133.2L704.1 1135.7L704.2 1138.2L704.2 1140.7L704.2 1143.2L704.3 1145.7L704.3 1148.2L704.3 1150.7L704.4 1153.2L704.4 1155.7L704.4 1158.2L704.4 1160.7L704.4 1163.2L704.5 1165.7L704.5 1168.2L704.5 1170.7L704.5 1173.2L704.5 1175.6L704.5 1178.1L704.5 1180.6L704.5 1183.1L704.5 1185.6L704.5 1188.1L704.5 1190.6L704.5 1193.1L704.5 1195.6L704.6 1198.1L704.6 1200.6L704.7 1203.1L704.8 1205.6L705 1208.1L705.2 1210.6L705.6 1213.1L706.1 1215.6L706.7 1218.1L707.4 1220.5L708.2 1223L709.2 1225.5L710.2 1228L711.2 1230.5L712.1 1233L712.8 1235.5L713.3 1238L713.4 1240.5L713.3 1243ZM714.4 1243L714.4 1238.5L715.1 1234L716.2 1229.5L717.6 1224.9L719.1 1220.4L720.3 1215.9L721.3 1211.4L722.1 1206.9L722.6 1202.4L722.9 1197.9L723 1193.3L723.1 1188.8L723.2 1184.3L723.2 1179.8L723.2 1175.3L723.3 1170.8L723.4 1166.3L723.4 1161.7L723.5 1157.2L723.7 1152.7L723.8 1148.2L723.9 1143.7L724 1139.2L724 1134.7L724.1 1130.1L724.2 1125.6L724.2 1121.1L724.2 1116.6L724.2 1112.1L724.2 1107.6L724.2 1103.1L724.2 1098.5L724.2 1094L724.2 1089.5L724.2 1085L724.2 1080.5L724.2 1076L724.2 1071.5L724.2 1066.9L724.2 1062.4L724.2 1057.9L724.2 1053.4L724.2 1048.9L724.2 1044.4L724.2 1039.9L724.3 1035.3L724.3 1030.8L724.6 1030.8L724.6 1035.3L724.6 1039.9L724.6 1044.4L724.6 1048.9L724.6 1053.4L724.6 1057.9L724.6 1062.4L724.6 1066.9L724.6 1071.5L724.6 1076L724.6 1080.5L724.6 1085L724.6 1089.5L724.6 1094L724.6 1098.5L724.6 1103.1L724.6 1107.6L724.7 1112.1L724.7 1116.6L724.7 1121.1L724.7 1125.6L724.8 1130.1L724.8 1134.7L724.9 1139.2L725 1143.7L725.1 1148.2L725.2 1152.7L725.3 1157.2L725.4 1161.7L725.5 1166.3L725.6 1170.8L725.6 1175.3L725.7 1179.8L725.7 1184.3L725.8 1188.8L725.9 1193.3L726 1197.9L726.3 1202.4L726.8 1206.9L727.5 1211.4L728.5 1215.9L729.8 1220.4L731.2 1224.9L732.6 1229.5L733.8 1234L734.4 1238.5L734.5 1243ZM735.5 1243L735.5 1240.1L736.2 1237.3L737.2 1234.4L738.6 1231.5L740 1228.7L741.2 1225.8L742.3 1222.9L743 1220.1L743.6 1217.2L743.9 1214.3L744.1 1211.4L744.2 1208.6L744.3 1205.7L744.3 1202.8L744.3 1200L744.4 1197.1L744.4 1194.2L744.4 1191.4L744.5 1188.5L744.5 1185.6L744.6 1182.8L744.7 1179.9L744.8 1177L744.9 1174.2L745 1171.3L745.1 1168.4L745.1 1165.6L745.2 1162.7L745.2 1159.8L745.2 1157L745.2 1154.1L745.3 1151.2L745.3 1148.3L745.3 1145.5L745.3 1142.6L745.3 1139.7L745.3 1136.9L745.3 1134L745.3 1131.1L745.3 1128.3L745.3 1125.4L745.3 1122.5L745.3 1119.7L745.3 1116.8L745.3 1113.9L745.3 1111.1L745.3 1108.2L745.7 1108.2L745.7 1111.1L745.7 1113.9L745.7 1116.8L745.7 1119.7L745.7 1122.5L745.7 1125.4L745.7 1128.3L745.7 1131.1L745.7 1134L745.7 1136.9L745.7 1139.7L745.7 1142.6L745.7 1145.5L745.7 1148.3L745.7 1151.2L745.8 1154.1L745.8 1157L745.8 1159.8L745.8 1162.7L745.9 1165.6L745.9 1168.4L746 1171.3L746.1 1174.2L746.2 1177L746.3 1179.9L746.4 1182.8L746.5 1185.6L746.5 1188.5L746.6 1191.4L746.6 1194.2L746.6 1197.1L746.7 1200L746.7 1202.8L746.7 1205.7L746.8 1208.6L746.9 1211.4L747.1 1214.3L747.4 1217.2L748 1220.1L748.7 1222.9L749.8 1225.8L751 1228.7L752.4 1231.5L753.8 1234.4L754.8 1237.3L755.5 1240.1L755.5 1243ZM756.5 1243L756.6 1241.4L757.1 1239.7L757.9 1238.1L758.9 1236.4L760.1 1234.8L761.2 1233.1L762.3 1231.5L763.2 1229.9L763.9 1228.2L764.5 1226.6L764.9 1224.9L765.2 1223.3L765.4 1221.6L765.5 1220L765.6 1218.4L765.6 1216.7L765.6 1215.1L765.6 1213.4L765.6 1211.8L765.6 1210.1L765.6 1208.5L765.6 1206.9L765.6 1205.2L765.6 1203.6L765.7 1201.9L765.7 1200.3L765.7 1198.6L765.7 1197L765.7 1195.4L765.7 1193.7L765.7 1192.1L765.8 1190.4L765.8 1188.8L765.8 1187.1L765.9 1185.5L765.9 1183.9L765.9 1182.2L765.9 1180.6L766 1178.9L766 1177.3L766 1175.6L766 1174L766.1 1172.4L766.1 1170.7L766.1 1169.1L766.2 1167.4L766.2 1165.8L766.9 1165.8L767 1167.4L767 1169.1L767 1170.7L767.1 1172.4L767.1 1174L767.1 1175.6L767.1 1177.3L767.2 1178.9L767.2 1180.6L767.2 1182.2L767.2 1183.9L767.3 1185.5L767.3 1187.1L767.3 1188.8L767.4 1190.4L767.4 1192.1L767.4 1193.7L767.4 1195.4L767.4 1197L767.5 1198.6L767.5 1200.3L767.5 1201.9L767.5 1203.6L767.5 1205.2L767.5 1206.9L767.5 1208.5L767.5 1210.1L767.5 1211.8L767.5 1213.4L767.5 1215.1L767.5 1216.7L767.6 1218.4L767.6 1220L767.7 1221.6L767.9 1223.3L768.2 1224.9L768.6 1226.6L769.2 1228.2L769.9 1229.9L770.9 1231.5L771.9 1233.1L773.1 1234.8L774.2 1236.4L775.2 1238.1L776 1239.7L776.5 1241.4L776.6 1243ZM777.6 1243L777.7 1241L778.7 1238.9L780.2 1236.9L781.9 1234.8L783.4 1232.8L784.6 1230.7L785.4 1228.7L786.1 1226.6L786.5 1224.6L786.8 1222.5L787.1 1220.5L787.2 1218.4L787.3 1216.4L787.4 1214.3L787.4 1212.3L787.5 1210.2L787.5 1208.2L787.5 1206.1L787.5 1204.1L787.6 1202.1L787.6 1200L787.5 1198L787.5 1195.9L787.5 1193.9L787.5 1191.8L787.5 1189.8L787.5 1187.7L787.5 1185.7L787.5 1183.6L787.6 1181.6L787.6 1179.5L787.6 1177.5L787.5 1175.4L787.5 1173.4L787.5 1171.3L787.5 1169.3L787.5 1167.2L787.5 1165.2L787.5 1163.2L787.5 1161.1L787.6 1159.1L787.6 1157L787.5 1155L787.5 1152.9L787.5 1150.9L787.5 1148.8L787.5 1146.8L787.8 1146.8L787.8 1148.8L787.7 1150.9L787.7 1152.9L787.7 1155L787.7 1157L787.7 1159.1L787.7 1161.1L787.7 1163.2L787.7 1165.2L787.8 1167.2L787.8 1169.3L787.8 1171.3L787.7 1173.4L787.7 1175.4L787.7 1177.5L787.7 1179.5L787.7 1181.6L787.7 1183.6L787.7 1185.7L787.8 1187.7L787.8 1189.8L787.8 1191.8L787.7 1193.9L787.7 1195.9L787.7 1198L787.7 1200L787.7 1202.1L787.7 1204.1L787.7 1206.1L787.7 1208.2L787.8 1210.2L787.8 1212.3L787.8 1214.3L787.9 1216.4L788 1218.4L788.2 1220.5L788.4 1222.5L788.7 1224.6L789.2 1226.6L789.8 1228.7L790.7 1230.7L791.8 1232.8L793.3 1234.8L795 1236.9L796.5 1238.9L797.5 1241L797.7 1243ZM798.6 1243L798.8 1239.3L799.8 1235.6L801.2 1231.9L802.8 1228.2L804.2 1224.5L805.4 1220.8L806.2 1217.1L806.7 1213.4L807 1209.7L807.2 1206.1L807.4 1202.4L807.5 1198.7L807.6 1195L807.8 1191.3L807.9 1187.6L808.1 1183.9L808.2 1180.2L808.3 1176.5L808.4 1172.8L808.4 1169.1L808.5 1165.4L808.5 1161.7L808.5 1158L808.5 1154.3L808.6 1150.6L808.5 1146.9L808.5 1143.2L808.5 1139.6L808.5 1135.9L808.5 1132.2L808.5 1128.5L808.5 1124.8L808.6 1121.1L808.6 1117.4L808.5 1113.7L808.5 1110L808.5 1106.3L808.5 1102.6L808.5 1098.9L808.5 1095.2L808.5 1091.5L808.6 1087.8L808.6 1084.1L808.5 1080.4L808.5 1076.7L808.5 1073L808.5 1069.4L808.8 1069.4L808.8 1073L808.8 1076.7L808.8 1080.4L808.8 1084.1L808.8 1087.8L808.8 1091.5L808.8 1095.2L808.8 1098.9L808.8 1102.6L808.8 1106.3L808.8 1110L808.8 1113.7L808.8 1117.4L808.8 1121.1L808.8 1124.8L808.8 1128.5L808.8 1132.2L808.8 1135.9L808.8 1139.6L808.8 1143.2L808.8 1146.9L808.8 1150.6L808.8 1154.3L808.8 1158L808.8 1161.7L808.9 1165.4L808.9 1169.1L809 1172.8L809.1 1176.5L809.2 1180.2L809.3 1183.9L809.4 1187.6L809.6 1191.3L809.7 1195L809.9 1198.7L810 1202.4L810.1 1206.1L810.3 1209.7L810.6 1213.4L811.2 1217.1L812 1220.8L813.1 1224.5L814.6 1228.2L816.2 1231.9L817.6 1235.6L818.5 1239.3L818.7 1243ZM819.8 1243L819.7 1240.5L820.2 1238.1L821.1 1235.6L822.4 1233.1L823.7 1230.6L825 1228.2L826.1 1225.7L826.9 1223.2L827.5 1220.7L827.9 1218.3L828.2 1215.8L828.3 1213.3L828.4 1210.8L828.4 1208.4L828.5 1205.9L828.5 1203.4L828.5 1200.9L828.6 1198.5L828.6 1196L828.7 1193.5L828.8 1191L828.9 1188.6L829 1186.1L829.1 1183.6L829.2 1181.1L829.2 1178.7L829.3 1176.2L829.4 1173.7L829.4 1171.2L829.5 1168.8L829.5 1166.3L829.5 1163.8L829.5 1161.3L829.5 1158.9L829.5 1156.4L829.5 1153.9L829.5 1151.4L829.5 1149L829.5 1146.5L829.5 1144L829.5 1141.5L829.5 1139.1L829.5 1136.6L829.5 1134.1L829.5 1131.6L829.5 1129.2L829.5 1126.7L829.9 1126.7L830 1129.2L830 1131.6L830 1134.1L830 1136.6L830 1139.1L830 1141.5L830 1144L830 1146.5L830 1149L830 1151.4L830 1153.9L830 1156.4L830 1158.9L830 1161.3L830 1163.8L830 1166.3L830 1168.8L830.1 1171.2L830.1 1173.7L830.2 1176.2L830.2 1178.7L830.3 1181.1L830.4 1183.6L830.5 1186.1L830.6 1188.6L830.7 1191L830.8 1193.5L830.9 1196L830.9 1198.5L831 1200.9L831 1203.4L831 1205.9L831 1208.4L831.1 1210.8L831.2 1213.3L831.3 1215.8L831.6 1218.3L832 1220.7L832.6 1223.2L833.4 1225.7L834.5 1228.2L835.8 1230.6L837.1 1233.1L838.3 1235.6L839.3 1238.1L839.8 1240.5L839.7 1243ZM840.8 1243L840.8 1238.6L841.3 1234.1L842.3 1229.7L843.7 1225.2L845 1220.8L846.3 1216.3L847.4 1211.9L848.2 1207.5L848.7 1203L849.1 1198.6L849.3 1194.1L849.4 1189.7L849.5 1185.3L849.5 1180.8L849.5 1176.4L849.6 1171.9L849.6 1167.5L849.7 1163L849.8 1158.6L849.9 1154.2L850 1149.7L850.1 1145.3L850.2 1140.8L850.3 1136.4L850.4 1132L850.4 1127.5L850.5 1123.1L850.5 1118.6L850.6 1114.2L850.6 1109.7L850.6 1105.3L850.6 1100.9L850.6 1096.4L850.6 1092L850.6 1087.5L850.6 1083.1L850.6 1078.7L850.6 1074.2L850.6 1069.8L850.6 1065.3L850.6 1060.9L850.6 1056.4L850.6 1052L850.6 1047.6L850.6 1043.1L850.6 1038.7L850.6 1034.2L851 1034.2L851 1038.7L851 1043.1L851 1047.6L851 1052L851 1056.4L851 1060.9L851 1065.3L851 1069.8L851 1074.2L851 1078.7L851 1083.1L851 1087.5L851 1092L851 1096.4L851 1100.9L851 1105.3L851 1109.7L851 1114.2L851.1 1118.6L851.1 1123.1L851.2 1127.5L851.2 1132L851.3 1136.4L851.4 1140.8L851.5 1145.3L851.6 1149.7L851.7 1154.2L851.8 1158.6L851.9 1163L852 1167.5L852 1171.9L852.1 1176.4L852.1 1180.8L852.1 1185.3L852.2 1189.7L852.3 1194.1L852.5 1198.6L852.9 1203L853.4 1207.5L854.2 1211.9L855.3 1216.3L856.6 1220.8L857.9 1225.2L859.3 1229.7L860.3 1234.1L860.8 1238.6L860.8 1243ZM862 1243L861.8 1240.2L862.1 1237.4L862.8 1234.6L863.7 1231.8L864.9 1229L866 1226.2L867.1 1223.4L868.1 1220.7L868.8 1217.9L869.4 1215.1L869.9 1212.3L870.2 1209.5L870.4 1206.7L870.5 1203.9L870.6 1201.1L870.6 1198.3L870.6 1195.5L870.6 1192.7L870.6 1189.9L870.6 1187.1L870.7 1184.3L870.7 1181.6L870.7 1178.8L870.7 1176L870.8 1173.2L870.8 1170.4L870.9 1167.6L871 1164.8L871.1 1162L871.1 1159.2L871.2 1156.4L871.3 1153.6L871.3 1150.8L871.4 1148L871.4 1145.2L871.4 1142.5L871.5 1139.7L871.5 1136.9L871.5 1134.1L871.5 1131.3L871.5 1128.5L871.5 1125.7L871.5 1122.9L871.5 1120.1L871.5 1117.3L871.6 1114.5L871.6 1111.7L872.1 1111.7L872.2 1114.5L872.2 1117.3L872.2 1120.1L872.2 1122.9L872.2 1125.7L872.2 1128.5L872.2 1131.3L872.2 1134.1L872.2 1136.9L872.3 1139.7L872.3 1142.5L872.3 1145.2L872.3 1148L872.4 1150.8L872.5 1153.6L872.5 1156.4L872.6 1159.2L872.7 1162L872.7 1164.8L872.8 1167.6L872.9 1170.4L872.9 1173.2L873 1176L873 1178.8L873 1181.6L873.1 1184.3L873.1 1187.1L873.1 1189.9L873.1 1192.7L873.1 1195.5L873.1 1198.3L873.2 1201.1L873.2 1203.9L873.4 1206.7L873.6 1209.5L873.8 1212.3L874.3 1215.1L874.9 1217.9L875.6 1220.7L876.6 1223.4L877.7 1226.2L878.9 1229L880 1231.8L880.9 1234.6L881.6 1237.4L881.9 1240.2L881.8 1243ZM883.1 1243L882.9 1240.7L883 1238.3L883.3 1236L883.9 1233.6L884.7 1231.3L885.5 1228.9L886.3 1226.6L887.2 1224.3L887.9 1221.9L888.6 1219.6L889.2 1217.2L889.7 1214.9L890.1 1212.5L890.5 1210.2L890.7 1207.8L890.9 1205.5L891.1 1203.2L891.2 1200.8L891.3 1198.5L891.4 1196.1L891.4 1193.8L891.4 1191.4L891.4 1189.1L891.4 1186.8L891.5 1184.4L891.5 1182.1L891.5 1179.7L891.5 1177.4L891.5 1175L891.5 1172.7L891.5 1170.3L891.6 1168L891.6 1165.7L891.6 1163.3L891.7 1161L891.7 1158.6L891.7 1156.3L891.8 1153.9L891.8 1151.6L891.9 1149.3L892 1146.9L892 1144.6L892.1 1142.2L892.1 1139.9L892.2 1137.5L892.3 1135.2L892.4 1132.8L893.5 1132.8L893.6 1135.2L893.6 1137.5L893.7 1139.9L893.8 1142.2L893.8 1144.6L893.9 1146.9L893.9 1149.3L894 1151.6L894 1153.9L894.1 1156.3L894.1 1158.6L894.2 1161L894.2 1163.3L894.3 1165.7L894.3 1168L894.3 1170.3L894.3 1172.7L894.3 1175L894.4 1177.4L894.4 1179.7L894.4 1182.1L894.4 1184.4L894.4 1186.8L894.4 1189.1L894.4 1191.4L894.4 1193.8L894.5 1196.1L894.5 1198.5L894.6 1200.8L894.7 1203.2L894.9 1205.5L895.1 1207.8L895.4 1210.2L895.7 1212.5L896.1 1214.9L896.6 1217.2L897.2 1219.6L897.9 1221.9L898.7 1224.3L899.5 1226.6L900.4 1228.9L901.2 1231.3L901.9 1233.6L902.5 1236L902.9 1238.3L903 1240.7L902.8 1243ZM904.3 1243L904 1239.4L903.9 1235.9L904.2 1232.3L904.8 1228.8L905.6 1225.2L906.5 1221.7L907.4 1218.1L908.3 1214.6L909.2 1211L909.9 1207.5L910.5 1203.9L911 1200.4L911.4 1196.8L911.7 1193.3L911.9 1189.7L912.1 1186.2L912.2 1182.6L912.3 1179.1L912.3 1175.5L912.4 1171.9L912.4 1168.4L912.4 1164.8L912.4 1161.3L912.5 1157.7L912.5 1154.2L912.5 1150.6L912.6 1147.1L912.7 1143.5L912.7 1140L912.8 1136.4L912.9 1132.9L913 1129.3L913.1 1125.8L913.2 1122.2L913.2 1118.7L913.3 1115.1L913.4 1111.6L913.4 1108L913.4 1104.4L913.5 1100.9L913.5 1097.3L913.5 1093.8L913.5 1090.2L913.5 1086.7L913.6 1083.1L913.6 1079.6L913.6 1076L914.3 1076L914.4 1079.6L914.4 1083.1L914.4 1086.7L914.4 1090.2L914.5 1093.8L914.5 1097.3L914.5 1100.9L914.5 1104.4L914.6 1108L914.6 1111.6L914.7 1115.1L914.7 1118.7L914.8 1122.2L914.9 1125.8L915 1129.3L915.1 1132.9L915.1 1136.4L915.2 1140L915.3 1143.5L915.4 1147.1L915.4 1150.6L915.5 1154.2L915.5 1157.7L915.5 1161.3L915.6 1164.8L915.6 1168.4L915.6 1171.9L915.6 1175.5L915.7 1179.1L915.8 1182.6L915.9 1186.2L916 1189.7L916.3 1193.3L916.6 1196.8L917 1200.4L917.5 1203.9L918.1 1207.5L918.8 1211L919.6 1214.6L920.5 1218.1L921.4 1221.7L922.4 1225.2L923.1 1228.8L923.7 1232.3L924 1235.9L924 1239.4L923.6 1243ZM925.7 1243L925.2 1239.9L925 1236.7L925 1233.6L925.3 1230.5L925.7 1227.3L926.2 1224.2L926.8 1221.1L927.4 1217.9L928 1214.8L928.6 1211.7L929.1 1208.6L929.5 1205.4L929.9 1202.3L930.2 1199.2L930.5 1196L930.8 1192.9L931.1 1189.8L931.3 1186.6L931.5 1183.5L931.7 1180.4L931.9 1177.2L932 1174.1L932.1 1171L932.2 1167.8L932.3 1164.7L932.4 1161.6L932.5 1158.4L932.5 1155.3L932.6 1152.2L932.7 1149L932.8 1145.9L932.9 1142.8L933 1139.7L933.1 1136.5L933.3 1133.4L933.4 1130.3L933.5 1127.1L933.6 1124L933.8 1120.9L933.9 1117.7L934 1114.6L934.1 1111.5L934.1 1108.3L934.2 1105.2L934.3 1102.1L934.4 1098.9L934.5 1095.8L935.6 1095.8L935.7 1098.9L935.8 1102.1L935.9 1105.2L935.9 1108.3L936 1111.5L936.1 1114.6L936.2 1117.7L936.3 1120.9L936.4 1124L936.6 1127.1L936.7 1130.3L936.8 1133.4L937 1136.5L937.1 1139.7L937.2 1142.8L937.3 1145.9L937.4 1149L937.5 1152.2L937.6 1155.3L937.6 1158.4L937.7 1161.6L937.8 1164.7L937.8 1167.8L937.9 1171L938.1 1174.1L938.2 1177.2L938.4 1180.4L938.6 1183.5L938.8 1186.6L939 1189.8L939.3 1192.9L939.5 1196L939.9 1199.2L940.2 1202.3L940.6 1205.4L941 1208.6L941.5 1211.7L942.1 1214.8L942.6 1217.9L943.3 1221.1L943.9 1224.2L944.4 1227.3L944.8 1230.5L945.1 1233.6L945.1 1236.7L944.9 1239.9L944.4 1243ZM946.8 1243L946.3 1239.7L946.1 1236.4L946.1 1233.1L946.5 1229.8L947 1226.6L947.6 1223.3L948.3 1220L949 1216.7L949.6 1213.4L950.2 1210.1L950.7 1206.8L951.1 1203.5L951.5 1200.2L951.9 1196.9L952.2 1193.7L952.5 1190.4L952.7 1187.1L952.9 1183.8L953.1 1180.5L953.3 1177.2L953.4 1173.9L953.5 1170.6L953.6 1167.3L953.7 1164L953.8 1160.8L953.9 1157.5L954 1154.2L954.2 1150.9L954.4 1147.6L954.5 1144.3L954.7 1141L954.9 1137.7L955 1134.4L955.2 1131.2L955.3 1127.9L955.4 1124.6L955.4 1121.3L955.5 1118L955.5 1114.7L955.5 1111.4L955.6 1108.1L955.6 1104.8L955.6 1101.5L955.6 1098.3L955.6 1095L955.7 1091.7L955.7 1088.4L956.5 1088.4L956.5 1091.7L956.6 1095L956.6 1098.3L956.6 1101.5L956.6 1104.8L956.6 1108.1L956.7 1111.4L956.7 1114.7L956.7 1118L956.8 1121.3L956.8 1124.6L956.9 1127.9L957 1131.2L957.2 1134.4L957.3 1137.7L957.5 1141L957.7 1144.3L957.8 1147.6L958 1150.9L958.2 1154.2L958.3 1157.5L958.4 1160.8L958.5 1164L958.6 1167.3L958.7 1170.6L958.8 1173.9L958.9 1177.2L959.1 1180.5L959.3 1183.8L959.5 1187.1L959.7 1190.4L960 1193.7L960.3 1196.9L960.7 1200.2L961.1 1203.5L961.5 1206.8L962 1210.1L962.6 1213.4L963.2 1216.7L963.9 1220L964.6 1223.3L965.2 1226.6L965.7 1229.8L966.1 1233.1L966.1 1236.4L965.9 1239.7L965.4 1243Z" fill="#add8e6" stroke="#000" stroke-width="1.3" stroke-linejoin="round"/>
<path d="M129.7 1243H139.8M129.7 1243H139.8M150.8 1235.4H160.8M150.8 1243H160.8M155.8 1243V1235.4M171.9 866.6H181.9M171.9 1209.1H181.9M176.9 1209.1V866.6M192.9 934.8H203M192.9 1243H203M197.9 1243V934.8M214 979.9H224M214 1233.3H224M219 1233.3V979.9M235 1043.1H245.1M235 1236.5H245.1M240.1 1236.5V1043.1M256.1 1218.1H266.1M256.1 1243H266.1M261.1 1243V1218.1M277.2 1239.8H287.2M277.2 1243H287.2M282.2 1243V1239.8M298.2 1243H308.3M298.2 1243H308.3M319.3 1178.4H329.3M319.3 1243H329.3M324.3 1243V1178.4M340.3 1205.5H350.4M340.3 1243H350.4M345.4 1243V1205.5M361.4 1145.2H371.4M361.4 1243H371.4M366.4 1243V1145.2M382.5 1200.1H392.5M382.5 1243H392.5M387.5 1243V1200.1M403.5 1112.4H413.6M403.5 1243H413.6M408.5 1243V1112.4M424.6 1154.2H434.6M424.6 1243H434.6M429.6 1243V1154.2M445.6 1111.3H455.7M445.6 1243H455.7M450.7 1243V1111.3M466.7 1171.2H476.7M466.7 1243H476.7M471.7 1243V1171.2M487.8 1184.2H497.8M487.8 1243H497.8M492.8 1243V1184.2M508.8 1098.6H518.9M508.8 1243H518.9M513.8 1243V1098.6M529.9 1104.8H539.9M529.9 1243H539.9M534.9 1243V1104.8M550.9 1113.1H561M550.9 1243H561M556 1243V1113.1M572 1103H582M572 1243H582M577 1243V1103M593.1 1018.9H603.1M593.1 1243H603.1M598.1 1243V1018.9M614.1 1102.2H624.2M614.1 1243H624.2M619.1 1243V1102.2M635.2 1150.2H645.2M635.2 1243H645.2M640.2 1243V1150.2M656.2 1129H666.3M656.2 1243H666.3M661.3 1243V1129M677.3 1068H687.3M677.3 1243H687.3M682.3 1243V1068M698.4 1122.5H708.4M698.4 1243H708.4M703.4 1243V1122.5M719.4 1014.2H729.5M719.4 1243H729.5M724.4 1243V1014.2M740.5 1098.6H750.5M740.5 1243H750.5M745.5 1243V1098.6M761.5 1162.9H771.6M761.5 1243H771.6M766.6 1243V1162.9M782.6 1135.8H792.6M782.6 1243H792.6M787.6 1243V1135.8M803.7 1052.8H813.7M803.7 1243H813.7M808.7 1243V1052.8M824.7 1118.5H834.8M824.7 1243H834.8M829.7 1243V1118.5M845.8 1018.5H855.8M845.8 1243H855.8M850.8 1243V1018.5M866.8 1104.8H876.9M866.8 1243H876.9M871.9 1243V1104.8M887.9 1129.7H897.9M887.9 1243H897.9M892.9 1243V1129.7M909 1068.3H919M909 1243H919M914 1243V1068.3M930 1090.7H940.1M930 1243H940.1M935 1243V1090.7M951.1 1080.6H961.1M951.1 1243H961.1M956.1 1243V1080.6" stroke="#1f77b4" stroke-width="2.08" fill="none"/>
<path d="M176.9 1147V1085.6M197.9 1222.4V1191.4M219 1193.2V1108.4M240.1 1204V1146.6M261.1 1240.1V1232.2M345.4 1243V1239.4M366.4 1243V1241.9M387.5 1243V1241.9M408.5 1241.2V1234M429.6 1243V1234M450.7 1243V1237.9M471.7 1243V1242.3M492.8 1243V1235.1M513.8 1243V1235.8M534.9 1243V1235.1M556 1243V1225.7M577 1243V1225.7M598.1 1243V1233.3M619.1 1243V1235.8M640.2 1243V1229.3M661.3 1243V1232.5M682.3 1243V1234.7M703.4 1243V1229.3M724.4 1243V1236.1M745.5 1243V1239.4M766.6 1243V1242.3M787.6 1243V1242.3M808.7 1243V1242.3M829.7 1243V1236.1M850.8 1243V1232.2M871.9 1243V1230.4M892.9 1243V1219.2M914 1243V1210.9M935 1243V1189.9M956.1 1243V1197.2" stroke="#000" stroke-width="7.85" fill="none"/>
<path d="M176.9 1180.6V1006.2M197.9 1241.9V1131.1M219 1223.5V1050.3M240.1 1228.9V1103.3M261.1 1241.9V1219.2M282.2 1243V1241.2M324.3 1243V1234M345.4 1243V1222.4M366.4 1243V1231.1M387.5 1243V1232.5M408.5 1243V1181.3M429.6 1243V1197.9M450.7 1243V1204M471.7 1243V1206.9M492.8 1243V1199.7M513.8 1243V1166.9M534.9 1243V1156.7M556 1243V1169.4M577 1243V1161.8M598.1 1243V1183.5M619.1 1243V1200.8M640.2 1243V1176.6M661.3 1243V1172.6M682.3 1243V1168.7M703.4 1243V1149.5M724.4 1243V1150.6M745.5 1243V1177M766.6 1243V1186.7M787.6 1243V1225.7M808.7 1243V1188.5M829.7 1243V1185.6M850.8 1243V1147.4M871.9 1243V1161.8M892.9 1243V1155.7M914 1243V1131.5M935 1243V1132.6M956.1 1243V1144.5" stroke="#ff0000" stroke-width="3.14" fill="none"/>
<path d="M128.7 1243H140.9M149.7 1243H161.9M170.8 1131.1H183M191.8 1213.4H204M212.9 1154.2H225.1M234 1170.8H246.2M255 1237.2H267.2M276.1 1243H288.3M297.1 1243H309.3M318.2 1243H330.4M339.3 1241.2H351.5M360.3 1243H372.5M381.4 1243H393.6M402.4 1238.7H414.6M423.5 1243H435.7M444.6 1243H456.8M465.6 1243H477.8M486.7 1243H498.9M507.7 1243H519.9M528.8 1243H541M549.9 1243H562.1M570.9 1236.5H583.1M592 1243H604.2M613 1243H625.2M634.1 1243H646.3M655.2 1243H667.4M676.2 1243H688.4M697.3 1243H709.5M718.3 1243H730.5M739.4 1243H751.6M760.5 1243H772.7M781.5 1243H793.7M802.6 1243H814.8M823.6 1243H835.8M844.7 1243H856.9M865.8 1243H878M886.8 1243H899M907.9 1237.6H920.1M928.9 1226H941.1M950 1227.8H962.2" stroke="#ff0000" stroke-width="3.9" fill="none"/>
</g>
<g clip-path="url(#c11)">
<path d="M1118.1 1243L1118.7 1242.9L1120.3 1242.9L1122.4 1242.8L1124.4 1242.7L1126 1242.6L1127 1242.6L1127.6 1242.5L1127.8 1242.4L1127.9 1242.4L1128 1242.3L1128 1242.2L1128.1 1242.1L1128.1 1242.1L1128.1 1242L1128.1 1241.9L1128.1 1241.9L1128.1 1241.8L1128 1241.7L1128 1241.6L1128 1241.6L1128 1241.5L1128 1241.4L1128 1241.3L1128.1 1241.3L1128.1 1241.2L1128.1 1241.1L1128.1 1241.1L1128.1 1241L1128.1 1240.9L1128.1 1240.8L1128 1240.8L1128 1240.7L1128 1240.6L1128 1240.6L1128 1240.5L1128 1240.4L1128 1240.3L1128.1 1240.3L1128.1 1240.2L1128.1 1240.1L1128.1 1240.1L1128.1 1240L1128.1 1239.9L1128 1239.8L1128 1239.8L1128 1239.7L1128 1239.6L1128.2 1239.6L1128.2 1239.7L1128.2 1239.8L1128.2 1239.8L1128.2 1239.9L1128.1 1240L1128.1 1240.1L1128.1 1240.1L1128.1 1240.2L1128.2 1240.3L1128.2 1240.3L1128.2 1240.4L1128.2 1240.5L1128.2 1240.6L1128.2 1240.6L1128.2 1240.7L1128.2 1240.8L1128.2 1240.8L1128.1 1240.9L1128.1 1241L1128.1 1241.1L1128.1 1241.1L1128.2 1241.2L1128.2 1241.3L1128.2 1241.3L1128.2 1241.4L1128.2 1241.5L1128.2 1241.6L1128.2 1241.6L1128.2 1241.7L1128.2 1241.8L1128.2 1241.9L1128.1 1241.9L1128.1 1242L1128.1 1242.1L1128.2 1242.1L1128.2 1242.2L1128.2 1242.3L1128.3 1242.4L1128.4 1242.4L1128.7 1242.5L1129.2 1242.6L1130.2 1242.6L1131.8 1242.7L1133.8 1242.8L1135.9 1242.9L1137.6 1242.9L1138.2 1243ZM1145.8 1209.4L1144.8 1202.5L1143.8 1195.6L1142.6 1188.7L1141.6 1181.8L1140.6 1174.9L1139.8 1167.9L1139.3 1161L1139.1 1154.1L1139.2 1147.2L1139.6 1140.3L1140.2 1133.4L1140.9 1126.5L1141.6 1119.6L1142.3 1112.7L1143 1105.7L1143.5 1098.8L1144 1091.9L1144.4 1085L1144.8 1078.1L1145.1 1071.2L1145.3 1064.3L1145.5 1057.4L1145.8 1050.4L1146 1043.5L1146.2 1036.6L1146.5 1029.7L1146.7 1022.8L1147 1015.9L1147.4 1009L1147.7 1002.1L1147.9 995.1L1148.2 988.2L1148.3 981.3L1148.5 974.4L1148.6 967.5L1148.6 960.6L1148.7 953.7L1148.7 946.8L1148.7 939.8L1148.7 932.9L1148.7 926L1148.7 919.1L1148.7 912.2L1148.7 905.3L1148.8 898.4L1148.8 891.5L1148.8 884.6L1149.5 884.6L1149.6 891.5L1149.6 898.4L1149.6 905.3L1149.6 912.2L1149.6 919.1L1149.6 926L1149.6 932.9L1149.6 939.8L1149.7 946.8L1149.7 953.7L1149.7 960.6L1149.8 967.5L1149.9 974.4L1150 981.3L1150.2 988.2L1150.4 995.1L1150.7 1002.1L1151 1009L1151.3 1015.9L1151.6 1022.8L1151.9 1029.7L1152.2 1036.6L1152.4 1043.5L1152.6 1050.4L1152.8 1057.4L1153 1064.3L1153.3 1071.2L1153.6 1078.1L1153.9 1085L1154.4 1091.9L1154.8 1098.8L1155.4 1105.7L1156 1112.7L1156.7 1119.6L1157.5 1126.5L1158.2 1133.4L1158.7 1140.3L1159.1 1147.2L1159.2 1154.1L1159 1161L1158.5 1167.9L1157.8 1174.9L1156.8 1181.8L1155.7 1188.7L1154.6 1195.6L1153.5 1202.5L1152.5 1209.4ZM1164.2 1242.9L1162.8 1236.8L1161.6 1230.6L1160.7 1224.4L1160.2 1218.3L1160.2 1212.1L1160.6 1205.9L1161.4 1199.8L1162.5 1193.6L1163.6 1187.4L1164.6 1181.3L1165.5 1175.1L1166.2 1168.9L1166.8 1162.8L1167.2 1156.6L1167.6 1150.4L1167.9 1144.3L1168.2 1138.1L1168.6 1131.9L1168.9 1125.8L1169.2 1119.6L1169.4 1113.4L1169.6 1107.3L1169.8 1101.1L1169.9 1095L1170 1088.8L1170 1082.6L1170 1076.5L1170 1070.3L1170 1064.1L1170 1058L1170 1051.8L1170 1045.6L1170 1039.5L1170 1033.3L1170 1027.1L1170 1021L1170 1014.8L1170 1008.6L1170 1002.5L1170 996.3L1170 990.1L1170 984L1170 977.8L1170 971.6L1170 965.5L1170 959.3L1170 953.1L1170.5 953.1L1170.5 959.3L1170.4 965.5L1170.4 971.6L1170.4 977.8L1170.4 984L1170.5 990.1L1170.5 996.3L1170.5 1002.5L1170.5 1008.6L1170.5 1014.8L1170.4 1021L1170.4 1027.1L1170.4 1033.3L1170.5 1039.5L1170.5 1045.6L1170.5 1051.8L1170.5 1058L1170.5 1064.1L1170.4 1070.3L1170.5 1076.5L1170.5 1082.6L1170.5 1088.8L1170.6 1095L1170.7 1101.1L1170.8 1107.3L1171 1113.4L1171.3 1119.6L1171.6 1125.8L1171.9 1131.9L1172.2 1138.1L1172.6 1144.3L1172.9 1150.4L1173.2 1156.6L1173.7 1162.8L1174.2 1168.9L1175 1175.1L1175.9 1181.3L1176.9 1187.4L1178 1193.6L1179 1199.8L1179.8 1205.9L1180.3 1212.1L1180.3 1218.3L1179.8 1224.4L1178.9 1230.6L1177.7 1236.8L1176.3 1242.9ZM1185.9 1231.1L1185 1225.8L1184.2 1220.5L1183.4 1215.2L1182.7 1209.9L1182.2 1204.6L1181.8 1199.4L1181.5 1194.1L1181.3 1188.8L1181.3 1183.5L1181.2 1178.2L1181.3 1172.9L1181.4 1167.6L1181.6 1162.3L1181.8 1157L1182 1151.8L1182.2 1146.5L1182.4 1141.2L1182.6 1135.9L1182.9 1130.6L1183.2 1125.3L1183.4 1120L1183.7 1114.7L1184 1109.5L1184.3 1104.2L1184.6 1098.9L1184.9 1093.6L1185.2 1088.3L1185.5 1083L1185.8 1077.7L1186.2 1072.4L1186.5 1067.1L1186.9 1061.9L1187.3 1056.6L1187.7 1051.3L1188.2 1046L1188.6 1040.7L1188.9 1035.4L1189.3 1030.1L1189.5 1024.8L1189.8 1019.5L1189.9 1014.3L1190.1 1009L1190.2 1003.7L1190.3 998.4L1190.4 993.1L1190.5 987.8L1190.6 982.5L1192 982.5L1192.1 987.8L1192.2 993.1L1192.3 998.4L1192.4 1003.7L1192.5 1009L1192.7 1014.3L1192.8 1019.5L1193.1 1024.8L1193.3 1030.1L1193.7 1035.4L1194 1040.7L1194.4 1046L1194.9 1051.3L1195.3 1056.6L1195.7 1061.9L1196.1 1067.1L1196.4 1072.4L1196.8 1077.7L1197.1 1083L1197.4 1088.3L1197.7 1093.6L1198 1098.9L1198.3 1104.2L1198.6 1109.5L1198.9 1114.7L1199.2 1120L1199.4 1125.3L1199.7 1130.6L1200 1135.9L1200.2 1141.2L1200.4 1146.5L1200.6 1151.8L1200.8 1157L1201 1162.3L1201.2 1167.6L1201.3 1172.9L1201.3 1178.2L1201.3 1183.5L1201.3 1188.8L1201.1 1194.1L1200.8 1199.4L1200.4 1204.6L1199.9 1209.9L1199.2 1215.2L1198.4 1220.5L1197.6 1225.8L1196.7 1231.1ZM1208 1234.8L1207.2 1231.1L1206.5 1227.4L1205.9 1223.7L1205.4 1220L1204.9 1216.3L1204.5 1212.6L1204.2 1208.9L1204 1205.2L1203.8 1201.5L1203.6 1197.8L1203.4 1194.1L1203.3 1190.4L1203.1 1186.7L1202.9 1183L1202.7 1179.3L1202.5 1175.6L1202.4 1171.9L1202.3 1168.2L1202.4 1164.5L1202.5 1160.8L1202.8 1157.1L1203.2 1153.4L1203.7 1149.7L1204.3 1146L1204.8 1142.3L1205.4 1138.6L1205.9 1134.9L1206.4 1131.2L1206.9 1127.5L1207.3 1123.8L1207.7 1120.1L1208 1116.4L1208.4 1112.7L1208.8 1109L1209.1 1105.3L1209.5 1101.6L1209.8 1097.9L1210.1 1094.2L1210.4 1090.5L1210.7 1086.8L1210.9 1083.1L1211 1079.4L1211.2 1075.7L1211.3 1072L1211.4 1068.3L1211.5 1064.6L1211.6 1060.9L1213.1 1060.9L1213.2 1064.6L1213.3 1068.3L1213.4 1072L1213.6 1075.7L1213.7 1079.4L1213.9 1083.1L1214.1 1086.8L1214.3 1090.5L1214.6 1094.2L1214.9 1097.9L1215.2 1101.6L1215.6 1105.3L1216 1109L1216.3 1112.7L1216.7 1116.4L1217.1 1120.1L1217.4 1123.8L1217.8 1127.5L1218.3 1131.2L1218.8 1134.9L1219.3 1138.6L1219.9 1142.3L1220.5 1146L1221 1149.7L1221.5 1153.4L1221.9 1157.1L1222.2 1160.8L1222.4 1164.5L1222.4 1168.2L1222.4 1171.9L1222.2 1175.6L1222 1179.3L1221.8 1183L1221.6 1186.7L1221.5 1190.4L1221.3 1194.1L1221.1 1197.8L1220.9 1201.5L1220.7 1205.2L1220.5 1208.9L1220.2 1212.6L1219.8 1216.3L1219.4 1220L1218.8 1223.7L1218.2 1227.4L1217.5 1231.1L1216.7 1234.8ZM1228.2 1242.9L1227.4 1242.4L1226.6 1242L1225.9 1241.5L1225.2 1241.1L1224.7 1240.6L1224.3 1240.1L1223.9 1239.7L1223.7 1239.2L1223.5 1238.8L1223.4 1238.3L1223.4 1237.8L1223.4 1237.4L1223.5 1236.9L1223.6 1236.5L1223.8 1236L1224.1 1235.6L1224.5 1235.1L1225 1234.6L1225.5 1234.2L1226.1 1233.7L1226.7 1233.3L1227.3 1232.8L1228 1232.4L1228.5 1231.9L1229.1 1231.4L1229.5 1231L1229.9 1230.5L1230.2 1230.1L1230.4 1229.6L1230.6 1229.2L1230.7 1228.7L1230.8 1228.2L1230.8 1227.8L1230.9 1227.3L1230.9 1226.9L1230.9 1226.4L1230.8 1225.9L1230.8 1225.5L1230.8 1225L1230.8 1224.6L1230.8 1224.1L1230.9 1223.7L1230.9 1223.2L1231 1222.7L1231.2 1222.3L1231.3 1221.8L1231.5 1221.4L1235.3 1221.4L1235.5 1221.8L1235.7 1222.3L1235.8 1222.7L1235.9 1223.2L1236 1223.7L1236 1224.1L1236 1224.6L1236 1225L1236 1225.5L1236 1225.9L1236 1226.4L1236 1226.9L1236 1227.3L1236 1227.8L1236.1 1228.2L1236.1 1228.7L1236.3 1229.2L1236.4 1229.6L1236.7 1230.1L1237 1230.5L1237.3 1231L1237.8 1231.4L1238.3 1231.9L1238.9 1232.4L1239.5 1232.8L1240.1 1233.3L1240.8 1233.7L1241.3 1234.2L1241.9 1234.6L1242.3 1235.1L1242.7 1235.6L1243 1236L1243.2 1236.5L1243.4 1236.9L1243.4 1237.4L1243.5 1237.8L1243.4 1238.3L1243.3 1238.8L1243.2 1239.2L1242.9 1239.7L1242.6 1240.1L1242.1 1240.6L1241.6 1241.1L1241 1241.5L1240.2 1242L1239.5 1242.4L1238.7 1242.9ZM1244.4 1243L1244.6 1242.9L1245.3 1242.9L1246.4 1242.8L1247.7 1242.7L1249.1 1242.7L1250.3 1242.6L1251.3 1242.6L1252.1 1242.5L1252.6 1242.4L1253 1242.4L1253.2 1242.3L1253.3 1242.2L1253.4 1242.2L1253.4 1242.1L1253.4 1242L1253.5 1242L1253.5 1241.9L1253.5 1241.8L1253.5 1241.8L1253.5 1241.7L1253.6 1241.7L1253.6 1241.6L1253.7 1241.5L1253.8 1241.5L1253.8 1241.4L1253.9 1241.3L1254 1241.3L1254 1241.2L1254.1 1241.1L1254.1 1241.1L1254.2 1241L1254.2 1241L1254.2 1240.9L1254.2 1240.8L1254.2 1240.8L1254.2 1240.7L1254.2 1240.6L1254.2 1240.6L1254.2 1240.5L1254.2 1240.4L1254.2 1240.4L1254.2 1240.3L1254.2 1240.2L1254.2 1240.2L1254.2 1240.1L1254.3 1240.1L1254.3 1240L1254.7 1240L1254.7 1240.1L1254.7 1240.1L1254.7 1240.2L1254.7 1240.2L1254.7 1240.3L1254.7 1240.4L1254.7 1240.4L1254.7 1240.5L1254.7 1240.6L1254.7 1240.6L1254.7 1240.7L1254.7 1240.8L1254.8 1240.8L1254.8 1240.9L1254.8 1241L1254.8 1241L1254.8 1241.1L1254.9 1241.1L1254.9 1241.2L1255 1241.3L1255.1 1241.3L1255.1 1241.4L1255.2 1241.5L1255.3 1241.5L1255.3 1241.6L1255.4 1241.7L1255.4 1241.7L1255.5 1241.8L1255.5 1241.8L1255.5 1241.9L1255.5 1242L1255.5 1242L1255.5 1242.1L1255.6 1242.2L1255.6 1242.2L1255.8 1242.3L1256 1242.4L1256.3 1242.4L1256.9 1242.5L1257.6 1242.6L1258.7 1242.6L1259.9 1242.7L1261.2 1242.7L1262.5 1242.8L1263.6 1242.9L1264.3 1242.9L1264.5 1243ZM1286.5 1243L1286.7 1241.8L1287.8 1240.7L1289.4 1239.5L1291.1 1238.4L1292.6 1237.2L1293.8 1236.1L1294.7 1234.9L1295.3 1233.8L1295.7 1232.6L1296 1231.5L1296.2 1230.3L1296.3 1229.2L1296.4 1228L1296.4 1226.8L1296.4 1225.7L1296.5 1224.5L1296.5 1223.4L1296.5 1222.2L1296.5 1221.1L1296.5 1219.9L1296.5 1218.8L1296.5 1217.6L1296.5 1216.5L1296.5 1215.3L1296.5 1214.2L1296.5 1213L1296.5 1211.8L1296.5 1210.7L1296.5 1209.5L1296.5 1208.4L1296.5 1207.2L1296.5 1206.1L1296.5 1204.9L1296.5 1203.8L1296.5 1202.6L1296.5 1201.5L1296.5 1200.3L1296.5 1199.2L1296.5 1198L1296.5 1196.9L1296.5 1195.7L1296.5 1194.5L1296.5 1193.4L1296.5 1192.2L1296.5 1191.1L1296.5 1189.9L1296.5 1188.8L1296.7 1188.8L1296.7 1189.9L1296.7 1191.1L1296.7 1192.2L1296.7 1193.4L1296.7 1194.5L1296.7 1195.7L1296.7 1196.9L1296.7 1198L1296.7 1199.2L1296.7 1200.3L1296.7 1201.5L1296.7 1202.6L1296.7 1203.8L1296.7 1204.9L1296.7 1206.1L1296.7 1207.2L1296.7 1208.4L1296.7 1209.5L1296.7 1210.7L1296.7 1211.8L1296.7 1213L1296.7 1214.2L1296.7 1215.3L1296.7 1216.5L1296.7 1217.6L1296.7 1218.8L1296.7 1219.9L1296.7 1221.1L1296.7 1222.2L1296.7 1223.4L1296.7 1224.5L1296.8 1225.7L1296.8 1226.8L1296.8 1228L1296.9 1229.2L1297 1230.3L1297.2 1231.5L1297.5 1232.6L1297.9 1233.8L1298.5 1234.9L1299.4 1236.1L1300.6 1237.2L1302.1 1238.4L1303.8 1239.5L1305.4 1240.7L1306.5 1241.8L1306.6 1243ZM1308.2 1243L1307.7 1242.3L1307.6 1241.6L1308 1240.9L1308.7 1240.2L1309.8 1239.5L1310.9 1238.9L1312.1 1238.2L1313.2 1237.5L1314.1 1236.8L1314.9 1236.1L1315.4 1235.4L1315.8 1234.7L1316 1234L1316.2 1233.3L1316.3 1232.6L1316.3 1232L1316.4 1231.3L1316.4 1230.6L1316.4 1229.9L1316.4 1229.2L1316.4 1228.5L1316.5 1227.8L1316.5 1227.1L1316.6 1226.4L1316.6 1225.7L1316.7 1225.1L1316.8 1224.4L1316.9 1223.7L1317 1223L1317 1222.3L1317.1 1221.6L1317.2 1220.9L1317.2 1220.2L1317.3 1219.5L1317.3 1218.8L1317.3 1218.1L1317.3 1217.5L1317.3 1216.8L1317.3 1216.1L1317.3 1215.4L1317.3 1214.7L1317.3 1214L1317.3 1213.3L1317.3 1212.6L1317.4 1211.9L1317.4 1211.2L1317.4 1210.6L1317.9 1210.6L1317.9 1211.2L1318 1211.9L1318 1212.6L1318 1213.3L1318 1214L1318 1214.7L1318 1215.4L1318 1216.1L1318 1216.8L1318 1217.5L1318 1218.1L1318 1218.8L1318.1 1219.5L1318.1 1220.2L1318.2 1220.9L1318.2 1221.6L1318.3 1222.3L1318.4 1223L1318.4 1223.7L1318.5 1224.4L1318.6 1225.1L1318.7 1225.7L1318.8 1226.4L1318.8 1227.1L1318.8 1227.8L1318.9 1228.5L1318.9 1229.2L1318.9 1229.9L1318.9 1230.6L1318.9 1231.3L1319 1232L1319 1232.6L1319.1 1233.3L1319.3 1234L1319.5 1234.7L1319.9 1235.4L1320.5 1236.1L1321.2 1236.8L1322.1 1237.5L1323.2 1238.2L1324.4 1238.9L1325.6 1239.5L1326.6 1240.2L1327.3 1240.9L1327.7 1241.6L1327.6 1242.3L1327.1 1243ZM1328.7 1243L1328.7 1240.7L1329.8 1238.4L1331.5 1236.1L1333.3 1233.8L1335 1231.5L1336.4 1229.2L1337.3 1226.9L1337.9 1224.6L1338.2 1222.3L1338.4 1219.9L1338.5 1217.6L1338.5 1215.3L1338.6 1213L1338.6 1210.7L1338.6 1208.4L1338.7 1206.1L1338.7 1203.8L1338.7 1201.5L1338.7 1199.2L1338.7 1196.9L1338.6 1194.6L1338.6 1192.3L1338.6 1190L1338.6 1187.7L1338.6 1185.4L1338.6 1183.1L1338.6 1180.8L1338.7 1178.5L1338.7 1176.1L1338.7 1173.8L1338.7 1171.5L1338.6 1169.2L1338.6 1166.9L1338.6 1164.6L1338.6 1162.3L1338.6 1160L1338.6 1157.7L1338.6 1155.4L1338.7 1153.1L1338.7 1150.8L1338.7 1148.5L1338.7 1146.2L1338.7 1143.9L1338.6 1141.6L1338.6 1139.3L1338.6 1137L1338.6 1134.7L1338.9 1134.7L1338.9 1137L1338.8 1139.3L1338.8 1141.6L1338.8 1143.9L1338.8 1146.2L1338.8 1148.5L1338.8 1150.8L1338.8 1153.1L1338.8 1155.4L1338.8 1157.7L1338.9 1160L1338.9 1162.3L1338.8 1164.6L1338.8 1166.9L1338.8 1169.2L1338.8 1171.5L1338.8 1173.8L1338.8 1176.1L1338.8 1178.5L1338.8 1180.8L1338.8 1183.1L1338.8 1185.4L1338.9 1187.7L1338.9 1190L1338.8 1192.3L1338.8 1194.6L1338.8 1196.9L1338.8 1199.2L1338.8 1201.5L1338.8 1203.8L1338.8 1206.1L1338.8 1208.4L1338.8 1210.7L1338.9 1213L1338.9 1215.3L1338.9 1217.6L1339 1219.9L1339.2 1222.3L1339.5 1224.6L1340.1 1226.9L1341.1 1229.2L1342.4 1231.5L1344.1 1233.8L1346 1236.1L1347.6 1238.4L1348.7 1240.7L1348.8 1243ZM1349.7 1243L1349.8 1242.2L1350.6 1241.5L1352 1240.7L1353.6 1239.9L1355.1 1239.2L1356.2 1238.4L1357.1 1237.6L1357.6 1236.9L1358 1236.1L1358.2 1235.3L1358.5 1234.6L1358.7 1233.8L1358.9 1233L1359.1 1232.3L1359.3 1231.5L1359.4 1230.7L1359.5 1230L1359.5 1229.2L1359.6 1228.4L1359.6 1227.7L1359.6 1226.9L1359.7 1226.1L1359.7 1225.4L1359.7 1224.6L1359.7 1223.8L1359.6 1223.1L1359.6 1222.3L1359.6 1221.5L1359.6 1220.8L1359.6 1220L1359.7 1219.2L1359.7 1218.5L1359.7 1217.7L1359.7 1216.9L1359.7 1216.1L1359.6 1215.4L1359.6 1214.6L1359.6 1213.8L1359.6 1213.1L1359.7 1212.3L1359.7 1211.5L1359.7 1210.8L1359.7 1210L1359.7 1209.2L1359.6 1208.5L1359.6 1207.7L1359.6 1206.9L1359.9 1206.9L1359.9 1207.7L1359.9 1208.5L1359.9 1209.2L1359.9 1210L1359.9 1210.8L1359.9 1211.5L1359.9 1212.3L1359.9 1213.1L1359.9 1213.8L1359.9 1214.6L1359.9 1215.4L1359.9 1216.1L1359.9 1216.9L1359.9 1217.7L1359.9 1218.5L1359.9 1219.2L1359.9 1220L1359.9 1220.8L1359.9 1221.5L1359.9 1222.3L1359.9 1223.1L1359.9 1223.8L1359.9 1224.6L1359.9 1225.4L1359.9 1226.1L1359.9 1226.9L1359.9 1227.7L1360 1228.4L1360 1229.2L1360.1 1230L1360.2 1230.7L1360.3 1231.5L1360.4 1232.3L1360.6 1233L1360.9 1233.8L1361.1 1234.6L1361.3 1235.3L1361.6 1236.1L1361.9 1236.9L1362.5 1237.6L1363.3 1238.4L1364.5 1239.2L1366 1239.9L1367.6 1240.7L1368.9 1241.5L1369.8 1242.2L1369.8 1243ZM1371.5 1243L1370.9 1239.9L1370.8 1236.7L1371.2 1233.6L1372.2 1230.5L1373.3 1227.3L1374.6 1224.2L1375.9 1221L1377 1217.9L1377.8 1214.8L1378.5 1211.6L1378.9 1208.5L1379.2 1205.4L1379.3 1202.2L1379.4 1199.1L1379.5 1196L1379.5 1192.8L1379.5 1189.7L1379.6 1186.6L1379.6 1183.4L1379.7 1180.3L1379.7 1177.1L1379.8 1174L1379.9 1170.9L1380 1167.7L1380.1 1164.6L1380.2 1161.5L1380.3 1158.3L1380.4 1155.2L1380.5 1152.1L1380.5 1148.9L1380.5 1145.8L1380.6 1142.6L1380.6 1139.5L1380.6 1136.4L1380.6 1133.2L1380.6 1130.1L1380.6 1127L1380.6 1123.8L1380.6 1120.7L1380.6 1117.6L1380.6 1114.4L1380.6 1111.3L1380.6 1108.2L1380.6 1105L1380.6 1101.9L1380.6 1098.7L1380.6 1095.6L1381.1 1095.6L1381.1 1098.7L1381.1 1101.9L1381.1 1105L1381.1 1108.2L1381.1 1111.3L1381.1 1114.4L1381.1 1117.6L1381.1 1120.7L1381.1 1123.8L1381.1 1127L1381.1 1130.1L1381.1 1133.2L1381.1 1136.4L1381.1 1139.5L1381.1 1142.6L1381.1 1145.8L1381.2 1148.9L1381.2 1152.1L1381.3 1155.2L1381.4 1158.3L1381.4 1161.5L1381.5 1164.6L1381.7 1167.7L1381.8 1170.9L1381.9 1174L1381.9 1177.1L1382 1180.3L1382.1 1183.4L1382.1 1186.6L1382.1 1189.7L1382.2 1192.8L1382.2 1196L1382.2 1199.1L1382.3 1202.2L1382.5 1205.4L1382.8 1208.5L1383.2 1211.6L1383.8 1214.8L1384.7 1217.9L1385.8 1221L1387 1224.2L1388.3 1227.3L1389.5 1230.5L1390.4 1233.6L1390.9 1236.7L1390.8 1239.9L1390.2 1243ZM1392 1243L1391.9 1241L1392.2 1239.1L1392.9 1237.1L1393.9 1235.1L1395.1 1233.2L1396.3 1231.2L1397.4 1229.2L1398.3 1227.2L1399.1 1225.3L1399.6 1223.3L1400 1221.3L1400.3 1219.4L1400.4 1217.4L1400.5 1215.4L1400.6 1213.5L1400.6 1211.5L1400.6 1209.5L1400.6 1207.5L1400.6 1205.6L1400.7 1203.6L1400.7 1201.6L1400.7 1199.7L1400.8 1197.7L1400.9 1195.7L1400.9 1193.8L1401 1191.8L1401.1 1189.8L1401.2 1187.9L1401.3 1185.9L1401.3 1183.9L1401.4 1181.9L1401.5 1180L1401.5 1178L1401.5 1176L1401.6 1174.1L1401.6 1172.1L1401.6 1170.1L1401.6 1168.2L1401.6 1166.2L1401.6 1164.2L1401.6 1162.2L1401.6 1160.3L1401.6 1158.3L1401.6 1156.3L1401.6 1154.4L1401.6 1152.4L1401.7 1150.4L1402.1 1150.4L1402.2 1152.4L1402.2 1154.4L1402.2 1156.3L1402.2 1158.3L1402.2 1160.3L1402.2 1162.2L1402.2 1164.2L1402.2 1166.2L1402.2 1168.2L1402.2 1170.1L1402.2 1172.1L1402.2 1174.1L1402.3 1176L1402.3 1178L1402.3 1180L1402.4 1181.9L1402.5 1183.9L1402.5 1185.9L1402.6 1187.9L1402.7 1189.8L1402.8 1191.8L1402.9 1193.8L1402.9 1195.7L1403 1197.7L1403.1 1199.7L1403.1 1201.6L1403.1 1203.6L1403.2 1205.6L1403.2 1207.5L1403.2 1209.5L1403.2 1211.5L1403.2 1213.5L1403.3 1215.4L1403.4 1217.4L1403.5 1219.4L1403.8 1221.3L1404.2 1223.3L1404.7 1225.3L1405.5 1227.2L1406.4 1229.2L1407.5 1231.2L1408.7 1233.2L1409.9 1235.1L1410.9 1237.1L1411.6 1239.1L1412 1241L1411.8 1243ZM1412.9 1243L1412.9 1240.1L1413.6 1237.1L1414.8 1234.2L1416.3 1231.3L1417.7 1228.4L1419 1225.4L1419.9 1222.5L1420.6 1219.6L1421 1216.6L1421.3 1213.7L1421.4 1210.8L1421.5 1207.9L1421.6 1204.9L1421.7 1202L1421.8 1199.1L1421.9 1196.1L1422.1 1193.2L1422.2 1190.3L1422.3 1187.3L1422.5 1184.4L1422.6 1181.5L1422.6 1178.6L1422.7 1175.6L1422.7 1172.7L1422.8 1169.8L1422.8 1166.8L1422.8 1163.9L1422.8 1161L1422.8 1158.1L1422.8 1155.1L1422.8 1152.2L1422.8 1149.3L1422.8 1146.3L1422.8 1143.4L1422.8 1140.5L1422.8 1137.6L1422.8 1134.6L1422.8 1131.7L1422.8 1128.8L1422.8 1125.8L1422.8 1122.9L1422.8 1120L1422.8 1117L1422.8 1114.1L1422.8 1111.2L1422.8 1108.3L1422.8 1105.3L1423.1 1105.3L1423.1 1108.3L1423.1 1111.2L1423.1 1114.1L1423.1 1117L1423.1 1120L1423.1 1122.9L1423.1 1125.8L1423.1 1128.8L1423.1 1131.7L1423.1 1134.6L1423.1 1137.6L1423.1 1140.5L1423.1 1143.4L1423.1 1146.3L1423.1 1149.3L1423.1 1152.2L1423.1 1155.1L1423.1 1158.1L1423.1 1161L1423.1 1163.9L1423.1 1166.8L1423.2 1169.8L1423.2 1172.7L1423.2 1175.6L1423.3 1178.6L1423.4 1181.5L1423.5 1184.4L1423.6 1187.3L1423.7 1190.3L1423.9 1193.2L1424 1196.1L1424.1 1199.1L1424.2 1202L1424.3 1204.9L1424.4 1207.9L1424.5 1210.8L1424.6 1213.7L1424.9 1216.6L1425.3 1219.6L1426 1222.5L1426.9 1225.4L1428.2 1228.4L1429.7 1231.3L1431.1 1234.2L1432.3 1237.1L1433 1240.1L1433 1243ZM1434 1243L1434.1 1241.4L1434.7 1239.7L1435.8 1238.1L1437 1236.5L1438.3 1234.8L1439.6 1233.2L1440.6 1231.6L1441.4 1229.9L1442 1228.3L1442.4 1226.7L1442.7 1225L1442.8 1223.4L1442.9 1221.8L1443 1220.1L1443 1218.5L1443 1216.9L1443 1215.2L1443 1213.6L1443 1212L1443 1210.3L1443.1 1208.7L1443.1 1207.1L1443.1 1205.4L1443.2 1203.8L1443.3 1202.2L1443.3 1200.5L1443.4 1198.9L1443.5 1197.3L1443.5 1195.6L1443.6 1194L1443.6 1192.4L1443.7 1190.7L1443.7 1189.1L1443.7 1187.5L1443.7 1185.8L1443.7 1184.2L1443.7 1182.6L1443.7 1180.9L1443.7 1179.3L1443.7 1177.7L1443.7 1176L1443.7 1174.4L1443.7 1172.8L1443.7 1171.1L1443.8 1169.5L1443.8 1167.9L1443.8 1166.2L1444.2 1166.2L1444.3 1167.9L1444.3 1169.5L1444.3 1171.1L1444.3 1172.8L1444.3 1174.4L1444.3 1176L1444.3 1177.7L1444.3 1179.3L1444.3 1180.9L1444.3 1182.6L1444.3 1184.2L1444.3 1185.8L1444.3 1187.5L1444.4 1189.1L1444.4 1190.7L1444.4 1192.4L1444.5 1194L1444.5 1195.6L1444.6 1197.3L1444.7 1198.9L1444.7 1200.5L1444.8 1202.2L1444.8 1203.8L1444.9 1205.4L1444.9 1207.1L1445 1208.7L1445 1210.3L1445 1212L1445 1213.6L1445 1215.2L1445 1216.9L1445.1 1218.5L1445.1 1220.1L1445.1 1221.8L1445.2 1223.4L1445.4 1225L1445.6 1226.7L1446 1228.3L1446.6 1229.9L1447.4 1231.6L1448.5 1233.2L1449.7 1234.8L1451 1236.5L1452.3 1238.1L1453.3 1239.7L1453.9 1241.4L1454.1 1243ZM1455.2 1243L1455 1241.5L1455.2 1239.9L1455.6 1238.4L1456.3 1236.9L1457.1 1235.4L1458 1233.8L1459 1232.3L1459.8 1230.8L1460.6 1229.3L1461.3 1227.7L1461.9 1226.2L1462.4 1224.7L1462.8 1223.2L1463 1221.6L1463.2 1220.1L1463.4 1218.6L1463.5 1217.1L1463.6 1215.5L1463.6 1214L1463.6 1212.5L1463.7 1211L1463.7 1209.4L1463.7 1207.9L1463.7 1206.4L1463.7 1204.9L1463.7 1203.3L1463.7 1201.8L1463.8 1200.3L1463.8 1198.8L1463.8 1197.2L1463.9 1195.7L1463.9 1194.2L1464 1192.7L1464 1191.1L1464.1 1189.6L1464.2 1188.1L1464.2 1186.6L1464.3 1185L1464.3 1183.5L1464.4 1182L1464.4 1180.5L1464.4 1178.9L1464.5 1177.4L1464.5 1175.9L1464.6 1174.4L1464.6 1172.8L1464.7 1171.3L1465.5 1171.3L1465.5 1172.8L1465.6 1174.4L1465.6 1175.9L1465.7 1177.4L1465.7 1178.9L1465.8 1180.5L1465.8 1182L1465.8 1183.5L1465.9 1185L1465.9 1186.6L1466 1188.1L1466.1 1189.6L1466.1 1191.1L1466.2 1192.7L1466.2 1194.2L1466.3 1195.7L1466.3 1197.2L1466.4 1198.8L1466.4 1200.3L1466.4 1201.8L1466.4 1203.3L1466.5 1204.9L1466.5 1206.4L1466.5 1207.9L1466.5 1209.4L1466.5 1211L1466.5 1212.5L1466.5 1214L1466.6 1215.5L1466.7 1217.1L1466.8 1218.6L1466.9 1220.1L1467.1 1221.6L1467.4 1223.2L1467.8 1224.7L1468.2 1226.2L1468.8 1227.7L1469.5 1229.3L1470.3 1230.8L1471.2 1232.3L1472.1 1233.8L1473.1 1235.4L1473.9 1236.9L1474.6 1238.4L1475 1239.9L1475.1 1241.5L1474.9 1243ZM1476.2 1243L1476.1 1239.6L1476.5 1236.2L1477.2 1232.9L1478.3 1229.5L1479.5 1226.1L1480.8 1222.7L1481.9 1219.3L1482.8 1215.9L1483.5 1212.6L1484 1209.2L1484.4 1205.8L1484.6 1202.4L1484.8 1199L1484.9 1195.6L1484.9 1192.3L1484.9 1188.9L1484.9 1185.5L1485 1182.1L1485 1178.7L1485 1175.3L1485 1172L1485 1168.6L1485.1 1165.2L1485.1 1161.8L1485.2 1158.4L1485.3 1155L1485.4 1151.7L1485.4 1148.3L1485.5 1144.9L1485.6 1141.5L1485.6 1138.1L1485.7 1134.8L1485.7 1131.4L1485.8 1128L1485.8 1124.6L1485.8 1121.2L1485.8 1117.8L1485.8 1114.5L1485.8 1111.1L1485.8 1107.7L1485.8 1104.3L1485.8 1100.9L1485.8 1097.5L1485.8 1094.2L1485.9 1090.8L1485.9 1087.4L1485.9 1084L1486.4 1084L1486.4 1087.4L1486.4 1090.8L1486.4 1094.2L1486.4 1097.5L1486.5 1100.9L1486.5 1104.3L1486.5 1107.7L1486.5 1111.1L1486.5 1114.5L1486.5 1117.8L1486.5 1121.2L1486.5 1124.6L1486.5 1128L1486.5 1131.4L1486.6 1134.8L1486.6 1138.1L1486.7 1141.5L1486.8 1144.9L1486.8 1148.3L1486.9 1151.7L1487 1155L1487.1 1158.4L1487.1 1161.8L1487.2 1165.2L1487.2 1168.6L1487.3 1172L1487.3 1175.3L1487.3 1178.7L1487.3 1182.1L1487.3 1185.5L1487.4 1188.9L1487.4 1192.3L1487.4 1195.6L1487.5 1199L1487.6 1202.4L1487.9 1205.8L1488.2 1209.2L1488.8 1212.6L1489.5 1215.9L1490.4 1219.3L1491.5 1222.7L1492.7 1226.1L1494 1229.5L1495 1232.9L1495.8 1236.2L1496.2 1239.6L1496.1 1243ZM1497.3 1243L1497.2 1239.9L1497.4 1236.9L1498 1233.8L1498.8 1230.8L1499.8 1227.7L1500.9 1224.7L1501.9 1221.6L1502.9 1218.5L1503.7 1215.5L1504.4 1212.4L1504.9 1209.4L1505.3 1206.3L1505.6 1203.2L1505.8 1200.2L1505.9 1197.1L1506 1194.1L1506 1191L1506 1188L1506 1184.9L1506 1181.8L1506 1178.8L1506 1175.7L1506.1 1172.7L1506.1 1169.6L1506.1 1166.5L1506.1 1163.5L1506.1 1160.4L1506.1 1157.4L1506.2 1154.3L1506.2 1151.3L1506.3 1148.2L1506.3 1145.1L1506.4 1142.1L1506.4 1139L1506.5 1136L1506.5 1132.9L1506.6 1129.9L1506.6 1126.8L1506.6 1123.7L1506.6 1120.7L1506.7 1117.6L1506.7 1114.6L1506.7 1111.5L1506.8 1108.4L1506.8 1105.4L1506.8 1102.3L1506.9 1099.3L1507.5 1099.3L1507.6 1102.3L1507.6 1105.4L1507.6 1108.4L1507.7 1111.5L1507.7 1114.6L1507.7 1117.6L1507.8 1120.7L1507.8 1123.7L1507.8 1126.8L1507.8 1129.9L1507.9 1132.9L1507.9 1136L1508 1139L1508 1142.1L1508.1 1145.1L1508.1 1148.2L1508.2 1151.3L1508.2 1154.3L1508.3 1157.4L1508.3 1160.4L1508.3 1163.5L1508.3 1166.5L1508.3 1169.6L1508.3 1172.7L1508.4 1175.7L1508.4 1178.8L1508.4 1181.8L1508.4 1184.9L1508.4 1188L1508.4 1191L1508.4 1194.1L1508.5 1197.1L1508.6 1200.2L1508.8 1203.2L1509.1 1206.3L1509.5 1209.4L1510 1212.4L1510.7 1215.5L1511.5 1218.5L1512.5 1221.6L1513.5 1224.7L1514.6 1227.7L1515.6 1230.8L1516.4 1233.8L1517 1236.9L1517.2 1239.9L1517.1 1243ZM1518.6 1243L1518.2 1240.1L1518.2 1237.3L1518.6 1234.4L1519.2 1231.5L1520.1 1228.6L1521.1 1225.8L1522.1 1222.9L1523.1 1220L1524 1217.2L1524.7 1214.3L1525.3 1211.4L1525.8 1208.5L1526.1 1205.7L1526.4 1202.8L1526.6 1199.9L1526.7 1197.1L1526.8 1194.2L1526.8 1191.3L1526.8 1188.4L1526.8 1185.6L1526.9 1182.7L1526.9 1179.8L1526.9 1177L1526.9 1174.1L1526.9 1171.2L1527 1168.3L1527 1165.5L1527.1 1162.6L1527.2 1159.7L1527.2 1156.9L1527.3 1154L1527.4 1151.1L1527.5 1148.2L1527.5 1145.4L1527.6 1142.5L1527.7 1139.6L1527.7 1136.7L1527.7 1133.9L1527.8 1131L1527.8 1128.1L1527.8 1125.3L1527.8 1122.4L1527.8 1119.5L1527.8 1116.6L1527.9 1113.8L1527.9 1110.9L1527.9 1108L1528.6 1108L1528.6 1110.9L1528.6 1113.8L1528.7 1116.6L1528.7 1119.5L1528.7 1122.4L1528.7 1125.3L1528.7 1128.1L1528.8 1131L1528.8 1133.9L1528.8 1136.7L1528.9 1139.6L1528.9 1142.5L1529 1145.4L1529 1148.2L1529.1 1151.1L1529.2 1154L1529.3 1156.9L1529.4 1159.7L1529.4 1162.6L1529.5 1165.5L1529.5 1168.3L1529.6 1171.2L1529.6 1174.1L1529.6 1177L1529.6 1179.8L1529.7 1182.7L1529.7 1185.6L1529.7 1188.4L1529.7 1191.3L1529.8 1194.2L1529.8 1197.1L1530 1199.9L1530.1 1202.8L1530.4 1205.7L1530.7 1208.5L1531.2 1211.4L1531.8 1214.3L1532.5 1217.2L1533.4 1220L1534.4 1222.9L1535.4 1225.8L1536.4 1228.6L1537.3 1231.5L1538 1234.4L1538.3 1237.3L1538.3 1240.1L1537.9 1243ZM1539.8 1243L1539.3 1239.7L1539.3 1236.3L1539.7 1233L1540.5 1229.6L1541.5 1226.3L1542.6 1222.9L1543.7 1219.6L1544.8 1216.2L1545.6 1212.9L1546.3 1209.5L1546.8 1206.2L1547.2 1202.8L1547.4 1199.5L1547.6 1196.1L1547.7 1192.8L1547.7 1189.4L1547.8 1186.1L1547.8 1182.7L1547.9 1179.4L1547.9 1176L1547.9 1172.7L1548 1169.3L1548.1 1166L1548.2 1162.6L1548.3 1159.3L1548.4 1155.9L1548.5 1152.6L1548.6 1149.2L1548.7 1145.9L1548.8 1142.5L1548.9 1139.2L1548.9 1135.8L1549 1132.5L1549 1129.1L1549 1125.8L1549 1122.4L1549 1119.1L1549 1115.7L1549 1112.4L1549 1109L1549 1105.7L1549 1102.3L1549 1099L1549 1095.6L1549 1092.3L1549.1 1088.9L1549.1 1085.6L1549.6 1085.6L1549.6 1088.9L1549.6 1092.3L1549.6 1095.6L1549.6 1099L1549.6 1102.3L1549.6 1105.7L1549.6 1109L1549.6 1112.4L1549.6 1115.7L1549.6 1119.1L1549.6 1122.4L1549.6 1125.8L1549.7 1129.1L1549.7 1132.5L1549.7 1135.8L1549.8 1139.2L1549.8 1142.5L1549.9 1145.9L1550 1149.2L1550.1 1152.6L1550.2 1155.9L1550.3 1159.3L1550.4 1162.6L1550.5 1166L1550.6 1169.3L1550.7 1172.7L1550.7 1176L1550.8 1179.4L1550.8 1182.7L1550.9 1186.1L1550.9 1189.4L1551 1192.8L1551.1 1196.1L1551.2 1199.5L1551.5 1202.8L1551.8 1206.2L1552.3 1209.5L1553 1212.9L1553.9 1216.2L1554.9 1219.6L1556 1222.9L1557.1 1226.3L1558.2 1229.6L1558.9 1233L1559.4 1236.3L1559.4 1239.7L1558.9 1243ZM1560.3 1243L1560.3 1237.8L1561.1 1232.6L1562.3 1227.4L1563.8 1222.2L1565.3 1217L1566.5 1211.8L1567.4 1206.5L1568.1 1201.3L1568.4 1196.1L1568.7 1190.9L1568.8 1185.7L1569 1180.5L1569.1 1175.3L1569.3 1170.1L1569.4 1164.9L1569.6 1159.7L1569.7 1154.5L1569.9 1149.3L1570 1144.1L1570.1 1138.8L1570.1 1133.6L1570.2 1128.4L1570.2 1123.2L1570.2 1118L1570.2 1112.8L1570.2 1107.6L1570.2 1102.4L1570.2 1097.2L1570.2 1092L1570.2 1086.8L1570.2 1081.6L1570.2 1076.4L1570.2 1071.2L1570.2 1065.9L1570.2 1060.7L1570.2 1055.5L1570.2 1050.3L1570.2 1045.1L1570.2 1039.9L1570.2 1034.7L1570.2 1029.5L1570.2 1024.3L1570.2 1019.1L1570.2 1013.9L1570.2 1008.7L1570.2 1003.5L1570.2 998.2L1570.5 998.2L1570.5 1003.5L1570.5 1008.7L1570.5 1013.9L1570.5 1019.1L1570.5 1024.3L1570.5 1029.5L1570.5 1034.7L1570.5 1039.9L1570.5 1045.1L1570.5 1050.3L1570.5 1055.5L1570.5 1060.7L1570.5 1065.9L1570.5 1071.2L1570.5 1076.4L1570.5 1081.6L1570.5 1086.8L1570.5 1092L1570.5 1097.2L1570.5 1102.4L1570.5 1107.6L1570.5 1112.8L1570.5 1118L1570.6 1123.2L1570.6 1128.4L1570.6 1133.6L1570.7 1138.8L1570.8 1144.1L1570.9 1149.3L1571 1154.5L1571.2 1159.7L1571.3 1164.9L1571.5 1170.1L1571.7 1175.3L1571.8 1180.5L1571.9 1185.7L1572.1 1190.9L1572.3 1196.1L1572.7 1201.3L1573.3 1206.5L1574.2 1211.8L1575.5 1217L1576.9 1222.2L1578.4 1227.4L1579.7 1232.6L1580.4 1237.8L1580.4 1243ZM1581.5 1243L1581.4 1240.1L1582 1237.1L1583.1 1234.2L1584.4 1231.3L1585.9 1228.4L1587.1 1225.4L1588.1 1222.5L1588.8 1219.6L1589.3 1216.7L1589.6 1213.7L1589.7 1210.8L1589.9 1207.9L1590 1204.9L1590.1 1202L1590.2 1199.1L1590.3 1196.2L1590.5 1193.2L1590.6 1190.3L1590.8 1187.4L1590.9 1184.5L1591 1181.5L1591.1 1178.6L1591.2 1175.7L1591.2 1172.7L1591.2 1169.8L1591.3 1166.9L1591.3 1164L1591.3 1161L1591.3 1158.1L1591.3 1155.2L1591.3 1152.2L1591.3 1149.3L1591.3 1146.4L1591.3 1143.5L1591.3 1140.5L1591.3 1137.6L1591.3 1134.7L1591.3 1131.8L1591.3 1128.8L1591.3 1125.9L1591.3 1123L1591.3 1120L1591.3 1117.1L1591.3 1114.2L1591.3 1111.3L1591.3 1108.3L1591.3 1105.4L1591.6 1105.4L1591.6 1108.3L1591.6 1111.3L1591.6 1114.2L1591.6 1117.1L1591.6 1120L1591.6 1123L1591.6 1125.9L1591.6 1128.8L1591.6 1131.8L1591.6 1134.7L1591.6 1137.6L1591.6 1140.5L1591.6 1143.5L1591.6 1146.4L1591.6 1149.3L1591.6 1152.2L1591.6 1155.2L1591.6 1158.1L1591.6 1161L1591.6 1164L1591.6 1166.9L1591.6 1169.8L1591.7 1172.7L1591.7 1175.7L1591.8 1178.6L1591.9 1181.5L1592 1184.5L1592.1 1187.4L1592.2 1190.3L1592.4 1193.2L1592.5 1196.2L1592.7 1199.1L1592.8 1202L1592.9 1204.9L1593 1207.9L1593.1 1210.8L1593.3 1213.7L1593.6 1216.7L1594.1 1219.6L1594.8 1222.5L1595.8 1225.4L1597 1228.4L1598.4 1231.3L1599.8 1234.2L1600.9 1237.1L1601.5 1240.1L1601.4 1243ZM1602.6 1243L1602.5 1240.7L1602.6 1238.4L1603.2 1236.1L1603.9 1233.8L1604.9 1231.5L1605.9 1229.2L1606.9 1226.9L1607.9 1224.6L1608.7 1222.3L1609.4 1220L1610 1217.7L1610.4 1215.4L1610.7 1213.1L1610.9 1210.9L1611.1 1208.6L1611.2 1206.3L1611.2 1204L1611.2 1201.7L1611.3 1199.4L1611.3 1197.1L1611.3 1194.8L1611.3 1192.5L1611.3 1190.2L1611.3 1187.9L1611.3 1185.6L1611.3 1183.3L1611.3 1181L1611.4 1178.7L1611.4 1176.4L1611.4 1174.1L1611.5 1171.8L1611.5 1169.5L1611.6 1167.2L1611.6 1164.9L1611.7 1162.6L1611.7 1160.3L1611.8 1158L1611.8 1155.7L1611.9 1153.4L1611.9 1151.2L1611.9 1148.9L1612 1146.6L1612 1144.3L1612 1142L1612 1139.7L1612.1 1137.4L1612.1 1135.1L1612.9 1135.1L1612.9 1137.4L1613 1139.7L1613 1142L1613 1144.3L1613 1146.6L1613.1 1148.9L1613.1 1151.2L1613.1 1153.4L1613.2 1155.7L1613.2 1158L1613.3 1160.3L1613.3 1162.6L1613.4 1164.9L1613.4 1167.2L1613.5 1169.5L1613.5 1171.8L1613.6 1174.1L1613.6 1176.4L1613.6 1178.7L1613.7 1181L1613.7 1183.3L1613.7 1185.6L1613.7 1187.9L1613.7 1190.2L1613.7 1192.5L1613.7 1194.8L1613.7 1197.1L1613.7 1199.4L1613.8 1201.7L1613.8 1204L1613.8 1206.3L1613.9 1208.6L1614.1 1210.9L1614.3 1213.1L1614.6 1215.4L1615 1217.7L1615.6 1220L1616.3 1222.3L1617.1 1224.6L1618.1 1226.9L1619.1 1229.2L1620.1 1231.5L1621.1 1233.8L1621.8 1236.1L1622.4 1238.4L1622.5 1240.7L1622.4 1243ZM1623.6 1243L1623.5 1240.6L1623.8 1238.2L1624.4 1235.7L1625.3 1233.3L1626.3 1230.9L1627.4 1228.5L1628.5 1226L1629.4 1223.6L1630.3 1221.2L1630.9 1218.8L1631.4 1216.3L1631.8 1213.9L1632.1 1211.5L1632.2 1209.1L1632.3 1206.6L1632.4 1204.2L1632.4 1201.8L1632.5 1199.4L1632.5 1196.9L1632.5 1194.5L1632.5 1192.1L1632.5 1189.7L1632.5 1187.2L1632.5 1184.8L1632.5 1182.4L1632.5 1180L1632.5 1177.5L1632.5 1175.1L1632.6 1172.7L1632.6 1170.3L1632.6 1167.8L1632.7 1165.4L1632.7 1163L1632.7 1160.6L1632.8 1158.1L1632.8 1155.7L1632.9 1153.3L1632.9 1150.9L1632.9 1148.4L1632.9 1146L1633 1143.6L1633 1141.2L1633 1138.7L1633.1 1136.3L1633.1 1133.9L1633.1 1131.5L1633.2 1129L1633.9 1129L1634 1131.5L1634 1133.9L1634 1136.3L1634.1 1138.7L1634.1 1141.2L1634.1 1143.6L1634.2 1146L1634.2 1148.4L1634.2 1150.9L1634.3 1153.3L1634.3 1155.7L1634.3 1158.1L1634.4 1160.6L1634.4 1163L1634.5 1165.4L1634.5 1167.8L1634.5 1170.3L1634.6 1172.7L1634.6 1175.1L1634.6 1177.5L1634.6 1180L1634.6 1182.4L1634.6 1184.8L1634.6 1187.2L1634.6 1189.7L1634.6 1192.1L1634.6 1194.5L1634.6 1196.9L1634.7 1199.4L1634.7 1201.8L1634.7 1204.2L1634.8 1206.6L1634.9 1209.1L1635.1 1211.5L1635.3 1213.9L1635.7 1216.3L1636.2 1218.8L1636.9 1221.2L1637.7 1223.6L1638.7 1226L1639.7 1228.5L1640.8 1230.9L1641.9 1233.3L1642.7 1235.7L1643.3 1238.2L1643.6 1240.6L1643.5 1243ZM1644.6 1243L1644.6 1239.9L1645 1236.9L1645.9 1233.8L1647.1 1230.8L1648.4 1227.7L1649.6 1224.7L1650.7 1221.6L1651.6 1218.6L1652.3 1215.5L1652.7 1212.5L1653 1209.4L1653.2 1206.4L1653.3 1203.3L1653.4 1200.3L1653.4 1197.2L1653.4 1194.2L1653.4 1191.1L1653.5 1188L1653.5 1185L1653.5 1181.9L1653.5 1178.9L1653.6 1175.8L1653.7 1172.8L1653.7 1169.7L1653.8 1166.7L1653.9 1163.6L1654 1160.6L1654.1 1157.5L1654.1 1154.5L1654.2 1151.4L1654.2 1148.4L1654.3 1145.3L1654.3 1142.3L1654.3 1139.2L1654.3 1136.1L1654.3 1133.1L1654.3 1130L1654.3 1127L1654.3 1123.9L1654.3 1120.9L1654.3 1117.8L1654.3 1114.8L1654.3 1111.7L1654.4 1108.7L1654.4 1105.6L1654.4 1102.6L1654.4 1099.5L1654.8 1099.5L1654.9 1102.6L1654.9 1105.6L1654.9 1108.7L1654.9 1111.7L1654.9 1114.8L1654.9 1117.8L1654.9 1120.9L1654.9 1123.9L1654.9 1127L1654.9 1130L1654.9 1133.1L1654.9 1136.1L1654.9 1139.2L1654.9 1142.3L1655 1145.3L1655 1148.4L1655 1151.4L1655.1 1154.5L1655.2 1157.5L1655.2 1160.6L1655.3 1163.6L1655.4 1166.7L1655.5 1169.7L1655.6 1172.8L1655.6 1175.8L1655.7 1178.9L1655.7 1181.9L1655.8 1185L1655.8 1188L1655.8 1191.1L1655.8 1194.2L1655.8 1197.2L1655.9 1200.3L1655.9 1203.3L1656 1206.4L1656.2 1209.4L1656.5 1212.5L1657 1215.5L1657.7 1218.6L1658.5 1221.6L1659.6 1224.7L1660.9 1227.7L1662.2 1230.8L1663.3 1233.8L1664.2 1236.9L1664.7 1239.9L1664.6 1243ZM1665.8 1243L1665.6 1240.3L1665.8 1237.5L1666.4 1234.8L1667.2 1232L1668.2 1229.3L1669.3 1226.5L1670.3 1223.8L1671.3 1221.1L1672.1 1218.3L1672.8 1215.6L1673.3 1212.8L1673.7 1210.1L1674 1207.3L1674.2 1204.6L1674.3 1201.9L1674.4 1199.1L1674.4 1196.4L1674.5 1193.6L1674.5 1190.9L1674.5 1188.1L1674.5 1185.4L1674.5 1182.6L1674.5 1179.9L1674.5 1177.2L1674.5 1174.4L1674.5 1171.7L1674.6 1168.9L1674.6 1166.2L1674.6 1163.4L1674.7 1160.7L1674.7 1158L1674.8 1155.2L1674.8 1152.5L1674.9 1149.7L1674.9 1147L1675 1144.2L1675 1141.5L1675.1 1138.8L1675.1 1136L1675.1 1133.3L1675.2 1130.5L1675.2 1127.8L1675.2 1125L1675.2 1122.3L1675.3 1119.6L1675.3 1116.8L1675.3 1114.1L1676 1114.1L1676.1 1116.8L1676.1 1119.6L1676.1 1122.3L1676.2 1125L1676.2 1127.8L1676.2 1130.5L1676.2 1133.3L1676.3 1136L1676.3 1138.8L1676.3 1141.5L1676.4 1144.2L1676.4 1147L1676.5 1149.7L1676.5 1152.5L1676.6 1155.2L1676.6 1158L1676.7 1160.7L1676.7 1163.4L1676.8 1166.2L1676.8 1168.9L1676.8 1171.7L1676.8 1174.4L1676.9 1177.2L1676.9 1179.9L1676.9 1182.6L1676.9 1185.4L1676.9 1188.1L1676.9 1190.9L1676.9 1193.6L1676.9 1196.4L1677 1199.1L1677.1 1201.9L1677.2 1204.6L1677.4 1207.3L1677.6 1210.1L1678 1212.8L1678.6 1215.6L1679.2 1218.3L1680.1 1221.1L1681 1223.8L1682.1 1226.5L1683.2 1229.3L1684.2 1232L1685 1234.8L1685.5 1237.5L1685.7 1240.3L1685.6 1243ZM1686.7 1243L1686.7 1239L1687.3 1235L1688.4 1231L1689.7 1227L1691 1223L1692.3 1219L1693.4 1215L1694.2 1211L1694.7 1207L1695.1 1203L1695.3 1199L1695.4 1195L1695.5 1191L1695.6 1187L1695.6 1182.9L1695.6 1178.9L1695.6 1174.9L1695.6 1170.9L1695.7 1166.9L1695.7 1162.9L1695.8 1158.9L1695.9 1154.9L1696 1150.9L1696.1 1146.9L1696.2 1142.9L1696.2 1138.9L1696.3 1134.9L1696.4 1130.9L1696.4 1126.9L1696.4 1122.9L1696.5 1118.9L1696.5 1114.9L1696.5 1110.9L1696.5 1106.9L1696.5 1102.9L1696.5 1098.9L1696.5 1094.9L1696.5 1090.9L1696.5 1086.9L1696.5 1082.9L1696.5 1078.9L1696.5 1074.9L1696.5 1070.9L1696.5 1066.8L1696.5 1062.8L1696.5 1058.8L1696.5 1054.8L1696.9 1054.8L1697 1058.8L1697 1062.8L1697 1066.8L1697 1070.9L1697 1074.9L1697 1078.9L1697 1082.9L1697 1086.9L1697 1090.9L1697 1094.9L1697 1098.9L1697 1102.9L1697 1106.9L1697 1110.9L1697 1114.9L1697 1118.9L1697 1122.9L1697.1 1126.9L1697.1 1130.9L1697.2 1134.9L1697.2 1138.9L1697.3 1142.9L1697.4 1146.9L1697.5 1150.9L1697.6 1154.9L1697.7 1158.9L1697.7 1162.9L1697.8 1166.9L1697.8 1170.9L1697.9 1174.9L1697.9 1178.9L1697.9 1182.9L1697.9 1187L1698 1191L1698 1195L1698.2 1199L1698.4 1203L1698.7 1207L1699.3 1211L1700.1 1215L1701.2 1219L1702.4 1223L1703.8 1227L1705.1 1231L1706.2 1235L1706.8 1239L1706.8 1243ZM1707.8 1243L1707.9 1240.6L1708.5 1238.2L1709.5 1235.9L1710.8 1233.5L1712.1 1231.1L1713.3 1228.7L1714.3 1226.4L1715.1 1224L1715.8 1221.6L1716.2 1219.2L1716.4 1216.8L1716.6 1214.5L1716.7 1212.1L1716.8 1209.7L1716.8 1207.3L1716.8 1204.9L1716.8 1202.6L1716.8 1200.2L1716.8 1197.8L1716.8 1195.4L1716.8 1193.1L1716.9 1190.7L1716.9 1188.3L1716.9 1185.9L1717 1183.5L1717.1 1181.2L1717.1 1178.8L1717.2 1176.4L1717.2 1174L1717.3 1171.7L1717.3 1169.3L1717.4 1166.9L1717.4 1164.5L1717.4 1162.1L1717.5 1159.8L1717.5 1157.4L1717.5 1155L1717.5 1152.6L1717.5 1150.2L1717.5 1147.9L1717.5 1145.5L1717.5 1143.1L1717.5 1140.7L1717.5 1138.4L1717.5 1136L1717.5 1133.6L1717.6 1131.2L1718 1131.2L1718.1 1133.6L1718.1 1136L1718.1 1138.4L1718.1 1140.7L1718.1 1143.1L1718.1 1145.5L1718.1 1147.9L1718.1 1150.2L1718.1 1152.6L1718.1 1155L1718.1 1157.4L1718.1 1159.8L1718.2 1162.1L1718.2 1164.5L1718.2 1166.9L1718.3 1169.3L1718.3 1171.7L1718.4 1174L1718.4 1176.4L1718.5 1178.8L1718.5 1181.2L1718.6 1183.5L1718.7 1185.9L1718.7 1188.3L1718.7 1190.7L1718.8 1193.1L1718.8 1195.4L1718.8 1197.8L1718.8 1200.2L1718.8 1202.6L1718.8 1204.9L1718.8 1207.3L1718.8 1209.7L1718.9 1212.1L1719 1214.5L1719.2 1216.8L1719.4 1219.2L1719.8 1221.6L1720.5 1224L1721.3 1226.4L1722.3 1228.7L1723.5 1231.1L1724.8 1233.5L1726.1 1235.9L1727.1 1238.2L1727.7 1240.6L1727.8 1243ZM1728.8 1243L1728.9 1241.1L1729.5 1239.3L1730.5 1237.4L1731.7 1235.6L1733 1233.7L1734.2 1231.8L1735.3 1230L1736.1 1228.1L1736.8 1226.3L1737.2 1224.4L1737.5 1222.5L1737.7 1220.7L1737.8 1218.8L1737.8 1217L1737.8 1215.1L1737.9 1213.2L1737.9 1211.4L1737.9 1209.5L1737.9 1207.7L1737.9 1205.8L1737.9 1203.9L1737.9 1202.1L1737.9 1200.2L1738 1198.4L1738 1196.5L1738.1 1194.6L1738.1 1192.8L1738.2 1190.9L1738.2 1189.1L1738.3 1187.2L1738.4 1185.3L1738.4 1183.5L1738.4 1181.6L1738.5 1179.8L1738.5 1177.9L1738.5 1176L1738.5 1174.2L1738.5 1172.3L1738.5 1170.5L1738.5 1168.6L1738.5 1166.7L1738.5 1164.9L1738.6 1163L1738.6 1161.2L1738.6 1159.3L1738.6 1157.4L1738.6 1155.6L1739.1 1155.6L1739.1 1157.4L1739.1 1159.3L1739.2 1161.2L1739.2 1163L1739.2 1164.9L1739.2 1166.7L1739.2 1168.6L1739.2 1170.5L1739.2 1172.3L1739.2 1174.2L1739.2 1176L1739.2 1177.9L1739.2 1179.8L1739.3 1181.6L1739.3 1183.5L1739.4 1185.3L1739.4 1187.2L1739.5 1189.1L1739.5 1190.9L1739.6 1192.8L1739.6 1194.6L1739.7 1196.5L1739.7 1198.4L1739.8 1200.2L1739.8 1202.1L1739.8 1203.9L1739.8 1205.8L1739.8 1207.7L1739.8 1209.5L1739.9 1211.4L1739.9 1213.2L1739.9 1215.1L1739.9 1217L1740 1218.8L1740.1 1220.7L1740.2 1222.5L1740.5 1224.4L1741 1226.3L1741.6 1228.1L1742.4 1230L1743.5 1231.8L1744.7 1233.7L1746 1235.6L1747.2 1237.4L1748.2 1239.3L1748.8 1241.1L1748.9 1243ZM1749.9 1243L1750 1240.6L1751 1238.3L1752.6 1235.9L1754.3 1233.5L1755.8 1231.2L1757 1228.8L1757.9 1226.4L1758.6 1224.1L1759 1221.7L1759.3 1219.3L1759.5 1217L1759.6 1214.6L1759.7 1212.2L1759.7 1209.8L1759.8 1207.5L1759.8 1205.1L1759.8 1202.7L1759.9 1200.4L1759.9 1198L1759.9 1195.6L1759.9 1193.3L1759.8 1190.9L1759.8 1188.5L1759.8 1186.2L1759.8 1183.8L1759.8 1181.4L1759.8 1179.1L1759.8 1176.7L1759.9 1174.3L1759.9 1172L1759.9 1169.6L1759.9 1167.2L1759.8 1164.9L1759.8 1162.5L1759.8 1160.1L1759.8 1157.7L1759.8 1155.4L1759.8 1153L1759.8 1150.6L1759.9 1148.3L1759.9 1145.9L1759.9 1143.5L1759.9 1141.2L1759.8 1138.8L1759.8 1136.4L1759.8 1134.1L1759.8 1131.7L1760.1 1131.7L1760.1 1134.1L1760 1136.4L1760 1138.8L1760 1141.2L1760 1143.5L1760 1145.9L1760 1148.3L1760 1150.6L1760 1153L1760.1 1155.4L1760.1 1157.7L1760.1 1160.1L1760 1162.5L1760 1164.9L1760 1167.2L1760 1169.6L1760 1172L1760 1174.3L1760 1176.7L1760 1179.1L1760.1 1181.4L1760.1 1183.8L1760.1 1186.2L1760 1188.5L1760 1190.9L1760 1193.3L1760 1195.6L1760 1198L1760 1200.4L1760 1202.7L1760 1205.1L1760.1 1207.5L1760.1 1209.8L1760.1 1212.2L1760.2 1214.6L1760.3 1217L1760.5 1219.3L1760.8 1221.7L1761.3 1224.1L1761.9 1226.4L1762.8 1228.8L1764 1231.2L1765.6 1233.5L1767.3 1235.9L1768.8 1238.3L1769.8 1240.6L1770 1243ZM1770.9 1243L1771.1 1238.1L1772.2 1233.1L1773.7 1228.2L1775.3 1223.2L1776.7 1218.3L1777.8 1213.3L1778.6 1208.4L1779.2 1203.4L1779.5 1198.5L1779.8 1193.6L1780.1 1188.6L1780.3 1183.7L1780.5 1178.7L1780.6 1173.8L1780.7 1168.8L1780.7 1163.9L1780.8 1158.9L1780.8 1154L1780.8 1149.1L1780.9 1144.1L1780.9 1139.2L1780.9 1134.2L1780.9 1129.3L1780.9 1124.3L1780.8 1119.4L1780.8 1114.4L1780.8 1109.5L1780.8 1104.6L1780.9 1099.6L1780.9 1094.7L1780.9 1089.7L1780.9 1084.8L1780.9 1079.8L1780.9 1074.9L1780.9 1069.9L1780.8 1065L1780.8 1060.1L1780.8 1055.1L1780.9 1050.2L1780.9 1045.2L1780.9 1040.3L1780.9 1035.3L1780.9 1030.4L1780.9 1025.4L1780.9 1020.5L1780.8 1015.6L1780.8 1010.6L1781.1 1010.6L1781.1 1015.6L1781.1 1020.5L1781.1 1025.4L1781.1 1030.4L1781.1 1035.3L1781.1 1040.3L1781.1 1045.2L1781.1 1050.2L1781.1 1055.1L1781.1 1060.1L1781.1 1065L1781.1 1069.9L1781.1 1074.9L1781.1 1079.8L1781.1 1084.8L1781.1 1089.7L1781.1 1094.7L1781.1 1099.6L1781.1 1104.6L1781.1 1109.5L1781.1 1114.4L1781.1 1119.4L1781.1 1124.3L1781.1 1129.3L1781.1 1134.2L1781.1 1139.2L1781.1 1144.1L1781.1 1149.1L1781.1 1154L1781.2 1158.9L1781.2 1163.9L1781.3 1168.8L1781.4 1173.8L1781.5 1178.7L1781.7 1183.7L1781.9 1188.6L1782.1 1193.6L1782.4 1198.5L1782.8 1203.4L1783.3 1208.4L1784.1 1213.3L1785.2 1218.3L1786.7 1223.2L1788.3 1228.2L1789.8 1233.1L1790.8 1238.1L1791 1243ZM1792 1243L1792 1239.7L1792.6 1236.3L1793.7 1233L1795.1 1229.7L1796.5 1226.3L1797.7 1223L1798.8 1219.7L1799.6 1216.3L1800.1 1213L1800.4 1209.7L1800.6 1206.3L1800.7 1203L1800.8 1199.7L1800.8 1196.3L1800.8 1193L1800.9 1189.7L1800.9 1186.3L1801 1183L1801 1179.7L1801.1 1176.3L1801.2 1173L1801.3 1169.7L1801.4 1166.3L1801.5 1163L1801.6 1159.7L1801.7 1156.3L1801.7 1153L1801.8 1149.7L1801.8 1146.3L1801.8 1143L1801.8 1139.7L1801.8 1136.3L1801.8 1133L1801.8 1129.7L1801.8 1126.3L1801.8 1123L1801.8 1119.7L1801.8 1116.3L1801.8 1113L1801.8 1109.7L1801.8 1106.3L1801.8 1103L1801.8 1099.7L1801.8 1096.3L1801.8 1093L1801.8 1089.7L1801.9 1086.3L1802.2 1086.3L1802.2 1089.7L1802.2 1093L1802.3 1096.3L1802.3 1099.7L1802.3 1103L1802.3 1106.3L1802.3 1109.7L1802.3 1113L1802.3 1116.3L1802.3 1119.7L1802.3 1123L1802.3 1126.3L1802.3 1129.7L1802.3 1133L1802.3 1136.3L1802.3 1139.7L1802.3 1143L1802.3 1146.3L1802.3 1149.7L1802.4 1153L1802.4 1156.3L1802.5 1159.7L1802.6 1163L1802.7 1166.3L1802.8 1169.7L1802.9 1173L1803 1176.3L1803 1179.7L1803.1 1183L1803.2 1186.3L1803.2 1189.7L1803.2 1193L1803.3 1196.3L1803.3 1199.7L1803.4 1203L1803.5 1206.3L1803.7 1209.7L1804 1213L1804.5 1216.3L1805.3 1219.7L1806.3 1223L1807.6 1226.3L1809 1229.7L1810.4 1233L1811.4 1236.3L1812.1 1239.7L1812.1 1243ZM1813 1243L1813.1 1237.6L1813.7 1232.3L1814.7 1226.9L1816 1221.6L1817.4 1216.2L1818.7 1210.9L1819.7 1205.5L1820.5 1200.2L1821.1 1194.8L1821.5 1189.5L1821.7 1184.1L1821.8 1178.8L1821.9 1173.4L1821.9 1168L1821.9 1162.7L1821.9 1157.3L1822 1152L1822 1146.6L1822.1 1141.3L1822.1 1135.9L1822.2 1130.6L1822.3 1125.2L1822.4 1119.9L1822.4 1114.5L1822.5 1109.2L1822.6 1103.8L1822.7 1098.4L1822.7 1093.1L1822.8 1087.7L1822.8 1082.4L1822.8 1077L1822.8 1071.7L1822.9 1066.3L1822.9 1061L1822.9 1055.6L1822.9 1050.3L1822.9 1044.9L1822.9 1039.6L1822.9 1034.2L1822.9 1028.8L1822.9 1023.5L1822.9 1018.1L1822.9 1012.8L1822.9 1007.4L1822.9 1002.1L1822.9 996.7L1822.9 991.4L1823.3 991.4L1823.3 996.7L1823.3 1002.1L1823.3 1007.4L1823.3 1012.8L1823.3 1018.1L1823.3 1023.5L1823.3 1028.8L1823.3 1034.2L1823.3 1039.6L1823.3 1044.9L1823.3 1050.3L1823.3 1055.6L1823.3 1061L1823.3 1066.3L1823.4 1071.7L1823.4 1077L1823.4 1082.4L1823.4 1087.7L1823.5 1093.1L1823.5 1098.4L1823.6 1103.8L1823.7 1109.2L1823.8 1114.5L1823.8 1119.9L1823.9 1125.2L1824 1130.6L1824.1 1135.9L1824.1 1141.3L1824.2 1146.6L1824.2 1152L1824.3 1157.3L1824.3 1162.7L1824.3 1168L1824.3 1173.4L1824.4 1178.8L1824.5 1184.1L1824.7 1189.5L1825.1 1194.8L1825.7 1200.2L1826.5 1205.5L1827.5 1210.9L1828.8 1216.2L1830.2 1221.6L1831.5 1226.9L1832.5 1232.3L1833.1 1237.6L1833.1 1243ZM1834.3 1243L1834.1 1240L1834.3 1237L1834.9 1234L1835.7 1231L1836.7 1228L1837.8 1225L1838.9 1222L1839.8 1219L1840.7 1216L1841.3 1213L1841.8 1210L1842.2 1207L1842.5 1204L1842.7 1201L1842.8 1198L1842.9 1195L1842.9 1192L1842.9 1189L1842.9 1186L1843 1183L1843 1180L1843 1177L1843 1174L1843 1171L1843 1168L1843 1165L1843 1162L1843.1 1159L1843.1 1156L1843.2 1153L1843.2 1150L1843.3 1147L1843.3 1144L1843.4 1141L1843.5 1138L1843.5 1135L1843.5 1132L1843.6 1129L1843.6 1126L1843.6 1123L1843.7 1120L1843.7 1117L1843.7 1114L1843.7 1111L1843.8 1108L1843.8 1105L1843.8 1102L1844.5 1102L1844.5 1105L1844.6 1108L1844.6 1111L1844.6 1114L1844.6 1117L1844.7 1120L1844.7 1123L1844.7 1126L1844.7 1129L1844.8 1132L1844.8 1135L1844.9 1138L1844.9 1141L1845 1144L1845 1147L1845.1 1150L1845.1 1153L1845.2 1156L1845.2 1159L1845.3 1162L1845.3 1165L1845.3 1168L1845.3 1171L1845.3 1174L1845.4 1177L1845.4 1180L1845.4 1183L1845.4 1186L1845.4 1189L1845.4 1192L1845.5 1195L1845.5 1198L1845.6 1201L1845.8 1204L1846.1 1207L1846.5 1210L1847 1213L1847.7 1216L1848.5 1219L1849.5 1222L1850.5 1225L1851.6 1228L1852.6 1231L1853.4 1234L1854 1237L1854.2 1240L1854 1243ZM1855.4 1243L1855.2 1240.2L1855.2 1237.4L1855.6 1234.6L1856.2 1231.8L1856.9 1229L1857.8 1226.2L1858.7 1223.4L1859.5 1220.6L1860.3 1217.8L1861 1215L1861.6 1212.2L1862.1 1209.4L1862.5 1206.6L1862.8 1203.8L1863 1201L1863.2 1198.2L1863.4 1195.4L1863.5 1192.6L1863.5 1189.8L1863.6 1186.9L1863.6 1184.1L1863.7 1181.3L1863.7 1178.5L1863.7 1175.7L1863.7 1172.9L1863.7 1170.1L1863.7 1167.3L1863.8 1164.5L1863.8 1161.7L1863.8 1158.9L1863.9 1156.1L1863.9 1153.3L1864 1150.5L1864.1 1147.7L1864.1 1144.9L1864.2 1142.1L1864.3 1139.3L1864.3 1136.5L1864.4 1133.7L1864.4 1130.9L1864.5 1128.1L1864.5 1125.3L1864.6 1122.5L1864.6 1119.7L1864.7 1116.9L1864.7 1114.1L1864.8 1111.3L1865.7 1111.3L1865.7 1114.1L1865.8 1116.9L1865.8 1119.7L1865.9 1122.5L1865.9 1125.3L1866 1128.1L1866 1130.9L1866.1 1133.7L1866.1 1136.5L1866.2 1139.3L1866.2 1142.1L1866.3 1144.9L1866.4 1147.7L1866.4 1150.5L1866.5 1153.3L1866.6 1156.1L1866.6 1158.9L1866.7 1161.7L1866.7 1164.5L1866.7 1167.3L1866.7 1170.1L1866.7 1172.9L1866.8 1175.7L1866.8 1178.5L1866.8 1181.3L1866.8 1184.1L1866.8 1186.9L1866.9 1189.8L1867 1192.6L1867.1 1195.4L1867.2 1198.2L1867.4 1201L1867.7 1203.8L1868 1206.6L1868.4 1209.4L1868.9 1212.2L1869.5 1215L1870.1 1217.8L1870.9 1220.6L1871.8 1223.4L1872.7 1226.2L1873.5 1229L1874.3 1231.8L1874.8 1234.6L1875.2 1237.4L1875.3 1240.2L1875 1243ZM1876.6 1243L1876.3 1238.5L1876.2 1234L1876.5 1229.5L1877 1225L1877.7 1220.5L1878.5 1216.1L1879.4 1211.6L1880.3 1207.1L1881.1 1202.6L1881.9 1198.1L1882.5 1193.6L1883.1 1189.1L1883.6 1184.6L1883.9 1180.1L1884.2 1175.6L1884.4 1171.2L1884.6 1166.7L1884.7 1162.2L1884.8 1157.7L1884.8 1153.2L1884.9 1148.7L1884.9 1144.2L1884.9 1139.7L1884.9 1135.2L1884.9 1130.7L1884.9 1126.2L1884.9 1121.8L1884.9 1117.3L1884.9 1112.8L1885 1108.3L1885 1103.8L1885 1099.3L1885 1094.8L1885.1 1090.3L1885.1 1085.8L1885.1 1081.3L1885.2 1076.8L1885.2 1072.4L1885.3 1067.9L1885.3 1063.4L1885.4 1058.9L1885.4 1054.4L1885.5 1049.9L1885.5 1045.4L1885.6 1040.9L1885.7 1036.4L1885.7 1031.9L1886.8 1031.9L1886.9 1036.4L1886.9 1040.9L1887 1045.4L1887.1 1049.9L1887.1 1054.4L1887.2 1058.9L1887.2 1063.4L1887.3 1067.9L1887.3 1072.4L1887.4 1076.8L1887.4 1081.3L1887.5 1085.8L1887.5 1090.3L1887.5 1094.8L1887.6 1099.3L1887.6 1103.8L1887.6 1108.3L1887.6 1112.8L1887.6 1117.3L1887.6 1121.8L1887.6 1126.2L1887.6 1130.7L1887.7 1135.2L1887.7 1139.7L1887.7 1144.2L1887.7 1148.7L1887.7 1153.2L1887.8 1157.7L1887.9 1162.2L1888 1166.7L1888.1 1171.2L1888.3 1175.6L1888.6 1180.1L1889 1184.6L1889.5 1189.1L1890 1193.6L1890.7 1198.1L1891.4 1202.6L1892.3 1207.1L1893.2 1211.6L1894 1216.1L1894.9 1220.5L1895.6 1225L1896.1 1229.5L1896.3 1234L1896.3 1238.5L1896 1243ZM1897.9 1243L1897.4 1238.3L1897.3 1233.6L1897.4 1228.8L1897.8 1224.1L1898.4 1219.4L1899.1 1214.7L1899.8 1210L1900.5 1205.2L1901.1 1200.5L1901.6 1195.8L1902.1 1191.1L1902.5 1186.4L1902.7 1181.6L1903 1176.9L1903.2 1172.2L1903.4 1167.5L1903.5 1162.8L1903.7 1158L1903.8 1153.3L1903.9 1148.6L1904 1143.9L1904.1 1139.2L1904.2 1134.4L1904.3 1129.7L1904.5 1125L1904.6 1120.3L1904.7 1115.5L1904.9 1110.8L1905.1 1106.1L1905.3 1101.4L1905.5 1096.7L1905.7 1091.9L1905.9 1087.2L1906.1 1082.5L1906.2 1077.8L1906.3 1073.1L1906.5 1068.3L1906.5 1063.6L1906.6 1058.9L1906.7 1054.2L1906.7 1049.5L1906.7 1044.7L1906.8 1040L1906.8 1035.3L1906.8 1030.6L1906.9 1025.9L1906.9 1021.1L1907.8 1021.1L1907.8 1025.9L1907.8 1030.6L1907.9 1035.3L1907.9 1040L1907.9 1044.7L1908 1049.5L1908 1054.2L1908.1 1058.9L1908.1 1063.6L1908.2 1068.3L1908.3 1073.1L1908.5 1077.8L1908.6 1082.5L1908.8 1087.2L1909 1091.9L1909.2 1096.7L1909.4 1101.4L1909.6 1106.1L1909.8 1110.8L1910 1115.5L1910.1 1120.3L1910.2 1125L1910.3 1129.7L1910.4 1134.4L1910.5 1139.2L1910.7 1143.9L1910.8 1148.6L1910.9 1153.3L1911 1158L1911.2 1162.8L1911.3 1167.5L1911.5 1172.2L1911.7 1176.9L1911.9 1181.6L1912.2 1186.4L1912.6 1191.1L1913 1195.8L1913.6 1200.5L1914.2 1205.2L1914.9 1210L1915.6 1214.7L1916.3 1219.4L1916.9 1224.1L1917.3 1228.8L1917.4 1233.6L1917.2 1238.3L1916.8 1243ZM1919.1 1243L1918.6 1238.7L1918.4 1234.3L1918.4 1230L1918.6 1225.7L1919 1221.4L1919.6 1217L1920.3 1212.7L1920.9 1208.4L1921.6 1204L1922.2 1199.7L1922.8 1195.4L1923.3 1191L1923.8 1186.7L1924.3 1182.4L1924.7 1178.1L1925 1173.7L1925.3 1169.4L1925.6 1165.1L1925.8 1160.7L1925.9 1156.4L1926 1152.1L1926.1 1147.8L1926.2 1143.4L1926.3 1139.1L1926.3 1134.8L1926.3 1130.4L1926.4 1126.1L1926.4 1121.8L1926.5 1117.4L1926.6 1113.1L1926.6 1108.8L1926.7 1104.5L1926.8 1100.1L1927 1095.8L1927.1 1091.5L1927.2 1087.1L1927.3 1082.8L1927.4 1078.5L1927.4 1074.2L1927.5 1069.8L1927.6 1065.5L1927.6 1061.2L1927.7 1056.8L1927.7 1052.5L1927.8 1048.2L1927.9 1043.8L1927.9 1039.5L1928.9 1039.5L1928.9 1043.8L1929 1048.2L1929.1 1052.5L1929.1 1056.8L1929.2 1061.2L1929.2 1065.5L1929.3 1069.8L1929.4 1074.2L1929.4 1078.5L1929.5 1082.8L1929.6 1087.1L1929.7 1091.5L1929.8 1095.8L1930 1100.1L1930.1 1104.5L1930.2 1108.8L1930.2 1113.1L1930.3 1117.4L1930.4 1121.8L1930.4 1126.1L1930.5 1130.4L1930.5 1134.8L1930.5 1139.1L1930.6 1143.4L1930.7 1147.8L1930.8 1152.1L1930.9 1156.4L1931 1160.7L1931.2 1165.1L1931.5 1169.4L1931.8 1173.7L1932.1 1178.1L1932.5 1182.4L1933 1186.7L1933.5 1191L1934 1195.4L1934.6 1199.7L1935.2 1204L1935.9 1208.4L1936.5 1212.7L1937.2 1217L1937.8 1221.4L1938.2 1225.7L1938.4 1230L1938.5 1234.3L1938.2 1238.7L1937.7 1243Z" fill="#add8e6" stroke="#000" stroke-width="1.3" stroke-linejoin="round"/>
<path d="M1102 1243H1112.1M1102 1243H1112.1M1123.1 1239.2H1133.1M1123.1 1243H1133.1M1128.1 1243V1239.2M1144.2 866.9H1154.2M1144.2 1211.9H1154.2M1149.2 1211.9V866.9M1165.2 928.7H1175.3M1165.2 1243H1175.3M1170.2 1243V928.7M1186.3 973.2H1196.3M1186.3 1232.1H1196.3M1191.3 1232.1V973.2M1207.3 1054.9H1217.4M1207.3 1235.6H1217.4M1212.4 1235.6V1054.9M1228.4 1221.2H1238.4M1228.4 1243H1238.4M1233.4 1243V1221.2M1249.5 1239.8H1259.5M1249.5 1243H1259.5M1254.5 1243V1239.8M1270.5 1243H1280.6M1270.5 1243H1280.6M1291.6 1182.4H1301.6M1291.6 1243H1301.6M1296.6 1243V1182.4M1312.6 1208.7H1322.7M1312.6 1243H1322.7M1317.7 1243V1208.7M1333.7 1121.2H1343.7M1333.7 1243H1343.7M1338.7 1243V1121.2M1354.8 1203.3H1364.8M1354.8 1243H1364.8M1359.8 1243V1203.3M1375.8 1085.7H1385.9M1375.8 1243H1385.9M1380.8 1243V1085.7M1396.9 1145H1406.9M1396.9 1243H1406.9M1401.9 1243V1145M1417.9 1093.4H1428M1417.9 1243H1428M1423 1243V1093.4M1439 1161.6H1449M1439 1243H1449M1444 1243V1161.6M1460.1 1168.7H1470.1M1460.1 1243H1470.1M1465.1 1243V1168.7M1481.1 1074.8H1491.2M1481.1 1243H1491.2M1486.1 1243V1074.8M1502.2 1093.4H1512.2M1502.2 1243H1512.2M1507.2 1243V1093.4M1523.2 1101.7H1533.3M1523.2 1243H1533.3M1528.3 1243V1101.7M1544.3 1075.8H1554.3M1544.3 1243H1554.3M1549.3 1243V1075.8M1565.4 975.5H1575.4M1565.4 1243H1575.4M1570.4 1243V975.5M1586.4 1093.4H1596.5M1586.4 1243H1596.5M1591.4 1243V1093.4M1607.5 1130.9H1617.5M1607.5 1243H1617.5M1612.5 1243V1130.9M1628.5 1124.8H1638.6M1628.5 1243H1638.6M1633.6 1243V1124.8M1649.6 1090.5H1659.6M1649.6 1243H1659.6M1654.6 1243V1090.5M1670.7 1108.8H1680.7M1670.7 1243H1680.7M1675.7 1243V1108.8M1691.7 1041.8H1701.8M1691.7 1243H1701.8M1696.7 1243V1041.8M1712.8 1124.8H1722.8M1712.8 1243H1722.8M1717.8 1243V1124.8M1733.8 1150.7H1743.9M1733.8 1243H1743.9M1738.9 1243V1150.7M1754.9 1118.7H1764.9M1754.9 1243H1764.9M1759.9 1243V1118.7M1776 985.7H1786M1776 1243H1786M1781 1243V985.7M1797 1074.8H1807.1M1797 1243H1807.1M1802 1243V1074.8M1818.1 973.9H1828.1M1818.1 1243H1828.1M1823.1 1243V973.9M1839.1 1095.9H1849.2M1839.1 1243H1849.2M1844.2 1243V1095.9M1860.2 1106.5H1870.2M1860.2 1243H1870.2M1865.2 1243V1106.5M1881.3 1025.8H1891.3M1881.3 1243H1891.3M1886.3 1243V1025.8M1902.3 1010.7H1912.4M1902.3 1243H1912.4M1907.3 1243V1010.7M1923.4 1031.9H1933.4M1923.4 1243H1933.4M1928.4 1243V1031.9" stroke="#1f77b4" stroke-width="2.08" fill="none"/>
<path d="M1149.2 1160.3V1089.2M1170.2 1222.2V1188.9M1191.3 1193V1106.5M1212.4 1202.3V1148.5M1233.4 1239.8V1233.4M1317.7 1243V1239.8M1338.7 1243V1242M1359.8 1243V1242M1380.8 1241.4V1230.2M1401.9 1243V1234.3M1423 1243V1237.6M1444 1243V1242.4M1465.1 1243V1230.2M1486.1 1243V1231.1M1507.2 1243V1227.9M1528.3 1243V1222.2M1549.3 1243V1222.2M1570.4 1243V1233.4M1591.4 1243V1234.3M1612.5 1243V1229.5M1633.6 1243V1233.7M1654.6 1243V1234.3M1675.7 1243V1228.3M1696.7 1243V1236.6M1717.8 1243V1242.4M1738.9 1243V1242.4M1759.9 1243V1242.4M1781 1243V1242.4M1802 1243V1237.6M1823.1 1243V1234.3M1844.2 1243V1227M1865.2 1243V1214.8M1886.3 1243V1202.3M1907.3 1243V1164.2M1928.4 1243V1184" stroke="#000" stroke-width="7.85" fill="none"/>
<path d="M1149.2 1191.4V1012M1170.2 1242.4V1129.3M1191.3 1223.8V1049.5M1212.4 1228.9V1103.9M1233.4 1242V1222.5M1254.5 1243V1241.4M1296.6 1243V1234.3M1317.7 1243V1223.8M1338.7 1243V1231.1M1359.8 1243V1233.4M1380.8 1243V1167.1M1401.9 1243V1189.8M1423 1243V1191.4M1444 1243V1199.4M1465.1 1243V1190.5M1486.1 1243V1150.4M1507.2 1243V1141.8M1528.3 1243V1153.6M1549.3 1243V1156.5M1570.4 1243V1162.3M1591.4 1243V1192.1M1612.5 1243V1165.5M1633.6 1243V1159.7M1654.6 1243V1164.5M1675.7 1243V1152.3M1696.7 1243V1148.8M1717.8 1243V1177.6M1738.9 1243V1190.5M1759.9 1243V1225.4M1781 1243V1189.8M1802 1243V1169.3M1823.1 1243V1117.4M1844.2 1243V1145.6M1865.2 1243V1145.6M1886.3 1243V1076.4M1907.3 1243V1096.3M1928.4 1243V1094.7" stroke="#ff0000" stroke-width="3.14" fill="none"/>
<path d="M1101 1243H1113.2M1122 1243H1134.2M1143.1 1144H1155.3M1164.1 1211.3H1176.3M1185.2 1154.2H1197.4M1206.3 1170.6H1218.5M1227.3 1236.3H1239.5M1248.4 1243H1260.6M1269.4 1243H1281.6M1290.5 1243H1302.7M1311.6 1241.4H1323.8M1332.6 1243H1344.8M1353.7 1243H1365.9M1374.7 1236.9H1386.9M1395.8 1243H1408M1416.9 1243H1429.1M1437.9 1243H1450.1M1459 1243H1471.2M1480 1243H1492.2M1501.1 1243H1513.3M1522.2 1239.2H1534.4M1543.2 1237.6H1555.4M1564.3 1243H1576.5M1585.3 1243H1597.5M1606.4 1243H1618.6M1627.5 1243H1639.7M1648.5 1243H1660.7M1669.6 1243H1681.8M1690.6 1243H1702.8M1711.7 1243H1723.9M1732.8 1243H1745M1753.8 1243H1766M1774.9 1243H1787.1M1795.9 1243H1808.1M1817 1243H1829.2M1838.1 1243H1850.3M1859.1 1241.4H1871.3M1880.2 1237.6H1892.4M1901.2 1221.9H1913.4M1922.3 1223.1H1934.5" stroke="#ff0000" stroke-width="3.9" fill="none"/>
</g>
<g clip-path="url(#c12)">
<path d="M1106.8 1766.7L1106.8 1765.6L1106.8 1764.5L1106.8 1763.3L1106.8 1762.2L1106.8 1761.1L1106.8 1760L1106.8 1758.9L1106.8 1757.8L1106.8 1756.7L1106.8 1755.6L1106.8 1754.5L1106.7 1753.4L1106.7 1752.3L1106.7 1751.2L1106.7 1750.1L1106.7 1749L1106.7 1747.9L1106.6 1746.8L1106.4 1745.7L1106.3 1744.5L1106.1 1743.4L1105.8 1742.3L1105.5 1741.2L1105.2 1740.1L1105 1739L1104.7 1737.9L1104.5 1736.8L1104.2 1735.7L1103.9 1734.6L1103.5 1733.5L1102.9 1732.4L1102.2 1731.3L1101.4 1730.2L1100.4 1729.1L1099.4 1728L1098.5 1726.9L1097.8 1725.7L1097.2 1724.6L1097 1723.5L1097.1 1722.4L1097.4 1721.3L1098.1 1720.2L1099 1719.1L1100.1 1718L1101.3 1716.9L1102.5 1715.8L1103.6 1714.7L1110.5 1714.7L1111.7 1715.8L1112.9 1716.9L1114.1 1718L1115.1 1719.1L1116 1720.2L1116.7 1721.3L1117 1722.4L1117.1 1723.5L1116.9 1724.6L1116.4 1725.7L1115.6 1726.9L1114.7 1728L1113.7 1729.1L1112.8 1730.2L1111.9 1731.3L1111.2 1732.4L1110.6 1733.5L1110.2 1734.6L1109.9 1735.7L1109.7 1736.8L1109.4 1737.9L1109.2 1739L1108.9 1740.1L1108.6 1741.2L1108.3 1742.3L1108.1 1743.4L1107.8 1744.5L1107.7 1745.7L1107.5 1746.8L1107.5 1747.9L1107.4 1749L1107.4 1750.1L1107.4 1751.2L1107.4 1752.3L1107.4 1753.4L1107.4 1754.5L1107.4 1755.6L1107.4 1756.7L1107.4 1757.8L1107.4 1758.9L1107.4 1760L1107.4 1761.1L1107.4 1762.2L1107.4 1763.3L1107.4 1764.5L1107.3 1765.6L1107.3 1766.7ZM1126.5 1855.3L1126.2 1852.7L1125.9 1850.2L1125.6 1847.6L1125.2 1845.1L1124.9 1842.5L1124.6 1839.9L1124.3 1837.4L1124 1834.8L1123.8 1832.2L1123.6 1829.7L1123.4 1827.1L1123.2 1824.5L1123.1 1822L1122.9 1819.4L1122.8 1816.8L1122.6 1814.3L1122.4 1811.7L1122.3 1809.1L1122.1 1806.6L1121.9 1804L1121.7 1801.4L1121.5 1798.9L1121.2 1796.3L1120.9 1793.7L1120.6 1791.2L1120.2 1788.6L1119.7 1786L1119.3 1783.5L1118.9 1780.9L1118.6 1778.3L1118.3 1775.8L1118.1 1773.2L1118.1 1770.6L1118.2 1768.1L1118.4 1765.5L1118.9 1762.9L1119.4 1760.4L1120.1 1757.8L1120.9 1755.2L1121.7 1752.7L1122.5 1750.1L1123.3 1747.5L1124.1 1745L1124.8 1742.4L1125.4 1739.9L1125.9 1737.3L1126.4 1734.7L1129.9 1734.7L1130.3 1737.3L1130.9 1739.9L1131.5 1742.4L1132.2 1745L1133 1747.5L1133.8 1750.1L1134.6 1752.7L1135.4 1755.2L1136.1 1757.8L1136.8 1760.4L1137.4 1762.9L1137.8 1765.5L1138.1 1768.1L1138.2 1770.6L1138.1 1773.2L1138 1775.8L1137.7 1778.3L1137.3 1780.9L1136.9 1783.5L1136.5 1786L1136.1 1788.6L1135.7 1791.2L1135.3 1793.7L1135 1796.3L1134.8 1798.9L1134.5 1801.4L1134.3 1804L1134.1 1806.6L1134 1809.1L1133.8 1811.7L1133.6 1814.3L1133.5 1816.8L1133.3 1819.4L1133.2 1822L1133 1824.5L1132.9 1827.1L1132.7 1829.7L1132.4 1832.2L1132.2 1834.8L1131.9 1837.4L1131.6 1839.9L1131.3 1842.5L1131 1845.1L1130.7 1847.6L1130.3 1850.2L1130 1852.7L1129.7 1855.3ZM1145.4 1705.3L1144.7 1704.3L1144 1703.4L1143.3 1702.4L1142.6 1701.5L1142 1700.5L1141.4 1699.5L1140.9 1698.6L1140.4 1697.6L1140 1696.7L1139.7 1695.7L1139.5 1694.8L1139.3 1693.8L1139.2 1692.8L1139.1 1691.9L1139.2 1690.9L1139.3 1690L1139.5 1689L1139.7 1688.1L1139.9 1687.1L1140.2 1686.1L1140.4 1685.2L1140.7 1684.2L1140.9 1683.3L1141.1 1682.3L1141.3 1681.4L1141.5 1680.4L1141.6 1679.4L1141.8 1678.5L1142 1677.5L1142.2 1676.6L1142.5 1675.6L1142.7 1674.7L1143 1673.7L1143.4 1672.8L1143.8 1671.8L1144.2 1670.8L1144.6 1669.9L1145.1 1668.9L1145.5 1668L1146 1667L1146.4 1666.1L1146.8 1665.1L1147.1 1664.1L1147.4 1663.2L1147.6 1662.2L1147.9 1661.3L1148.1 1660.3L1150.3 1660.3L1150.5 1661.3L1150.7 1662.2L1151 1663.2L1151.3 1664.1L1151.6 1665.1L1152 1666.1L1152.4 1667L1152.8 1668L1153.3 1668.9L1153.7 1669.9L1154.2 1670.8L1154.6 1671.8L1155 1672.8L1155.3 1673.7L1155.6 1674.7L1155.9 1675.6L1156.1 1676.6L1156.4 1677.5L1156.5 1678.5L1156.7 1679.4L1156.9 1680.4L1157.1 1681.4L1157.3 1682.3L1157.5 1683.3L1157.7 1684.2L1157.9 1685.2L1158.2 1686.1L1158.4 1687.1L1158.7 1688.1L1158.9 1689L1159.1 1690L1159.2 1690.9L1159.2 1691.9L1159.2 1692.8L1159.1 1693.8L1158.9 1694.8L1158.6 1695.7L1158.3 1696.7L1157.9 1697.6L1157.5 1698.6L1157 1699.5L1156.4 1700.5L1155.8 1701.5L1155.1 1702.4L1154.4 1703.4L1153.7 1704.3L1153 1705.3ZM1169.7 1679.2L1169.6 1678.3L1169.6 1677.4L1169.5 1676.5L1169.4 1675.7L1169.3 1674.8L1169.1 1673.9L1168.9 1673L1168.6 1672.2L1168.3 1671.3L1168 1670.4L1167.6 1669.5L1167.1 1668.7L1166.7 1667.8L1166.3 1666.9L1165.8 1666L1165.2 1665.2L1164.5 1664.3L1163.7 1663.4L1162.9 1662.5L1162 1661.7L1161.2 1660.8L1160.6 1659.9L1160.2 1659L1160.2 1658.2L1160.5 1657.3L1161.2 1656.4L1162.1 1655.5L1163.1 1654.7L1164.1 1653.8L1165 1652.9L1165.7 1652L1166.3 1651.1L1166.7 1650.3L1167.1 1649.4L1167.4 1648.5L1167.7 1647.6L1168 1646.8L1168.3 1645.9L1168.5 1645L1168.8 1644.1L1169 1643.3L1169.2 1642.4L1169.3 1641.5L1169.4 1640.6L1169.5 1639.8L1169.6 1638.9L1169.7 1638L1170.8 1638L1170.9 1638.9L1171 1639.8L1171.1 1640.6L1171.2 1641.5L1171.3 1642.4L1171.5 1643.3L1171.7 1644.1L1171.9 1645L1172.2 1645.9L1172.5 1646.8L1172.8 1647.6L1173.1 1648.5L1173.4 1649.4L1173.8 1650.3L1174.2 1651.1L1174.8 1652L1175.5 1652.9L1176.4 1653.8L1177.4 1654.7L1178.4 1655.5L1179.3 1656.4L1179.9 1657.3L1180.3 1658.2L1180.3 1659L1179.9 1659.9L1179.3 1660.8L1178.5 1661.7L1177.6 1662.5L1176.7 1663.4L1176 1664.3L1175.3 1665.2L1174.7 1666L1174.2 1666.9L1173.8 1667.8L1173.3 1668.7L1172.9 1669.5L1172.5 1670.4L1172.2 1671.3L1171.8 1672.2L1171.6 1673L1171.4 1673.9L1171.2 1674.8L1171.1 1675.7L1171 1676.5L1170.9 1677.4L1170.8 1678.3L1170.8 1679.2ZM1190.4 1690.7L1190.2 1690L1190 1689.2L1189.9 1688.5L1189.7 1687.8L1189.4 1687L1189.2 1686.3L1189 1685.5L1188.8 1684.8L1188.5 1684L1188.3 1683.3L1188.1 1682.6L1187.9 1681.8L1187.8 1681.1L1187.6 1680.3L1187.4 1679.6L1187.2 1678.9L1186.9 1678.1L1186.5 1677.4L1186.1 1676.6L1185.7 1675.9L1185.1 1675.1L1184.6 1674.4L1184 1673.7L1183.4 1672.9L1182.8 1672.2L1182.3 1671.4L1181.9 1670.7L1181.5 1669.9L1181.3 1669.2L1181.2 1668.5L1181.3 1667.7L1181.6 1667L1181.9 1666.2L1182.4 1665.5L1183 1664.8L1183.6 1664L1184.3 1663.3L1185 1662.5L1185.7 1661.8L1186.4 1661L1187 1660.3L1187.6 1659.6L1188.2 1658.8L1188.7 1658.1L1189.2 1657.3L1189.6 1656.6L1189.9 1655.8L1192.7 1655.8L1193 1656.6L1193.4 1657.3L1193.9 1658.1L1194.4 1658.8L1195 1659.6L1195.6 1660.3L1196.2 1661L1196.9 1661.8L1197.6 1662.5L1198.3 1663.3L1199 1664L1199.6 1664.8L1200.2 1665.5L1200.7 1666.2L1201 1667L1201.3 1667.7L1201.3 1668.5L1201.3 1669.2L1201.1 1669.9L1200.7 1670.7L1200.3 1671.4L1199.8 1672.2L1199.2 1672.9L1198.6 1673.7L1198 1674.4L1197.5 1675.1L1196.9 1675.9L1196.5 1676.6L1196.1 1677.4L1195.7 1678.1L1195.4 1678.9L1195.2 1679.6L1195 1680.3L1194.8 1681.1L1194.7 1681.8L1194.5 1682.6L1194.3 1683.3L1194.1 1684L1193.8 1684.8L1193.6 1685.5L1193.4 1686.3L1193.2 1687L1192.9 1687.8L1192.7 1688.5L1192.6 1689.2L1192.4 1690L1192.2 1690.7ZM1211.5 1689.7L1211.2 1688.6L1210.9 1687.6L1210.6 1686.5L1210.1 1685.5L1209.6 1684.4L1208.9 1683.4L1208.2 1682.3L1207.4 1681.3L1206.6 1680.2L1205.7 1679.2L1204.8 1678.2L1204 1677.1L1203.2 1676.1L1202.7 1675L1202.3 1674L1202.3 1672.9L1202.6 1671.9L1203.2 1670.8L1204.1 1669.8L1205.1 1668.7L1206.2 1667.7L1207.1 1666.6L1208 1665.6L1208.6 1664.5L1209.1 1663.5L1209.4 1662.4L1209.7 1661.4L1209.8 1660.3L1210 1659.3L1210.1 1658.2L1210.3 1657.2L1210.4 1656.1L1210.6 1655.1L1210.8 1654L1211.1 1653L1211.2 1651.9L1211.4 1650.9L1211.5 1649.8L1211.6 1648.8L1211.7 1647.7L1211.7 1646.7L1211.8 1645.6L1211.8 1644.6L1211.8 1643.5L1211.8 1642.5L1211.9 1641.4L1211.9 1640.4L1212.8 1640.4L1212.8 1641.4L1212.9 1642.5L1212.9 1643.5L1212.9 1644.6L1213 1645.6L1213 1646.7L1213 1647.7L1213.1 1648.8L1213.2 1649.8L1213.3 1650.9L1213.5 1651.9L1213.7 1653L1213.9 1654L1214.1 1655.1L1214.3 1656.1L1214.5 1657.2L1214.6 1658.2L1214.8 1659.3L1214.9 1660.3L1215.1 1661.4L1215.3 1662.4L1215.6 1663.5L1216.1 1664.5L1216.8 1665.6L1217.6 1666.6L1218.6 1667.7L1219.6 1668.7L1220.6 1669.8L1221.5 1670.8L1222.1 1671.9L1222.4 1672.9L1222.4 1674L1222.1 1675L1221.5 1676.1L1220.7 1677.1L1219.9 1678.2L1219 1679.2L1218.1 1680.2L1217.3 1681.3L1216.5 1682.3L1215.8 1683.4L1215.2 1684.4L1214.6 1685.5L1214.2 1686.5L1213.8 1687.6L1213.5 1688.6L1213.2 1689.7ZM1231.3 1657.8L1231 1657.2L1230.7 1656.6L1230.4 1656.1L1230.1 1655.5L1229.9 1654.9L1229.7 1654.3L1229.6 1653.8L1229.4 1653.2L1229.2 1652.6L1229.1 1652L1228.8 1651.5L1228.5 1650.9L1228.2 1650.3L1227.8 1649.8L1227.3 1649.2L1226.8 1648.6L1226.2 1648L1225.6 1647.5L1225 1646.9L1224.5 1646.3L1224.1 1645.8L1223.7 1645.2L1223.5 1644.6L1223.4 1644L1223.4 1643.5L1223.6 1642.9L1223.9 1642.3L1224.4 1641.8L1224.9 1641.2L1225.5 1640.6L1226.1 1640L1226.7 1639.5L1227.3 1638.9L1227.8 1638.3L1228.2 1637.8L1228.5 1637.2L1228.9 1636.6L1229.1 1636L1229.4 1635.5L1229.6 1634.9L1229.9 1634.3L1230.2 1633.8L1230.5 1633.2L1230.8 1632.6L1231.1 1632L1231.4 1631.5L1231.7 1630.9L1235.1 1630.9L1235.4 1631.5L1235.7 1632L1236.1 1632.6L1236.4 1633.2L1236.7 1633.8L1236.9 1634.3L1237.2 1634.9L1237.5 1635.5L1237.7 1636L1238 1636.6L1238.3 1637.2L1238.7 1637.8L1239.1 1638.3L1239.6 1638.9L1240.1 1639.5L1240.7 1640L1241.3 1640.6L1241.9 1641.2L1242.4 1641.8L1242.9 1642.3L1243.2 1642.9L1243.4 1643.5L1243.5 1644L1243.4 1644.6L1243.1 1645.2L1242.8 1645.8L1242.3 1646.3L1241.8 1646.9L1241.2 1647.5L1240.6 1648L1240.1 1648.6L1239.5 1649.2L1239.1 1649.8L1238.6 1650.3L1238.3 1650.9L1238 1651.5L1237.8 1652L1237.6 1652.6L1237.4 1653.2L1237.3 1653.8L1237.1 1654.3L1236.9 1654.9L1236.7 1655.5L1236.5 1656.1L1236.2 1656.6L1235.9 1657.2L1235.5 1657.8ZM1253 1650.8L1252.7 1650.2L1252.4 1649.6L1252.1 1648.9L1251.8 1648.3L1251.6 1647.7L1251.4 1647.1L1251.2 1646.5L1251 1645.9L1250.8 1645.3L1250.7 1644.7L1250.4 1644.1L1250.1 1643.5L1249.8 1642.9L1249.3 1642.3L1248.7 1641.7L1248.1 1641.1L1247.4 1640.5L1246.7 1639.9L1246 1639.3L1245.4 1638.7L1244.9 1638.1L1244.6 1637.5L1244.4 1636.9L1244.5 1636.3L1244.7 1635.7L1245.1 1635.1L1245.6 1634.5L1246.2 1633.8L1246.9 1633.2L1247.5 1632.6L1248.1 1632L1248.7 1631.4L1249.2 1630.8L1249.6 1630.2L1250.1 1629.6L1250.4 1629L1250.8 1628.4L1251.2 1627.8L1251.5 1627.2L1251.9 1626.6L1252.2 1626L1252.5 1625.4L1252.8 1624.8L1253 1624.2L1253.2 1623.6L1253.4 1623L1253.6 1622.4L1255.4 1622.4L1255.5 1623L1255.7 1623.6L1255.9 1624.2L1256.2 1624.8L1256.5 1625.4L1256.7 1626L1257.1 1626.6L1257.4 1627.2L1257.8 1627.8L1258.1 1628.4L1258.5 1629L1258.9 1629.6L1259.3 1630.2L1259.8 1630.8L1260.3 1631.4L1260.8 1632L1261.4 1632.6L1262.1 1633.2L1262.7 1633.8L1263.3 1634.5L1263.9 1635.1L1264.2 1635.7L1264.5 1636.3L1264.5 1636.9L1264.4 1637.5L1264.1 1638.1L1263.6 1638.7L1263 1639.3L1262.3 1639.9L1261.6 1640.5L1260.9 1641.1L1260.2 1641.7L1259.7 1642.3L1259.2 1642.9L1258.8 1643.5L1258.5 1644.1L1258.3 1644.7L1258.1 1645.3L1257.9 1645.9L1257.8 1646.5L1257.6 1647.1L1257.4 1647.7L1257.1 1648.3L1256.8 1648.9L1256.6 1649.6L1256.3 1650.2L1256 1650.8ZM1272.5 1671.2L1271.8 1670.4L1271 1669.5L1270.3 1668.7L1269.5 1667.9L1268.8 1667L1268.2 1666.2L1267.6 1665.4L1267.1 1664.5L1266.6 1663.7L1266.2 1662.8L1265.9 1662L1265.7 1661.2L1265.5 1660.3L1265.5 1659.5L1265.5 1658.7L1265.6 1657.8L1265.8 1657L1266 1656.1L1266.3 1655.3L1266.7 1654.5L1267 1653.6L1267.5 1652.8L1267.9 1652L1268.4 1651.1L1268.8 1650.3L1269.2 1649.4L1269.6 1648.6L1270 1647.8L1270.3 1646.9L1270.6 1646.1L1271 1645.3L1271.3 1644.4L1271.6 1643.6L1272 1642.7L1272.4 1641.9L1272.7 1641.1L1273.1 1640.2L1273.4 1639.4L1273.7 1638.6L1273.9 1637.7L1274.1 1636.9L1274.3 1636L1274.4 1635.2L1274.5 1634.4L1274.6 1633.5L1274.7 1632.7L1274.8 1631.9L1276.2 1631.9L1276.3 1632.7L1276.4 1633.5L1276.5 1634.4L1276.7 1635.2L1276.8 1636L1276.9 1636.9L1277.1 1637.7L1277.4 1638.6L1277.7 1639.4L1278 1640.2L1278.3 1641.1L1278.7 1641.9L1279.1 1642.7L1279.4 1643.6L1279.8 1644.4L1280.1 1645.3L1280.4 1646.1L1280.8 1646.9L1281.1 1647.8L1281.5 1648.6L1281.9 1649.4L1282.3 1650.3L1282.7 1651.1L1283.2 1652L1283.6 1652.8L1284 1653.6L1284.4 1654.5L1284.8 1655.3L1285.1 1656.1L1285.3 1657L1285.5 1657.8L1285.6 1658.7L1285.6 1659.5L1285.5 1660.3L1285.4 1661.2L1285.2 1662L1284.9 1662.8L1284.5 1663.7L1284 1664.5L1283.5 1665.4L1282.9 1666.2L1282.2 1667L1281.5 1667.9L1280.8 1668.7L1280.1 1669.5L1279.3 1670.4L1278.6 1671.2ZM1295.3 1696.1L1295 1695.1L1294.7 1694.1L1294.4 1693.1L1294.1 1692.2L1293.8 1691.2L1293.5 1690.2L1293.2 1689.2L1292.9 1688.3L1292.6 1687.3L1292.3 1686.3L1292 1685.3L1291.6 1684.4L1291.2 1683.4L1290.7 1682.4L1290.1 1681.4L1289.4 1680.4L1288.8 1679.5L1288.1 1678.5L1287.5 1677.5L1287 1676.5L1286.7 1675.6L1286.5 1674.6L1286.6 1673.6L1286.9 1672.6L1287.4 1671.6L1288 1670.7L1288.8 1669.7L1289.6 1668.7L1290.4 1667.7L1291.2 1666.8L1291.8 1665.8L1292.3 1664.8L1292.8 1663.8L1293.1 1662.8L1293.3 1661.9L1293.4 1660.9L1293.5 1659.9L1293.6 1658.9L1293.7 1658L1293.8 1657L1293.9 1656L1294.1 1655L1294.2 1654L1294.4 1653.1L1294.6 1652.1L1294.9 1651.1L1295.1 1650.1L1298.1 1650.1L1298.3 1651.1L1298.6 1652.1L1298.8 1653.1L1299 1654L1299.1 1655L1299.3 1656L1299.4 1657L1299.5 1658L1299.6 1658.9L1299.7 1659.9L1299.8 1660.9L1299.9 1661.9L1300.1 1662.8L1300.4 1663.8L1300.9 1664.8L1301.4 1665.8L1302 1666.8L1302.8 1667.7L1303.6 1668.7L1304.4 1669.7L1305.2 1670.7L1305.8 1671.6L1306.3 1672.6L1306.6 1673.6L1306.6 1674.6L1306.5 1675.6L1306.2 1676.5L1305.7 1677.5L1305.1 1678.5L1304.4 1679.5L1303.8 1680.4L1303.1 1681.4L1302.5 1682.4L1302 1683.4L1301.6 1684.4L1301.2 1685.3L1300.9 1686.3L1300.6 1687.3L1300.3 1688.3L1300 1689.2L1299.7 1690.2L1299.4 1691.2L1299.1 1692.2L1298.8 1693.1L1298.5 1694.1L1298.2 1695.1L1297.9 1696.1ZM1313.9 1702.1L1313.1 1700.8L1312.3 1699.5L1311.4 1698.2L1310.6 1696.9L1309.8 1695.6L1309.2 1694.3L1308.6 1693L1308.1 1691.7L1307.8 1690.3L1307.6 1689L1307.6 1687.7L1307.7 1686.4L1308 1685.1L1308.3 1683.8L1308.7 1682.5L1309.1 1681.2L1309.6 1679.9L1310 1678.6L1310.3 1677.3L1310.7 1675.9L1310.9 1674.6L1311.2 1673.3L1311.4 1672L1311.6 1670.7L1311.8 1669.4L1312 1668.1L1312.2 1666.8L1312.4 1665.5L1312.6 1664.2L1312.8 1662.8L1313.1 1661.5L1313.4 1660.2L1313.7 1658.9L1314.1 1657.6L1314.5 1656.3L1314.8 1655L1315.2 1653.7L1315.5 1652.4L1315.8 1651.1L1316 1649.7L1316.2 1648.4L1316.4 1647.1L1316.5 1645.8L1316.7 1644.5L1316.8 1643.2L1316.9 1641.9L1317 1640.6L1318.3 1640.6L1318.4 1641.9L1318.5 1643.2L1318.7 1644.5L1318.8 1645.8L1318.9 1647.1L1319.1 1648.4L1319.3 1649.7L1319.5 1651.1L1319.8 1652.4L1320.1 1653.7L1320.5 1655L1320.9 1656.3L1321.2 1657.6L1321.6 1658.9L1321.9 1660.2L1322.2 1661.5L1322.5 1662.8L1322.7 1664.2L1322.9 1665.5L1323.1 1666.8L1323.3 1668.1L1323.5 1669.4L1323.7 1670.7L1323.9 1672L1324.1 1673.3L1324.4 1674.6L1324.7 1675.9L1325 1677.3L1325.4 1678.6L1325.8 1679.9L1326.2 1681.2L1326.6 1682.5L1327 1683.8L1327.3 1685.1L1327.6 1686.4L1327.7 1687.7L1327.7 1689L1327.5 1690.3L1327.2 1691.7L1326.7 1693L1326.2 1694.3L1325.5 1695.6L1324.7 1696.9L1323.9 1698.2L1323 1699.5L1322.2 1700.8L1321.4 1702.1ZM1335.9 1696.4L1335.2 1694.9L1334.5 1693.3L1333.8 1691.8L1333 1690.3L1332.1 1688.8L1331.3 1687.2L1330.5 1685.7L1329.7 1684.2L1329.2 1682.7L1328.8 1681.2L1328.7 1679.6L1328.8 1678.1L1329.2 1676.6L1329.8 1675.1L1330.5 1673.5L1331.2 1672L1332 1670.5L1332.7 1669L1333.3 1667.5L1333.9 1665.9L1334.4 1664.4L1334.7 1662.9L1335 1661.4L1335.3 1659.8L1335.5 1658.3L1335.7 1656.8L1336 1655.3L1336.3 1653.7L1336.6 1652.2L1336.9 1650.7L1337.2 1649.2L1337.4 1647.7L1337.6 1646.1L1337.8 1644.6L1338 1643.1L1338.1 1641.6L1338.1 1640L1338.2 1638.5L1338.2 1637L1338.2 1635.5L1338.2 1634L1338.2 1632.4L1338.2 1630.9L1338.2 1629.4L1338.3 1627.9L1338.3 1626.3L1338.3 1624.8L1339.1 1624.8L1339.1 1626.3L1339.2 1627.9L1339.2 1629.4L1339.2 1630.9L1339.2 1632.4L1339.2 1634L1339.2 1635.5L1339.2 1637L1339.3 1638.5L1339.3 1640L1339.4 1641.6L1339.5 1643.1L1339.6 1644.6L1339.8 1646.1L1340 1647.7L1340.3 1649.2L1340.6 1650.7L1340.9 1652.2L1341.2 1653.7L1341.4 1655.3L1341.7 1656.8L1341.9 1658.3L1342.2 1659.8L1342.4 1661.4L1342.7 1662.9L1343.1 1664.4L1343.5 1665.9L1344.1 1667.5L1344.7 1669L1345.5 1670.5L1346.2 1672L1347 1673.5L1347.7 1675.1L1348.2 1676.6L1348.6 1678.1L1348.8 1679.6L1348.7 1681.2L1348.3 1682.7L1347.7 1684.2L1347 1685.7L1346.1 1687.2L1345.3 1688.8L1344.5 1690.3L1343.7 1691.8L1342.9 1693.3L1342.2 1694.9L1341.5 1696.4ZM1357.2 1691.1L1356.2 1689.2L1355 1687.2L1353.7 1685.3L1352.4 1683.3L1351.3 1681.4L1350.4 1679.5L1349.9 1677.5L1349.7 1675.6L1349.9 1673.6L1350.3 1671.7L1350.9 1669.7L1351.6 1667.8L1352.3 1665.9L1353 1663.9L1353.6 1662L1354.2 1660L1354.8 1658.1L1355.2 1656.1L1355.7 1654.2L1356.1 1652.2L1356.6 1650.3L1357.1 1648.4L1357.5 1646.4L1358 1644.5L1358.4 1642.5L1358.7 1640.6L1359 1638.6L1359.2 1636.7L1359.3 1634.8L1359.4 1632.8L1359.4 1630.9L1359.5 1628.9L1359.5 1627L1359.5 1625L1359.5 1623.1L1359.5 1621.1L1359.5 1619.2L1359.5 1617.3L1359.5 1615.3L1359.5 1613.4L1359.5 1611.4L1359.5 1609.5L1359.5 1607.5L1359.5 1605.6L1359.5 1603.6L1359.5 1601.7L1359.5 1599.8L1360.1 1599.8L1360.1 1601.7L1360.1 1603.6L1360.1 1605.6L1360.1 1607.5L1360.1 1609.5L1360.1 1611.4L1360.1 1613.4L1360.1 1615.3L1360.1 1617.3L1360.1 1619.2L1360.1 1621.1L1360.1 1623.1L1360.1 1625L1360.1 1627L1360.1 1628.9L1360.1 1630.9L1360.2 1632.8L1360.2 1634.8L1360.4 1636.7L1360.6 1638.6L1360.8 1640.6L1361.2 1642.5L1361.6 1644.5L1362 1646.4L1362.5 1648.4L1363 1650.3L1363.4 1652.2L1363.9 1654.2L1364.3 1656.1L1364.8 1658.1L1365.3 1660L1365.9 1662L1366.6 1663.9L1367.3 1665.9L1368 1667.8L1368.7 1669.7L1369.3 1671.7L1369.7 1673.6L1369.8 1675.6L1369.7 1677.5L1369.1 1679.5L1368.3 1681.4L1367.1 1683.3L1365.9 1685.3L1364.6 1687.2L1363.4 1689.2L1362.4 1691.1ZM1380 1700.6L1379.8 1698.4L1379.5 1696.2L1379.2 1693.9L1378.8 1691.7L1378.3 1689.5L1377.8 1687.3L1377.1 1685L1376.5 1682.8L1375.8 1680.6L1375 1678.4L1374.2 1676.1L1373.4 1673.9L1372.6 1671.7L1371.9 1669.5L1371.3 1667.2L1370.9 1665L1370.8 1662.8L1371 1660.5L1371.4 1658.3L1372.1 1656.1L1373 1653.9L1373.8 1651.6L1374.7 1649.4L1375.5 1647.2L1376.2 1645L1376.9 1642.7L1377.6 1640.5L1378.2 1638.3L1378.8 1636.1L1379.3 1633.8L1379.7 1631.6L1380 1629.4L1380.2 1627.2L1380.3 1624.9L1380.4 1622.7L1380.4 1620.5L1380.4 1618.3L1380.4 1616L1380.4 1613.8L1380.4 1611.6L1380.4 1609.4L1380.4 1607.1L1380.4 1604.9L1380.4 1602.7L1380.5 1600.5L1380.5 1598.2L1380.5 1596L1381.2 1596L1381.2 1598.2L1381.2 1600.5L1381.2 1602.7L1381.2 1604.9L1381.2 1607.1L1381.2 1609.4L1381.2 1611.6L1381.2 1613.8L1381.2 1616L1381.3 1618.3L1381.3 1620.5L1381.3 1622.7L1381.4 1624.9L1381.5 1627.2L1381.7 1629.4L1382 1631.6L1382.4 1633.8L1382.9 1636.1L1383.5 1638.3L1384.1 1640.5L1384.7 1642.7L1385.4 1645L1386.2 1647.2L1387 1649.4L1387.8 1651.6L1388.7 1653.9L1389.6 1656.1L1390.2 1658.3L1390.7 1660.5L1390.9 1662.8L1390.8 1665L1390.4 1667.2L1389.8 1669.5L1389 1671.7L1388.3 1673.9L1387.4 1676.1L1386.7 1678.4L1385.9 1680.6L1385.2 1682.8L1384.5 1685L1383.9 1687.3L1383.3 1689.5L1382.9 1691.7L1382.5 1693.9L1382.1 1696.2L1381.9 1698.4L1381.6 1700.6ZM1400.7 1689.5L1400.3 1687.6L1399.9 1685.7L1399.5 1683.8L1398.9 1681.8L1398.3 1679.9L1397.7 1678L1397.1 1676.1L1396.4 1674.2L1395.7 1672.3L1395 1670.4L1394.3 1668.5L1393.6 1666.6L1393 1664.7L1392.5 1662.8L1392.1 1660.9L1391.9 1659L1391.9 1657.1L1392.1 1655.2L1392.5 1653.3L1393.2 1651.4L1394 1649.5L1394.9 1647.6L1395.8 1645.7L1396.6 1643.8L1397.3 1641.9L1397.9 1639.9L1398.3 1638L1398.6 1636.1L1398.8 1634.2L1399 1632.3L1399.2 1630.4L1399.4 1628.5L1399.6 1626.6L1399.8 1624.7L1400 1622.8L1400.2 1620.9L1400.4 1619L1400.6 1617.1L1400.8 1615.2L1400.9 1613.3L1401 1611.4L1401.1 1609.5L1401.1 1607.6L1401.2 1605.7L1401.2 1603.8L1401.3 1601.9L1401.4 1600L1402.4 1600L1402.5 1601.9L1402.6 1603.8L1402.6 1605.7L1402.7 1607.6L1402.7 1609.5L1402.8 1611.4L1402.9 1613.3L1403 1615.2L1403.2 1617.1L1403.4 1619L1403.6 1620.9L1403.8 1622.8L1404 1624.7L1404.2 1626.6L1404.4 1628.5L1404.6 1630.4L1404.8 1632.3L1405 1634.2L1405.2 1636.1L1405.5 1638L1405.9 1639.9L1406.5 1641.9L1407.2 1643.8L1408 1645.7L1408.9 1647.6L1409.8 1649.5L1410.6 1651.4L1411.3 1653.3L1411.7 1655.2L1412 1657.1L1411.9 1659L1411.7 1660.9L1411.3 1662.8L1410.8 1664.7L1410.2 1666.6L1409.5 1668.5L1408.8 1670.4L1408.1 1672.3L1407.4 1674.2L1406.7 1676.1L1406.1 1678L1405.5 1679.9L1404.9 1681.8L1404.3 1683.8L1403.9 1685.7L1403.5 1687.6L1403.1 1689.5ZM1419.2 1673.4L1418.6 1671.7L1417.9 1670L1417.3 1668.3L1416.6 1666.6L1416.1 1665L1415.5 1663.3L1415 1661.6L1414.5 1659.9L1414.1 1658.2L1413.8 1656.5L1413.5 1654.9L1413.2 1653.2L1413 1651.5L1412.9 1649.8L1412.9 1648.1L1413 1646.4L1413.1 1644.7L1413.4 1643.1L1413.7 1641.4L1414.1 1639.7L1414.5 1638L1415.1 1636.3L1415.6 1634.6L1416.1 1633L1416.7 1631.3L1417.2 1629.6L1417.6 1627.9L1418.1 1626.2L1418.4 1624.5L1418.7 1622.9L1418.9 1621.2L1419.1 1619.5L1419.2 1617.8L1419.4 1616.1L1419.5 1614.4L1419.6 1612.7L1419.8 1611.1L1419.9 1609.4L1420.1 1607.7L1420.3 1606L1420.5 1604.3L1420.7 1602.6L1420.9 1601L1421.1 1599.3L1421.3 1597.6L1421.5 1595.9L1421.7 1594.2L1424.2 1594.2L1424.4 1595.9L1424.6 1597.6L1424.8 1599.3L1425 1601L1425.2 1602.6L1425.5 1604.3L1425.7 1606L1425.8 1607.7L1426 1609.4L1426.2 1611.1L1426.3 1612.7L1426.4 1614.4L1426.6 1616.1L1426.7 1617.8L1426.8 1619.5L1427 1621.2L1427.3 1622.9L1427.5 1624.5L1427.9 1626.2L1428.3 1627.9L1428.7 1629.6L1429.2 1631.3L1429.8 1633L1430.3 1634.6L1430.9 1636.3L1431.4 1638L1431.8 1639.7L1432.2 1641.4L1432.5 1643.1L1432.8 1644.7L1432.9 1646.4L1433 1648.1L1433 1649.8L1432.9 1651.5L1432.7 1653.2L1432.5 1654.9L1432.2 1656.5L1431.8 1658.2L1431.4 1659.9L1430.9 1661.6L1430.4 1663.3L1429.9 1665L1429.3 1666.6L1428.7 1668.3L1428 1670L1427.3 1671.7L1426.7 1673.4ZM1443.4 1703.5L1443.3 1701.2L1443.2 1698.9L1443.1 1696.6L1443 1694.3L1442.9 1692L1442.6 1689.7L1442.4 1687.4L1442 1685.1L1441.6 1682.8L1441 1680.5L1440.4 1678.2L1439.8 1675.9L1439.1 1673.6L1438.4 1671.3L1437.7 1669L1437 1666.7L1436.3 1664.4L1435.6 1662.1L1435 1659.8L1434.6 1657.5L1434.2 1655.2L1434 1652.9L1434 1650.6L1434.1 1648.3L1434.5 1646L1435 1643.7L1435.6 1641.4L1436.3 1639.1L1437 1636.8L1437.8 1634.5L1438.4 1632.2L1439 1629.8L1439.5 1627.5L1439.8 1625.2L1440.1 1622.9L1440.4 1620.6L1440.5 1618.3L1440.7 1616L1440.9 1613.7L1441.1 1611.4L1441.3 1609.1L1441.5 1606.8L1441.7 1604.5L1442 1602.2L1442.3 1599.9L1442.5 1597.6L1442.8 1595.3L1445.3 1595.3L1445.5 1597.6L1445.8 1599.9L1446.1 1602.2L1446.3 1604.5L1446.6 1606.8L1446.8 1609.1L1447 1611.4L1447.2 1613.7L1447.3 1616L1447.5 1618.3L1447.7 1620.6L1447.9 1622.9L1448.2 1625.2L1448.6 1627.5L1449 1629.8L1449.6 1632.2L1450.3 1634.5L1451 1636.8L1451.7 1639.1L1452.4 1641.4L1453.1 1643.7L1453.6 1646L1453.9 1648.3L1454.1 1650.6L1454 1652.9L1453.8 1655.2L1453.5 1657.5L1453 1659.8L1452.4 1662.1L1451.7 1664.4L1451.1 1666.7L1450.3 1669L1449.6 1671.3L1448.9 1673.6L1448.3 1675.9L1447.6 1678.2L1447 1680.5L1446.5 1682.8L1446 1685.1L1445.7 1687.4L1445.4 1689.7L1445.2 1692L1445 1694.3L1444.9 1696.6L1444.8 1698.9L1444.7 1701.2L1444.6 1703.5ZM1463.9 1706.2L1463.7 1703.9L1463.4 1701.5L1463.1 1699.1L1462.7 1696.7L1462.3 1694.4L1461.8 1692L1461.2 1689.6L1460.6 1687.3L1460 1684.9L1459.4 1682.5L1458.8 1680.1L1458.2 1677.8L1457.7 1675.4L1457.2 1673L1456.8 1670.7L1456.4 1668.3L1456 1665.9L1455.7 1663.5L1455.5 1661.2L1455.3 1658.8L1455.2 1656.4L1455.1 1654L1455 1651.7L1455 1649.3L1455.1 1646.9L1455.2 1644.6L1455.4 1642.2L1455.6 1639.8L1455.9 1637.4L1456.2 1635.1L1456.5 1632.7L1456.9 1630.3L1457.3 1628L1457.7 1625.6L1458.1 1623.2L1458.5 1620.8L1459 1618.5L1459.5 1616.1L1460 1613.7L1460.5 1611.4L1461 1609L1461.5 1606.6L1462 1604.2L1462.4 1601.9L1462.8 1599.5L1463.2 1597.1L1463.6 1594.8L1466.6 1594.8L1466.9 1597.1L1467.3 1599.5L1467.7 1601.9L1468.2 1604.2L1468.7 1606.6L1469.2 1609L1469.7 1611.4L1470.2 1613.7L1470.7 1616.1L1471.2 1618.5L1471.6 1620.8L1472.1 1623.2L1472.5 1625.6L1472.9 1628L1473.3 1630.3L1473.6 1632.7L1474 1635.1L1474.3 1637.4L1474.6 1639.8L1474.8 1642.2L1474.9 1644.6L1475.1 1646.9L1475.1 1649.3L1475.1 1651.7L1475.1 1654L1475 1656.4L1474.9 1658.8L1474.7 1661.2L1474.4 1663.5L1474.1 1665.9L1473.8 1668.3L1473.4 1670.7L1473 1673L1472.5 1675.4L1472 1677.8L1471.4 1680.1L1470.8 1682.5L1470.2 1684.9L1469.6 1687.3L1469 1689.6L1468.4 1692L1467.9 1694.4L1467.5 1696.7L1467.1 1699.1L1466.7 1701.5L1466.5 1703.9L1466.2 1706.2ZM1484.4 1692.3L1484 1690.1L1483.6 1688L1483.2 1685.8L1482.8 1683.6L1482.4 1681.5L1482 1679.3L1481.6 1677.2L1481.3 1675L1480.9 1672.8L1480.5 1670.7L1480.2 1668.5L1479.8 1666.4L1479.4 1664.2L1479 1662L1478.6 1659.9L1478.1 1657.7L1477.7 1655.6L1477.3 1653.4L1476.9 1651.2L1476.6 1649.1L1476.3 1646.9L1476.2 1644.8L1476.1 1642.6L1476.1 1640.4L1476.1 1638.3L1476.2 1636.1L1476.3 1634L1476.5 1631.8L1476.7 1629.6L1476.9 1627.5L1477.1 1625.3L1477.4 1623.2L1477.7 1621L1478.1 1618.8L1478.4 1616.7L1478.9 1614.5L1479.4 1612.4L1479.9 1610.2L1480.5 1608L1481.1 1605.9L1481.7 1603.7L1482.2 1601.6L1482.8 1599.4L1483.3 1597.2L1483.8 1595.1L1484.2 1592.9L1484.6 1590.8L1487.7 1590.8L1488.1 1592.9L1488.5 1595.1L1489 1597.2L1489.5 1599.4L1490 1601.6L1490.6 1603.7L1491.2 1605.9L1491.8 1608L1492.4 1610.2L1492.9 1612.4L1493.4 1614.5L1493.8 1616.7L1494.2 1618.8L1494.6 1621L1494.9 1623.2L1495.1 1625.3L1495.4 1627.5L1495.6 1629.6L1495.8 1631.8L1495.9 1634L1496.1 1636.1L1496.1 1638.3L1496.2 1640.4L1496.2 1642.6L1496.1 1644.8L1495.9 1646.9L1495.7 1649.1L1495.4 1651.2L1495 1653.4L1494.6 1655.6L1494.2 1657.7L1493.7 1659.9L1493.3 1662L1492.9 1664.2L1492.5 1666.4L1492.1 1668.5L1491.7 1670.7L1491.4 1672.8L1491 1675L1490.6 1677.2L1490.3 1679.3L1489.9 1681.5L1489.4 1683.6L1489 1685.8L1488.6 1688L1488.3 1690.1L1487.9 1692.3ZM1505.2 1682L1504.9 1680.1L1504.6 1678.2L1504.3 1676.3L1504.1 1674.3L1503.9 1672.4L1503.7 1670.5L1503.5 1668.6L1503.4 1666.7L1503.3 1664.7L1503.1 1662.8L1503 1660.9L1502.9 1659L1502.7 1657.1L1502.5 1655.1L1502.2 1653.2L1501.9 1651.3L1501.5 1649.4L1501.1 1647.5L1500.7 1645.6L1500.2 1643.6L1499.7 1641.7L1499.3 1639.8L1498.8 1637.9L1498.4 1636L1498 1634L1497.7 1632.1L1497.4 1630.2L1497.2 1628.3L1497.2 1626.4L1497.2 1624.4L1497.3 1622.5L1497.5 1620.6L1497.8 1618.7L1498.2 1616.8L1498.7 1614.8L1499.2 1612.9L1499.6 1611L1500.1 1609.1L1500.6 1607.2L1501.1 1605.2L1501.6 1603.3L1502.1 1601.4L1502.6 1599.5L1503.1 1597.6L1503.6 1595.6L1504.1 1593.7L1504.6 1591.8L1509.8 1591.8L1510.3 1593.7L1510.8 1595.6L1511.3 1597.6L1511.8 1599.5L1512.3 1601.4L1512.8 1603.3L1513.3 1605.2L1513.8 1607.2L1514.3 1609.1L1514.8 1611L1515.2 1612.9L1515.7 1614.8L1516.2 1616.8L1516.6 1618.7L1516.9 1620.6L1517.1 1622.5L1517.2 1624.4L1517.2 1626.4L1517.2 1628.3L1517 1630.2L1516.7 1632.1L1516.4 1634L1516 1636L1515.6 1637.9L1515.1 1639.8L1514.7 1641.7L1514.2 1643.6L1513.7 1645.6L1513.3 1647.5L1512.9 1649.4L1512.5 1651.3L1512.2 1653.2L1511.9 1655.1L1511.7 1657.1L1511.5 1659L1511.4 1660.9L1511.3 1662.8L1511.1 1664.7L1511 1666.7L1510.9 1668.6L1510.7 1670.5L1510.5 1672.4L1510.3 1674.3L1510.1 1676.3L1509.8 1678.2L1509.5 1680.1L1509.2 1682ZM1527.1 1687.6L1526.9 1685.5L1526.6 1683.5L1526.3 1681.4L1526.1 1679.3L1525.8 1677.2L1525.5 1675.1L1525.2 1673L1524.9 1670.9L1524.6 1668.9L1524.3 1666.8L1524 1664.7L1523.7 1662.6L1523.5 1660.5L1523.2 1658.4L1522.8 1656.4L1522.5 1654.3L1522 1652.2L1521.6 1650.1L1521.1 1648L1520.6 1645.9L1520.1 1643.8L1519.6 1641.8L1519.2 1639.7L1518.8 1637.6L1518.5 1635.5L1518.3 1633.4L1518.2 1631.3L1518.2 1629.3L1518.3 1627.2L1518.6 1625.1L1518.9 1623L1519.3 1620.9L1519.7 1618.8L1520.2 1616.7L1520.7 1614.7L1521.2 1612.6L1521.6 1610.5L1522.1 1608.4L1522.5 1606.3L1522.8 1604.2L1523.2 1602.2L1523.6 1600.1L1524 1598L1524.4 1595.9L1524.8 1593.8L1525.3 1591.7L1525.7 1589.6L1530.8 1589.6L1531.2 1591.7L1531.7 1593.8L1532.1 1595.9L1532.6 1598L1533 1600.1L1533.3 1602.2L1533.7 1604.2L1534.1 1606.3L1534.5 1608.4L1534.9 1610.5L1535.3 1612.6L1535.8 1614.7L1536.3 1616.7L1536.8 1618.8L1537.2 1620.9L1537.6 1623L1538 1625.1L1538.2 1627.2L1538.3 1629.3L1538.3 1631.3L1538.2 1633.4L1538 1635.5L1537.7 1637.6L1537.4 1639.7L1536.9 1641.8L1536.4 1643.8L1535.9 1645.9L1535.4 1648L1534.9 1650.1L1534.5 1652.2L1534.1 1654.3L1533.7 1656.4L1533.4 1658.4L1533.1 1660.5L1532.8 1662.6L1532.5 1664.7L1532.2 1666.8L1531.9 1668.9L1531.6 1670.9L1531.3 1673L1531 1675.1L1530.7 1677.2L1530.4 1679.3L1530.2 1681.4L1529.9 1683.5L1529.7 1685.5L1529.4 1687.6ZM1548.3 1699.5L1548.1 1697.3L1547.9 1695.1L1547.7 1692.9L1547.5 1690.8L1547.3 1688.6L1547 1686.4L1546.7 1684.2L1546.4 1682L1546.1 1679.9L1545.8 1677.7L1545.6 1675.5L1545.3 1673.3L1545.1 1671.2L1544.8 1669L1544.5 1666.8L1544.3 1664.6L1543.9 1662.5L1543.6 1660.3L1543.2 1658.1L1542.7 1655.9L1542.3 1653.8L1541.8 1651.6L1541.3 1649.4L1540.8 1647.2L1540.4 1645.1L1540 1642.9L1539.7 1640.7L1539.5 1638.5L1539.3 1636.4L1539.3 1634.2L1539.3 1632L1539.5 1629.8L1539.8 1627.7L1540.2 1625.5L1540.6 1623.3L1541.1 1621.1L1541.7 1619L1542.2 1616.8L1542.8 1614.6L1543.4 1612.4L1544 1610.3L1544.6 1608.1L1545.1 1605.9L1545.7 1603.7L1546.3 1601.5L1546.8 1599.4L1547.3 1597.2L1551.4 1597.2L1551.9 1599.4L1552.4 1601.5L1552.9 1603.7L1553.5 1605.9L1554.1 1608.1L1554.7 1610.3L1555.3 1612.4L1555.8 1614.6L1556.4 1616.8L1557 1619L1557.5 1621.1L1558 1623.3L1558.5 1625.5L1558.8 1627.7L1559.1 1629.8L1559.3 1632L1559.4 1634.2L1559.3 1636.4L1559.2 1638.5L1558.9 1640.7L1558.6 1642.9L1558.2 1645.1L1557.8 1647.2L1557.4 1649.4L1556.9 1651.6L1556.4 1653.8L1555.9 1655.9L1555.5 1658.1L1555.1 1660.3L1554.7 1662.5L1554.4 1664.6L1554.1 1666.8L1553.8 1669L1553.6 1671.2L1553.3 1673.3L1553.1 1675.5L1552.8 1677.7L1552.5 1679.9L1552.2 1682L1551.9 1684.2L1551.7 1686.4L1551.4 1688.6L1551.1 1690.8L1550.9 1692.9L1550.7 1695.1L1550.5 1697.3L1550.3 1699.5ZM1569.8 1709.5L1569.8 1707L1569.7 1704.4L1569.6 1701.9L1569.6 1699.3L1569.5 1696.8L1569.5 1694.2L1569.4 1691.7L1569.2 1689.1L1569 1686.6L1568.7 1684L1568.3 1681.5L1567.9 1678.9L1567.4 1676.4L1566.8 1673.8L1566.3 1671.3L1565.8 1668.7L1565.3 1666.2L1564.8 1663.7L1564.4 1661.1L1563.9 1658.6L1563.5 1656L1563 1653.5L1562.5 1650.9L1562.1 1648.4L1561.6 1645.8L1561.2 1643.3L1560.9 1640.7L1560.6 1638.2L1560.4 1635.6L1560.3 1633.1L1560.4 1630.5L1560.6 1628L1561 1625.4L1561.5 1622.9L1562 1620.3L1562.6 1617.8L1563.2 1615.2L1563.9 1612.7L1564.5 1610.1L1565.1 1607.6L1565.8 1605L1566.4 1602.5L1567 1599.9L1567.5 1597.4L1568 1594.9L1568.5 1592.3L1568.9 1589.8L1571.9 1589.8L1572.3 1592.3L1572.7 1594.9L1573.3 1597.4L1573.8 1599.9L1574.4 1602.5L1575 1605L1575.6 1607.6L1576.3 1610.1L1576.9 1612.7L1577.5 1615.2L1578.2 1617.8L1578.8 1620.3L1579.3 1622.9L1579.8 1625.4L1580.1 1628L1580.4 1630.5L1580.4 1633.1L1580.4 1635.6L1580.2 1638.2L1579.9 1640.7L1579.5 1643.3L1579.1 1645.8L1578.7 1648.4L1578.2 1650.9L1577.7 1653.5L1577.3 1656L1576.8 1658.6L1576.4 1661.1L1575.9 1663.7L1575.4 1666.2L1575 1668.7L1574.4 1671.3L1573.9 1673.8L1573.4 1676.4L1572.9 1678.9L1572.5 1681.5L1572.1 1684L1571.8 1686.6L1571.6 1689.1L1571.4 1691.7L1571.3 1694.2L1571.2 1696.8L1571.2 1699.3L1571.1 1701.9L1571.1 1704.4L1571 1707L1570.9 1709.5ZM1590.7 1706.4L1590.6 1703.8L1590.5 1701.3L1590.3 1698.7L1590.1 1696.1L1589.9 1693.6L1589.7 1691L1589.4 1688.4L1589 1685.9L1588.6 1683.3L1588.2 1680.8L1587.7 1678.2L1587.2 1675.6L1586.8 1673.1L1586.4 1670.5L1586 1667.9L1585.7 1665.4L1585.4 1662.8L1585.1 1660.3L1584.8 1657.7L1584.6 1655.1L1584.2 1652.6L1583.9 1650L1583.5 1647.4L1583.1 1644.9L1582.7 1642.3L1582.3 1639.8L1581.9 1637.2L1581.6 1634.6L1581.4 1632.1L1581.4 1629.5L1581.5 1626.9L1581.8 1624.4L1582.3 1621.8L1582.9 1619.2L1583.5 1616.7L1584.2 1614.1L1584.9 1611.6L1585.6 1609L1586.2 1606.4L1586.9 1603.9L1587.5 1601.3L1588 1598.7L1588.6 1596.2L1589 1593.6L1589.5 1591.1L1589.8 1588.5L1590.2 1585.9L1592.7 1585.9L1593 1588.5L1593.4 1591.1L1593.8 1593.6L1594.3 1596.2L1594.8 1598.7L1595.4 1601.3L1596 1603.9L1596.7 1606.4L1597.3 1609L1598 1611.6L1598.7 1614.1L1599.4 1616.7L1600 1619.2L1600.6 1621.8L1601 1624.4L1601.3 1626.9L1601.5 1629.5L1601.5 1632.1L1601.3 1634.6L1601 1637.2L1600.6 1639.8L1600.2 1642.3L1599.7 1644.9L1599.3 1647.4L1599 1650L1598.6 1652.6L1598.3 1655.1L1598 1657.7L1597.7 1660.3L1597.5 1662.8L1597.2 1665.4L1596.8 1667.9L1596.5 1670.5L1596.1 1673.1L1595.6 1675.6L1595.2 1678.2L1594.7 1680.8L1594.3 1683.3L1593.9 1685.9L1593.5 1688.4L1593.2 1691L1592.9 1693.6L1592.7 1696.1L1592.6 1698.7L1592.4 1701.3L1592.3 1703.8L1592.2 1706.4ZM1611.3 1706.7L1611.1 1704.3L1610.9 1701.8L1610.7 1699.4L1610.5 1696.9L1610.2 1694.4L1610 1692L1609.8 1689.5L1609.6 1687.1L1609.4 1684.6L1609.2 1682.2L1609.1 1679.7L1608.9 1677.3L1608.7 1674.8L1608.5 1672.4L1608.2 1669.9L1607.8 1667.5L1607.4 1665L1606.8 1662.6L1606.2 1660.1L1605.5 1657.7L1604.8 1655.2L1604.1 1652.8L1603.5 1650.3L1603 1647.9L1602.6 1645.4L1602.5 1643L1602.5 1640.5L1602.6 1638.1L1602.8 1635.6L1603.1 1633.2L1603.5 1630.7L1603.9 1628.3L1604.3 1625.8L1604.7 1623.4L1605.1 1620.9L1605.5 1618.5L1605.9 1616L1606.4 1613.6L1606.8 1611.1L1607.2 1608.7L1607.7 1606.2L1608.1 1603.8L1608.6 1601.3L1609.1 1598.9L1609.6 1596.4L1610.1 1594L1610.5 1591.5L1614.5 1591.5L1614.9 1594L1615.4 1596.4L1615.9 1598.9L1616.4 1601.3L1616.9 1603.8L1617.3 1606.2L1617.8 1608.7L1618.2 1611.1L1618.6 1613.6L1619.1 1616L1619.5 1618.5L1619.9 1620.9L1620.3 1623.4L1620.7 1625.8L1621.1 1628.3L1621.5 1630.7L1621.9 1633.2L1622.2 1635.6L1622.4 1638.1L1622.5 1640.5L1622.5 1643L1622.4 1645.4L1622 1647.9L1621.5 1650.3L1620.9 1652.8L1620.2 1655.2L1619.5 1657.7L1618.8 1660.1L1618.2 1662.6L1617.6 1665L1617.2 1667.5L1616.8 1669.9L1616.5 1672.4L1616.3 1674.8L1616.1 1677.3L1615.9 1679.7L1615.8 1682.2L1615.6 1684.6L1615.4 1687.1L1615.2 1689.5L1615 1692L1614.8 1694.4L1614.5 1696.9L1614.3 1699.4L1614.1 1701.8L1613.9 1704.3L1613.7 1706.7ZM1631.2 1710.6L1630.7 1708.2L1630.1 1705.8L1629.6 1703.4L1629.1 1700.9L1628.5 1698.5L1628 1696.1L1627.5 1693.7L1627.1 1691.3L1626.6 1688.9L1626.2 1686.4L1625.8 1684L1625.4 1681.6L1625.1 1679.2L1624.7 1676.8L1624.4 1674.4L1624.1 1671.9L1623.9 1669.5L1623.7 1667.1L1623.6 1664.7L1623.5 1662.3L1623.5 1659.9L1623.5 1657.4L1623.6 1655L1623.8 1652.6L1623.9 1650.2L1624.1 1647.8L1624.4 1645.4L1624.6 1642.9L1624.9 1640.5L1625.3 1638.1L1625.6 1635.7L1625.9 1633.3L1626.3 1630.9L1626.6 1628.4L1627 1626L1627.3 1623.6L1627.7 1621.2L1628.1 1618.8L1628.5 1616.4L1628.9 1613.9L1629.4 1611.5L1629.8 1609.1L1630.3 1606.7L1630.7 1604.3L1631.1 1601.9L1631.5 1599.4L1631.9 1597L1635.3 1597L1635.6 1599.4L1636 1601.9L1636.4 1604.3L1636.8 1606.7L1637.3 1609.1L1637.7 1611.5L1638.2 1613.9L1638.6 1616.4L1639 1618.8L1639.4 1621.2L1639.8 1623.6L1640.2 1626L1640.5 1628.4L1640.9 1630.9L1641.2 1633.3L1641.5 1635.7L1641.9 1638.1L1642.2 1640.5L1642.5 1642.9L1642.7 1645.4L1643 1647.8L1643.2 1650.2L1643.4 1652.6L1643.5 1655L1643.6 1657.4L1643.6 1659.9L1643.6 1662.3L1643.5 1664.7L1643.4 1667.1L1643.2 1669.5L1643 1671.9L1642.7 1674.4L1642.4 1676.8L1642 1679.2L1641.7 1681.6L1641.3 1684L1640.9 1686.4L1640.5 1688.9L1640 1691.3L1639.6 1693.7L1639.1 1696.1L1638.6 1698.5L1638.1 1700.9L1637.5 1703.4L1637 1705.8L1636.5 1708.2L1636 1710.6ZM1652.2 1716.2L1651.6 1713.4L1651.1 1710.7L1650.5 1708L1649.9 1705.3L1649.3 1702.6L1648.7 1699.8L1648.1 1697.1L1647.6 1694.4L1647.1 1691.7L1646.6 1689L1646.2 1686.3L1645.8 1683.5L1645.5 1680.8L1645.2 1678.1L1645 1675.4L1644.8 1672.7L1644.7 1670L1644.6 1667.2L1644.6 1664.5L1644.6 1661.8L1644.7 1659.1L1644.8 1656.4L1645 1653.7L1645.3 1650.9L1645.6 1648.2L1645.9 1645.5L1646.3 1642.8L1646.7 1640.1L1647.2 1637.3L1647.6 1634.6L1648 1631.9L1648.4 1629.2L1648.7 1626.5L1649 1623.8L1649.3 1621L1649.5 1618.3L1649.7 1615.6L1649.9 1612.9L1650.1 1610.2L1650.3 1607.5L1650.6 1604.7L1650.8 1602L1651.1 1599.3L1651.5 1596.6L1651.8 1593.9L1652.2 1591.2L1652.5 1588.4L1656.7 1588.4L1657.1 1591.2L1657.4 1593.9L1657.8 1596.6L1658.1 1599.3L1658.4 1602L1658.7 1604.7L1658.9 1607.5L1659.1 1610.2L1659.3 1612.9L1659.5 1615.6L1659.7 1618.3L1660 1621L1660.2 1623.8L1660.5 1626.5L1660.9 1629.2L1661.2 1631.9L1661.7 1634.6L1662.1 1637.3L1662.5 1640.1L1662.9 1642.8L1663.3 1645.5L1663.7 1648.2L1664 1650.9L1664.2 1653.7L1664.4 1656.4L1664.6 1659.1L1664.6 1661.8L1664.7 1664.5L1664.6 1667.2L1664.6 1670L1664.4 1672.7L1664.3 1675.4L1664 1678.1L1663.7 1680.8L1663.4 1683.5L1663.1 1686.3L1662.6 1689L1662.2 1691.7L1661.7 1694.4L1661.1 1697.1L1660.6 1699.8L1660 1702.6L1659.4 1705.3L1658.8 1708L1658.2 1710.7L1657.6 1713.4L1657.1 1716.2ZM1672.7 1717.5L1672.1 1714.9L1671.5 1712.4L1670.8 1709.8L1670.2 1707.3L1669.6 1704.7L1669 1702.1L1668.4 1699.6L1668 1697L1667.6 1694.4L1667.2 1691.9L1666.9 1689.3L1666.7 1686.7L1666.5 1684.2L1666.3 1681.6L1666.1 1679L1666 1676.5L1665.9 1673.9L1665.8 1671.3L1665.7 1668.8L1665.7 1666.2L1665.6 1663.7L1665.6 1661.1L1665.7 1658.5L1665.8 1656L1666 1653.4L1666.3 1650.8L1666.6 1648.3L1667 1645.7L1667.4 1643.1L1667.8 1640.6L1668.2 1638L1668.7 1635.4L1669 1632.9L1669.4 1630.3L1669.7 1627.7L1670 1625.2L1670.3 1622.6L1670.5 1620.1L1670.8 1617.5L1671.1 1614.9L1671.4 1612.4L1671.7 1609.8L1672 1607.2L1672.4 1604.7L1672.8 1602.1L1673.2 1599.5L1673.6 1597L1677.8 1597L1678.2 1599.5L1678.6 1602.1L1679 1604.7L1679.3 1607.2L1679.7 1609.8L1680 1612.4L1680.3 1614.9L1680.6 1617.5L1680.8 1620.1L1681.1 1622.6L1681.4 1625.2L1681.7 1627.7L1682 1630.3L1682.3 1632.9L1682.7 1635.4L1683.1 1638L1683.5 1640.6L1684 1643.1L1684.4 1645.7L1684.7 1648.3L1685.1 1650.8L1685.3 1653.4L1685.5 1656L1685.6 1658.5L1685.7 1661.1L1685.7 1663.7L1685.7 1666.2L1685.6 1668.8L1685.6 1671.3L1685.5 1673.9L1685.4 1676.5L1685.2 1679L1685.1 1681.6L1684.9 1684.2L1684.7 1686.7L1684.4 1689.3L1684.2 1691.9L1683.8 1694.4L1683.4 1697L1682.9 1699.6L1682.4 1702.1L1681.8 1704.7L1681.2 1707.3L1680.5 1709.8L1679.9 1712.4L1679.2 1714.9L1678.6 1717.5ZM1695.8 1736.3L1695.6 1733.7L1695.4 1731L1695.1 1728.4L1694.8 1725.7L1694.5 1723.1L1694.1 1720.4L1693.6 1717.8L1693 1715.1L1692.5 1712.4L1691.9 1709.8L1691.3 1707.1L1690.7 1704.5L1690.2 1701.8L1689.7 1699.2L1689.3 1696.5L1689 1693.8L1688.7 1691.2L1688.4 1688.5L1688.1 1685.9L1687.9 1683.2L1687.7 1680.6L1687.5 1677.9L1687.3 1675.3L1687.1 1672.6L1686.9 1669.9L1686.8 1667.3L1686.7 1664.6L1686.7 1662L1686.8 1659.3L1687.1 1656.7L1687.4 1654L1687.8 1651.3L1688.2 1648.7L1688.7 1646L1689.2 1643.4L1689.6 1640.7L1690.1 1638.1L1690.5 1635.4L1690.9 1632.8L1691.3 1630.1L1691.8 1627.4L1692.2 1624.8L1692.7 1622.1L1693.1 1619.5L1693.6 1616.8L1694.1 1614.2L1694.6 1611.5L1698.9 1611.5L1699.4 1614.2L1699.9 1616.8L1700.3 1619.5L1700.8 1622.1L1701.3 1624.8L1701.7 1627.4L1702.1 1630.1L1702.6 1632.8L1703 1635.4L1703.4 1638.1L1703.8 1640.7L1704.3 1643.4L1704.8 1646L1705.3 1648.7L1705.7 1651.3L1706.1 1654L1706.4 1656.7L1706.6 1659.3L1706.8 1662L1706.8 1664.6L1706.7 1667.3L1706.6 1669.9L1706.4 1672.6L1706.2 1675.3L1706 1677.9L1705.8 1680.6L1705.6 1683.2L1705.3 1685.9L1705.1 1688.5L1704.8 1691.2L1704.5 1693.8L1704.2 1696.5L1703.7 1699.2L1703.3 1701.8L1702.8 1704.5L1702.2 1707.1L1701.6 1709.8L1701 1712.4L1700.4 1715.1L1699.9 1717.8L1699.4 1720.4L1699 1723.1L1698.7 1725.7L1698.4 1728.4L1698.1 1731L1697.9 1733.7L1697.7 1736.3ZM1716.7 1743L1716.5 1740.6L1716.2 1738.2L1715.9 1735.8L1715.6 1733.3L1715.1 1730.9L1714.7 1728.5L1714.2 1726L1713.6 1723.6L1713 1721.2L1712.4 1718.8L1711.8 1716.3L1711.2 1713.9L1710.7 1711.5L1710.1 1709.1L1709.7 1706.6L1709.3 1704.2L1708.9 1701.8L1708.6 1699.3L1708.3 1696.9L1708.1 1694.5L1707.9 1692.1L1707.8 1689.6L1707.8 1687.2L1707.8 1684.8L1707.8 1682.4L1707.9 1679.9L1708 1677.5L1708.2 1675.1L1708.4 1672.6L1708.6 1670.2L1708.9 1667.8L1709.2 1665.4L1709.5 1662.9L1709.8 1660.5L1710.1 1658.1L1710.4 1655.6L1710.8 1653.2L1711.2 1650.8L1711.6 1648.4L1712 1645.9L1712.5 1643.5L1713 1641.1L1713.5 1638.7L1714 1636.2L1714.6 1633.8L1715.1 1631.4L1715.6 1628.9L1720 1628.9L1720.5 1631.4L1721 1633.8L1721.6 1636.2L1722.1 1638.7L1722.6 1641.1L1723.1 1643.5L1723.6 1645.9L1724 1648.4L1724.4 1650.8L1724.8 1653.2L1725.2 1655.6L1725.5 1658.1L1725.8 1660.5L1726.1 1662.9L1726.4 1665.4L1726.7 1667.8L1727 1670.2L1727.2 1672.6L1727.4 1675.1L1727.6 1677.5L1727.7 1679.9L1727.8 1682.4L1727.8 1684.8L1727.8 1687.2L1727.8 1689.6L1727.7 1692.1L1727.5 1694.5L1727.3 1696.9L1727 1699.3L1726.7 1701.8L1726.3 1704.2L1725.9 1706.6L1725.5 1709.1L1724.9 1711.5L1724.4 1713.9L1723.8 1716.3L1723.2 1718.8L1722.6 1721.2L1722 1723.6L1721.4 1726L1720.9 1728.5L1720.5 1730.9L1720 1733.3L1719.7 1735.8L1719.4 1738.2L1719.1 1740.6L1718.9 1743ZM1737.8 1742.8L1737.6 1740.2L1737.3 1737.6L1737.1 1734.9L1736.8 1732.3L1736.6 1729.7L1736.3 1727.1L1736.1 1724.4L1735.9 1721.8L1735.7 1719.2L1735.5 1716.5L1735.2 1713.9L1735 1711.3L1734.8 1708.7L1734.4 1706L1734 1703.4L1733.5 1700.8L1732.8 1698.1L1732.1 1695.5L1731.4 1692.9L1730.7 1690.3L1730 1687.6L1729.4 1685L1729.1 1682.4L1728.8 1679.8L1728.8 1677.1L1729 1674.5L1729.3 1671.9L1729.7 1669.2L1730.2 1666.6L1730.8 1664L1731.4 1661.4L1732 1658.7L1732.6 1656.1L1733.2 1653.5L1733.8 1650.8L1734.4 1648.2L1735 1645.6L1735.5 1643L1736 1640.3L1736.5 1637.7L1736.8 1635.1L1737.2 1632.4L1737.4 1629.8L1737.7 1627.2L1737.8 1624.6L1738 1621.9L1738.1 1619.3L1739.6 1619.3L1739.7 1621.9L1739.9 1624.6L1740.1 1627.2L1740.3 1629.8L1740.5 1632.4L1740.9 1635.1L1741.3 1637.7L1741.7 1640.3L1742.2 1643L1742.8 1645.6L1743.3 1648.2L1743.9 1650.8L1744.5 1653.5L1745.1 1656.1L1745.7 1658.7L1746.3 1661.4L1747 1664L1747.5 1666.6L1748 1669.2L1748.5 1671.9L1748.8 1674.5L1748.9 1677.1L1748.9 1679.8L1748.7 1682.4L1748.3 1685L1747.7 1687.6L1747.1 1690.3L1746.3 1692.9L1745.6 1695.5L1744.9 1698.1L1744.3 1700.8L1743.7 1703.4L1743.3 1706L1743 1708.7L1742.7 1711.3L1742.5 1713.9L1742.3 1716.5L1742.1 1719.2L1741.8 1721.8L1741.6 1724.4L1741.4 1727.1L1741.1 1729.7L1740.9 1732.3L1740.6 1734.9L1740.4 1737.6L1740.1 1740.2L1739.9 1742.8ZM1758.7 1731.9L1758.4 1729.3L1758 1726.6L1757.6 1723.9L1757.2 1721.2L1756.7 1718.5L1756.2 1715.8L1755.7 1713.1L1755.2 1710.4L1754.7 1707.8L1754.1 1705.1L1753.6 1702.4L1752.9 1699.7L1752.3 1697L1751.6 1694.3L1751 1691.6L1750.5 1688.9L1750.1 1686.3L1749.9 1683.6L1749.9 1680.9L1750 1678.2L1750.3 1675.5L1750.7 1672.8L1751.3 1670.1L1751.9 1667.5L1752.6 1664.8L1753.2 1662.1L1753.9 1659.4L1754.5 1656.7L1755.2 1654L1755.8 1651.3L1756.5 1648.6L1757.1 1646L1757.6 1643.3L1758.1 1640.6L1758.5 1637.9L1758.8 1635.2L1759 1632.5L1759.1 1629.8L1759.2 1627.1L1759.3 1624.5L1759.3 1621.8L1759.3 1619.1L1759.3 1616.4L1759.3 1613.7L1759.4 1611L1759.4 1608.3L1759.5 1605.6L1760.4 1605.6L1760.4 1608.3L1760.5 1611L1760.5 1613.7L1760.5 1616.4L1760.5 1619.1L1760.5 1621.8L1760.6 1624.5L1760.6 1627.1L1760.7 1629.8L1760.8 1632.5L1761.1 1635.2L1761.4 1637.9L1761.7 1640.6L1762.2 1643.3L1762.8 1646L1763.4 1648.6L1764 1651.3L1764.7 1654L1765.3 1656.7L1766 1659.4L1766.6 1662.1L1767.3 1664.8L1767.9 1667.5L1768.6 1670.1L1769.1 1672.8L1769.5 1675.5L1769.8 1678.2L1770 1680.9L1769.9 1683.6L1769.7 1686.3L1769.3 1688.9L1768.8 1691.6L1768.2 1694.3L1767.5 1697L1766.9 1699.7L1766.3 1702.4L1765.7 1705.1L1765.2 1707.8L1764.6 1710.4L1764.1 1713.1L1763.6 1715.8L1763.1 1718.5L1762.7 1721.2L1762.2 1723.9L1761.8 1726.6L1761.5 1729.3L1761.1 1731.9ZM1780 1751L1779.8 1747.7L1779.5 1744.4L1779.2 1741.1L1778.7 1737.8L1778.3 1734.5L1777.7 1731.2L1777.1 1727.9L1776.5 1724.6L1775.8 1721.3L1775.1 1718L1774.4 1714.7L1773.7 1711.4L1773 1708.1L1772.3 1704.8L1771.8 1701.5L1771.3 1698.2L1771 1694.9L1770.9 1691.6L1771 1688.2L1771.3 1684.9L1771.8 1681.6L1772.5 1678.3L1773.3 1675L1774.1 1671.7L1774.9 1668.4L1775.6 1665.1L1776.2 1661.8L1776.8 1658.5L1777.1 1655.2L1777.4 1651.9L1777.7 1648.6L1777.9 1645.3L1778.1 1642L1778.3 1638.7L1778.5 1635.4L1778.7 1632.1L1779 1628.8L1779.2 1625.5L1779.4 1622.2L1779.6 1618.9L1779.8 1615.6L1779.9 1612.2L1780 1608.9L1780.1 1605.6L1780.2 1602.3L1780.3 1599L1780.4 1595.7L1781.6 1595.7L1781.7 1599L1781.8 1602.3L1781.9 1605.6L1782 1608.9L1782.1 1612.2L1782.2 1615.6L1782.4 1618.9L1782.5 1622.2L1782.8 1625.5L1783 1628.8L1783.2 1632.1L1783.5 1635.4L1783.7 1638.7L1783.9 1642L1784.1 1645.3L1784.3 1648.6L1784.5 1651.9L1784.8 1655.2L1785.2 1658.5L1785.7 1661.8L1786.3 1665.1L1787.1 1668.4L1787.9 1671.7L1788.7 1675L1789.5 1678.3L1790.1 1681.6L1790.6 1684.9L1790.9 1688.2L1791 1691.6L1790.9 1694.9L1790.6 1698.2L1790.2 1701.5L1789.6 1704.8L1789 1708.1L1788.3 1711.4L1787.6 1714.7L1786.9 1718L1786.2 1721.3L1785.5 1724.6L1784.8 1727.9L1784.2 1731.2L1783.7 1734.5L1783.2 1737.8L1782.8 1741.1L1782.5 1744.4L1782.2 1747.7L1781.9 1751ZM1798.2 1742.2L1797.4 1738.5L1796.6 1734.8L1795.8 1731.2L1795 1727.5L1794.3 1723.8L1793.7 1720.1L1793.2 1716.5L1792.7 1712.8L1792.4 1709.1L1792.1 1705.4L1792 1701.8L1792 1698.1L1792.2 1694.4L1792.6 1690.8L1793.1 1687.1L1793.9 1683.4L1794.7 1679.7L1795.5 1676.1L1796.4 1672.4L1797.2 1668.7L1797.8 1665L1798.4 1661.4L1798.8 1657.7L1799.1 1654L1799.4 1650.4L1799.5 1646.7L1799.6 1643L1799.7 1639.3L1799.8 1635.7L1799.8 1632L1799.9 1628.3L1800 1624.6L1800 1621L1800.2 1617.3L1800.3 1613.6L1800.4 1610L1800.5 1606.3L1800.7 1602.6L1800.8 1598.9L1800.9 1595.3L1801 1591.6L1801.1 1587.9L1801.1 1584.2L1801.2 1580.6L1801.3 1576.9L1801.4 1573.2L1801.4 1569.6L1802.6 1569.6L1802.7 1573.2L1802.8 1576.9L1802.9 1580.6L1802.9 1584.2L1803 1587.9L1803.1 1591.6L1803.2 1595.3L1803.3 1598.9L1803.4 1602.6L1803.5 1606.3L1803.7 1610L1803.8 1613.6L1803.9 1617.3L1804 1621L1804.1 1624.6L1804.2 1628.3L1804.3 1632L1804.3 1635.7L1804.4 1639.3L1804.5 1643L1804.6 1646.7L1804.7 1650.4L1804.9 1654L1805.2 1657.7L1805.7 1661.4L1806.2 1665L1806.9 1668.7L1807.7 1672.4L1808.6 1676.1L1809.4 1679.7L1810.2 1683.4L1810.9 1687.1L1811.5 1690.8L1811.9 1694.4L1812.1 1698.1L1812.1 1701.8L1812 1705.4L1811.7 1709.1L1811.4 1712.8L1810.9 1716.5L1810.4 1720.1L1809.8 1723.8L1809.1 1727.5L1808.3 1731.2L1807.5 1734.8L1806.7 1738.5L1805.9 1742.2ZM1820 1755.1L1819.2 1750.6L1818.5 1746.2L1817.7 1741.7L1817 1737.3L1816.2 1732.9L1815.6 1728.4L1814.9 1724L1814.4 1719.6L1814 1715.1L1813.6 1710.7L1813.4 1706.2L1813.2 1701.8L1813.1 1697.4L1813 1692.9L1813.1 1688.5L1813.3 1684.1L1813.5 1679.6L1813.9 1675.2L1814.3 1670.7L1814.8 1666.3L1815.4 1661.9L1816 1657.4L1816.6 1653L1817.1 1648.6L1817.7 1644.1L1818.2 1639.7L1818.6 1635.3L1818.9 1630.8L1819.1 1626.4L1819.3 1621.9L1819.5 1617.5L1819.7 1613.1L1819.8 1608.6L1820 1604.2L1820.1 1599.8L1820.3 1595.3L1820.5 1590.9L1820.7 1586.4L1820.9 1582L1821.1 1577.6L1821.3 1573.1L1821.5 1568.7L1821.7 1564.3L1821.8 1559.8L1822 1555.4L1822.1 1550.9L1822.2 1546.5L1824 1546.5L1824.1 1550.9L1824.2 1555.4L1824.4 1559.8L1824.5 1564.3L1824.7 1568.7L1824.9 1573.1L1825.1 1577.6L1825.3 1582L1825.5 1586.4L1825.7 1590.9L1825.9 1595.3L1826.1 1599.8L1826.2 1604.2L1826.4 1608.6L1826.5 1613.1L1826.7 1617.5L1826.9 1621.9L1827.1 1626.4L1827.3 1630.8L1827.6 1635.3L1828 1639.7L1828.5 1644.1L1829.1 1648.6L1829.6 1653L1830.2 1657.4L1830.8 1661.9L1831.4 1666.3L1831.9 1670.7L1832.3 1675.2L1832.7 1679.6L1832.9 1684.1L1833.1 1688.5L1833.1 1692.9L1833.1 1697.4L1833 1701.8L1832.8 1706.2L1832.6 1710.7L1832.2 1715.1L1831.8 1719.6L1831.3 1724L1830.6 1728.4L1830 1732.9L1829.2 1737.3L1828.5 1741.7L1827.7 1746.2L1827 1750.6L1826.2 1755.1ZM1838.6 1751.4L1837.7 1746.6L1837 1741.9L1836.2 1737.1L1835.6 1732.3L1835.2 1727.5L1834.8 1722.8L1834.5 1718L1834.3 1713.2L1834.2 1708.4L1834.1 1703.7L1834.1 1698.9L1834.1 1694.1L1834.2 1689.3L1834.2 1684.6L1834.4 1679.8L1834.5 1675L1834.7 1670.2L1834.9 1665.5L1835.2 1660.7L1835.6 1655.9L1836 1651.1L1836.4 1646.4L1836.8 1641.6L1837.3 1636.8L1837.7 1632.1L1838.1 1627.3L1838.4 1622.5L1838.8 1617.7L1839.1 1613L1839.3 1608.2L1839.6 1603.4L1839.9 1598.6L1840.1 1593.9L1840.4 1589.1L1840.7 1584.3L1841 1579.5L1841.3 1574.8L1841.6 1570L1841.9 1565.2L1842.2 1560.4L1842.4 1555.7L1842.6 1550.9L1842.7 1546.1L1842.9 1541.3L1843 1536.6L1843.2 1531.8L1843.3 1527L1845 1527L1845.1 1531.8L1845.3 1536.6L1845.4 1541.3L1845.6 1546.1L1845.7 1550.9L1845.9 1555.7L1846.2 1560.4L1846.4 1565.2L1846.7 1570L1847 1574.8L1847.3 1579.5L1847.6 1584.3L1847.9 1589.1L1848.2 1593.9L1848.5 1598.6L1848.7 1603.4L1849 1608.2L1849.3 1613L1849.6 1617.7L1849.9 1622.5L1850.2 1627.3L1850.6 1632.1L1851.1 1636.8L1851.5 1641.6L1851.9 1646.4L1852.4 1651.1L1852.7 1655.9L1853.1 1660.7L1853.4 1665.5L1853.6 1670.2L1853.8 1675L1854 1679.8L1854.1 1684.6L1854.2 1689.3L1854.2 1694.1L1854.2 1698.9L1854.2 1703.7L1854.1 1708.4L1854 1713.2L1853.8 1718L1853.5 1722.8L1853.2 1727.5L1852.7 1732.3L1852.1 1737.1L1851.4 1741.9L1850.6 1746.6L1849.7 1751.4ZM1862.5 1764.2L1862 1759.1L1861.5 1753.9L1861 1748.7L1860.4 1743.6L1859.9 1738.4L1859.3 1733.2L1858.7 1728.1L1858.1 1722.9L1857.5 1717.7L1856.8 1712.6L1856.3 1707.4L1855.8 1702.2L1855.4 1697.1L1855.2 1691.9L1855.2 1686.8L1855.3 1681.6L1855.6 1676.4L1855.9 1671.3L1856.4 1666.1L1856.9 1660.9L1857.4 1655.8L1858 1650.6L1858.4 1645.4L1858.9 1640.3L1859.3 1635.1L1859.7 1629.9L1860 1624.8L1860.4 1619.6L1860.6 1614.4L1860.9 1609.3L1861.1 1604.1L1861.2 1598.9L1861.4 1593.8L1861.5 1588.6L1861.6 1583.5L1861.7 1578.3L1861.8 1573.1L1862 1568L1862.1 1562.8L1862.3 1557.6L1862.5 1552.5L1862.7 1547.3L1862.9 1542.1L1863.1 1537L1863.4 1531.8L1863.6 1526.6L1863.9 1521.5L1866.6 1521.5L1866.8 1526.6L1867.1 1531.8L1867.3 1537L1867.5 1542.1L1867.7 1547.3L1868 1552.5L1868.1 1557.6L1868.3 1562.8L1868.5 1568L1868.6 1573.1L1868.7 1578.3L1868.8 1583.5L1869 1588.6L1869.1 1593.8L1869.2 1598.9L1869.4 1604.1L1869.6 1609.3L1869.8 1614.4L1870.1 1619.6L1870.4 1624.8L1870.7 1629.9L1871.1 1635.1L1871.5 1640.3L1872 1645.4L1872.5 1650.6L1873 1655.8L1873.5 1660.9L1874 1666.1L1874.5 1671.3L1874.9 1676.4L1875.2 1681.6L1875.3 1686.8L1875.2 1691.9L1875 1697.1L1874.6 1702.2L1874.2 1707.4L1873.6 1712.6L1873 1717.7L1872.4 1722.9L1871.7 1728.1L1871.1 1733.2L1870.6 1738.4L1870 1743.6L1869.5 1748.7L1868.9 1753.9L1868.4 1759.1L1867.9 1764.2ZM1885.1 1777.2L1884.8 1771.7L1884.4 1766.3L1884 1760.8L1883.5 1755.4L1883 1749.9L1882.3 1744.5L1881.6 1739L1880.9 1733.6L1880.1 1728.1L1879.3 1722.7L1878.5 1717.2L1877.8 1711.8L1877.2 1706.3L1876.7 1700.8L1876.4 1695.4L1876.2 1689.9L1876.3 1684.5L1876.5 1679L1876.8 1673.6L1877.3 1668.1L1877.8 1662.7L1878.3 1657.2L1878.8 1651.8L1879.3 1646.3L1879.7 1640.8L1880 1635.4L1880.2 1629.9L1880.4 1624.5L1880.6 1619L1880.7 1613.6L1880.8 1608.1L1880.9 1602.7L1881 1597.2L1881.1 1591.8L1881.2 1586.3L1881.3 1580.8L1881.4 1575.4L1881.6 1569.9L1881.8 1564.5L1882 1559L1882.3 1553.6L1882.6 1548.1L1883 1542.7L1883.3 1537.2L1883.7 1531.8L1884.1 1526.3L1884.4 1520.9L1888.1 1520.9L1888.5 1526.3L1888.9 1531.8L1889.2 1537.2L1889.6 1542.7L1889.9 1548.1L1890.2 1553.6L1890.5 1559L1890.8 1564.5L1891 1569.9L1891.1 1575.4L1891.3 1580.8L1891.4 1586.3L1891.5 1591.8L1891.6 1597.2L1891.7 1602.7L1891.8 1608.1L1891.9 1613.6L1892 1619L1892.1 1624.5L1892.3 1629.9L1892.6 1635.4L1892.9 1640.8L1893.3 1646.3L1893.7 1651.8L1894.2 1657.2L1894.8 1662.7L1895.3 1668.1L1895.7 1673.6L1896.1 1679L1896.3 1684.5L1896.3 1689.9L1896.2 1695.4L1895.9 1700.8L1895.4 1706.3L1894.8 1711.8L1894 1717.2L1893.3 1722.7L1892.5 1728.1L1891.7 1733.6L1890.9 1739L1890.2 1744.5L1889.6 1749.9L1889 1755.4L1888.5 1760.8L1888.1 1766.3L1887.8 1771.7L1887.5 1777.2ZM1903.1 1744.3L1902.3 1739.3L1901.5 1734.2L1900.7 1729.2L1900 1724.1L1899.3 1719.1L1898.7 1714L1898.2 1709L1897.8 1703.9L1897.5 1698.9L1897.4 1693.8L1897.3 1688.8L1897.3 1683.7L1897.4 1678.7L1897.5 1673.6L1897.5 1668.6L1897.6 1663.5L1897.7 1658.5L1897.7 1653.4L1897.7 1648.4L1897.7 1643.3L1897.6 1638.3L1897.6 1633.3L1897.5 1628.2L1897.4 1623.2L1897.4 1618.1L1897.4 1613.1L1897.4 1608L1897.5 1603L1897.6 1597.9L1897.7 1592.9L1897.9 1587.8L1898.1 1582.8L1898.4 1577.7L1898.6 1572.7L1898.9 1567.6L1899.2 1562.6L1899.4 1557.5L1899.7 1552.5L1900 1547.4L1900.4 1542.4L1900.7 1537.3L1901.1 1532.3L1901.6 1527.2L1902 1522.2L1902.6 1517.1L1903.1 1512.1L1903.7 1507L1911 1507L1911.6 1512.1L1912.1 1517.1L1912.6 1522.2L1913.1 1527.2L1913.6 1532.3L1914 1537.3L1914.3 1542.4L1914.7 1547.4L1915 1552.5L1915.2 1557.5L1915.5 1562.6L1915.8 1567.6L1916.1 1572.7L1916.3 1577.7L1916.6 1582.8L1916.8 1587.8L1917 1592.9L1917.1 1597.9L1917.2 1603L1917.3 1608L1917.3 1613.1L1917.3 1618.1L1917.3 1623.2L1917.2 1628.2L1917.1 1633.3L1917.1 1638.3L1917 1643.3L1917 1648.4L1917 1653.4L1917 1658.5L1917.1 1663.5L1917.1 1668.6L1917.2 1673.6L1917.3 1678.7L1917.4 1683.7L1917.4 1688.8L1917.3 1693.8L1917.2 1698.9L1916.9 1703.9L1916.5 1709L1916 1714L1915.4 1719.1L1914.7 1724.1L1913.9 1729.2L1913.1 1734.2L1912.3 1739.3L1911.6 1744.3ZM1926.3 1751.9L1925.9 1746.4L1925.5 1740.9L1925 1735.4L1924.5 1729.9L1924 1724.4L1923.6 1718.9L1923.1 1713.4L1922.6 1708L1922.2 1702.5L1921.8 1697L1921.4 1691.5L1921.1 1686L1920.8 1680.5L1920.5 1675L1920.2 1669.5L1919.9 1664L1919.6 1658.5L1919.4 1653L1919.2 1647.5L1919 1642L1918.8 1636.6L1918.6 1631.1L1918.5 1625.6L1918.4 1620.1L1918.4 1614.6L1918.4 1609.1L1918.4 1603.6L1918.4 1598.1L1918.5 1592.6L1918.7 1587.1L1918.9 1581.6L1919.1 1576.1L1919.4 1570.6L1919.7 1565.2L1920 1559.7L1920.3 1554.2L1920.6 1548.7L1920.9 1543.2L1921.2 1537.7L1921.6 1532.2L1921.9 1526.7L1922.3 1521.2L1922.7 1515.7L1923.2 1510.2L1923.7 1504.7L1924.2 1499.2L1924.8 1493.7L1932 1493.7L1932.6 1499.2L1933.1 1504.7L1933.6 1510.2L1934.1 1515.7L1934.5 1521.2L1934.9 1526.7L1935.2 1532.2L1935.6 1537.7L1935.9 1543.2L1936.2 1548.7L1936.5 1554.2L1936.8 1559.7L1937.1 1565.2L1937.4 1570.6L1937.7 1576.1L1937.9 1581.6L1938.1 1587.1L1938.3 1592.6L1938.4 1598.1L1938.4 1603.6L1938.5 1609.1L1938.4 1614.6L1938.4 1620.1L1938.3 1625.6L1938.2 1631.1L1938 1636.6L1937.8 1642L1937.6 1647.5L1937.4 1653L1937.2 1658.5L1936.9 1664L1936.6 1669.5L1936.3 1675L1936 1680.5L1935.7 1686L1935.4 1691.5L1935 1697L1934.6 1702.5L1934.2 1708L1933.7 1713.4L1933.2 1718.9L1932.8 1724.4L1932.3 1729.9L1931.8 1735.4L1931.3 1740.9L1930.9 1746.4L1930.5 1751.9Z" fill="#add8e6" stroke="#000" stroke-width="1.3" stroke-linejoin="round"/>
<path d="M1102 1714.3H1112.1M1102 1770.2H1112.1M1107.1 1770.2V1714.3M1123.1 1732.3H1133.1M1123.1 1857.4H1133.1M1128.1 1857.4V1732.3M1144.2 1659.1H1154.2M1144.2 1705.7H1154.2M1149.2 1705.7V1659.1M1165.2 1636.9H1175.3M1165.2 1680.4H1175.3M1170.2 1680.4V1636.9M1186.3 1655.2H1196.3M1186.3 1691.5H1196.3M1191.3 1691.5V1655.2M1207.3 1638.4H1217.4M1207.3 1690.7H1217.4M1212.4 1690.7V1638.4M1228.4 1630.5H1238.4M1228.4 1658H1238.4M1233.4 1658V1630.5M1249.5 1621.7H1259.5M1249.5 1651.1H1259.5M1254.5 1651.1V1621.7M1270.5 1630.5H1280.6M1270.5 1671.6H1280.6M1275.5 1671.6V1630.5M1291.6 1649.6H1301.6M1291.6 1696.8H1301.6M1296.6 1696.8V1649.6M1312.6 1638.4H1322.7M1312.6 1702.7H1322.7M1317.7 1702.7V1638.4M1333.7 1621.2H1343.7M1333.7 1696.8H1343.7M1338.7 1696.8V1621.2M1354.8 1593.3H1364.8M1354.8 1692.1H1364.8M1359.8 1692.1V1593.3M1375.8 1590.1H1385.9M1375.8 1702.7H1385.9M1380.8 1702.7V1590.1M1396.9 1596.8H1406.9M1396.9 1691H1406.9M1401.9 1691V1596.8M1417.9 1592.6H1428M1417.9 1673.9H1428M1423 1673.9V1592.6M1439 1593.6H1449M1439 1707.1H1449M1444 1707.1V1593.6M1460.1 1592.6H1470.1M1460.1 1709H1470.1M1465.1 1709V1592.6M1481.1 1588.7H1491.2M1481.1 1694H1491.2M1486.1 1694V1588.7M1502.2 1590.8H1512.2M1502.2 1683.1H1512.2M1507.2 1683.1V1590.8M1523.2 1588.7H1533.3M1523.2 1689.8H1533.3M1528.3 1689.8V1588.7M1544.3 1595.8H1554.3M1544.3 1701.9H1554.3M1549.3 1701.9V1595.8M1565.4 1587.8H1575.4M1565.4 1714.3H1575.4M1570.4 1714.3V1587.8M1586.4 1583.6H1596.5M1586.4 1710.1H1596.5M1591.4 1710.1V1583.6M1607.5 1589.9H1617.5M1607.5 1709H1617.5M1612.5 1709V1589.9M1628.5 1594.9H1638.6M1628.5 1712.2H1638.6M1633.6 1712.2V1594.9M1649.6 1586.8H1659.6M1649.6 1718H1659.6M1654.6 1718V1586.8M1670.7 1595.2H1680.7M1670.7 1719.1H1680.7M1675.7 1719.1V1595.2M1691.7 1609.9H1701.8M1691.7 1739.9H1701.8M1696.7 1739.9V1609.9M1712.8 1627.3H1722.8M1712.8 1746H1722.8M1717.8 1746V1627.3M1733.8 1615.9H1743.9M1733.8 1745.2H1743.9M1738.9 1745.2V1615.9M1754.9 1599.8H1764.9M1754.9 1734.1H1764.9M1759.9 1734.1V1599.8M1776 1591H1786M1776 1754.3H1786M1781 1754.3V1591M1797 1564H1807.1M1797 1743.2H1807.1M1802 1743.2V1564M1818.1 1540.9H1828.1M1818.1 1757.2H1828.1M1823.1 1757.2V1540.9M1839.1 1519.9H1849.2M1839.1 1752H1849.2M1844.2 1752V1519.9M1860.2 1517.3H1870.2M1860.2 1766.3H1870.2M1865.2 1766.3V1517.3M1881.3 1517.3H1891.3M1881.3 1783.3H1891.3M1886.3 1783.3V1517.3M1902.3 1504.9H1912.4M1902.3 1747.3H1912.4M1907.3 1747.3V1504.9M1923.4 1491.9H1933.4M1923.4 1756.5H1933.4M1928.4 1756.5V1491.9" stroke="#1f77b4" stroke-width="2.08" fill="none"/>
<path d="M1107.1 1728.4V1720.6M1128.1 1810.6V1766.3M1149.2 1695.2V1678.5M1170.2 1662.1V1655.9M1191.3 1674.8V1666M1212.4 1676.4V1669.1M1233.4 1648V1640.9M1254.5 1640V1633.7M1275.5 1662.8V1651.1M1296.6 1679.5V1670M1317.7 1690.7V1670M1338.7 1682.7V1669.1M1359.8 1678.7V1662.1M1380.8 1671.6V1654.9M1401.9 1665.8V1649.2M1423 1656.6V1633M1444 1660.7V1637.2M1465.1 1667.4V1631.9M1486.1 1656.3V1622.9M1507.2 1645.3V1617.3M1528.3 1646.6V1618.3M1549.3 1654.5V1625.2M1570.4 1652.9V1622.9M1591.4 1656.6V1622.9M1612.5 1654V1624.2M1633.6 1676.7V1637.2M1654.6 1680.8V1637.2M1675.7 1686.1V1642.3M1696.7 1689.8V1649.9M1717.8 1701.2V1663M1738.9 1692.6V1665.3M1759.9 1694.9V1668.3M1781 1704.6V1673.5M1802 1715.5V1680.6M1823.1 1712.9V1655.2M1844.2 1716.8V1641.3M1865.2 1699.8V1629.1M1886.3 1697.2V1606M1907.3 1690.3V1579.9M1928.4 1663.7V1565.2" stroke="#000" stroke-width="7.85" fill="none"/>
<path d="M1107.1 1741.1V1717.5M1128.1 1840.6V1752.2M1149.2 1702.7V1669.1M1170.2 1670V1646.4M1191.3 1684.8V1660.5M1212.4 1682.7V1654.3M1233.4 1655.9V1633.7M1254.5 1648V1627.3M1275.5 1668.4V1641.6M1296.6 1690.7V1654.3M1317.7 1698.4V1655.9M1338.7 1693.1V1651.1M1359.8 1684.3V1646.4M1380.8 1685.9V1638.4M1401.9 1678.3V1622.6M1423 1669.7V1606M1444 1677.6V1607.6M1465.1 1686.2V1610.4M1486.1 1679.9V1605.6M1507.2 1674.4V1598.9M1528.3 1672.1V1596.5M1549.3 1681.5V1607.6M1570.4 1675.1V1603.7M1591.4 1679.9V1602.8M1612.5 1690.1V1602.8M1633.6 1699.3V1612.5M1654.6 1702.8V1600.5M1675.7 1706.4V1609.5M1696.7 1710.9V1623.3M1717.8 1721.4V1640.6M1738.9 1725.9V1644.1M1759.9 1716.8V1647.6M1781 1727.2V1629.8M1802 1734.6V1609.5M1823.1 1739.9V1586.9M1844.2 1746.8V1578.3M1865.2 1749V1551.8M1886.3 1733.5V1546.7M1907.3 1722.9V1522.4M1928.4 1719.1V1507.4" stroke="#ff0000" stroke-width="3.14" fill="none"/>
<path d="M1101 1724.7H1113.2M1122 1781.5H1134.2M1143.1 1688.4H1155.3M1164.1 1658.4H1176.3M1185.2 1669.5H1197.4M1206.3 1672.7H1218.5M1227.3 1644.1H1239.5M1248.4 1636.9H1260.6M1269.4 1657.5H1281.6M1290.5 1674.1H1302.7M1311.6 1683.6H1323.8M1332.6 1678.7H1344.8M1353.7 1672.7H1365.9M1374.7 1662.8H1386.9M1395.8 1656.6H1408M1416.9 1645.7H1429.1M1437.9 1649.7H1450.1M1459 1649.7H1471.2M1480 1640.6H1492.2M1501.1 1628.7H1513.3M1522.2 1631.6H1534.4M1543.2 1637.7H1555.4M1564.3 1635.8H1576.5M1585.3 1634.7H1597.5M1606.4 1641.8H1618.6M1627.5 1657.8H1639.7M1648.5 1659.8H1660.7M1669.6 1663H1681.8M1690.6 1667.2H1702.8M1711.7 1682.9H1723.9M1732.8 1679.2H1745M1753.8 1681.7H1766M1774.9 1689.1H1787.1M1795.9 1694.9H1808.1M1817 1685.2H1829.2M1838.1 1679.9H1850.3M1859.1 1681H1871.3M1880.2 1672.8H1892.4M1901.2 1629.8H1913.4M1922.3 1612.9H1934.5" stroke="#ff0000" stroke-width="3.9" fill="none"/>
</g>
<path d="M114.5 1513.5H967.5" stroke="#8b4513" stroke-width="2.8"/>
<g clip-path="url(#c02)">
<path d="M134 1547.9L133.9 1547.4L133.8 1546.9L133.6 1546.3L133.4 1545.8L133.2 1545.3L132.8 1544.8L132.4 1544.3L131.8 1543.7L131.1 1543.2L130.4 1542.7L129.6 1542.2L128.8 1541.6L128.1 1541.1L127.6 1540.6L127.1 1540.1L126.8 1539.6L126.5 1539L126.4 1538.5L126.3 1538L126.2 1537.5L126.1 1536.9L126 1536.4L125.9 1535.9L125.8 1535.4L125.6 1534.9L125.4 1534.3L125.1 1533.8L124.9 1533.3L124.8 1532.8L124.7 1532.2L124.8 1531.7L125.2 1531.2L125.8 1530.7L126.7 1530.2L127.7 1529.6L128.9 1529.1L130 1528.6L131 1528.1L131.9 1527.5L132.6 1527L133.1 1526.5L133.4 1526L133.6 1525.5L133.8 1524.9L133.9 1524.4L134 1523.9L134.1 1523.4L135.4 1523.4L135.5 1523.9L135.6 1524.4L135.7 1524.9L135.9 1525.5L136.1 1526L136.5 1526.5L136.9 1527L137.6 1527.5L138.5 1528.1L139.5 1528.6L140.6 1529.1L141.8 1529.6L142.8 1530.2L143.7 1530.7L144.3 1531.2L144.7 1531.7L144.8 1532.2L144.8 1532.8L144.6 1533.3L144.4 1533.8L144.1 1534.3L143.9 1534.9L143.7 1535.4L143.6 1535.9L143.5 1536.4L143.4 1536.9L143.3 1537.5L143.2 1538L143.1 1538.5L143 1539L142.7 1539.6L142.4 1540.1L142 1540.6L141.4 1541.1L140.7 1541.6L139.9 1542.2L139.2 1542.7L138.4 1543.2L137.7 1543.7L137.2 1544.3L136.7 1544.8L136.4 1545.3L136.1 1545.8L135.9 1546.3L135.8 1546.9L135.6 1547.4L135.5 1547.9ZM153.5 1527.3L153 1526.9L152.5 1526.5L151.9 1526.1L151.4 1525.7L150.8 1525.3L150.3 1524.9L149.8 1524.5L149.3 1524.1L148.9 1523.7L148.5 1523.3L148.1 1522.9L147.7 1522.5L147.4 1522.1L147 1521.8L146.8 1521.4L146.5 1521L146.3 1520.6L146.1 1520.2L146 1519.8L145.9 1519.4L145.8 1519L145.8 1518.6L145.8 1518.2L145.8 1517.8L145.9 1517.4L146 1517L146.1 1516.6L146.3 1516.3L146.5 1515.9L146.8 1515.5L147.1 1515.1L147.5 1514.7L148 1514.3L148.5 1513.9L149.1 1513.5L149.7 1513.1L150.4 1512.7L151.1 1512.3L151.7 1511.9L152.3 1511.5L152.8 1511.1L153.3 1510.8L153.7 1510.4L154 1510L154.3 1509.6L154.6 1509.2L154.8 1508.8L156.9 1508.8L157.1 1509.2L157.3 1509.6L157.6 1510L157.9 1510.4L158.3 1510.8L158.8 1511.1L159.3 1511.5L159.9 1511.9L160.6 1512.3L161.3 1512.7L161.9 1513.1L162.6 1513.5L163.1 1513.9L163.7 1514.3L164.1 1514.7L164.5 1515.1L164.8 1515.5L165.1 1515.9L165.3 1516.3L165.5 1516.6L165.6 1517L165.7 1517.4L165.8 1517.8L165.9 1518.2L165.9 1518.6L165.8 1519L165.8 1519.4L165.7 1519.8L165.6 1520.2L165.4 1520.6L165.1 1521L164.9 1521.4L164.6 1521.8L164.3 1522.1L163.9 1522.5L163.6 1522.9L163.2 1523.3L162.8 1523.7L162.3 1524.1L161.9 1524.5L161.4 1524.9L160.8 1525.3L160.3 1525.7L159.7 1526.1L159.1 1526.5L158.6 1526.9L158.1 1527.3ZM176.2 1628.4L176.1 1626.8L176 1625.2L175.9 1623.7L175.7 1622.1L175.6 1620.5L175.4 1618.9L175.1 1617.3L174.8 1615.7L174.4 1614.1L174 1612.5L173.5 1610.9L173.1 1609.3L172.6 1607.7L172.2 1606.1L171.7 1604.5L171.3 1602.9L170.8 1601.3L170.3 1599.8L169.7 1598.2L169.1 1596.6L168.6 1595L168 1593.4L167.6 1591.8L167.2 1590.2L167 1588.6L166.8 1587L166.8 1585.4L167 1583.8L167.3 1582.2L167.7 1580.6L168.2 1579L168.7 1577.5L169.3 1575.9L169.9 1574.3L170.6 1572.7L171.2 1571.1L171.8 1569.5L172.4 1567.9L172.9 1566.3L173.5 1564.7L174 1563.1L174.5 1561.5L174.9 1559.9L175.2 1558.3L175.5 1556.7L175.7 1555.1L175.9 1553.6L177.8 1553.6L178 1555.1L178.3 1556.7L178.6 1558.3L178.9 1559.9L179.3 1561.5L179.8 1563.1L180.3 1564.7L180.8 1566.3L181.4 1567.9L182 1569.5L182.6 1571.1L183.2 1572.7L183.8 1574.3L184.4 1575.9L185 1577.5L185.6 1579L186.1 1580.6L186.5 1582.2L186.8 1583.8L186.9 1585.4L186.9 1587L186.8 1588.6L186.5 1590.2L186.2 1591.8L185.7 1593.4L185.2 1595L184.6 1596.6L184 1598.2L183.5 1599.8L183 1601.3L182.5 1602.9L182 1604.5L181.6 1606.1L181.1 1607.7L180.7 1609.3L180.2 1610.9L179.8 1612.5L179.4 1614.1L179 1615.7L178.7 1617.3L178.4 1618.9L178.2 1620.5L178 1622.1L177.9 1623.7L177.8 1625.2L177.7 1626.8L177.6 1628.4ZM190.4 1674.5L189.5 1673L188.7 1671.4L188.2 1669.9L187.9 1668.4L187.9 1666.8L188.1 1665.3L188.5 1663.8L189 1662.2L189.6 1660.7L190.2 1659.2L190.8 1657.6L191.4 1656.1L191.9 1654.6L192.3 1653L192.6 1651.5L192.9 1650L193 1648.4L193.2 1646.9L193.3 1645.4L193.3 1643.8L193.4 1642.3L193.4 1640.8L193.4 1639.2L193.4 1637.7L193.5 1636.2L193.5 1634.6L193.6 1633.1L193.7 1631.6L193.8 1630L194 1628.5L194.2 1627L194.4 1625.4L194.7 1623.9L195 1622.4L195.3 1620.8L195.6 1619.3L195.8 1617.7L196.1 1616.2L196.3 1614.7L196.5 1613.1L196.7 1611.6L196.8 1610.1L196.9 1608.5L197 1607L197.1 1605.5L197.2 1603.9L197.3 1602.4L198.6 1602.4L198.6 1603.9L198.7 1605.5L198.8 1607L198.9 1608.5L199.1 1610.1L199.2 1611.6L199.4 1613.1L199.6 1614.7L199.8 1616.2L200.1 1617.7L200.3 1619.3L200.6 1620.8L200.9 1622.4L201.2 1623.9L201.5 1625.4L201.7 1627L201.9 1628.5L202.1 1630L202.2 1631.6L202.3 1633.1L202.4 1634.6L202.4 1636.2L202.4 1637.7L202.5 1639.2L202.5 1640.8L202.5 1642.3L202.6 1643.8L202.6 1645.4L202.7 1646.9L202.8 1648.4L203 1650L203.3 1651.5L203.6 1653L204 1654.6L204.5 1656.1L205.1 1657.6L205.7 1659.2L206.3 1660.7L206.9 1662.2L207.4 1663.8L207.8 1665.3L208 1666.8L208 1668.4L207.7 1669.9L207.1 1671.4L206.4 1673L205.5 1674.5ZM212.1 1669.8L211.3 1668.5L210.5 1667.2L209.8 1665.9L209.4 1664.5L209.1 1663.2L208.9 1661.9L209 1660.6L209.3 1659.3L209.8 1658L210.4 1656.7L211 1655.4L211.7 1654.1L212.4 1652.8L213.1 1651.4L213.7 1650.1L214.2 1648.8L214.7 1647.5L215.1 1646.2L215.4 1644.9L215.6 1643.6L215.7 1642.3L215.8 1641L215.8 1639.7L215.8 1638.3L215.8 1637L215.7 1635.7L215.5 1634.4L215.4 1633.1L215.2 1631.8L214.9 1630.5L214.7 1629.2L214.5 1627.9L214.3 1626.5L214.1 1625.2L213.9 1623.9L213.9 1622.6L213.8 1621.3L213.9 1620L214 1618.7L214.3 1617.4L214.5 1616.1L214.9 1614.8L215.3 1613.4L215.7 1612.1L216.1 1610.8L216.5 1609.5L216.8 1608.2L221.2 1608.2L221.5 1609.5L221.9 1610.8L222.3 1612.1L222.7 1613.4L223.1 1614.8L223.5 1616.1L223.7 1617.4L224 1618.7L224.1 1620L224.2 1621.3L224.1 1622.6L224.1 1623.9L223.9 1625.2L223.7 1626.5L223.5 1627.9L223.3 1629.2L223.1 1630.5L222.8 1631.8L222.6 1633.1L222.5 1634.4L222.3 1635.7L222.2 1637L222.2 1638.3L222.2 1639.7L222.2 1641L222.3 1642.3L222.4 1643.6L222.6 1644.9L222.9 1646.2L223.3 1647.5L223.8 1648.8L224.3 1650.1L224.9 1651.4L225.6 1652.8L226.3 1654.1L227 1655.4L227.6 1656.7L228.2 1658L228.7 1659.3L229 1660.6L229.1 1661.9L228.9 1663.2L228.6 1664.5L228.2 1665.9L227.5 1667.2L226.7 1668.5L225.9 1669.8ZM237 1649.6L236.3 1648.6L235.4 1647.6L234.5 1646.5L233.6 1645.5L232.7 1644.5L231.8 1643.5L231.1 1642.4L230.5 1641.4L230.2 1640.4L230 1639.3L230.1 1638.3L230.3 1637.3L230.7 1636.3L231.3 1635.2L231.9 1634.2L232.5 1633.2L233.1 1632.1L233.6 1631.1L234.1 1630.1L234.4 1629L234.7 1628L234.9 1627L234.9 1626L235 1624.9L234.9 1623.9L234.9 1622.9L234.8 1621.8L234.8 1620.8L234.7 1619.8L234.7 1618.8L234.8 1617.7L234.9 1616.7L235.1 1615.7L235.4 1614.6L235.7 1613.6L236.1 1612.6L236.5 1611.5L236.9 1610.5L237.3 1609.5L237.7 1608.5L238 1607.4L238.3 1606.4L238.6 1605.4L238.8 1604.3L239 1603.3L239.1 1602.3L239.3 1601.3L240.9 1601.3L241 1602.3L241.2 1603.3L241.3 1604.3L241.6 1605.4L241.8 1606.4L242.1 1607.4L242.4 1608.5L242.8 1609.5L243.2 1610.5L243.6 1611.5L244 1612.6L244.4 1613.6L244.7 1614.6L245 1615.7L245.2 1616.7L245.3 1617.7L245.4 1618.8L245.4 1619.8L245.3 1620.8L245.3 1621.8L245.2 1622.9L245.2 1623.9L245.2 1624.9L245.2 1626L245.3 1627L245.4 1628L245.7 1629L246 1630.1L246.5 1631.1L247 1632.1L247.6 1633.2L248.2 1634.2L248.8 1635.2L249.4 1636.3L249.8 1637.3L250.1 1638.3L250.1 1639.3L250 1640.4L249.6 1641.4L249 1642.4L248.3 1643.5L247.5 1644.5L246.5 1645.5L245.6 1646.5L244.7 1647.6L243.8 1648.6L243.1 1649.6ZM260.4 1669.4L260.2 1668.2L260 1667.1L259.7 1665.9L259.2 1664.7L258.5 1663.6L257.6 1662.4L256.6 1661.3L255.4 1660.1L254.3 1659L253.3 1657.8L252.6 1656.6L252.2 1655.5L252.1 1654.3L252 1653.2L252 1652L251.9 1650.8L251.7 1649.7L251.4 1648.5L251.2 1647.4L251.1 1646.2L251.2 1645L251.5 1643.9L252.1 1642.7L252.8 1641.6L253.8 1640.4L254.8 1639.2L255.8 1638.1L256.9 1636.9L257.9 1635.8L258.7 1634.6L259.4 1633.4L259.9 1632.3L260.2 1631.1L260.4 1630L260.5 1628.8L260.6 1627.6L260.6 1626.5L260.6 1625.3L260.6 1624.2L260.6 1623L260.6 1621.8L260.6 1620.7L260.6 1619.5L260.7 1618.4L260.7 1617.2L260.7 1616L260.7 1614.9L261.5 1614.9L261.6 1616L261.6 1617.2L261.6 1618.4L261.6 1619.5L261.6 1620.7L261.6 1621.8L261.6 1623L261.6 1624.2L261.6 1625.3L261.6 1626.5L261.7 1627.6L261.7 1628.8L261.8 1630L262 1631.1L262.4 1632.3L262.9 1633.4L263.6 1634.6L264.4 1635.8L265.4 1636.9L266.4 1638.1L267.5 1639.2L268.5 1640.4L269.4 1641.6L270.2 1642.7L270.7 1643.9L271.1 1645L271.2 1646.2L271.1 1647.4L270.8 1648.5L270.6 1649.7L270.4 1650.8L270.2 1652L270.2 1653.2L270.2 1654.3L270 1655.5L269.6 1656.6L268.9 1657.8L268 1659L266.8 1660.1L265.7 1661.3L264.6 1662.4L263.7 1663.6L263 1664.7L262.6 1665.9L262.3 1667.1L262 1668.2L261.8 1669.4ZM281.5 1702.3L281.4 1701.1L281.3 1699.9L281.2 1698.8L281 1697.6L280.9 1696.4L280.6 1695.2L280.3 1694L280 1692.8L279.6 1691.7L279.2 1690.5L278.8 1689.3L278.4 1688.1L278 1686.9L277.6 1685.7L277.3 1684.6L276.9 1683.4L276.5 1682.2L276 1681L275.6 1679.8L275 1678.6L274.5 1677.4L273.9 1676.3L273.4 1675.1L272.9 1673.9L272.5 1672.7L272.2 1671.5L272.1 1670.3L272.2 1669.2L272.6 1668L273.1 1666.8L273.7 1665.6L274.5 1664.4L275.3 1663.2L276.1 1662L277 1660.9L277.8 1659.7L278.5 1658.5L279.2 1657.3L279.8 1656.1L280.3 1654.9L280.6 1653.8L280.9 1652.6L281.1 1651.4L281.2 1650.2L281.4 1649L281.5 1647.8L281.6 1646.7L282.8 1646.7L282.9 1647.8L283 1649L283.1 1650.2L283.3 1651.4L283.5 1652.6L283.7 1653.8L284.1 1654.9L284.6 1656.1L285.1 1657.3L285.8 1658.5L286.6 1659.7L287.4 1660.9L288.2 1662L289.1 1663.2L289.9 1664.4L290.6 1665.6L291.3 1666.8L291.8 1668L292.1 1669.2L292.2 1670.3L292.1 1671.5L291.9 1672.7L291.5 1673.9L291 1675.1L290.4 1676.3L289.9 1677.4L289.3 1678.6L288.8 1679.8L288.3 1681L287.9 1682.2L287.5 1683.4L287.1 1684.6L286.7 1685.7L286.4 1686.9L286 1688.1L285.6 1689.3L285.1 1690.5L284.7 1691.7L284.4 1692.8L284 1694L283.7 1695.2L283.5 1696.4L283.3 1697.6L283.2 1698.8L283.1 1699.9L282.9 1701.1L282.8 1702.3ZM299.8 1647.7L298.9 1646.7L298 1645.7L297 1644.7L296.1 1643.7L295.3 1642.6L294.6 1641.6L294 1640.6L293.5 1639.6L293.3 1638.6L293.2 1637.6L293.3 1636.6L293.5 1635.6L293.8 1634.5L294.2 1633.5L294.6 1632.5L295 1631.5L295.3 1630.5L295.7 1629.5L295.9 1628.5L296.2 1627.4L296.4 1626.4L296.7 1625.4L296.9 1624.4L297.2 1623.4L297.6 1622.4L298 1621.4L298.5 1620.4L299.1 1619.3L299.7 1618.3L300.2 1617.3L300.8 1616.3L301.3 1615.3L301.7 1614.3L302 1613.3L302.2 1612.3L302.4 1611.2L302.5 1610.2L302.6 1609.2L302.6 1608.2L302.6 1607.2L302.6 1606.2L302.6 1605.2L302.7 1604.1L302.7 1603.1L302.7 1602.1L302.7 1601.1L302.8 1600.1L303.7 1600.1L303.7 1601.1L303.8 1602.1L303.8 1603.1L303.8 1604.1L303.8 1605.2L303.8 1606.2L303.9 1607.2L303.9 1608.2L303.9 1609.2L304 1610.2L304.1 1611.2L304.3 1612.3L304.5 1613.3L304.8 1614.3L305.2 1615.3L305.7 1616.3L306.3 1617.3L306.8 1618.3L307.4 1619.3L308 1620.4L308.5 1621.4L308.9 1622.4L309.3 1623.4L309.6 1624.4L309.8 1625.4L310.1 1626.4L310.3 1627.4L310.5 1628.5L310.8 1629.5L311.1 1630.5L311.5 1631.5L311.9 1632.5L312.3 1633.5L312.7 1634.5L313 1635.6L313.2 1636.6L313.3 1637.6L313.2 1638.6L312.9 1639.6L312.5 1640.6L311.9 1641.6L311.2 1642.6L310.4 1643.7L309.5 1644.7L308.5 1645.7L307.6 1646.7L306.7 1647.7ZM323 1630.5L322.7 1629.7L322.3 1628.8L322 1627.9L321.6 1627.1L321.1 1626.2L320.6 1625.4L320.2 1624.5L319.6 1623.7L319.1 1622.8L318.6 1621.9L318 1621.1L317.4 1620.2L316.9 1619.4L316.3 1618.5L315.8 1617.7L315.3 1616.8L314.8 1616L314.5 1615.1L314.3 1614.2L314.2 1613.4L314.3 1612.5L314.5 1611.7L314.7 1610.8L315.1 1610L315.4 1609.1L315.8 1608.2L316.2 1607.4L316.5 1606.5L316.9 1605.7L317.2 1604.8L317.5 1604L317.8 1603.1L318.1 1602.3L318.4 1601.4L318.6 1600.5L318.8 1599.7L319.1 1598.8L319.3 1598L319.6 1597.1L319.9 1596.3L320.2 1595.4L320.5 1594.6L320.9 1593.7L321.3 1592.8L321.7 1592L322 1591.1L322.4 1590.3L326.2 1590.3L326.6 1591.1L326.9 1592L327.3 1592.8L327.7 1593.7L328.1 1594.6L328.4 1595.4L328.7 1596.3L329 1597.1L329.3 1598L329.5 1598.8L329.8 1599.7L330 1600.5L330.2 1601.4L330.5 1602.3L330.8 1603.1L331.1 1604L331.4 1604.8L331.7 1605.7L332.1 1606.5L332.4 1607.4L332.8 1608.2L333.2 1609.1L333.5 1610L333.9 1610.8L334.1 1611.7L334.3 1612.5L334.4 1613.4L334.3 1614.2L334.1 1615.1L333.8 1616L333.3 1616.8L332.8 1617.7L332.3 1618.5L331.7 1619.4L331.2 1620.2L330.6 1621.1L330 1621.9L329.5 1622.8L329 1623.7L328.4 1624.5L328 1625.4L327.5 1626.2L327 1627.1L326.6 1627.9L326.3 1628.8L325.9 1629.7L325.6 1630.5ZM344.6 1647.8L344.5 1646.7L344.3 1645.7L344.2 1644.6L344 1643.6L343.7 1642.6L343.4 1641.5L343.1 1640.5L342.7 1639.4L342.3 1638.4L341.8 1637.3L341.4 1636.3L340.9 1635.3L340.3 1634.2L339.8 1633.2L339.1 1632.1L338.5 1631.1L337.7 1630L337 1629L336.4 1628L335.8 1626.9L335.5 1625.9L335.3 1624.8L335.4 1623.8L335.7 1622.7L336.3 1621.7L337 1620.6L337.8 1619.6L338.6 1618.6L339.3 1617.5L340 1616.5L340.6 1615.4L341.1 1614.4L341.4 1613.3L341.7 1612.3L342 1611.3L342.2 1610.2L342.5 1609.2L342.7 1608.1L343 1607.1L343.2 1606L343.5 1605L343.7 1604L343.9 1602.9L344.1 1601.9L344.3 1600.8L344.4 1599.8L344.6 1598.7L346.1 1598.7L346.3 1599.8L346.5 1600.8L346.6 1601.9L346.8 1602.9L347 1604L347.2 1605L347.5 1606L347.8 1607.1L348 1608.1L348.3 1609.2L348.5 1610.2L348.7 1611.3L349 1612.3L349.3 1613.3L349.6 1614.4L350.1 1615.4L350.7 1616.5L351.4 1617.5L352.2 1618.6L353 1619.6L353.8 1620.6L354.5 1621.7L355 1622.7L355.3 1623.8L355.4 1624.8L355.3 1625.9L354.9 1626.9L354.4 1628L353.7 1629L353 1630L352.3 1631.1L351.6 1632.1L351 1633.2L350.4 1634.2L349.9 1635.3L349.4 1636.3L348.9 1637.3L348.4 1638.4L348 1639.4L347.6 1640.5L347.3 1641.5L347 1642.6L346.8 1643.6L346.6 1644.6L346.4 1645.7L346.2 1646.7L346.1 1647.8ZM366 1669.9L365.9 1668.3L365.9 1666.8L365.8 1665.2L365.8 1663.6L365.7 1662.1L365.7 1660.5L365.6 1659L365.4 1657.4L365.1 1655.8L364.7 1654.3L364.2 1652.7L363.5 1651.2L362.8 1649.6L362 1648L361.1 1646.5L360.2 1644.9L359.4 1643.4L358.6 1641.8L357.8 1640.2L357.2 1638.7L356.7 1637.1L356.4 1635.6L356.4 1634L356.6 1632.4L357.1 1630.9L357.8 1629.3L358.7 1627.8L359.6 1626.2L360.4 1624.6L361.2 1623.1L361.8 1621.5L362.3 1620L362.7 1618.4L363 1616.8L363.4 1615.3L363.7 1613.7L364 1612.1L364.4 1610.6L364.7 1609L365 1607.5L365.2 1605.9L365.4 1604.3L365.5 1602.8L365.6 1601.2L365.7 1599.7L365.8 1598.1L365.9 1596.5L367 1596.5L367.1 1598.1L367.2 1599.7L367.3 1601.2L367.4 1602.8L367.5 1604.3L367.6 1605.9L367.9 1607.5L368.1 1609L368.4 1610.6L368.8 1612.1L369.1 1613.7L369.5 1615.3L369.8 1616.8L370.2 1618.4L370.6 1620L371.1 1621.5L371.7 1623.1L372.4 1624.6L373.3 1626.2L374.1 1627.8L375 1629.3L375.7 1630.9L376.2 1632.4L376.5 1634L376.5 1635.6L376.2 1637.1L375.7 1638.7L375 1640.2L374.3 1641.8L373.4 1643.4L372.6 1644.9L371.7 1646.5L370.9 1648L370.1 1649.6L369.3 1651.2L368.7 1652.7L368.2 1654.3L367.8 1655.8L367.5 1657.4L367.3 1659L367.2 1660.5L367.1 1662.1L367.1 1663.6L367 1665.2L367 1666.8L366.9 1668.3L366.9 1669.9ZM387.2 1683.6L387.2 1681.3L387.2 1679.1L387.2 1676.8L387.2 1674.5L387.2 1672.2L387.2 1669.9L387.2 1667.6L387.2 1665.4L387.2 1663.1L387.2 1660.8L387.2 1658.5L387.2 1656.2L387.2 1653.9L387.2 1651.6L387.2 1649.4L387.2 1647.1L387.2 1644.8L387.1 1642.5L387 1640.2L386.8 1637.9L386.4 1635.7L385.9 1633.4L385.2 1631.1L384.2 1628.8L383 1626.5L381.7 1624.2L380.4 1621.9L379.2 1619.7L378.2 1617.4L377.6 1615.1L377.4 1612.8L377.6 1610.5L378.1 1608.2L378.9 1606L379.6 1603.7L380.4 1601.4L381.2 1599.1L381.8 1596.8L382.3 1594.5L382.7 1592.2L383.1 1590L383.5 1587.7L383.8 1585.4L384.2 1583.1L384.6 1580.8L385.1 1578.5L385.6 1576.3L389.4 1576.3L389.9 1578.5L390.3 1580.8L390.8 1583.1L391.2 1585.4L391.5 1587.7L391.8 1590L392.2 1592.2L392.7 1594.5L393.2 1596.8L393.8 1599.1L394.5 1601.4L395.3 1603.7L396.1 1606L396.8 1608.2L397.3 1610.5L397.5 1612.8L397.3 1615.1L396.7 1617.4L395.8 1619.7L394.6 1621.9L393.2 1624.2L391.9 1626.5L390.7 1628.8L389.8 1631.1L389 1633.4L388.5 1635.7L388.2 1637.9L388 1640.2L387.8 1642.5L387.8 1644.8L387.8 1647.1L387.8 1649.4L387.8 1651.6L387.8 1653.9L387.8 1656.2L387.8 1658.5L387.8 1660.8L387.8 1663.1L387.8 1665.4L387.8 1667.6L387.8 1669.9L387.8 1672.2L387.8 1674.5L387.8 1676.8L387.8 1679.1L387.8 1681.3L387.7 1683.6ZM408.2 1674.5L408.1 1672.4L408.1 1670.2L408.1 1668.1L408.1 1665.9L408.1 1663.8L408.1 1661.6L408 1659.4L408 1657.3L408 1655.1L408 1653L408 1650.8L407.9 1648.6L407.8 1646.5L407.6 1644.3L407.4 1642.2L407.2 1640L406.9 1637.8L406.6 1635.7L406.2 1633.5L405.9 1631.4L405.6 1629.2L405.3 1627L404.9 1624.9L404.4 1622.7L403.8 1620.6L403.1 1618.4L402.2 1616.3L401.3 1614.1L400.3 1611.9L399.5 1609.8L398.9 1607.6L398.5 1605.5L398.5 1603.3L398.8 1601.1L399.2 1599L399.9 1596.8L400.6 1594.7L401.3 1592.5L402 1590.3L402.5 1588.2L403 1586L403.5 1583.9L403.9 1581.7L404.3 1579.5L404.8 1577.4L405.3 1575.2L405.8 1573.1L411.3 1573.1L411.8 1575.2L412.3 1577.4L412.8 1579.5L413.2 1581.7L413.6 1583.9L414.1 1586L414.5 1588.2L415.1 1590.3L415.8 1592.5L416.5 1594.7L417.2 1596.8L417.8 1599L418.3 1601.1L418.6 1603.3L418.6 1605.5L418.2 1607.6L417.6 1609.8L416.8 1611.9L415.8 1614.1L414.8 1616.3L414 1618.4L413.2 1620.6L412.6 1622.7L412.2 1624.9L411.8 1627L411.5 1629.2L411.2 1631.4L410.8 1633.5L410.5 1635.7L410.2 1637.8L409.9 1640L409.7 1642.2L409.5 1644.3L409.3 1646.5L409.2 1648.6L409.1 1650.8L409.1 1653L409.1 1655.1L409 1657.3L409 1659.4L409 1661.6L409 1663.8L409 1665.9L409 1668.1L409 1670.2L409 1672.4L408.9 1674.5ZM429.1 1691.3L429.1 1689L429 1686.7L429 1684.4L429 1682.1L429 1679.8L428.9 1677.5L428.9 1675.2L428.8 1672.9L428.7 1670.6L428.6 1668.3L428.4 1666L428.1 1663.6L427.7 1661.3L427.4 1659L427 1656.7L426.6 1654.4L426.2 1652.1L425.8 1649.8L425.4 1647.5L425 1645.2L424.5 1642.9L424 1640.6L423.4 1638.3L422.7 1636L422 1633.7L421.3 1631.3L420.7 1629L420.1 1626.7L419.7 1624.4L419.5 1622.1L419.6 1619.8L419.8 1617.5L420.2 1615.2L420.7 1612.9L421.4 1610.6L422 1608.3L422.8 1606L423.4 1603.7L424.1 1601.4L424.8 1599L425.4 1596.7L425.9 1594.4L426.5 1592.1L427 1589.8L427.5 1587.5L427.9 1585.2L428.3 1582.9L430.9 1582.9L431.3 1585.2L431.7 1587.5L432.2 1589.8L432.7 1592.1L433.3 1594.4L433.8 1596.7L434.4 1599L435.1 1601.4L435.8 1603.7L436.4 1606L437.2 1608.3L437.8 1610.6L438.5 1612.9L439 1615.2L439.4 1617.5L439.6 1619.8L439.6 1622.1L439.5 1624.4L439.1 1626.7L438.5 1629L437.9 1631.3L437.2 1633.7L436.5 1636L435.8 1638.3L435.2 1640.6L434.7 1642.9L434.2 1645.2L433.8 1647.5L433.4 1649.8L433 1652.1L432.6 1654.4L432.2 1656.7L431.8 1659L431.5 1661.3L431.1 1663.6L430.8 1666L430.6 1668.3L430.5 1670.6L430.4 1672.9L430.3 1675.2L430.3 1677.5L430.2 1679.8L430.2 1682.1L430.2 1684.4L430.2 1686.7L430.1 1689L430.1 1691.3ZM449.2 1705.8L449 1703.7L448.8 1701.5L448.6 1699.3L448.4 1697.1L448.3 1694.9L448.2 1692.8L448.1 1690.6L448 1688.4L448 1686.2L447.9 1684.1L447.9 1681.9L447.9 1679.7L447.8 1677.5L447.7 1675.3L447.6 1673.2L447.4 1671L447.2 1668.8L446.8 1666.6L446.4 1664.5L445.9 1662.3L445.4 1660.1L444.7 1657.9L444 1655.7L443.3 1653.6L442.6 1651.4L442 1649.2L441.4 1647L441 1644.9L440.7 1642.7L440.6 1640.5L440.7 1638.3L440.9 1636.1L441.3 1634L441.8 1631.8L442.4 1629.6L443.1 1627.4L443.7 1625.3L444.4 1623.1L445 1620.9L445.5 1618.7L446 1616.5L446.5 1614.4L447 1612.2L447.5 1610L447.9 1607.8L448.4 1605.7L448.8 1603.5L452.6 1603.5L453 1605.7L453.4 1607.8L453.8 1610L454.3 1612.2L454.8 1614.4L455.3 1616.5L455.8 1618.7L456.4 1620.9L457 1623.1L457.6 1625.3L458.2 1627.4L458.9 1629.6L459.5 1631.8L460 1634L460.4 1636.1L460.6 1638.3L460.7 1640.5L460.6 1642.7L460.3 1644.9L459.9 1647L459.3 1649.2L458.7 1651.4L458 1653.6L457.3 1655.7L456.6 1657.9L456 1660.1L455.4 1662.3L454.9 1664.5L454.5 1666.6L454.2 1668.8L453.9 1671L453.7 1673.2L453.6 1675.3L453.5 1677.5L453.5 1679.7L453.4 1681.9L453.4 1684.1L453.3 1686.2L453.3 1688.4L453.2 1690.6L453.2 1692.8L453.1 1694.9L452.9 1697.1L452.8 1699.3L452.6 1701.5L452.4 1703.7L452.1 1705.8ZM471.2 1693.1L471.1 1690.7L471 1688.2L471 1685.7L470.9 1683.3L470.8 1680.8L470.7 1678.4L470.6 1675.9L470.4 1673.5L470.2 1671L469.9 1668.6L469.6 1666.1L469.3 1663.7L468.9 1661.2L468.6 1658.8L468.3 1656.3L467.9 1653.9L467.6 1651.4L467.3 1649L466.8 1646.5L466.4 1644.1L465.8 1641.6L465.1 1639.2L464.4 1636.7L463.7 1634.3L463 1631.8L462.5 1629.4L462 1626.9L461.7 1624.5L461.7 1622L461.8 1619.6L462.2 1617.1L462.7 1614.7L463.4 1612.2L464.1 1609.8L464.8 1607.3L465.5 1604.9L466.1 1602.4L466.6 1600L467.1 1597.5L467.6 1595.1L468.1 1592.6L468.5 1590.2L468.9 1587.7L469.3 1585.3L469.7 1582.8L470.1 1580.4L470.4 1577.9L473 1577.9L473.4 1580.4L473.7 1582.8L474.1 1585.3L474.5 1587.7L474.9 1590.2L475.4 1592.6L475.8 1595.1L476.3 1597.5L476.8 1600L477.4 1602.4L478 1604.9L478.7 1607.3L479.4 1609.8L480.1 1612.2L480.7 1614.7L481.3 1617.1L481.6 1619.6L481.8 1622L481.7 1624.5L481.4 1626.9L481 1629.4L480.4 1631.8L479.7 1634.3L479 1636.7L478.3 1639.2L477.7 1641.6L477.1 1644.1L476.6 1646.5L476.2 1649L475.8 1651.4L475.5 1653.9L475.2 1656.3L474.8 1658.8L474.5 1661.2L474.2 1663.7L473.8 1666.1L473.5 1668.6L473.3 1671L473 1673.5L472.9 1675.9L472.7 1678.4L472.6 1680.8L472.5 1683.3L472.5 1685.7L472.4 1688.2L472.3 1690.7L472.3 1693.1ZM491.8 1692.8L491.6 1690L491.4 1687.1L491.2 1684.3L491 1681.5L490.8 1678.7L490.5 1675.9L490.2 1673L489.9 1670.2L489.6 1667.4L489.3 1664.6L489 1661.7L488.8 1658.9L488.5 1656.1L488.2 1653.3L487.9 1650.5L487.5 1647.6L487.1 1644.8L486.6 1642L486.1 1639.2L485.5 1636.3L485 1633.5L484.4 1630.7L483.9 1627.9L483.5 1625L483.2 1622.2L483 1619.4L482.8 1616.6L482.7 1613.8L482.7 1610.9L482.8 1608.1L482.9 1605.3L483 1602.5L483.2 1599.6L483.6 1596.8L484 1594L484.6 1591.2L485.3 1588.4L486.1 1585.5L486.9 1582.7L487.8 1579.9L488.6 1577.1L489.3 1574.2L490 1571.4L490.5 1568.6L491 1565.8L491.3 1563L491.6 1560.1L493.9 1560.1L494.2 1563L494.6 1565.8L495 1568.6L495.6 1571.4L496.2 1574.2L497 1577.1L497.8 1579.9L498.6 1582.7L499.5 1585.5L500.3 1588.4L501 1591.2L501.5 1594L502 1596.8L502.3 1599.6L502.6 1602.5L502.7 1605.3L502.8 1608.1L502.8 1610.9L502.8 1613.8L502.7 1616.6L502.6 1619.4L502.4 1622.2L502.1 1625L501.6 1627.9L501.1 1630.7L500.6 1633.5L500 1636.3L499.4 1639.2L498.9 1642L498.4 1644.8L498 1647.6L497.7 1650.5L497.4 1653.3L497.1 1656.1L496.8 1658.9L496.5 1661.7L496.3 1664.6L496 1667.4L495.7 1670.2L495.4 1673L495.1 1675.9L494.8 1678.7L494.5 1681.5L494.3 1684.3L494.1 1687.1L493.9 1690L493.7 1692.8ZM513 1723.9L512.9 1721.1L512.7 1718.2L512.5 1715.4L512.4 1712.6L512.2 1709.8L512 1707L511.8 1704.2L511.6 1701.4L511.3 1698.6L511.1 1695.8L510.9 1693L510.8 1690.1L510.6 1687.3L510.4 1684.5L510.2 1681.7L510 1678.9L509.8 1676.1L509.4 1673.3L509 1670.5L508.5 1667.7L507.9 1664.9L507.3 1662L506.6 1659.2L505.9 1656.4L505.3 1653.6L504.8 1650.8L504.3 1648L504 1645.2L503.8 1642.4L503.8 1639.6L503.9 1636.7L504.1 1633.9L504.5 1631.1L505 1628.3L505.5 1625.5L506.2 1622.7L506.8 1619.9L507.5 1617.1L508.2 1614.3L508.9 1611.5L509.6 1608.6L510.2 1605.8L510.8 1603L511.3 1600.2L511.8 1597.4L512.2 1594.6L512.5 1591.8L515.1 1591.8L515.5 1594.6L515.9 1597.4L516.4 1600.2L516.9 1603L517.5 1605.8L518.1 1608.6L518.8 1611.5L519.5 1614.3L520.2 1617.1L520.9 1619.9L521.5 1622.7L522.1 1625.5L522.7 1628.3L523.2 1631.1L523.5 1633.9L523.8 1636.7L523.9 1639.6L523.9 1642.4L523.7 1645.2L523.4 1648L522.9 1650.8L522.4 1653.6L521.8 1656.4L521.1 1659.2L520.4 1662L519.8 1664.9L519.2 1667.7L518.7 1670.5L518.2 1673.3L517.9 1676.1L517.6 1678.9L517.4 1681.7L517.3 1684.5L517.1 1687.3L516.9 1690.1L516.7 1693L516.5 1695.8L516.3 1698.6L516.1 1701.4L515.9 1704.2L515.7 1707L515.5 1709.8L515.3 1712.6L515.1 1715.4L515 1718.2L514.8 1721.1L514.7 1723.9ZM534.1 1747.2L534 1743.8L533.8 1740.4L533.6 1737L533.4 1733.6L533.2 1730.2L532.9 1726.8L532.5 1723.4L532.2 1720L531.8 1716.6L531.4 1713.2L531 1709.8L530.7 1706.4L530.3 1703L529.9 1699.6L529.5 1696.2L529.1 1692.8L528.7 1689.4L528.2 1686L527.7 1682.6L527.2 1679.2L526.6 1675.8L526.1 1672.4L525.6 1669L525.2 1665.6L525 1662.2L524.9 1658.8L524.9 1655.4L525.2 1652L525.6 1648.6L526.2 1645.2L526.9 1641.8L527.6 1638.4L528.3 1635L529 1631.5L529.5 1628.1L530 1624.7L530.5 1621.3L530.9 1617.9L531.2 1614.5L531.6 1611.1L532 1607.7L532.3 1604.3L532.7 1600.9L533 1597.5L533.3 1594.1L533.5 1590.7L533.8 1587.3L536 1587.3L536.3 1590.7L536.5 1594.1L536.8 1597.5L537.1 1600.9L537.5 1604.3L537.8 1607.7L538.2 1611.1L538.6 1614.5L538.9 1617.9L539.3 1621.3L539.8 1624.7L540.3 1628.1L540.8 1631.5L541.5 1635L542.2 1638.4L542.9 1641.8L543.6 1645.2L544.2 1648.6L544.6 1652L544.9 1655.4L544.9 1658.8L544.8 1662.2L544.6 1665.6L544.2 1669L543.7 1672.4L543.2 1675.8L542.6 1679.2L542.1 1682.6L541.6 1686L541.1 1689.4L540.7 1692.8L540.3 1696.2L539.9 1699.6L539.5 1703L539.1 1706.4L538.8 1709.8L538.4 1713.2L538 1716.6L537.6 1720L537.3 1723.4L536.9 1726.8L536.6 1730.2L536.4 1733.6L536.2 1737L536 1740.4L535.8 1743.8L535.7 1747.2ZM555.1 1723.1L554.9 1719.8L554.7 1716.6L554.5 1713.4L554.2 1710.1L553.9 1706.9L553.6 1703.7L553.1 1700.5L552.7 1697.2L552.2 1694L551.6 1690.8L551.1 1687.5L550.6 1684.3L550 1681.1L549.5 1677.8L549 1674.6L548.5 1671.4L548 1668.1L547.5 1664.9L547.1 1661.7L546.7 1658.4L546.4 1655.2L546.1 1652L546 1648.7L545.9 1645.5L546 1642.3L546.1 1639L546.3 1635.8L546.6 1632.6L547 1629.3L547.5 1626.1L548 1622.9L548.5 1619.7L549 1616.4L549.5 1613.2L549.9 1610L550.4 1606.7L550.8 1603.5L551.3 1600.3L551.7 1597L552.2 1593.8L552.6 1590.6L553.1 1587.3L553.5 1584.1L553.9 1580.9L554.2 1577.6L554.5 1574.4L554.8 1571.2L557.2 1571.2L557.4 1574.4L557.7 1577.6L558.1 1580.9L558.4 1584.1L558.8 1587.3L559.3 1590.6L559.7 1593.8L560.2 1597L560.6 1600.3L561.1 1603.5L561.5 1606.7L562 1610L562.5 1613.2L562.9 1616.4L563.4 1619.7L563.9 1622.9L564.4 1626.1L564.9 1629.3L565.3 1632.6L565.6 1635.8L565.8 1639L566 1642.3L566 1645.5L566 1648.7L565.8 1652L565.5 1655.2L565.2 1658.4L564.8 1661.7L564.4 1664.9L563.9 1668.1L563.4 1671.4L562.9 1674.6L562.4 1677.8L561.9 1681.1L561.4 1684.3L560.8 1687.5L560.3 1690.8L559.8 1694L559.3 1697.2L558.8 1700.5L558.4 1703.7L558 1706.9L557.7 1710.1L557.4 1713.4L557.2 1716.6L557 1719.8L556.8 1723.1ZM575.4 1712.8L575 1709.5L574.6 1706.3L574.1 1703.1L573.7 1699.9L573.2 1696.7L572.7 1693.5L572.2 1690.3L571.8 1687L571.3 1683.8L570.8 1680.6L570.3 1677.4L569.8 1674.2L569.3 1671L568.7 1667.8L568.2 1664.5L567.8 1661.3L567.4 1658.1L567.2 1654.9L567 1651.7L567 1648.5L567 1645.3L567.2 1642L567.5 1638.8L567.9 1635.6L568.4 1632.4L568.9 1629.2L569.4 1626L570 1622.8L570.5 1619.6L571 1616.3L571.4 1613.1L571.8 1609.9L572.1 1606.7L572.4 1603.5L572.7 1600.3L573 1597.1L573.3 1593.8L573.6 1590.6L574 1587.4L574.3 1584.2L574.6 1581L574.9 1577.8L575.2 1574.6L575.4 1571.3L575.6 1568.1L575.8 1564.9L576 1561.7L578 1561.7L578.2 1564.9L578.4 1568.1L578.6 1571.3L578.9 1574.6L579.2 1577.8L579.4 1581L579.8 1584.2L580.1 1587.4L580.4 1590.6L580.7 1593.8L581 1597.1L581.3 1600.3L581.6 1603.5L581.9 1606.7L582.3 1609.9L582.6 1613.1L583.1 1616.3L583.5 1619.6L584.1 1622.8L584.6 1626L585.1 1629.2L585.7 1632.4L586.1 1635.6L586.5 1638.8L586.8 1642L587 1645.3L587.1 1648.5L587 1651.7L586.9 1654.9L586.6 1658.1L586.2 1661.3L585.8 1664.5L585.3 1667.8L584.8 1671L584.3 1674.2L583.8 1677.4L583.3 1680.6L582.8 1683.8L582.3 1687L581.8 1690.3L581.3 1693.5L580.9 1696.7L580.4 1699.9L579.9 1703.1L579.5 1706.3L579.1 1709.5L578.7 1712.8ZM597.4 1768L597.3 1764.1L597.1 1760.1L597 1756.2L596.8 1752.3L596.6 1748.3L596.3 1744.4L596 1740.5L595.6 1736.5L595.2 1732.6L594.7 1728.6L594.2 1724.7L593.8 1720.8L593.3 1716.8L592.9 1712.9L592.4 1709L591.9 1705L591.5 1701.1L590.9 1697.2L590.4 1693.2L589.8 1689.3L589.3 1685.4L588.8 1681.4L588.4 1677.5L588.1 1673.5L588 1669.6L588.2 1665.7L588.5 1661.7L589.1 1657.8L589.9 1653.9L590.7 1649.9L591.4 1646L592.2 1642.1L592.8 1638.1L593.4 1634.2L593.8 1630.3L594.2 1626.3L594.5 1622.4L594.9 1618.4L595.2 1614.5L595.5 1610.6L595.8 1606.6L596.1 1602.7L596.4 1598.8L596.6 1594.8L596.8 1590.9L597 1587L597.2 1583L599 1583L599.1 1587L599.3 1590.9L599.5 1594.8L599.8 1598.8L600 1602.7L600.3 1606.6L600.6 1610.6L601 1614.5L601.3 1618.4L601.6 1622.4L602 1626.3L602.4 1630.3L602.8 1634.2L603.3 1638.1L604 1642.1L604.7 1646L605.5 1649.9L606.3 1653.9L607 1657.8L607.6 1661.7L608 1665.7L608.1 1669.6L608 1673.5L607.8 1677.5L607.4 1681.4L606.9 1685.4L606.3 1689.3L605.8 1693.2L605.2 1697.2L604.7 1701.1L604.2 1705L603.8 1709L603.3 1712.9L602.9 1716.8L602.4 1720.8L601.9 1724.7L601.4 1728.6L601 1732.6L600.5 1736.5L600.2 1740.5L599.8 1744.4L599.6 1748.3L599.3 1752.3L599.2 1756.2L599 1760.1L598.9 1764.1L598.8 1768ZM617.8 1766.6L617.4 1762.7L617 1758.9L616.4 1755L615.8 1751.2L615.1 1747.3L614.3 1743.4L613.5 1739.6L612.7 1735.7L612 1731.9L611.2 1728L610.6 1724.1L610.1 1720.3L609.7 1716.4L609.4 1712.6L609.2 1708.7L609.1 1704.9L609.1 1701L609.2 1697.1L609.3 1693.3L609.5 1689.4L609.8 1685.6L610.2 1681.7L610.6 1677.9L611.1 1674L611.7 1670.1L612.2 1666.3L612.8 1662.4L613.2 1658.6L613.7 1654.7L614.1 1650.8L614.4 1647L614.7 1643.1L615 1639.3L615.3 1635.4L615.6 1631.6L615.9 1627.7L616.2 1623.8L616.5 1620L616.9 1616.1L617.1 1612.3L617.4 1608.4L617.6 1604.6L617.8 1600.7L618 1596.8L618.1 1593L618.2 1589.1L618.4 1585.3L619.9 1585.3L620.1 1589.1L620.2 1593L620.3 1596.8L620.5 1600.7L620.7 1604.6L620.9 1608.4L621.1 1612.3L621.4 1616.1L621.7 1620L622.1 1623.8L622.4 1627.7L622.7 1631.6L623 1635.4L623.3 1639.3L623.6 1643.1L623.9 1647L624.2 1650.8L624.6 1654.7L625 1658.6L625.5 1662.4L626 1666.3L626.6 1670.1L627.1 1674L627.6 1677.9L628.1 1681.7L628.5 1685.6L628.8 1689.4L629 1693.3L629.1 1697.1L629.2 1701L629.2 1704.9L629.1 1708.7L628.9 1712.6L628.6 1716.4L628.2 1720.3L627.7 1724.1L627 1728L626.3 1731.9L625.6 1735.7L624.7 1739.6L623.9 1743.4L623.2 1747.3L622.5 1751.2L621.8 1755L621.3 1758.9L620.9 1762.7L620.5 1766.6ZM638.1 1753.2L637.7 1749.4L637.2 1745.5L636.7 1741.7L636.2 1737.9L635.7 1734.1L635.2 1730.3L634.7 1726.4L634.3 1722.6L633.9 1718.8L633.5 1715L633.2 1711.2L633 1707.3L632.7 1703.5L632.5 1699.7L632.3 1695.9L632.1 1692.1L631.8 1688.2L631.6 1684.4L631.4 1680.6L631.2 1676.8L631 1673L630.8 1669.2L630.5 1665.3L630.4 1661.5L630.2 1657.7L630.2 1653.9L630.2 1650.1L630.2 1646.2L630.4 1642.4L630.6 1638.6L631 1634.8L631.3 1631L631.8 1627.1L632.2 1623.3L632.7 1619.5L633.3 1615.7L633.8 1611.9L634.4 1608L634.9 1604.2L635.5 1600.4L636 1596.6L636.6 1592.8L637.1 1589L637.5 1585.1L638 1581.3L638.3 1577.5L638.7 1573.7L641.7 1573.7L642.1 1577.5L642.4 1581.3L642.9 1585.1L643.3 1589L643.8 1592.8L644.4 1596.6L644.9 1600.4L645.5 1604.2L646 1608L646.6 1611.9L647.1 1615.7L647.7 1619.5L648.2 1623.3L648.6 1627.1L649.1 1631L649.4 1634.8L649.8 1638.6L650 1642.4L650.2 1646.2L650.2 1650.1L650.2 1653.9L650.2 1657.7L650 1661.5L649.9 1665.3L649.6 1669.2L649.4 1673L649.2 1676.8L649 1680.6L648.8 1684.4L648.6 1688.2L648.3 1692.1L648.1 1695.9L647.9 1699.7L647.7 1703.5L647.4 1707.3L647.2 1711.2L646.9 1715L646.5 1718.8L646.1 1722.6L645.7 1726.4L645.2 1730.3L644.7 1734.1L644.2 1737.9L643.7 1741.7L643.2 1745.5L642.7 1749.4L642.3 1753.2ZM659.7 1742.7L659.4 1739L659 1735.3L658.5 1731.6L658 1727.9L657.5 1724.2L657 1720.6L656.4 1716.9L655.9 1713.2L655.4 1709.5L654.9 1705.8L654.5 1702.2L654.1 1698.5L653.8 1694.8L653.6 1691.1L653.4 1687.4L653.1 1683.7L652.9 1680.1L652.7 1676.4L652.5 1672.7L652.3 1669L652.1 1665.3L651.8 1661.7L651.6 1658L651.4 1654.3L651.3 1650.6L651.2 1646.9L651.2 1643.2L651.4 1639.6L651.6 1635.9L652 1632.2L652.4 1628.5L652.8 1624.8L653.3 1621.2L653.8 1617.5L654.4 1613.8L654.9 1610.1L655.5 1606.4L656 1602.7L656.6 1599.1L657.1 1595.4L657.7 1591.7L658.2 1588L658.6 1584.3L659 1580.7L659.4 1577L659.7 1573.3L660 1569.6L662.6 1569.6L662.8 1573.3L663.2 1577L663.5 1580.7L663.9 1584.3L664.4 1588L664.9 1591.7L665.4 1595.4L665.9 1599.1L666.5 1602.7L667 1606.4L667.6 1610.1L668.1 1613.8L668.7 1617.5L669.2 1621.2L669.7 1624.8L670.2 1628.5L670.6 1632.2L670.9 1635.9L671.1 1639.6L671.3 1643.2L671.3 1646.9L671.3 1650.6L671.1 1654.3L670.9 1658L670.7 1661.7L670.5 1665.3L670.2 1669L670 1672.7L669.8 1676.4L669.6 1680.1L669.4 1683.7L669.2 1687.4L668.9 1691.1L668.7 1694.8L668.4 1698.5L668 1702.2L667.6 1705.8L667.2 1709.5L666.7 1713.2L666.1 1716.9L665.6 1720.6L665 1724.2L664.5 1727.9L664 1731.6L663.6 1735.3L663.2 1739L662.8 1742.7ZM681.7 1788.3L681.6 1783.7L681.6 1779.2L681.5 1774.6L681.4 1770L681.2 1765.5L681.1 1760.9L680.8 1756.3L680.5 1751.8L680 1747.2L679.5 1742.6L679 1738.1L678.4 1733.5L677.8 1728.9L677.2 1724.4L676.6 1719.8L676 1715.2L675.4 1710.7L674.7 1706.1L674.1 1701.5L673.5 1697L673 1692.4L672.6 1687.8L672.3 1683.3L672.3 1678.7L672.4 1674.1L672.7 1669.6L673.2 1665L673.8 1660.4L674.4 1655.8L675.1 1651.3L675.8 1646.7L676.5 1642.1L677.1 1637.6L677.7 1633L678.3 1628.4L678.9 1623.9L679.4 1619.3L679.9 1614.7L680.4 1610.2L680.7 1605.6L681 1601L681.2 1596.5L681.3 1591.9L681.4 1587.3L681.5 1582.8L681.6 1578.2L681.7 1573.6L682.9 1573.6L683 1578.2L683.1 1582.8L683.2 1587.3L683.3 1591.9L683.4 1596.5L683.6 1601L683.9 1605.6L684.3 1610.2L684.7 1614.7L685.2 1619.3L685.8 1623.9L686.3 1628.4L686.9 1633L687.5 1637.6L688.2 1642.1L688.8 1646.7L689.5 1651.3L690.2 1655.8L690.9 1660.4L691.5 1665L691.9 1669.6L692.2 1674.1L692.4 1678.7L692.3 1683.3L692.1 1687.8L691.7 1692.4L691.2 1697L690.6 1701.5L689.9 1706.1L689.3 1710.7L688.6 1715.2L688 1719.8L687.4 1724.4L686.8 1728.9L686.2 1733.5L685.6 1738.1L685.1 1742.6L684.6 1747.2L684.2 1751.8L683.8 1756.3L683.6 1760.9L683.4 1765.5L683.3 1770L683.2 1774.6L683.1 1779.2L683 1783.7L682.9 1788.3ZM702.3 1804.7L702.1 1799.9L701.9 1795.2L701.6 1790.4L701.4 1785.6L701.2 1780.9L701 1776.1L700.8 1771.4L700.6 1766.6L700.5 1761.9L700.3 1757.1L700.1 1752.4L699.9 1747.6L699.7 1742.9L699.3 1738.1L698.8 1733.4L698.2 1728.6L697.5 1723.9L696.6 1719.1L695.8 1714.3L695 1709.6L694.3 1704.8L693.8 1700.1L693.4 1695.3L693.3 1690.6L693.4 1685.8L693.7 1681.1L694.2 1676.3L694.8 1671.6L695.5 1666.8L696.3 1662.1L697.2 1657.3L698.1 1652.6L699 1647.8L699.9 1643.1L700.6 1638.3L701.2 1633.5L701.7 1628.8L702.1 1624L702.4 1619.3L702.5 1614.5L702.6 1609.8L702.7 1605L702.7 1600.3L702.8 1595.5L702.8 1590.8L702.9 1586L702.9 1581.3L703.8 1581.3L703.9 1586L703.9 1590.8L704 1595.5L704 1600.3L704.1 1605L704.1 1609.8L704.2 1614.5L704.4 1619.3L704.7 1624L705 1628.8L705.5 1633.5L706.1 1638.3L706.9 1643.1L707.7 1647.8L708.6 1652.6L709.5 1657.3L710.4 1662.1L711.2 1666.8L712 1671.6L712.6 1676.3L713 1681.1L713.3 1685.8L713.4 1690.6L713.3 1695.3L713 1700.1L712.5 1704.8L711.8 1709.6L711 1714.3L710.1 1719.1L709.3 1723.9L708.6 1728.6L707.9 1733.4L707.4 1738.1L707.1 1742.9L706.8 1747.6L706.6 1752.4L706.5 1757.1L706.3 1761.9L706.2 1766.6L706 1771.4L705.8 1776.1L705.6 1780.9L705.3 1785.6L705.1 1790.4L704.9 1795.2L704.6 1799.9L704.4 1804.7ZM723.4 1790.2L723.2 1785.6L723 1781L722.8 1776.4L722.7 1771.8L722.5 1767.1L722.4 1762.5L722.4 1757.9L722.3 1753.3L722.2 1748.6L722.2 1744L722.2 1739.4L722.1 1734.8L722.1 1730.1L722 1725.5L721.9 1720.9L721.8 1716.3L721.6 1711.7L721.2 1707L720.8 1702.4L720.2 1697.8L719.5 1693.2L718.7 1688.5L717.8 1683.9L716.9 1679.3L716 1674.7L715.3 1670L714.8 1665.4L714.5 1660.8L714.4 1656.2L714.5 1651.6L714.9 1646.9L715.4 1642.3L716 1637.7L716.7 1633.1L717.4 1628.4L718.1 1623.8L718.8 1619.2L719.5 1614.6L720.2 1609.9L720.8 1605.3L721.4 1600.7L721.9 1596.1L722.3 1591.5L722.7 1586.8L723 1582.2L723.3 1577.6L723.5 1573L725.4 1573L725.6 1577.6L725.9 1582.2L726.2 1586.8L726.6 1591.5L727 1596.1L727.5 1600.7L728.1 1605.3L728.7 1609.9L729.3 1614.6L730 1619.2L730.8 1623.8L731.5 1628.4L732.2 1633.1L732.9 1637.7L733.5 1642.3L734 1646.9L734.3 1651.6L734.5 1656.2L734.4 1660.8L734.1 1665.4L733.6 1670L732.9 1674.7L732 1679.3L731.1 1683.9L730.2 1688.5L729.4 1693.2L728.7 1697.8L728.1 1702.4L727.6 1707L727.3 1711.7L727.1 1716.3L726.9 1720.9L726.9 1725.5L726.8 1730.1L726.8 1734.8L726.7 1739.4L726.7 1744L726.6 1748.6L726.6 1753.3L726.5 1757.9L726.4 1762.5L726.3 1767.1L726.2 1771.8L726.1 1776.4L725.9 1781L725.7 1785.6L725.5 1790.2ZM744.6 1775.7L744.4 1771.4L744.3 1767.1L744.1 1762.8L744 1758.5L743.8 1754.2L743.6 1749.9L743.5 1745.6L743.3 1741.3L743.2 1737L743.1 1732.7L742.9 1728.4L742.8 1724.1L742.8 1719.8L742.7 1715.4L742.6 1711.1L742.5 1706.8L742.3 1702.5L742.1 1698.2L741.8 1693.9L741.5 1689.6L741 1685.3L740.4 1681L739.7 1676.7L739 1672.4L738.3 1668.1L737.5 1663.8L736.9 1659.5L736.3 1655.2L735.9 1650.9L735.6 1646.6L735.5 1642.3L735.5 1638L735.6 1633.7L735.8 1629.4L736.1 1625.1L736.5 1620.8L737 1616.5L737.6 1612.2L738.2 1607.9L738.9 1603.6L739.6 1599.3L740.4 1595L741.1 1590.7L741.8 1586.4L742.5 1582.1L743 1577.8L743.6 1573.5L747.4 1573.5L748 1577.8L748.5 1582.1L749.2 1586.4L749.9 1590.7L750.6 1595L751.4 1599.3L752.1 1603.6L752.8 1607.9L753.4 1612.2L754 1616.5L754.5 1620.8L754.9 1625.1L755.2 1629.4L755.4 1633.7L755.5 1638L755.5 1642.3L755.4 1646.6L755.1 1650.9L754.7 1655.2L754.1 1659.5L753.5 1663.8L752.7 1668.1L752 1672.4L751.3 1676.7L750.6 1681L750 1685.3L749.5 1689.6L749.2 1693.9L748.9 1698.2L748.7 1702.5L748.5 1706.8L748.4 1711.1L748.3 1715.4L748.2 1719.8L748.2 1724.1L748.1 1728.4L747.9 1732.7L747.8 1737L747.7 1741.3L747.5 1745.6L747.4 1749.9L747.2 1754.2L747 1758.5L746.9 1762.8L746.7 1767.1L746.6 1771.4L746.4 1775.7ZM765.6 1784.2L765.4 1780L765.2 1775.9L765.1 1771.7L764.9 1767.6L764.7 1763.4L764.5 1759.3L764.4 1755.1L764.2 1751L764 1746.8L763.9 1742.7L763.8 1738.5L763.7 1734.4L763.6 1730.2L763.5 1726.1L763.3 1721.9L763.2 1717.8L763 1713.6L762.7 1709.5L762.3 1705.3L761.8 1701.2L761.2 1697.1L760.5 1692.9L759.8 1688.8L759.1 1684.6L758.4 1680.5L757.7 1676.3L757.2 1672.2L756.8 1668L756.6 1663.9L756.5 1659.7L756.6 1655.6L756.8 1651.4L757.2 1647.3L757.7 1643.1L758.2 1639L758.8 1634.8L759.4 1630.7L760 1626.5L760.7 1622.4L761.3 1618.2L761.9 1614.1L762.5 1609.9L763.1 1605.8L763.6 1601.7L764.1 1597.5L764.5 1593.4L764.9 1589.2L768.2 1589.2L768.6 1593.4L769 1597.5L769.5 1601.7L770.1 1605.8L770.6 1609.9L771.2 1614.1L771.8 1618.2L772.4 1622.4L773.1 1626.5L773.7 1630.7L774.3 1634.8L774.9 1639L775.5 1643.1L775.9 1647.3L776.3 1651.4L776.5 1655.6L776.6 1659.7L776.5 1663.9L776.3 1668L775.9 1672.2L775.4 1676.3L774.7 1680.5L774 1684.6L773.3 1688.8L772.6 1692.9L771.9 1697.1L771.4 1701.2L770.9 1705.3L770.5 1709.5L770.2 1713.6L769.9 1717.8L769.8 1721.9L769.6 1726.1L769.5 1730.2L769.4 1734.4L769.3 1738.5L769.2 1742.7L769.1 1746.8L768.9 1751L768.8 1755.1L768.6 1759.3L768.4 1763.4L768.2 1767.6L768.1 1771.7L767.9 1775.9L767.7 1780L767.5 1784.2ZM786.7 1766.9L786.6 1763.6L786.4 1760.3L786.3 1757.1L786.1 1753.8L785.8 1750.5L785.6 1747.2L785.3 1743.9L785 1740.6L784.6 1737.3L784.2 1734.1L783.8 1730.8L783.4 1727.5L783 1724.2L782.6 1720.9L782.2 1717.6L781.7 1714.3L781.3 1711L780.8 1707.8L780.3 1704.5L779.7 1701.2L779.2 1697.9L778.7 1694.6L778.3 1691.3L777.9 1688L777.7 1684.8L777.6 1681.5L777.6 1678.2L777.6 1674.9L777.8 1671.6L778 1668.3L778.2 1665L778.4 1661.7L778.6 1658.5L778.8 1655.2L779.1 1651.9L779.3 1648.6L779.6 1645.3L779.9 1642L780.3 1638.7L780.7 1635.5L781.2 1632.2L781.7 1628.9L782.3 1625.6L782.9 1622.3L783.5 1619L784.2 1615.7L784.8 1612.4L790.4 1612.4L791.1 1615.7L791.7 1619L792.3 1622.3L792.9 1625.6L793.5 1628.9L794.1 1632.2L794.5 1635.5L795 1638.7L795.3 1642L795.6 1645.3L795.9 1648.6L796.2 1651.9L796.4 1655.2L796.6 1658.5L796.9 1661.7L797.1 1665L797.3 1668.3L797.5 1671.6L797.6 1674.9L797.7 1678.2L797.7 1681.5L797.5 1684.8L797.3 1688L797 1691.3L796.5 1694.6L796.1 1697.9L795.5 1701.2L795 1704.5L794.5 1707.8L794 1711L793.5 1714.3L793.1 1717.6L792.7 1720.9L792.3 1724.2L791.9 1727.5L791.4 1730.8L791 1734.1L790.7 1737.3L790.3 1740.6L789.9 1743.9L789.7 1747.2L789.4 1750.5L789.2 1753.8L789 1757.1L788.8 1760.3L788.6 1763.6L788.5 1766.9ZM808 1754.4L807.9 1750.7L807.8 1747L807.6 1743.3L807.5 1739.6L807.4 1735.9L807.3 1732.2L807.1 1728.5L807 1724.8L806.8 1721.1L806.7 1717.4L806.5 1713.7L806.4 1710L806.3 1706.3L806.2 1702.6L806.1 1698.9L806 1695.2L805.9 1691.5L805.8 1687.8L805.6 1684.1L805.4 1680.5L805 1676.8L804.6 1673.1L804 1669.4L803.3 1665.7L802.6 1662L801.8 1658.3L801 1654.6L800.3 1650.9L799.6 1647.2L799.1 1643.5L798.8 1639.8L798.6 1636.1L798.7 1632.4L798.8 1628.7L799.2 1625L799.7 1621.3L800.3 1617.6L801 1613.9L801.7 1610.3L802.4 1606.6L803.2 1602.9L804 1599.2L804.7 1595.5L805.3 1591.8L806 1588.1L806.5 1584.4L807 1580.7L810.4 1580.7L810.9 1584.4L811.4 1588.1L812 1591.8L812.7 1595.5L813.4 1599.2L814.2 1602.9L814.9 1606.6L815.7 1610.3L816.4 1613.9L817.1 1617.6L817.7 1621.3L818.2 1625L818.5 1628.7L818.7 1632.4L818.7 1636.1L818.6 1639.8L818.2 1643.5L817.7 1647.2L817.1 1650.9L816.3 1654.6L815.5 1658.3L814.8 1662L814 1665.7L813.3 1669.4L812.8 1673.1L812.3 1676.8L812 1680.5L811.7 1684.1L811.6 1687.8L811.4 1691.5L811.4 1695.2L811.3 1698.9L811.2 1702.6L811.1 1706.3L811 1710L810.8 1713.7L810.7 1717.4L810.5 1721.1L810.4 1724.8L810.2 1728.5L810.1 1732.2L810 1735.9L809.8 1739.6L809.7 1743.3L809.6 1747L809.5 1750.7L809.4 1754.4ZM829.3 1797.5L829.3 1792.8L829.2 1788.2L829.2 1783.6L829.2 1778.9L829.1 1774.3L829.1 1769.6L829.1 1765L829 1760.4L829 1755.7L828.9 1751.1L828.8 1746.5L828.6 1741.8L828.5 1737.2L828.3 1732.5L828.1 1727.9L828 1723.3L827.8 1718.6L827.7 1714L827.6 1709.4L827.5 1704.7L827.4 1700.1L827.3 1695.4L827.2 1690.8L827.1 1686.2L827 1681.5L826.7 1676.9L826.4 1672.3L825.9 1667.6L825.4 1663L824.8 1658.3L824.1 1653.7L823.3 1649.1L822.5 1644.4L821.7 1639.8L821 1635.2L820.4 1630.5L820 1625.9L819.7 1621.2L819.7 1616.6L819.9 1612L820.3 1607.3L821 1602.7L821.8 1598.1L822.8 1593.4L823.8 1588.8L824.8 1584.1L825.8 1579.5L833.7 1579.5L834.7 1584.1L835.7 1588.8L836.7 1593.4L837.7 1598.1L838.5 1602.7L839.1 1607.3L839.6 1612L839.8 1616.6L839.8 1621.2L839.5 1625.9L839 1630.5L838.4 1635.2L837.7 1639.8L837 1644.4L836.2 1649.1L835.4 1653.7L834.7 1658.3L834.1 1663L833.5 1667.6L833.1 1672.3L832.8 1676.9L832.5 1681.5L832.4 1686.2L832.2 1690.8L832.1 1695.4L832.1 1700.1L832 1704.7L831.9 1709.4L831.8 1714L831.6 1718.6L831.5 1723.3L831.3 1727.9L831.2 1732.5L831 1737.2L830.8 1741.8L830.7 1746.5L830.6 1751.1L830.5 1755.7L830.5 1760.4L830.4 1765L830.4 1769.6L830.3 1774.3L830.3 1778.9L830.3 1783.6L830.3 1788.2L830.2 1792.8L830.2 1797.5ZM850.4 1857.6L850.4 1852.1L850.3 1846.6L850.3 1841.1L850.3 1835.6L850.2 1830.1L850.2 1824.6L850.2 1819.1L850.1 1813.6L850.1 1808.1L850 1802.6L849.9 1797.1L849.8 1791.6L849.7 1786.1L849.5 1780.6L849.4 1775.1L849.2 1769.6L849.1 1764.1L848.9 1758.6L848.8 1753.1L848.7 1747.6L848.6 1742.1L848.6 1736.6L848.5 1731.1L848.4 1725.6L848.3 1720.1L848.1 1714.6L847.8 1709.1L847.4 1703.6L846.9 1698.1L846.3 1692.6L845.6 1687.1L844.9 1681.6L844.1 1676L843.2 1670.5L842.5 1665L841.8 1659.5L841.3 1654L840.9 1648.5L840.8 1643L840.8 1637.5L841.2 1632L841.7 1626.5L842.5 1621L843.4 1615.5L844.5 1610L845.5 1604.5L846.6 1599L855 1599L856.1 1604.5L857.1 1610L858.2 1615.5L859.1 1621L859.9 1626.5L860.4 1632L860.8 1637.5L860.8 1643L860.7 1648.5L860.3 1654L859.8 1659.5L859.1 1665L858.4 1670.5L857.5 1676L856.7 1681.6L856 1687.1L855.3 1692.6L854.7 1698.1L854.2 1703.6L853.8 1709.1L853.5 1714.6L853.3 1720.1L853.2 1725.6L853.1 1731.1L853 1736.6L853 1742.1L852.9 1747.6L852.8 1753.1L852.7 1758.6L852.5 1764.1L852.4 1769.6L852.2 1775.1L852.1 1780.6L851.9 1786.1L851.8 1791.6L851.7 1797.1L851.6 1802.6L851.5 1808.1L851.5 1813.6L851.4 1819.1L851.4 1824.6L851.4 1830.1L851.3 1835.6L851.3 1841.1L851.3 1846.6L851.2 1852.1L851.2 1857.6ZM871 1863.4L870.9 1858.1L870.7 1852.9L870.6 1847.6L870.5 1842.4L870.4 1837.2L870.2 1831.9L870.1 1826.7L870 1821.4L869.9 1816.2L869.8 1810.9L869.8 1805.7L869.7 1800.5L869.6 1795.2L869.6 1790L869.6 1784.7L869.5 1779.5L869.5 1774.2L869.4 1769L869.4 1763.7L869.3 1758.5L869.1 1753.3L869 1748L868.7 1742.8L868.5 1737.5L868.1 1732.3L867.7 1727L867.3 1721.8L866.8 1716.6L866.2 1711.3L865.6 1706.1L865 1700.8L864.4 1695.6L863.8 1690.3L863.2 1685.1L862.7 1679.9L862.2 1674.6L861.9 1669.4L861.8 1664.1L861.9 1658.9L862.1 1653.6L862.5 1648.4L863.1 1643.1L863.9 1637.9L864.7 1632.7L865.6 1627.4L866.6 1622.2L867.5 1616.9L876.3 1616.9L877.2 1622.2L878.1 1627.4L879 1632.7L879.8 1637.9L880.6 1643.1L881.2 1648.4L881.6 1653.6L881.9 1658.9L881.9 1664.1L881.8 1669.4L881.5 1674.6L881.1 1679.9L880.5 1685.1L879.9 1690.3L879.3 1695.6L878.7 1700.8L878.1 1706.1L877.5 1711.3L876.9 1716.6L876.4 1721.8L876 1727L875.6 1732.3L875.2 1737.5L875 1742.8L874.7 1748L874.6 1753.3L874.5 1758.5L874.4 1763.7L874.3 1769L874.2 1774.2L874.2 1779.5L874.2 1784.7L874.1 1790L874.1 1795.2L874 1800.5L874 1805.7L873.9 1810.9L873.8 1816.2L873.7 1821.4L873.6 1826.7L873.5 1831.9L873.4 1837.2L873.2 1842.4L873.1 1847.6L873 1852.9L872.8 1858.1L872.7 1863.4ZM891.8 1864L891.6 1857.9L891.4 1851.7L891.2 1845.5L891.1 1839.4L890.9 1833.2L890.8 1827L890.7 1820.9L890.6 1814.7L890.5 1808.6L890.4 1802.4L890.4 1796.2L890.3 1790.1L890.3 1783.9L890.2 1777.8L890.2 1771.6L890.1 1765.4L890 1759.3L889.9 1753.1L889.7 1746.9L889.6 1740.8L889.3 1734.6L889 1728.5L888.7 1722.3L888.3 1716.1L888 1710L887.5 1703.8L887.1 1697.6L886.6 1691.5L886 1685.3L885.5 1679.2L884.9 1673L884.3 1666.8L883.8 1660.7L883.3 1654.5L883 1648.3L882.9 1642.2L882.9 1636L883.2 1629.9L883.6 1623.7L884.3 1617.5L885 1611.4L885.9 1605.2L886.9 1599L887.8 1592.9L888.7 1586.7L889.5 1580.6L890.3 1574.4L895.6 1574.4L896.3 1580.6L897.1 1586.7L898 1592.9L899 1599L899.9 1605.2L900.8 1611.4L901.6 1617.5L902.2 1623.7L902.7 1629.9L902.9 1636L903 1642.2L902.8 1648.3L902.5 1654.5L902.1 1660.7L901.5 1666.8L901 1673L900.4 1679.2L899.8 1685.3L899.3 1691.5L898.8 1697.6L898.3 1703.8L897.9 1710L897.5 1716.1L897.1 1722.3L896.8 1728.5L896.5 1734.6L896.3 1740.8L896.1 1746.9L895.9 1753.1L895.8 1759.3L895.7 1765.4L895.7 1771.6L895.6 1777.8L895.6 1783.9L895.5 1790.1L895.5 1796.2L895.4 1802.4L895.3 1808.6L895.3 1814.7L895.2 1820.9L895 1827L894.9 1833.2L894.8 1839.4L894.6 1845.5L894.4 1851.7L894.2 1857.9L894.1 1864ZM911.5 1868.3L911.3 1862.3L911.1 1856.3L910.9 1850.3L910.8 1844.3L910.7 1838.2L910.7 1832.2L910.6 1826.2L910.6 1820.2L910.6 1814.2L910.6 1808.2L910.6 1802.2L910.5 1796.2L910.5 1790.2L910.4 1784.1L910.3 1778.1L910.2 1772.1L910.1 1766.1L910 1760.1L909.9 1754.1L909.7 1748.1L909.6 1742.1L909.4 1736.1L909.3 1730L909.1 1724L908.9 1718L908.6 1712L908.3 1706L908 1700L907.7 1694L907.2 1688L906.8 1682L906.3 1675.9L905.8 1669.9L905.3 1663.9L904.8 1657.9L904.4 1651.9L904.1 1645.9L904 1639.9L903.9 1633.9L904.1 1627.9L904.4 1621.8L904.8 1615.8L905.4 1609.8L906.2 1603.8L907 1597.8L907.8 1591.8L908.7 1585.8L919.3 1585.8L920.1 1591.8L921 1597.8L921.8 1603.8L922.5 1609.8L923.1 1615.8L923.6 1621.8L923.9 1627.9L924 1633.9L924 1639.9L923.8 1645.9L923.5 1651.9L923.1 1657.9L922.7 1663.9L922.2 1669.9L921.7 1675.9L921.2 1682L920.7 1688L920.3 1694L919.9 1700L919.6 1706L919.3 1712L919.1 1718L918.9 1724L918.7 1730L918.5 1736.1L918.4 1742.1L918.2 1748.1L918.1 1754.1L917.9 1760.1L917.8 1766.1L917.7 1772.1L917.6 1778.1L917.5 1784.1L917.5 1790.2L917.4 1796.2L917.4 1802.2L917.4 1808.2L917.4 1814.2L917.3 1820.2L917.3 1826.2L917.3 1832.2L917.2 1838.2L917.1 1844.3L917 1850.3L916.9 1856.3L916.7 1862.3L916.5 1868.3ZM930.5 1869L930.1 1863.4L929.7 1857.9L929.4 1852.3L929.1 1846.7L928.9 1841.1L928.8 1835.6L928.7 1830L928.6 1824.4L928.5 1818.9L928.5 1813.3L928.5 1807.7L928.4 1802.2L928.4 1796.6L928.4 1791L928.4 1785.4L928.3 1779.9L928.3 1774.3L928.2 1768.7L928.1 1763.2L928 1757.6L927.9 1752L927.7 1746.5L927.5 1740.9L927.3 1735.3L927.1 1729.7L926.9 1724.2L926.6 1718.6L926.4 1713L926.1 1707.5L925.8 1701.9L925.6 1696.3L925.4 1690.8L925.2 1685.2L925.1 1679.6L925 1674L925 1668.5L925.1 1662.9L925.2 1657.3L925.5 1651.8L925.9 1646.2L926.4 1640.6L926.9 1635.1L927.6 1629.5L928.3 1623.9L929 1618.3L929.8 1612.8L930.5 1607.2L939.6 1607.2L940.3 1612.8L941.1 1618.3L941.8 1623.9L942.5 1629.5L943.1 1635.1L943.7 1640.6L944.2 1646.2L944.6 1651.8L944.8 1657.3L945 1662.9L945.1 1668.5L945.1 1674L945 1679.6L944.9 1685.2L944.7 1690.8L944.5 1696.3L944.2 1701.9L944 1707.5L943.7 1713L943.5 1718.6L943.2 1724.2L943 1729.7L942.7 1735.3L942.5 1740.9L942.4 1746.5L942.2 1752L942.1 1757.6L942 1763.2L941.9 1768.7L941.8 1774.3L941.8 1779.9L941.7 1785.4L941.7 1791L941.7 1796.6L941.6 1802.2L941.6 1807.7L941.6 1813.3L941.5 1818.9L941.5 1824.4L941.4 1830L941.3 1835.6L941.2 1841.1L941 1846.7L940.7 1852.3L940.4 1857.9L940 1863.4L939.6 1869ZM947.8 1869L947.2 1863.6L946.7 1858.2L946.4 1852.8L946.2 1847.5L946.2 1842.1L946.3 1836.7L946.5 1831.3L946.8 1825.9L947.1 1820.5L947.4 1815.1L947.6 1809.8L947.9 1804.4L948 1799L948.1 1793.6L948.2 1788.2L948.1 1782.8L948 1777.5L947.8 1772.1L947.6 1766.7L947.3 1761.3L947.1 1755.9L946.8 1750.5L946.6 1745.1L946.4 1739.8L946.2 1734.4L946.1 1729L946.1 1723.6L946.1 1718.2L946.2 1712.8L946.3 1707.4L946.5 1702.1L946.8 1696.7L947 1691.3L947.3 1685.9L947.6 1680.5L948 1675.1L948.3 1669.8L948.6 1664.4L949 1659L949.4 1653.6L949.8 1648.2L950.2 1642.8L950.7 1637.4L951.1 1632.1L951.6 1626.7L952.1 1621.3L952.6 1615.9L959.6 1615.9L960.1 1621.3L960.6 1626.7L961.1 1632.1L961.5 1637.4L962 1642.8L962.4 1648.2L962.8 1653.6L963.2 1659L963.6 1664.4L963.9 1669.8L964.2 1675.1L964.6 1680.5L964.9 1685.9L965.2 1691.3L965.4 1696.7L965.7 1702.1L965.9 1707.4L966 1712.8L966.1 1718.2L966.1 1723.6L966.1 1729L966 1734.4L965.8 1739.8L965.6 1745.1L965.4 1750.5L965.1 1755.9L964.9 1761.3L964.6 1766.7L964.4 1772.1L964.2 1777.5L964.1 1782.8L964 1788.2L964.1 1793.6L964.2 1799L964.3 1804.4L964.6 1809.8L964.8 1815.1L965.1 1820.5L965.4 1825.9L965.7 1831.3L965.9 1836.7L966 1842.1L966 1847.5L965.8 1852.8L965.5 1858.2L965 1863.6L964.4 1869Z" fill="#add8e6" stroke="#000" stroke-width="1.3" stroke-linejoin="round"/>
<path d="M129.7 1522.5H139.8M129.7 1548.7H139.8M134.8 1548.7V1522.5M150.8 1508.3H160.8M150.8 1527.5H160.8M155.8 1527.5V1508.3M171.9 1551.8H181.9M171.9 1630.7H181.9M176.9 1630.7V1551.8M192.9 1599.8H203M192.9 1674.9H203M197.9 1674.9V1599.8M214 1607H224M214 1670.2H224M219 1670.2V1607M235 1599.8H245.1M235 1650.3H245.1M240.1 1650.3V1599.8M256.1 1611.8H266.1M256.1 1670.8H266.1M261.1 1670.8V1611.8M277.2 1644.9H287.2M277.2 1703.9H287.2M282.2 1703.9V1644.9M298.2 1597.6H308.3M298.2 1648.1H308.3M303.2 1648.1V1597.6M319.3 1589.7H329.3M319.3 1631.4H329.3M324.3 1631.4V1589.7M340.3 1597.6H350.4M340.3 1649H350.4M345.4 1649V1597.6M361.4 1594.4H371.4M361.4 1672.7H371.4M366.4 1672.7V1594.4M382.5 1575.5H392.5M382.5 1691.6H392.5M387.5 1691.6V1575.5M403.5 1572.6H413.6M403.5 1679.9H413.6M408.5 1679.9V1572.6M424.6 1581.2H434.6M424.6 1696H434.6M429.6 1696V1581.2M445.6 1602.2H455.7M445.6 1707.1H455.7M450.7 1707.1V1602.2M466.7 1576.1H476.7M466.7 1697.2H476.7M471.7 1697.2V1576.1M487.8 1557H497.8M487.8 1696H497.8M492.8 1696V1557M508.8 1589.3H518.9M508.8 1727.2H518.9M513.8 1727.2V1589.3M529.9 1584.2H539.9M529.9 1751.4H539.9M534.9 1751.4V1584.2M550.9 1568H561M550.9 1727.2H561M556 1727.2V1568M572 1558.1H582M572 1715.2H582M577 1715.2V1558.1M593.1 1578.9H603.1M593.1 1773.3H603.1M598.1 1773.3V1578.9M614.1 1580H624.2M614.1 1770.3H624.2M619.1 1770.3V1580M635.2 1569.9H645.2M635.2 1756H645.2M640.2 1756V1569.9M656.2 1565.7H666.3M656.2 1746.1H666.3M661.3 1746.1V1565.7M677.3 1566.9H687.3M677.3 1795.2H687.3M682.3 1795.2V1566.9M698.4 1572H708.4M698.4 1808.4H708.4M703.4 1808.4V1572M719.4 1568.1H729.5M719.4 1793.6H729.5M724.4 1793.6V1568.1M740.5 1570.4H750.5M740.5 1780.2H750.5M745.5 1780.2V1570.4M761.5 1586.1H771.6M761.5 1788.3H771.6M766.6 1788.3V1586.1M782.6 1610.8H792.6M782.6 1771.5H792.6M787.6 1771.5V1610.8M803.7 1578H813.7M803.7 1759H813.7M808.7 1759V1578M824.7 1578H834.8M824.7 1806.8H834.8M829.7 1806.8V1578M845.8 1597.4H855.8M845.8 1869H855.8M850.8 1869V1597.4M866.8 1615.4H876.9M866.8 1869H876.9M871.9 1869V1615.4M887.9 1570H897.9M887.9 1869H897.9M892.9 1869V1570M909 1583.1H919M909 1869H919M914 1869V1583.1M930 1604.3H940.1M930 1869H940.1M935 1869V1604.3M951.1 1613.1H961.1M951.1 1869H961.1M956.1 1869V1613.1" stroke="#1f77b4" stroke-width="2.08" fill="none"/>
<path d="M134.8 1539.2V1531.4M155.8 1521.8V1515.5M176.9 1596.6V1578.7M197.9 1670.2V1638.6M219 1662.3V1624.4M240.1 1640.2V1620.6M261.1 1656V1643.3M282.2 1679.7V1667M303.2 1639.6V1626M324.3 1616.5V1603.9M345.4 1629.2V1619.7M366.4 1640.2V1627.6M387.5 1616.5V1599.2M408.5 1610.7V1593.8M429.6 1634.5V1612.3M450.7 1656.8V1633.3M471.7 1636.8V1613M492.8 1634.9V1597.6M513.8 1660.8V1629.2M534.9 1682.9V1645.3M556 1665.6V1624.1M577 1666.1V1625.2M598.1 1696V1656.1M619.1 1717.9V1668.3M640.2 1697.6V1634.5M661.3 1687.5V1630.3M682.3 1702.9V1658.4M703.4 1716.8V1673.7M724.4 1679.9V1640.3M745.5 1669.1V1621.2M766.6 1688V1643.1M787.6 1697.7V1650M808.7 1658.7V1622.3M829.7 1653V1609.6M850.8 1681.1V1631.5M871.9 1718V1654.6M892.9 1715.7V1630.4M914 1751.4V1626.5M935 1799.8V1662.2M956.1 1841.3V1700.7" stroke="#000" stroke-width="7.85" fill="none"/>
<path d="M134.8 1542.4V1529.7M155.8 1525.4V1512.5M176.9 1611.8V1566M197.9 1671.8V1621.3M219 1667V1616.5M240.1 1644.9V1611.8M261.1 1659.1V1637.1M282.2 1690.7V1659.1M303.2 1644.9V1618.1M324.3 1624.4V1594.4M345.4 1638.6V1607M366.4 1649.6V1611.8M387.5 1626V1581.8M408.5 1636.1V1576.1M429.6 1657.5V1595.2M450.7 1696.7V1613M471.7 1663.8V1591.1M492.8 1669.5V1583M513.8 1700.2V1610M534.9 1716.8V1610M556 1693.7V1593.8M577 1695.4V1587.6M598.1 1729.9V1613M619.1 1739.8V1622.9M640.2 1732.9V1601M661.3 1717.9V1597.6M682.3 1738.7V1622.2M703.4 1777.9V1647.7M724.4 1765.9V1607.8M745.5 1742.9V1595.8M766.6 1754.4V1611.5M787.6 1734.1V1624.6M808.7 1720.7V1599.7M829.7 1730.7V1590M850.8 1775.6V1610.8M871.9 1822.9V1628.1M892.9 1828.2V1606.2M914 1863.2V1605M935 1869V1628.1M956.1 1869V1636.1" stroke="#ff0000" stroke-width="3.14" fill="none"/>
<path d="M128.7 1535.1H140.9M149.7 1518.7H161.9M170.8 1587.2H183M191.8 1660.7H204M212.9 1659.1H225.1M234 1635.5H246.2M255 1648.1H267.2M276.1 1671.8H288.3M297.1 1634.5H309.3M318.2 1611.8H330.4M339.3 1624.4H351.5M360.3 1633.9H372.5M381.4 1611.2H393.6M402.4 1604.9H414.6M423.5 1622.2H435.7M444.6 1641.8H456.8M465.6 1623.4H477.8M486.7 1616.9H498.9M507.7 1643.7H519.9M528.8 1659.8H541M549.9 1644.8H562.1M570.9 1646.9H583.1M592 1670.6H604.2M613 1694.2H625.2M634.1 1661.4H646.3M655.2 1654.1H667.4M676.2 1679.9H688.4M697.3 1694.9H709.5M718.3 1661H730.5M739.4 1645.8H751.6M760.5 1663.8H772.7M781.5 1677H793.7M802.6 1639.1H814.8M823.6 1625.3H835.8M844.7 1651.1H856.9M865.8 1673H878M886.8 1655.3H899M907.9 1661H920.1M928.9 1717.3H941.1M950 1751H962.2" stroke="#ff0000" stroke-width="3.9" fill="none"/>
</g>
<path d="M120.7 1840.5V1520" stroke="#000" stroke-width="2.1" fill="none"/>
<path d="M116.5 1527.5L120.7 1519.3L124.9 1527.5" stroke="#000" stroke-width="2.1" fill="none" stroke-linejoin="miter"/>
<text x="113.41" y="1864" font-size="20.8" textLength="242.88" lengthAdjust="spacingAndGlyphs">Station Elev = 10531 ft</text>
<rect x="114.5" y="120.5" width="853" height="497" fill="none" stroke="#000" stroke-width="1.1"/>
<path d="M114.5 617.5v4.9M156.5 617.5v4.9M199.5 617.5v4.9M242.5 617.5v4.9M284.5 617.5v4.9M327.5 617.5v4.9M370.5 617.5v4.9M412.5 617.5v4.9M455.5 617.5v4.9M498.5 617.5v4.9M540.5 617.5v4.9M583.5 617.5v4.9M626.5 617.5v4.9M668.5 617.5v4.9M711.5 617.5v4.9M754.5 617.5v4.9M796.5 617.5v4.9M839.5 617.5v4.9M881.5 617.5v4.9M924.5 617.5v4.9M967.5 617.5v4.9M114.5 617.5h-4.9M114.5 531.5h-4.9M114.5 445.5h-4.9M114.5 358.5h-4.9M114.5 272.5h-4.9M114.5 186.5h-4.9" stroke="#000" stroke-width="1.1" fill="none"/>
<text x="96.08" y="644" font-size="19.4" textLength="34.68" lengthAdjust="spacingAndGlyphs">12z</text>
<text x="78.59" y="665.5" font-size="19.4" textLength="68.67" lengthAdjust="spacingAndGlyphs">16-Nov</text>
<text x="181.39" y="644" font-size="19.4" textLength="34.68" lengthAdjust="spacingAndGlyphs">12z</text>
<text x="163.9" y="665.5" font-size="19.4" textLength="68.67" lengthAdjust="spacingAndGlyphs">17-Nov</text>
<text x="266.7" y="644" font-size="19.4" textLength="34.68" lengthAdjust="spacingAndGlyphs">12z</text>
<text x="249.21" y="665.5" font-size="19.4" textLength="68.67" lengthAdjust="spacingAndGlyphs">18-Nov</text>
<text x="352.01" y="644" font-size="19.4" textLength="34.68" lengthAdjust="spacingAndGlyphs">12z</text>
<text x="334.52" y="665.5" font-size="19.4" textLength="68.67" lengthAdjust="spacingAndGlyphs">19-Nov</text>
<text x="437.32" y="644" font-size="19.4" textLength="34.68" lengthAdjust="spacingAndGlyphs">12z</text>
<text x="420.02" y="665.5" font-size="19.4" textLength="68.84" lengthAdjust="spacingAndGlyphs">20-Nov</text>
<text x="522.63" y="644" font-size="19.4" textLength="34.68" lengthAdjust="spacingAndGlyphs">12z</text>
<text x="505.33" y="665.5" font-size="19.4" textLength="68.84" lengthAdjust="spacingAndGlyphs">21-Nov</text>
<text x="607.94" y="644" font-size="19.4" textLength="34.68" lengthAdjust="spacingAndGlyphs">12z</text>
<text x="590.64" y="665.5" font-size="19.4" textLength="68.84" lengthAdjust="spacingAndGlyphs">22-Nov</text>
<text x="693.25" y="644" font-size="19.4" textLength="34.68" lengthAdjust="spacingAndGlyphs">12z</text>
<text x="675.95" y="665.5" font-size="19.4" textLength="68.84" lengthAdjust="spacingAndGlyphs">23-Nov</text>
<text x="778.56" y="644" font-size="19.4" textLength="34.68" lengthAdjust="spacingAndGlyphs">12z</text>
<text x="761.26" y="665.5" font-size="19.4" textLength="68.84" lengthAdjust="spacingAndGlyphs">24-Nov</text>
<text x="863.87" y="644" font-size="19.4" textLength="34.68" lengthAdjust="spacingAndGlyphs">12z</text>
<text x="846.57" y="665.5" font-size="19.4" textLength="68.84" lengthAdjust="spacingAndGlyphs">25-Nov</text>
<text x="949.18" y="644" font-size="19.4" textLength="34.68" lengthAdjust="spacingAndGlyphs">12z</text>
<text x="931.88" y="665.5" font-size="19.4" textLength="68.84" lengthAdjust="spacingAndGlyphs">26-Nov</text>
<text x="89.6" y="624.2" font-size="19.4" textLength="11.4" lengthAdjust="spacingAndGlyphs">0</text>
<text x="90.27" y="538" font-size="19.4" textLength="10.89" lengthAdjust="spacingAndGlyphs">1</text>
<text x="90.21" y="451.8" font-size="19.4" textLength="10.99" lengthAdjust="spacingAndGlyphs">2</text>
<text x="90.12" y="365.6" font-size="19.4" textLength="10.95" lengthAdjust="spacingAndGlyphs">3</text>
<text x="89.4" y="279.4" font-size="19.4" textLength="11.4" lengthAdjust="spacingAndGlyphs">4</text>
<text x="90.26" y="193.2" font-size="19.4" textLength="10.76" lengthAdjust="spacingAndGlyphs">5</text>
<text x="480.93" y="694.7" font-size="25" textLength="118.31" lengthAdjust="spacingAndGlyphs">Day/Hour</text>
<text x="360.14" y="111.8" font-size="27.8" textLength="363.69" lengthAdjust="spacingAndGlyphs">Accumulated Precipitation</text>
<text x="-98.59" y="369" font-size="25" textLength="355.45" lengthAdjust="spacingAndGlyphs" transform="rotate(-90 78.3 369)">Accumulated Precip (inches)</text>
<path d="M899 128.1L918 128.1L918 139L914.2 139L914.2 153.8L925.1 153.8L925.1 139L921.3 139L921.3 128.1L940.4 128.1L940.4 139L937 139L937 157.5L929 165.7L910.4 165.7L902.8 157.5L902.8 139L899 139Z" fill="#cc0000"/>
<circle cx="934.7" cy="164.3" r="0.8" fill="#cc0000"/>
<text x="876" y="165.7" font-size="10.5" textLength="21.5" lengthAdjust="spacingAndGlyphs" style="font-family:'Liberation Serif',serif" fill="#333333">THE</text>
<text x="858" y="182.4" font-size="15.5" textLength="102.4" lengthAdjust="spacingAndGlyphs" style="font-family:'Liberation Serif',serif" fill="#333333">UNIVERSITY</text>
<text x="877.5" y="195.2" font-size="9" textLength="13.4" lengthAdjust="spacingAndGlyphs" style="font-family:'Liberation Serif',serif" fill="#333333">OF</text>
<text x="896" y="199" font-size="14.5" textLength="45.3" lengthAdjust="spacingAndGlyphs" style="font-family:'Liberation Serif',serif" fill="#333333">UTAH</text>
<rect x="1086.5" y="120.5" width="853" height="497" fill="none" stroke="#000" stroke-width="1.1"/>
<path d="M1086.5 617.5v4.9M1129.5 617.5v4.9M1171.5 617.5v4.9M1214.5 617.5v4.9M1257.5 617.5v4.9M1299.5 617.5v4.9M1342.5 617.5v4.9M1385.5 617.5v4.9M1427.5 617.5v4.9M1470.5 617.5v4.9M1513.5 617.5v4.9M1555.5 617.5v4.9M1598.5 617.5v4.9M1641.5 617.5v4.9M1683.5 617.5v4.9M1726.5 617.5v4.9M1768.5 617.5v4.9M1811.5 617.5v4.9M1854.5 617.5v4.9M1896.5 617.5v4.9M1939.5 617.5v4.9M1086.5 617.5h-4.9M1086.5 546.5h-4.9M1086.5 474.5h-4.9M1086.5 403.5h-4.9M1086.5 331.5h-4.9M1086.5 260.5h-4.9M1086.5 188.5h-4.9" stroke="#000" stroke-width="1.1" fill="none"/>
<text x="1068.38" y="644" font-size="19.4" textLength="34.68" lengthAdjust="spacingAndGlyphs">12z</text>
<text x="1050.89" y="665.5" font-size="19.4" textLength="68.67" lengthAdjust="spacingAndGlyphs">16-Nov</text>
<text x="1153.69" y="644" font-size="19.4" textLength="34.68" lengthAdjust="spacingAndGlyphs">12z</text>
<text x="1136.2" y="665.5" font-size="19.4" textLength="68.67" lengthAdjust="spacingAndGlyphs">17-Nov</text>
<text x="1239" y="644" font-size="19.4" textLength="34.68" lengthAdjust="spacingAndGlyphs">12z</text>
<text x="1221.51" y="665.5" font-size="19.4" textLength="68.67" lengthAdjust="spacingAndGlyphs">18-Nov</text>
<text x="1324.31" y="644" font-size="19.4" textLength="34.68" lengthAdjust="spacingAndGlyphs">12z</text>
<text x="1306.82" y="665.5" font-size="19.4" textLength="68.67" lengthAdjust="spacingAndGlyphs">19-Nov</text>
<text x="1409.62" y="644" font-size="19.4" textLength="34.68" lengthAdjust="spacingAndGlyphs">12z</text>
<text x="1392.32" y="665.5" font-size="19.4" textLength="68.84" lengthAdjust="spacingAndGlyphs">20-Nov</text>
<text x="1494.93" y="644" font-size="19.4" textLength="34.68" lengthAdjust="spacingAndGlyphs">12z</text>
<text x="1477.63" y="665.5" font-size="19.4" textLength="68.84" lengthAdjust="spacingAndGlyphs">21-Nov</text>
<text x="1580.24" y="644" font-size="19.4" textLength="34.68" lengthAdjust="spacingAndGlyphs">12z</text>
<text x="1562.94" y="665.5" font-size="19.4" textLength="68.84" lengthAdjust="spacingAndGlyphs">22-Nov</text>
<text x="1665.55" y="644" font-size="19.4" textLength="34.68" lengthAdjust="spacingAndGlyphs">12z</text>
<text x="1648.25" y="665.5" font-size="19.4" textLength="68.84" lengthAdjust="spacingAndGlyphs">23-Nov</text>
<text x="1750.86" y="644" font-size="19.4" textLength="34.68" lengthAdjust="spacingAndGlyphs">12z</text>
<text x="1733.56" y="665.5" font-size="19.4" textLength="68.84" lengthAdjust="spacingAndGlyphs">24-Nov</text>
<text x="1836.17" y="644" font-size="19.4" textLength="34.68" lengthAdjust="spacingAndGlyphs">12z</text>
<text x="1818.87" y="665.5" font-size="19.4" textLength="68.84" lengthAdjust="spacingAndGlyphs">25-Nov</text>
<text x="1921.48" y="644" font-size="19.4" textLength="34.68" lengthAdjust="spacingAndGlyphs">12z</text>
<text x="1904.18" y="665.5" font-size="19.4" textLength="68.84" lengthAdjust="spacingAndGlyphs">26-Nov</text>
<text x="1061.6" y="624.2" font-size="19.4" textLength="11.4" lengthAdjust="spacingAndGlyphs">0</text>
<text x="1049.26" y="552.73" font-size="19.4" textLength="23.77" lengthAdjust="spacingAndGlyphs">10</text>
<text x="1049.1" y="481.26" font-size="19.4" textLength="23.95" lengthAdjust="spacingAndGlyphs">20</text>
<text x="1049.43" y="409.79" font-size="19.4" textLength="23.6" lengthAdjust="spacingAndGlyphs">30</text>
<text x="1049.21" y="338.32" font-size="19.4" textLength="23.82" lengthAdjust="spacingAndGlyphs">40</text>
<text x="1049.4" y="266.85" font-size="19.4" textLength="23.63" lengthAdjust="spacingAndGlyphs">50</text>
<text x="1049.01" y="195.38" font-size="19.4" textLength="24.03" lengthAdjust="spacingAndGlyphs">60</text>
<text x="1452.93" y="694.7" font-size="25" textLength="118.31" lengthAdjust="spacingAndGlyphs">Day/Hour</text>
<text x="1380.89" y="111.8" font-size="27.8" textLength="264.08" lengthAdjust="spacingAndGlyphs">Accumulated Snow</text>
<text x="866.04" y="369" font-size="25" textLength="346.6" lengthAdjust="spacingAndGlyphs" transform="rotate(-90 1038.5 369)">Accumulated Snow (inches)</text>
<path d="M1871 128.1L1890 128.1L1890 139L1886.2 139L1886.2 153.8L1897.1 153.8L1897.1 139L1893.3 139L1893.3 128.1L1912.4 128.1L1912.4 139L1909 139L1909 157.5L1901 165.7L1882.4 165.7L1874.8 157.5L1874.8 139L1871 139Z" fill="#cc0000"/>
<circle cx="1906.7" cy="164.3" r="0.8" fill="#cc0000"/>
<text x="1848" y="165.7" font-size="10.5" textLength="21.5" lengthAdjust="spacingAndGlyphs" style="font-family:'Liberation Serif',serif" fill="#333333">THE</text>
<text x="1830" y="182.4" font-size="15.5" textLength="102.4" lengthAdjust="spacingAndGlyphs" style="font-family:'Liberation Serif',serif" fill="#333333">UNIVERSITY</text>
<text x="1849.5" y="195.2" font-size="9" textLength="13.4" lengthAdjust="spacingAndGlyphs" style="font-family:'Liberation Serif',serif" fill="#333333">OF</text>
<text x="1868" y="199" font-size="14.5" textLength="45.3" lengthAdjust="spacingAndGlyphs" style="font-family:'Liberation Serif',serif" fill="#333333">UTAH</text>
<rect x="114.5" y="746.5" width="853" height="497" fill="none" stroke="#000" stroke-width="1.1"/>
<path d="M114.5 1243.5v4.9M156.5 1243.5v4.9M198.5 1243.5v4.9M240.5 1243.5v4.9M282.5 1243.5v4.9M324.5 1243.5v4.9M366.5 1243.5v4.9M409.5 1243.5v4.9M451.5 1243.5v4.9M493.5 1243.5v4.9M535.5 1243.5v4.9M577.5 1243.5v4.9M619.5 1243.5v4.9M661.5 1243.5v4.9M703.5 1243.5v4.9M746.5 1243.5v4.9M788.5 1243.5v4.9M830.5 1243.5v4.9M872.5 1243.5v4.9M914.5 1243.5v4.9M956.5 1243.5v4.9M114.5 1243.5h-4.9M114.5 1171.5h-4.9M114.5 1099.5h-4.9M114.5 1026.5h-4.9M114.5 954.5h-4.9M114.5 882.5h-4.9M114.5 810.5h-4.9" stroke="#000" stroke-width="1.1" fill="none"/>
<text x="96.08" y="1270" font-size="19.4" textLength="34.68" lengthAdjust="spacingAndGlyphs">12z</text>
<text x="78.59" y="1291.5" font-size="19.4" textLength="68.67" lengthAdjust="spacingAndGlyphs">16-Nov</text>
<text x="180.32" y="1270" font-size="19.4" textLength="34.68" lengthAdjust="spacingAndGlyphs">12z</text>
<text x="162.83" y="1291.5" font-size="19.4" textLength="68.67" lengthAdjust="spacingAndGlyphs">17-Nov</text>
<text x="264.56" y="1270" font-size="19.4" textLength="34.68" lengthAdjust="spacingAndGlyphs">12z</text>
<text x="247.07" y="1291.5" font-size="19.4" textLength="68.67" lengthAdjust="spacingAndGlyphs">18-Nov</text>
<text x="348.8" y="1270" font-size="19.4" textLength="34.68" lengthAdjust="spacingAndGlyphs">12z</text>
<text x="331.31" y="1291.5" font-size="19.4" textLength="68.67" lengthAdjust="spacingAndGlyphs">19-Nov</text>
<text x="433.04" y="1270" font-size="19.4" textLength="34.68" lengthAdjust="spacingAndGlyphs">12z</text>
<text x="415.74" y="1291.5" font-size="19.4" textLength="68.84" lengthAdjust="spacingAndGlyphs">20-Nov</text>
<text x="517.28" y="1270" font-size="19.4" textLength="34.68" lengthAdjust="spacingAndGlyphs">12z</text>
<text x="499.98" y="1291.5" font-size="19.4" textLength="68.84" lengthAdjust="spacingAndGlyphs">21-Nov</text>
<text x="601.52" y="1270" font-size="19.4" textLength="34.68" lengthAdjust="spacingAndGlyphs">12z</text>
<text x="584.22" y="1291.5" font-size="19.4" textLength="68.84" lengthAdjust="spacingAndGlyphs">22-Nov</text>
<text x="685.76" y="1270" font-size="19.4" textLength="34.68" lengthAdjust="spacingAndGlyphs">12z</text>
<text x="668.46" y="1291.5" font-size="19.4" textLength="68.84" lengthAdjust="spacingAndGlyphs">23-Nov</text>
<text x="770" y="1270" font-size="19.4" textLength="34.68" lengthAdjust="spacingAndGlyphs">12z</text>
<text x="752.7" y="1291.5" font-size="19.4" textLength="68.84" lengthAdjust="spacingAndGlyphs">24-Nov</text>
<text x="854.24" y="1270" font-size="19.4" textLength="34.68" lengthAdjust="spacingAndGlyphs">12z</text>
<text x="836.94" y="1291.5" font-size="19.4" textLength="68.84" lengthAdjust="spacingAndGlyphs">25-Nov</text>
<text x="938.48" y="1270" font-size="19.4" textLength="34.68" lengthAdjust="spacingAndGlyphs">12z</text>
<text x="921.18" y="1291.5" font-size="19.4" textLength="68.84" lengthAdjust="spacingAndGlyphs">26-Nov</text>
<text x="71.01" y="1250.2" font-size="19.4" textLength="30.03" lengthAdjust="spacingAndGlyphs">0.0</text>
<text x="71.68" y="1178.02" font-size="19.4" textLength="29.59" lengthAdjust="spacingAndGlyphs">0.2</text>
<text x="70.81" y="1105.84" font-size="19.4" textLength="30.02" lengthAdjust="spacingAndGlyphs">0.4</text>
<text x="70.94" y="1033.66" font-size="19.4" textLength="30.21" lengthAdjust="spacingAndGlyphs">0.6</text>
<text x="71.05" y="961.48" font-size="19.4" textLength="30.09" lengthAdjust="spacingAndGlyphs">0.8</text>
<text x="71.07" y="889.3" font-size="19.4" textLength="29.97" lengthAdjust="spacingAndGlyphs">1.0</text>
<text x="71.75" y="817.12" font-size="19.4" textLength="29.52" lengthAdjust="spacingAndGlyphs">1.2</text>
<text x="480.93" y="1320.7" font-size="25" textLength="118.31" lengthAdjust="spacingAndGlyphs">Day/Hour</text>
<text x="390.93" y="737.8" font-size="27.8" textLength="300.58" lengthAdjust="spacingAndGlyphs">6-Hourly Precipitation</text>
<text x="-56.79" y="995" font-size="25" textLength="232.49" lengthAdjust="spacingAndGlyphs" transform="rotate(-90 59.3 995)">6-h Precip (inches)</text>
<path d="M899 754.1L918 754.1L918 765L914.2 765L914.2 779.8L925.1 779.8L925.1 765L921.3 765L921.3 754.1L940.4 754.1L940.4 765L937 765L937 783.5L929 791.7L910.4 791.7L902.8 783.5L902.8 765L899 765Z" fill="#cc0000"/>
<circle cx="934.7" cy="790.3" r="0.8" fill="#cc0000"/>
<text x="876" y="791.7" font-size="10.5" textLength="21.5" lengthAdjust="spacingAndGlyphs" style="font-family:'Liberation Serif',serif" fill="#333333">THE</text>
<text x="858" y="808.4" font-size="15.5" textLength="102.4" lengthAdjust="spacingAndGlyphs" style="font-family:'Liberation Serif',serif" fill="#333333">UNIVERSITY</text>
<text x="877.5" y="821.2" font-size="9" textLength="13.4" lengthAdjust="spacingAndGlyphs" style="font-family:'Liberation Serif',serif" fill="#333333">OF</text>
<text x="896" y="825" font-size="14.5" textLength="45.3" lengthAdjust="spacingAndGlyphs" style="font-family:'Liberation Serif',serif" fill="#333333">UTAH</text>
<rect x="1086.5" y="746.5" width="853" height="497" fill="none" stroke="#000" stroke-width="1.1"/>
<path d="M1086.5 1243.5v4.9M1128.5 1243.5v4.9M1170.5 1243.5v4.9M1212.5 1243.5v4.9M1254.5 1243.5v4.9M1297.5 1243.5v4.9M1339.5 1243.5v4.9M1381.5 1243.5v4.9M1423.5 1243.5v4.9M1465.5 1243.5v4.9M1507.5 1243.5v4.9M1549.5 1243.5v4.9M1591.5 1243.5v4.9M1634.5 1243.5v4.9M1676.5 1243.5v4.9M1718.5 1243.5v4.9M1760.5 1243.5v4.9M1802.5 1243.5v4.9M1844.5 1243.5v4.9M1886.5 1243.5v4.9M1928.5 1243.5v4.9M1086.5 1243.5h-4.9M1086.5 1179.5h-4.9M1086.5 1115.5h-4.9M1086.5 1051.5h-4.9M1086.5 987.5h-4.9M1086.5 923.5h-4.9M1086.5 859.5h-4.9M1086.5 794.5h-4.9" stroke="#000" stroke-width="1.1" fill="none"/>
<text x="1068.38" y="1270" font-size="19.4" textLength="34.68" lengthAdjust="spacingAndGlyphs">12z</text>
<text x="1050.89" y="1291.5" font-size="19.4" textLength="68.67" lengthAdjust="spacingAndGlyphs">16-Nov</text>
<text x="1152.62" y="1270" font-size="19.4" textLength="34.68" lengthAdjust="spacingAndGlyphs">12z</text>
<text x="1135.13" y="1291.5" font-size="19.4" textLength="68.67" lengthAdjust="spacingAndGlyphs">17-Nov</text>
<text x="1236.86" y="1270" font-size="19.4" textLength="34.68" lengthAdjust="spacingAndGlyphs">12z</text>
<text x="1219.37" y="1291.5" font-size="19.4" textLength="68.67" lengthAdjust="spacingAndGlyphs">18-Nov</text>
<text x="1321.1" y="1270" font-size="19.4" textLength="34.68" lengthAdjust="spacingAndGlyphs">12z</text>
<text x="1303.61" y="1291.5" font-size="19.4" textLength="68.67" lengthAdjust="spacingAndGlyphs">19-Nov</text>
<text x="1405.34" y="1270" font-size="19.4" textLength="34.68" lengthAdjust="spacingAndGlyphs">12z</text>
<text x="1388.04" y="1291.5" font-size="19.4" textLength="68.84" lengthAdjust="spacingAndGlyphs">20-Nov</text>
<text x="1489.58" y="1270" font-size="19.4" textLength="34.68" lengthAdjust="spacingAndGlyphs">12z</text>
<text x="1472.28" y="1291.5" font-size="19.4" textLength="68.84" lengthAdjust="spacingAndGlyphs">21-Nov</text>
<text x="1573.82" y="1270" font-size="19.4" textLength="34.68" lengthAdjust="spacingAndGlyphs">12z</text>
<text x="1556.52" y="1291.5" font-size="19.4" textLength="68.84" lengthAdjust="spacingAndGlyphs">22-Nov</text>
<text x="1658.06" y="1270" font-size="19.4" textLength="34.68" lengthAdjust="spacingAndGlyphs">12z</text>
<text x="1640.76" y="1291.5" font-size="19.4" textLength="68.84" lengthAdjust="spacingAndGlyphs">23-Nov</text>
<text x="1742.3" y="1270" font-size="19.4" textLength="34.68" lengthAdjust="spacingAndGlyphs">12z</text>
<text x="1725" y="1291.5" font-size="19.4" textLength="68.84" lengthAdjust="spacingAndGlyphs">24-Nov</text>
<text x="1826.54" y="1270" font-size="19.4" textLength="34.68" lengthAdjust="spacingAndGlyphs">12z</text>
<text x="1809.24" y="1291.5" font-size="19.4" textLength="68.84" lengthAdjust="spacingAndGlyphs">25-Nov</text>
<text x="1910.78" y="1270" font-size="19.4" textLength="34.68" lengthAdjust="spacingAndGlyphs">12z</text>
<text x="1893.48" y="1291.5" font-size="19.4" textLength="68.84" lengthAdjust="spacingAndGlyphs">26-Nov</text>
<text x="1061.6" y="1250.2" font-size="19.4" textLength="11.4" lengthAdjust="spacingAndGlyphs">0</text>
<text x="1062.21" y="1186.12" font-size="19.4" textLength="10.99" lengthAdjust="spacingAndGlyphs">2</text>
<text x="1061.4" y="1122.04" font-size="19.4" textLength="11.4" lengthAdjust="spacingAndGlyphs">4</text>
<text x="1061.34" y="1057.96" font-size="19.4" textLength="11.8" lengthAdjust="spacingAndGlyphs">6</text>
<text x="1061.58" y="993.88" font-size="19.4" textLength="11.52" lengthAdjust="spacingAndGlyphs">8</text>
<text x="1049.26" y="929.8" font-size="19.4" textLength="23.77" lengthAdjust="spacingAndGlyphs">10</text>
<text x="1049.95" y="865.72" font-size="19.4" textLength="23.3" lengthAdjust="spacingAndGlyphs">12</text>
<text x="1049.06" y="801.64" font-size="19.4" textLength="23.76" lengthAdjust="spacingAndGlyphs">14</text>
<text x="1452.93" y="1320.7" font-size="25" textLength="118.31" lengthAdjust="spacingAndGlyphs">Day/Hour</text>
<text x="1411.72" y="737.8" font-size="27.8" textLength="200.93" lengthAdjust="spacingAndGlyphs">6-Hourly Snow</text>
<text x="926.83" y="995" font-size="25" textLength="223.65" lengthAdjust="spacingAndGlyphs" transform="rotate(-90 1038.5 995)">6-h Snow (inches)</text>
<path d="M1871 754.1L1890 754.1L1890 765L1886.2 765L1886.2 779.8L1897.1 779.8L1897.1 765L1893.3 765L1893.3 754.1L1912.4 754.1L1912.4 765L1909 765L1909 783.5L1901 791.7L1882.4 791.7L1874.8 783.5L1874.8 765L1871 765Z" fill="#cc0000"/>
<circle cx="1906.7" cy="790.3" r="0.8" fill="#cc0000"/>
<text x="1848" y="791.7" font-size="10.5" textLength="21.5" lengthAdjust="spacingAndGlyphs" style="font-family:'Liberation Serif',serif" fill="#333333">THE</text>
<text x="1830" y="808.4" font-size="15.5" textLength="102.4" lengthAdjust="spacingAndGlyphs" style="font-family:'Liberation Serif',serif" fill="#333333">UNIVERSITY</text>
<text x="1849.5" y="821.2" font-size="9" textLength="13.4" lengthAdjust="spacingAndGlyphs" style="font-family:'Liberation Serif',serif" fill="#333333">OF</text>
<text x="1868" y="825" font-size="14.5" textLength="45.3" lengthAdjust="spacingAndGlyphs" style="font-family:'Liberation Serif',serif" fill="#333333">UTAH</text>
<rect x="114.5" y="1372.5" width="853" height="497" fill="none" stroke="#000" stroke-width="1.1"/>
<path d="M114.5 1869.5v4.9M156.5 1869.5v4.9M198.5 1869.5v4.9M240.5 1869.5v4.9M282.5 1869.5v4.9M324.5 1869.5v4.9M366.5 1869.5v4.9M409.5 1869.5v4.9M451.5 1869.5v4.9M493.5 1869.5v4.9M535.5 1869.5v4.9M577.5 1869.5v4.9M619.5 1869.5v4.9M661.5 1869.5v4.9M703.5 1869.5v4.9M746.5 1869.5v4.9M788.5 1869.5v4.9M830.5 1869.5v4.9M872.5 1869.5v4.9M914.5 1869.5v4.9M956.5 1869.5v4.9M114.5 1869.5h-4.9M114.5 1801.5h-4.9M114.5 1734.5h-4.9M114.5 1666.5h-4.9M114.5 1599.5h-4.9M114.5 1531.5h-4.9M114.5 1464.5h-4.9M114.5 1396.5h-4.9" stroke="#000" stroke-width="1.1" fill="none"/>
<text x="96.08" y="1896" font-size="19.4" textLength="34.68" lengthAdjust="spacingAndGlyphs">12z</text>
<text x="78.59" y="1917.5" font-size="19.4" textLength="68.67" lengthAdjust="spacingAndGlyphs">16-Nov</text>
<text x="180.32" y="1896" font-size="19.4" textLength="34.68" lengthAdjust="spacingAndGlyphs">12z</text>
<text x="162.83" y="1917.5" font-size="19.4" textLength="68.67" lengthAdjust="spacingAndGlyphs">17-Nov</text>
<text x="264.56" y="1896" font-size="19.4" textLength="34.68" lengthAdjust="spacingAndGlyphs">12z</text>
<text x="247.07" y="1917.5" font-size="19.4" textLength="68.67" lengthAdjust="spacingAndGlyphs">18-Nov</text>
<text x="348.8" y="1896" font-size="19.4" textLength="34.68" lengthAdjust="spacingAndGlyphs">12z</text>
<text x="331.31" y="1917.5" font-size="19.4" textLength="68.67" lengthAdjust="spacingAndGlyphs">19-Nov</text>
<text x="433.04" y="1896" font-size="19.4" textLength="34.68" lengthAdjust="spacingAndGlyphs">12z</text>
<text x="415.74" y="1917.5" font-size="19.4" textLength="68.84" lengthAdjust="spacingAndGlyphs">20-Nov</text>
<text x="517.28" y="1896" font-size="19.4" textLength="34.68" lengthAdjust="spacingAndGlyphs">12z</text>
<text x="499.98" y="1917.5" font-size="19.4" textLength="68.84" lengthAdjust="spacingAndGlyphs">21-Nov</text>
<text x="601.52" y="1896" font-size="19.4" textLength="34.68" lengthAdjust="spacingAndGlyphs">12z</text>
<text x="584.22" y="1917.5" font-size="19.4" textLength="68.84" lengthAdjust="spacingAndGlyphs">22-Nov</text>
<text x="685.76" y="1896" font-size="19.4" textLength="34.68" lengthAdjust="spacingAndGlyphs">12z</text>
<text x="668.46" y="1917.5" font-size="19.4" textLength="68.84" lengthAdjust="spacingAndGlyphs">23-Nov</text>
<text x="770" y="1896" font-size="19.4" textLength="34.68" lengthAdjust="spacingAndGlyphs">12z</text>
<text x="752.7" y="1917.5" font-size="19.4" textLength="68.84" lengthAdjust="spacingAndGlyphs">24-Nov</text>
<text x="854.24" y="1896" font-size="19.4" textLength="34.68" lengthAdjust="spacingAndGlyphs">12z</text>
<text x="836.94" y="1917.5" font-size="19.4" textLength="68.84" lengthAdjust="spacingAndGlyphs">25-Nov</text>
<text x="938.48" y="1896" font-size="19.4" textLength="34.68" lengthAdjust="spacingAndGlyphs">12z</text>
<text x="921.18" y="1917.5" font-size="19.4" textLength="68.84" lengthAdjust="spacingAndGlyphs">26-Nov</text>
<text x="89.6" y="1876.2" font-size="19.4" textLength="11.4" lengthAdjust="spacingAndGlyphs">0</text>
<text x="52.34" y="1808.69" font-size="19.4" textLength="48.72" lengthAdjust="spacingAndGlyphs">2000</text>
<text x="52.47" y="1741.17" font-size="19.4" textLength="48.59" lengthAdjust="spacingAndGlyphs">4000</text>
<text x="52.26" y="1673.66" font-size="19.4" textLength="48.8" lengthAdjust="spacingAndGlyphs">6000</text>
<text x="52.39" y="1606.14" font-size="19.4" textLength="48.67" lengthAdjust="spacingAndGlyphs">8000</text>
<text x="40.12" y="1538.63" font-size="19.4" textLength="60.94" lengthAdjust="spacingAndGlyphs">10000</text>
<text x="40.12" y="1471.12" font-size="19.4" textLength="60.94" lengthAdjust="spacingAndGlyphs">12000</text>
<text x="40.12" y="1403.6" font-size="19.4" textLength="60.94" lengthAdjust="spacingAndGlyphs">14000</text>
<text x="480.93" y="1946.7" font-size="25" textLength="118.31" lengthAdjust="spacingAndGlyphs">Day/Hour</text>
<text x="395.96" y="1363.8" font-size="27.8" textLength="291.98" lengthAdjust="spacingAndGlyphs">Wet-Bulb 0.5°C Level</text>
<text x="-161.64" y="1621" font-size="25" textLength="384.86" lengthAdjust="spacingAndGlyphs" transform="rotate(-90 30 1621)">Wet-Bulb 0.5°C Level (ft AMSL)</text>
<path d="M899 1380.1L918 1380.1L918 1391L914.2 1391L914.2 1405.8L925.1 1405.8L925.1 1391L921.3 1391L921.3 1380.1L940.4 1380.1L940.4 1391L937 1391L937 1409.5L929 1417.7L910.4 1417.7L902.8 1409.5L902.8 1391L899 1391Z" fill="#cc0000"/>
<circle cx="934.7" cy="1416.3" r="0.8" fill="#cc0000"/>
<text x="876" y="1417.7" font-size="10.5" textLength="21.5" lengthAdjust="spacingAndGlyphs" style="font-family:'Liberation Serif',serif" fill="#333333">THE</text>
<text x="858" y="1434.4" font-size="15.5" textLength="102.4" lengthAdjust="spacingAndGlyphs" style="font-family:'Liberation Serif',serif" fill="#333333">UNIVERSITY</text>
<text x="877.5" y="1447.2" font-size="9" textLength="13.4" lengthAdjust="spacingAndGlyphs" style="font-family:'Liberation Serif',serif" fill="#333333">OF</text>
<text x="896" y="1451" font-size="14.5" textLength="45.3" lengthAdjust="spacingAndGlyphs" style="font-family:'Liberation Serif',serif" fill="#333333">UTAH</text>
<rect x="1086.5" y="1372.5" width="853" height="497" fill="none" stroke="#000" stroke-width="1.1"/>
<path d="M1086.5 1869.5v4.9M1128.5 1869.5v4.9M1170.5 1869.5v4.9M1212.5 1869.5v4.9M1254.5 1869.5v4.9M1297.5 1869.5v4.9M1339.5 1869.5v4.9M1381.5 1869.5v4.9M1423.5 1869.5v4.9M1465.5 1869.5v4.9M1507.5 1869.5v4.9M1549.5 1869.5v4.9M1591.5 1869.5v4.9M1634.5 1869.5v4.9M1676.5 1869.5v4.9M1718.5 1869.5v4.9M1760.5 1869.5v4.9M1802.5 1869.5v4.9M1844.5 1869.5v4.9M1886.5 1869.5v4.9M1928.5 1869.5v4.9M1086.5 1869.5h-4.9M1086.5 1781.5h-4.9M1086.5 1693.5h-4.9M1086.5 1604.5h-4.9M1086.5 1516.5h-4.9M1086.5 1428.5h-4.9" stroke="#000" stroke-width="1.1" fill="none"/>
<text x="1068.38" y="1896" font-size="19.4" textLength="34.68" lengthAdjust="spacingAndGlyphs">12z</text>
<text x="1050.89" y="1917.5" font-size="19.4" textLength="68.67" lengthAdjust="spacingAndGlyphs">16-Nov</text>
<text x="1152.62" y="1896" font-size="19.4" textLength="34.68" lengthAdjust="spacingAndGlyphs">12z</text>
<text x="1135.13" y="1917.5" font-size="19.4" textLength="68.67" lengthAdjust="spacingAndGlyphs">17-Nov</text>
<text x="1236.86" y="1896" font-size="19.4" textLength="34.68" lengthAdjust="spacingAndGlyphs">12z</text>
<text x="1219.37" y="1917.5" font-size="19.4" textLength="68.67" lengthAdjust="spacingAndGlyphs">18-Nov</text>
<text x="1321.1" y="1896" font-size="19.4" textLength="34.68" lengthAdjust="spacingAndGlyphs">12z</text>
<text x="1303.61" y="1917.5" font-size="19.4" textLength="68.67" lengthAdjust="spacingAndGlyphs">19-Nov</text>
<text x="1405.34" y="1896" font-size="19.4" textLength="34.68" lengthAdjust="spacingAndGlyphs">12z</text>
<text x="1388.04" y="1917.5" font-size="19.4" textLength="68.84" lengthAdjust="spacingAndGlyphs">20-Nov</text>
<text x="1489.58" y="1896" font-size="19.4" textLength="34.68" lengthAdjust="spacingAndGlyphs">12z</text>
<text x="1472.28" y="1917.5" font-size="19.4" textLength="68.84" lengthAdjust="spacingAndGlyphs">21-Nov</text>
<text x="1573.82" y="1896" font-size="19.4" textLength="34.68" lengthAdjust="spacingAndGlyphs">12z</text>
<text x="1556.52" y="1917.5" font-size="19.4" textLength="68.84" lengthAdjust="spacingAndGlyphs">22-Nov</text>
<text x="1658.06" y="1896" font-size="19.4" textLength="34.68" lengthAdjust="spacingAndGlyphs">12z</text>
<text x="1640.76" y="1917.5" font-size="19.4" textLength="68.84" lengthAdjust="spacingAndGlyphs">23-Nov</text>
<text x="1742.3" y="1896" font-size="19.4" textLength="34.68" lengthAdjust="spacingAndGlyphs">12z</text>
<text x="1725" y="1917.5" font-size="19.4" textLength="68.84" lengthAdjust="spacingAndGlyphs">24-Nov</text>
<text x="1826.54" y="1896" font-size="19.4" textLength="34.68" lengthAdjust="spacingAndGlyphs">12z</text>
<text x="1809.24" y="1917.5" font-size="19.4" textLength="68.84" lengthAdjust="spacingAndGlyphs">25-Nov</text>
<text x="1910.78" y="1896" font-size="19.4" textLength="34.68" lengthAdjust="spacingAndGlyphs">12z</text>
<text x="1893.48" y="1917.5" font-size="19.4" textLength="68.84" lengthAdjust="spacingAndGlyphs">26-Nov</text>
<text x="1061.6" y="1876.2" font-size="19.4" textLength="11.4" lengthAdjust="spacingAndGlyphs">0</text>
<text x="1062.26" y="1788" font-size="19.4" textLength="10.76" lengthAdjust="spacingAndGlyphs">5</text>
<text x="1049.26" y="1699.8" font-size="19.4" textLength="23.77" lengthAdjust="spacingAndGlyphs">10</text>
<text x="1049.7" y="1611.6" font-size="19.4" textLength="23.39" lengthAdjust="spacingAndGlyphs">15</text>
<text x="1049.1" y="1523.4" font-size="19.4" textLength="23.95" lengthAdjust="spacingAndGlyphs">20</text>
<text x="1049.52" y="1435.2" font-size="19.4" textLength="23.57" lengthAdjust="spacingAndGlyphs">25</text>
<text x="1452.93" y="1946.7" font-size="25" textLength="118.31" lengthAdjust="spacingAndGlyphs">Day/Hour</text>
<text x="1369.6" y="1363.8" font-size="27.8" textLength="286.7" lengthAdjust="spacingAndGlyphs">Snow-to-Liquid Ratio</text>
<text x="1015.5" y="1621" font-size="25" textLength="47.02" lengthAdjust="spacingAndGlyphs" transform="rotate(-90 1039 1621)">SLR</text>
<path d="M1871 1380.1L1890 1380.1L1890 1391L1886.2 1391L1886.2 1405.8L1897.1 1405.8L1897.1 1391L1893.3 1391L1893.3 1380.1L1912.4 1380.1L1912.4 1391L1909 1391L1909 1409.5L1901 1417.7L1882.4 1417.7L1874.8 1409.5L1874.8 1391L1871 1391Z" fill="#cc0000"/>
<circle cx="1906.7" cy="1416.3" r="0.8" fill="#cc0000"/>
<text x="1848" y="1417.7" font-size="10.5" textLength="21.5" lengthAdjust="spacingAndGlyphs" style="font-family:'Liberation Serif',serif" fill="#333333">THE</text>
<text x="1830" y="1434.4" font-size="15.5" textLength="102.4" lengthAdjust="spacingAndGlyphs" style="font-family:'Liberation Serif',serif" fill="#333333">UNIVERSITY</text>
<text x="1849.5" y="1447.2" font-size="9" textLength="13.4" lengthAdjust="spacingAndGlyphs" style="font-family:'Liberation Serif',serif" fill="#333333">OF</text>
<text x="1868" y="1451" font-size="14.5" textLength="45.3" lengthAdjust="spacingAndGlyphs" style="font-family:'Liberation Serif',serif" fill="#333333">UTAH</text>
<rect x="117.5" y="124.5" width="526" height="75" fill="#fff" fill-opacity="0.8" stroke="#000" stroke-opacity="0.9" stroke-width="1.1"/>
<path d="M131.1 146.2H203.8" stroke="#800000" stroke-width="1.39" stroke-linecap="square"/>
<rect x="124" y="166.9" width="87.7" height="14.6" fill="#000"/>
<rect x="126.8" y="169.6" width="82.1" height="9.1" fill="#800000"/>
<text x="218.77" y="152.2" font-size="19.4" textLength="146.52" lengthAdjust="spacingAndGlyphs">GEFS Members</text>
<text x="218.8" y="180.8" font-size="19.4" textLength="109.22" lengthAdjust="spacingAndGlyphs">GEFS Mean</text>
<path d="M405.6 146.2H478.3" stroke="#ffa500" stroke-width="1.39" stroke-linecap="square"/>
<rect x="398.5" y="166.9" width="87.7" height="14.6" fill="#000"/>
<rect x="401.3" y="169.6" width="82.1" height="9.1" fill="#ffa500"/>
<text x="492.6" y="152.2" font-size="19.4" textLength="135.03" lengthAdjust="spacingAndGlyphs">ENS Members</text>
<text x="492.64" y="180.8" font-size="19.4" textLength="97.72" lengthAdjust="spacingAndGlyphs">ENS Mean</text>
<rect x="1090.5" y="124.5" width="525" height="75" fill="#fff" fill-opacity="0.8" stroke="#000" stroke-opacity="0.9" stroke-width="1.1"/>
<path d="M1104.4 146.2H1177.1" stroke="#0000ff" stroke-width="1.39" stroke-linecap="square"/>
<rect x="1097.3" y="166.9" width="87.7" height="14.6" fill="#000"/>
<rect x="1100.1" y="169.6" width="82.1" height="9.1" fill="#0000ff"/>
<text x="1192.07" y="152.2" font-size="19.4" textLength="146.52" lengthAdjust="spacingAndGlyphs">GEFS Members</text>
<text x="1192.1" y="180.8" font-size="19.4" textLength="109.22" lengthAdjust="spacingAndGlyphs">GEFS Mean</text>
<path d="M1378.9 146.2H1451.6" stroke="#bf00bf" stroke-width="1.39" stroke-linecap="square"/>
<rect x="1371.8" y="166.9" width="87.7" height="14.6" fill="#000"/>
<rect x="1374.6" y="169.6" width="82.1" height="9.1" fill="#bf00bf"/>
<text x="1465.9" y="152.2" font-size="19.4" textLength="135.03" lengthAdjust="spacingAndGlyphs">ENS Members</text>
<text x="1465.94" y="180.8" font-size="19.4" textLength="97.72" lengthAdjust="spacingAndGlyphs">ENS Mean</text>
<rect x="117.5" y="750.5" width="442" height="75" fill="#fff" fill-opacity="0.8" stroke="#000" stroke-opacity="0.9" stroke-width="1.1"/>
<path d="M131.1 772H169.6" stroke="#ff0000" stroke-width="3.7"/>
<rect x="147" y="791.1" width="7.9" height="18.6" fill="#000"/>
<path d="M315.3 759V786" stroke="#ff0000" stroke-width="3.1"/>
<path d="M292 801.6H338" stroke="#add8e6" stroke-width="7"/>
<text x="184.94" y="779.2" font-size="19.4" textLength="70.3" lengthAdjust="spacingAndGlyphs">Median</text>
<text x="184.89" y="807.7" font-size="19.4" textLength="34.79" lengthAdjust="spacingAndGlyphs">IQR</text>
<text x="349.82" y="779.2" font-size="19.4" textLength="194.99" lengthAdjust="spacingAndGlyphs">5th/95th Percentiles</text>
<text x="348.9" y="807.7" font-size="19.4" textLength="73.26" lengthAdjust="spacingAndGlyphs">Density</text>
<rect x="1090.5" y="750.5" width="442" height="75" fill="#fff" fill-opacity="0.8" stroke="#000" stroke-opacity="0.9" stroke-width="1.1"/>
<path d="M1104.4 772H1142.9" stroke="#ff0000" stroke-width="3.7"/>
<rect x="1120.3" y="791.1" width="7.9" height="18.6" fill="#000"/>
<path d="M1288.6 759V786" stroke="#ff0000" stroke-width="3.1"/>
<path d="M1265.3 801.6H1311.3" stroke="#add8e6" stroke-width="7"/>
<text x="1158.24" y="779.2" font-size="19.4" textLength="70.3" lengthAdjust="spacingAndGlyphs">Median</text>
<text x="1158.19" y="807.7" font-size="19.4" textLength="34.79" lengthAdjust="spacingAndGlyphs">IQR</text>
<text x="1323.12" y="779.2" font-size="19.4" textLength="194.99" lengthAdjust="spacingAndGlyphs">5th/95th Percentiles</text>
<text x="1322.2" y="807.7" font-size="19.4" textLength="73.26" lengthAdjust="spacingAndGlyphs">Density</text>
<rect x="117.5" y="1376.5" width="442" height="75" fill="#fff" fill-opacity="0.8" stroke="#000" stroke-opacity="0.9" stroke-width="1.1"/>
<path d="M131.1 1398H169.6" stroke="#ff0000" stroke-width="3.7"/>
<rect x="147" y="1417.1" width="7.9" height="18.6" fill="#000"/>
<path d="M315.3 1385V1412" stroke="#ff0000" stroke-width="3.1"/>
<path d="M292 1427.6H338" stroke="#add8e6" stroke-width="7"/>
<text x="184.94" y="1405.2" font-size="19.4" textLength="70.3" lengthAdjust="spacingAndGlyphs">Median</text>
<text x="184.89" y="1433.7" font-size="19.4" textLength="34.79" lengthAdjust="spacingAndGlyphs">IQR</text>
<text x="349.82" y="1405.2" font-size="19.4" textLength="194.99" lengthAdjust="spacingAndGlyphs">5th/95th Percentiles</text>
<text x="348.9" y="1433.7" font-size="19.4" textLength="73.26" lengthAdjust="spacingAndGlyphs">Density</text>
<rect x="1090.5" y="1376.5" width="442" height="75" fill="#fff" fill-opacity="0.8" stroke="#000" stroke-opacity="0.9" stroke-width="1.1"/>
<path d="M1104.4 1398H1142.9" stroke="#ff0000" stroke-width="3.7"/>
<rect x="1120.3" y="1417.1" width="7.9" height="18.6" fill="#000"/>
<path d="M1288.6 1385V1412" stroke="#ff0000" stroke-width="3.1"/>
<path d="M1265.3 1427.6H1311.3" stroke="#add8e6" stroke-width="7"/>
<text x="1158.24" y="1405.2" font-size="19.4" textLength="70.3" lengthAdjust="spacingAndGlyphs">Median</text>
<text x="1158.19" y="1433.7" font-size="19.4" textLength="34.79" lengthAdjust="spacingAndGlyphs">IQR</text>
<text x="1323.12" y="1405.2" font-size="19.4" textLength="194.99" lengthAdjust="spacingAndGlyphs">5th/95th Percentiles</text>
<text x="1322.2" y="1433.7" font-size="19.4" textLength="73.26" lengthAdjust="spacingAndGlyphs">Density</text>
</svg>
</body></html>
